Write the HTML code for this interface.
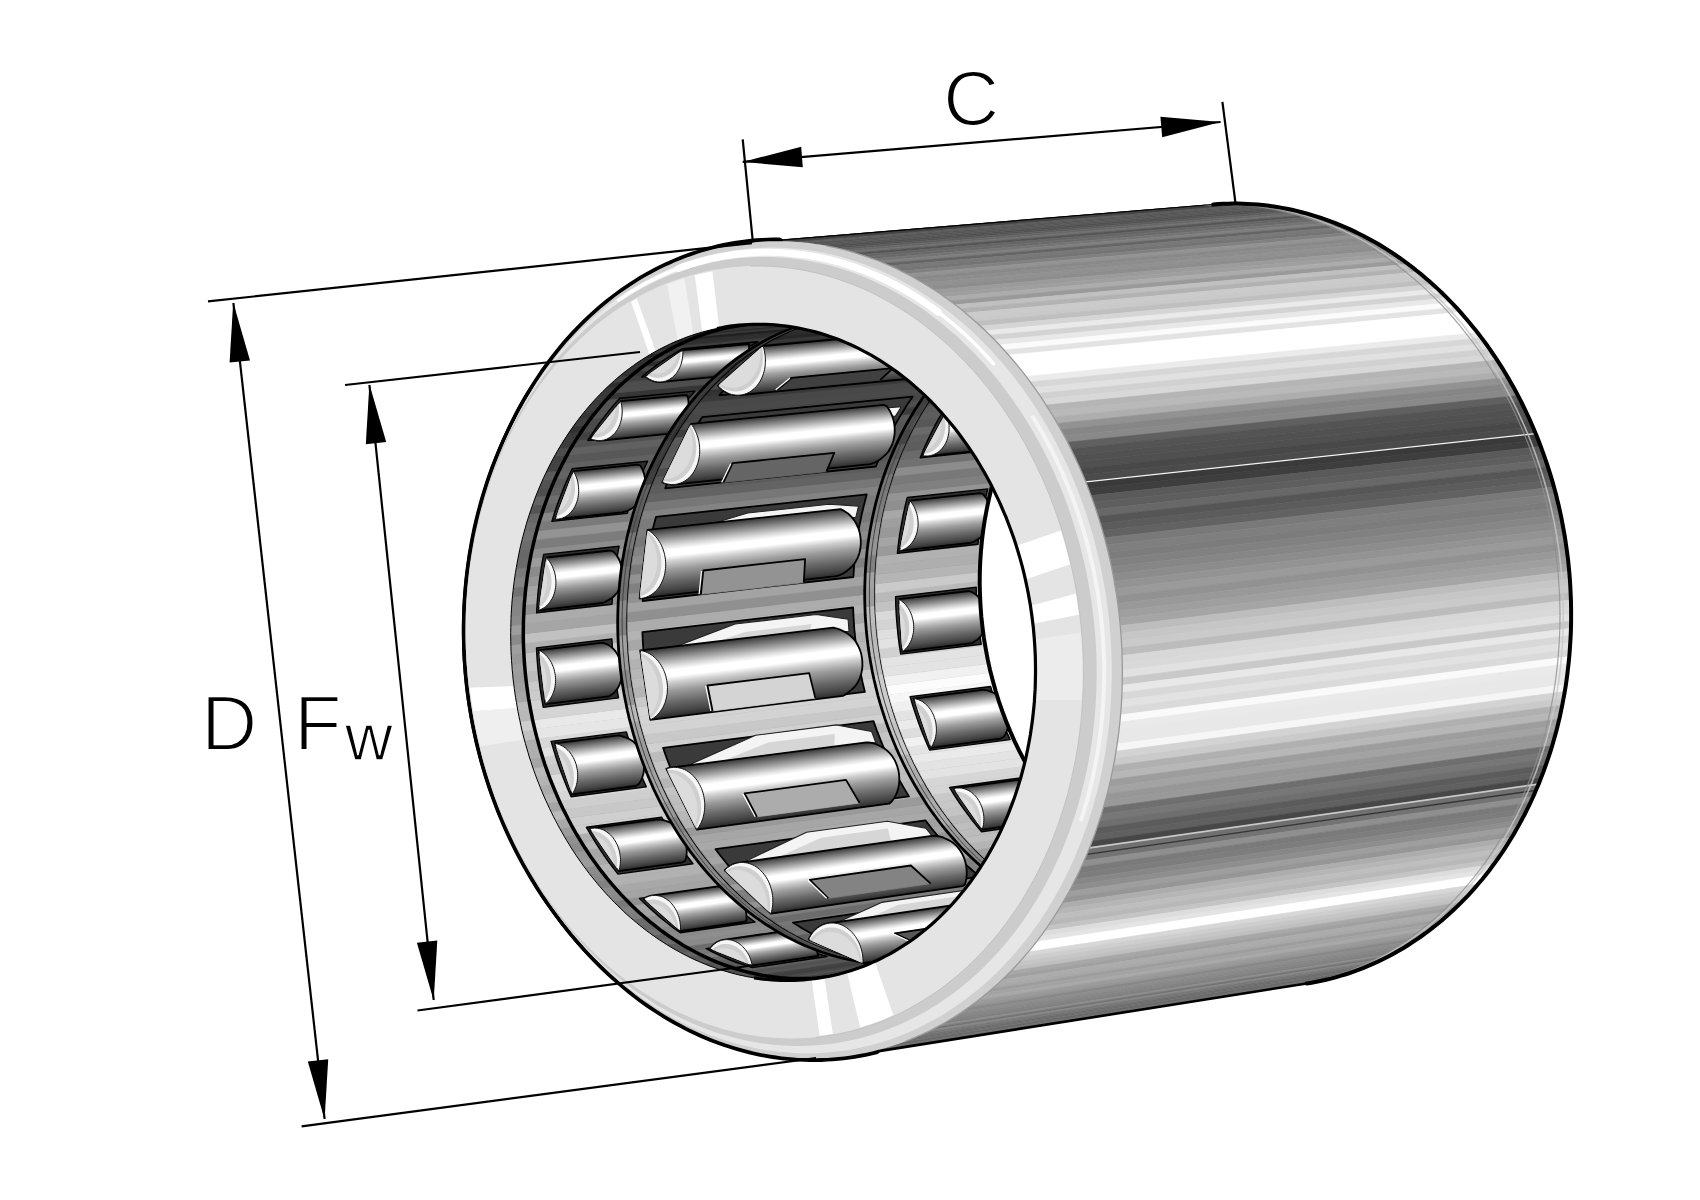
<!DOCTYPE html>
<html><head><meta charset="utf-8"><title>Drawn cup roller clutch</title>
<style>html,body{margin:0;padding:0;background:#fff}svg{display:block}
.t{font-family:"Liberation Sans",sans-serif;font-size:78px;fill:#000;stroke:#fff;stroke-width:2.2px}</style></head>
<body><svg width="1700" height="1200" viewBox="0 0 1700 1200">
<rect width="1700" height="1200" fill="#fff"/>
<g id="body"><path d="M756.1 242.1 L1213.2 204.5 L1218.9 204.1 L762.0 241.6Z" fill="#4f4f4f" stroke="#4f4f4f" stroke-width="0.7"/><path d="M762.0 241.6 L1218.9 204.1 L1224.7 203.8 L767.8 241.4Z" fill="#404040" stroke="#404040" stroke-width="0.7"/><path d="M767.8 241.4 L1224.7 203.8 L1230.4 203.6 L773.7 241.2Z" fill="#474747" stroke="#474747" stroke-width="0.7"/><path d="M773.7 241.2 L1230.4 203.6 L1236.2 203.6 L779.5 241.2Z" fill="#505050" stroke="#505050" stroke-width="0.7"/><path d="M779.5 241.2 L1236.2 203.6 L1241.9 203.7 L785.4 241.3Z" fill="#414141" stroke="#414141" stroke-width="0.7"/><path d="M785.4 241.3 L1241.9 203.7 L1247.7 203.9 L791.3 241.6Z" fill="#414141" stroke="#414141" stroke-width="0.7"/><path d="M791.3 241.6 L1247.7 203.9 L1253.5 204.3 L797.1 241.9Z" fill="#424242" stroke="#424242" stroke-width="0.7"/><path d="M797.1 241.9 L1253.5 204.3 L1259.2 204.7 L803.0 242.4Z" fill="#5b5b5b" stroke="#5b5b5b" stroke-width="0.7"/><path d="M803.0 242.4 L1259.2 204.7 L1265.0 205.3 L808.9 243.1Z" fill="#5c5c5c" stroke="#5c5c5c" stroke-width="0.7"/><path d="M808.9 243.1 L1265.0 205.3 L1270.8 206.1 L814.8 243.9Z" fill="#555555" stroke="#555555" stroke-width="0.7"/><path d="M814.8 243.9 L1270.8 206.1 L1276.5 206.9 L820.7 244.8Z" fill="#575757" stroke="#575757" stroke-width="0.7"/><path d="M820.7 244.8 L1276.5 206.9 L1282.3 207.9 L826.5 245.8Z" fill="#585858" stroke="#585858" stroke-width="0.7"/><path d="M826.5 245.8 L1282.3 207.9 L1288.0 209.0 L832.4 247.0Z" fill="#515151" stroke="#515151" stroke-width="0.7"/><path d="M832.4 247.0 L1288.0 209.0 L1293.7 210.2 L838.2 248.3Z" fill="#535353" stroke="#535353" stroke-width="0.7"/><path d="M838.2 248.3 L1293.7 210.2 L1299.5 211.6 L844.1 249.7Z" fill="#5d5d5d" stroke="#5d5d5d" stroke-width="0.7"/><path d="M844.1 249.7 L1299.5 211.6 L1305.2 213.1 L849.9 251.2Z" fill="#676767" stroke="#676767" stroke-width="0.7"/><path d="M849.9 251.2 L1305.2 213.1 L1310.9 214.7 L855.7 252.9Z" fill="#707070" stroke="#707070" stroke-width="0.7"/><path d="M855.7 252.9 L1310.9 214.7 L1316.5 216.4 L861.5 254.8Z" fill="#545454" stroke="#545454" stroke-width="0.7"/><path d="M861.5 254.8 L1316.5 216.4 L1322.2 218.3 L867.2 256.7Z" fill="#666666" stroke="#666666" stroke-width="0.7"/><path d="M867.2 256.7 L1322.2 218.3 L1327.8 220.3 L873.0 258.8Z" fill="#6a6a6a" stroke="#6a6a6a" stroke-width="0.7"/><path d="M873.0 258.8 L1327.8 220.3 L1333.4 222.4 L878.7 261.0Z" fill="#757575" stroke="#757575" stroke-width="0.7"/><path d="M878.7 261.0 L1333.4 222.4 L1339.0 224.6 L884.4 263.3Z" fill="#7f7f7f" stroke="#7f7f7f" stroke-width="0.7"/><path d="M884.4 263.3 L1339.0 224.6 L1344.5 226.9 L890.1 265.8Z" fill="#656565" stroke="#656565" stroke-width="0.7"/><path d="M890.1 265.8 L1344.5 226.9 L1350.1 229.4 L895.7 268.4Z" fill="#797979" stroke="#797979" stroke-width="0.7"/><path d="M895.7 268.4 L1350.1 229.4 L1355.5 232.0 L901.3 271.1Z" fill="#747474" stroke="#747474" stroke-width="0.7"/><path d="M901.3 271.1 L1355.5 232.0 L1361.0 234.7 L906.9 273.9Z" fill="#818181" stroke="#818181" stroke-width="0.7"/><path d="M906.9 273.9 L1361.0 234.7 L1366.4 237.5 L912.4 276.9Z" fill="#939393" stroke="#939393" stroke-width="0.7"/><path d="M912.4 276.9 L1366.4 237.5 L1371.8 240.4 L917.9 279.9Z" fill="#898989" stroke="#898989" stroke-width="0.7"/><path d="M917.9 279.9 L1371.8 240.4 L1377.2 243.5 L923.4 283.1Z" fill="#8d8d8d" stroke="#8d8d8d" stroke-width="0.7"/><path d="M923.4 283.1 L1377.2 243.5 L1382.5 246.7 L928.8 286.5Z" fill="#919191" stroke="#919191" stroke-width="0.7"/><path d="M928.8 286.5 L1382.5 246.7 L1387.7 250.0 L934.2 289.9Z" fill="#8d8d8d" stroke="#8d8d8d" stroke-width="0.7"/><path d="M934.2 289.9 L1387.7 250.0 L1393.0 253.4 L939.6 293.5Z" fill="#9b9b9b" stroke="#9b9b9b" stroke-width="0.7"/><path d="M939.6 293.5 L1393.0 253.4 L1398.1 256.9 L944.8 297.1Z" fill="#9f9f9f" stroke="#9f9f9f" stroke-width="0.7"/><path d="M944.8 297.1 L1398.1 256.9 L1403.3 260.5 L950.1 300.9Z" fill="#acacac" stroke="#acacac" stroke-width="0.7"/><path d="M950.1 300.9 L1403.3 260.5 L1408.4 264.2 L955.3 304.8Z" fill="#9a9a9a" stroke="#9a9a9a" stroke-width="0.7"/><path d="M955.3 304.8 L1408.4 264.2 L1413.4 268.1 L960.4 308.9Z" fill="#c0c0c0" stroke="#c0c0c0" stroke-width="0.7"/><path d="M960.4 308.9 L1413.4 268.1 L1418.4 272.0 L965.5 313.0Z" fill="#b2b2b2" stroke="#b2b2b2" stroke-width="0.7"/><path d="M965.5 313.0 L1418.4 272.0 L1423.3 276.1 L970.6 317.3Z" fill="#cbcbcb" stroke="#cbcbcb" stroke-width="0.7"/><path d="M970.6 317.3 L1423.3 276.1 L1428.2 280.3 L975.5 321.6Z" fill="#c9c9c9" stroke="#c9c9c9" stroke-width="0.7"/><path d="M975.5 321.6 L1428.2 280.3 L1433.0 284.5 L980.5 326.1Z" fill="#bfbfbf" stroke="#bfbfbf" stroke-width="0.7"/><path d="M980.5 326.1 L1433.0 284.5 L1437.7 288.9 L985.3 330.7Z" fill="#d5d5d5" stroke="#d5d5d5" stroke-width="0.7"/><path d="M985.3 330.7 L1437.7 288.9 L1442.4 293.4 L990.1 335.3Z" fill="#eaeaea" stroke="#eaeaea" stroke-width="0.7"/><path d="M990.1 335.3 L1442.4 293.4 L1447.0 298.0 L994.9 340.1Z" fill="#d3d3d3" stroke="#d3d3d3" stroke-width="0.7"/><path d="M994.9 340.1 L1447.0 298.0 L1451.6 302.6 L999.5 345.0Z" fill="#e8e8e8" stroke="#e8e8e8" stroke-width="0.7"/><path d="M999.5 345.0 L1451.6 302.6 L1456.1 307.4 L1004.1 350.0Z" fill="#fbfbfb" stroke="#fbfbfb" stroke-width="0.7"/><path d="M1004.1 350.0 L1456.1 307.4 L1460.5 312.3 L1008.7 355.1Z" fill="#e3e3e3" stroke="#e3e3e3" stroke-width="0.7"/><path d="M1008.7 355.1 L1460.5 312.3 L1464.9 317.2 L1013.1 360.3Z" fill="#ffffff" stroke="#ffffff" stroke-width="0.7"/><path d="M1013.1 360.3 L1464.9 317.2 L1469.2 322.3 L1017.5 365.6Z" fill="#ffffff" stroke="#ffffff" stroke-width="0.7"/><path d="M1017.5 365.6 L1469.2 322.3 L1473.4 327.4 L1021.9 371.0Z" fill="#ffffff" stroke="#ffffff" stroke-width="0.7"/><path d="M1021.9 371.0 L1473.4 327.4 L1477.6 332.7 L1026.1 376.4Z" fill="#ffffff" stroke="#ffffff" stroke-width="0.7"/><path d="M1026.1 376.4 L1477.6 332.7 L1481.7 338.0 L1030.3 382.0Z" fill="#ebebeb" stroke="#ebebeb" stroke-width="0.7"/><path d="M1030.3 382.0 L1481.7 338.0 L1485.7 343.4 L1034.4 387.7Z" fill="#d7d7d7" stroke="#d7d7d7" stroke-width="0.7"/><path d="M1034.4 387.7 L1485.7 343.4 L1489.6 348.9 L1038.4 393.4Z" fill="#e1e1e1" stroke="#e1e1e1" stroke-width="0.7"/><path d="M1038.4 393.4 L1489.6 348.9 L1493.4 354.5 L1042.3 399.2Z" fill="#d1d1d1" stroke="#d1d1d1" stroke-width="0.7"/><path d="M1042.3 399.2 L1493.4 354.5 L1497.2 360.1 L1046.2 405.1Z" fill="#d8d8d8" stroke="#d8d8d8" stroke-width="0.7"/><path d="M1046.2 405.1 L1497.2 360.1 L1500.9 365.9 L1050.0 411.1Z" fill="#b5b5b5" stroke="#b5b5b5" stroke-width="0.7"/><path d="M1050.0 411.1 L1500.9 365.9 L1504.5 371.7 L1053.7 417.2Z" fill="#b9b9b9" stroke="#b9b9b9" stroke-width="0.7"/><path d="M1053.7 417.2 L1504.5 371.7 L1508.0 377.6 L1057.3 423.4Z" fill="#aeaeae" stroke="#aeaeae" stroke-width="0.7"/><path d="M1057.3 423.4 L1508.0 377.6 L1511.4 383.5 L1060.8 429.6Z" fill="#929292" stroke="#929292" stroke-width="0.7"/><path d="M1060.8 429.6 L1511.4 383.5 L1514.8 389.5 L1064.2 435.9Z" fill="#868686" stroke="#868686" stroke-width="0.7"/><path d="M1064.2 435.9 L1514.8 389.5 L1518.0 395.6 L1067.6 442.3Z" fill="#898989" stroke="#898989" stroke-width="0.7"/><path d="M1067.6 442.3 L1518.0 395.6 L1521.2 401.8 L1070.8 448.7Z" fill="#606060" stroke="#606060" stroke-width="0.7"/><path d="M1070.8 448.7 L1521.2 401.8 L1524.3 408.0 L1074.0 455.2Z" fill="#545454" stroke="#545454" stroke-width="0.7"/><path d="M1074.0 455.2 L1524.3 408.0 L1527.3 414.3 L1077.1 461.8Z" fill="#515151" stroke="#515151" stroke-width="0.7"/><path d="M1077.1 461.8 L1527.3 414.3 L1530.2 420.7 L1080.0 468.4Z" fill="#505050" stroke="#505050" stroke-width="0.7"/><path d="M1080.0 468.4 L1530.2 420.7 L1533.0 427.1 L1082.9 475.1Z" fill="#484848" stroke="#484848" stroke-width="0.7"/><path d="M1082.9 475.1 L1533.0 427.1 L1535.7 433.6 L1085.7 481.9Z" fill="#4b4b4b" stroke="#4b4b4b" stroke-width="0.7"/><path d="M1085.7 481.9 L1535.7 433.6 L1538.3 440.1 L1088.4 488.7Z" fill="#3a3a3a" stroke="#3a3a3a" stroke-width="0.7"/><path d="M1088.4 488.7 L1538.3 440.1 L1540.9 446.6 L1091.0 495.6Z" fill="#3e3e3e" stroke="#3e3e3e" stroke-width="0.7"/><path d="M1091.0 495.6 L1540.9 446.6 L1543.3 453.3 L1093.5 502.5Z" fill="#5a5a5a" stroke="#5a5a5a" stroke-width="0.7"/><path d="M1093.5 502.5 L1543.3 453.3 L1545.6 459.9 L1095.9 509.5Z" fill="#5e5e5e" stroke="#5e5e5e" stroke-width="0.7"/><path d="M1095.9 509.5 L1545.6 459.9 L1547.9 466.7 L1098.2 516.5Z" fill="#686868" stroke="#686868" stroke-width="0.7"/><path d="M1098.2 516.5 L1547.9 466.7 L1550.0 473.4 L1100.4 523.5Z" fill="#565656" stroke="#565656" stroke-width="0.7"/><path d="M1100.4 523.5 L1550.0 473.4 L1552.0 480.2 L1102.5 530.6Z" fill="#5c5c5c" stroke="#5c5c5c" stroke-width="0.7"/><path d="M1102.5 530.6 L1552.0 480.2 L1554.0 487.1 L1104.5 537.8Z" fill="#626262" stroke="#626262" stroke-width="0.7"/><path d="M1104.5 537.8 L1554.0 487.1 L1555.8 493.9 L1106.4 545.0Z" fill="#797979" stroke="#797979" stroke-width="0.7"/><path d="M1106.4 545.0 L1555.8 493.9 L1557.5 500.8 L1108.2 552.2Z" fill="#7f7f7f" stroke="#7f7f7f" stroke-width="0.7"/><path d="M1108.2 552.2 L1557.5 500.8 L1559.2 507.8 L1109.9 559.4Z" fill="#7c7c7c" stroke="#7c7c7c" stroke-width="0.7"/><path d="M1109.9 559.4 L1559.2 507.8 L1560.7 514.8 L1111.4 566.7Z" fill="#818181" stroke="#818181" stroke-width="0.7"/><path d="M1111.4 566.7 L1560.7 514.8 L1562.1 521.7 L1112.9 574.0Z" fill="#868686" stroke="#868686" stroke-width="0.7"/><path d="M1112.9 574.0 L1562.1 521.7 L1563.5 528.8 L1114.3 581.4Z" fill="#8c8c8c" stroke="#8c8c8c" stroke-width="0.7"/><path d="M1114.3 581.4 L1563.5 528.8 L1564.7 535.8 L1115.6 588.7Z" fill="#939393" stroke="#939393" stroke-width="0.7"/><path d="M1115.6 588.7 L1564.7 535.8 L1565.8 542.9 L1116.7 596.1Z" fill="#9a9a9a" stroke="#9a9a9a" stroke-width="0.7"/><path d="M1116.7 596.1 L1565.8 542.9 L1566.8 550.0 L1117.8 603.5Z" fill="#929292" stroke="#929292" stroke-width="0.7"/><path d="M1117.8 603.5 L1566.8 550.0 L1567.7 557.1 L1118.7 610.9Z" fill="#999999" stroke="#999999" stroke-width="0.7"/><path d="M1118.7 610.9 L1567.7 557.1 L1568.5 564.2 L1119.5 618.3Z" fill="#9f9f9f" stroke="#9f9f9f" stroke-width="0.7"/><path d="M1119.5 618.3 L1568.5 564.2 L1569.2 571.3 L1120.3 625.8Z" fill="#a5a5a5" stroke="#a5a5a5" stroke-width="0.7"/><path d="M1120.3 625.8 L1569.2 571.3 L1569.8 578.4 L1120.9 633.2Z" fill="#bdbdbd" stroke="#bdbdbd" stroke-width="0.7"/><path d="M1120.9 633.2 L1569.8 578.4 L1570.3 585.5 L1121.4 640.7Z" fill="#c6c6c6" stroke="#c6c6c6" stroke-width="0.7"/><path d="M1121.4 640.7 L1570.3 585.5 L1570.6 592.7 L1121.8 648.1Z" fill="#cacaca" stroke="#cacaca" stroke-width="0.7"/><path d="M1121.8 648.1 L1570.6 592.7 L1570.9 599.8 L1122.1 655.6Z" fill="#bcbcbc" stroke="#bcbcbc" stroke-width="0.7"/><path d="M1122.1 655.6 L1570.9 599.8 L1571.1 606.9 L1122.3 663.0Z" fill="#d7d7d7" stroke="#d7d7d7" stroke-width="0.7"/><path d="M1122.3 663.0 L1571.1 606.9 L1571.1 614.1 L1122.4 670.4Z" fill="#d9d9d9" stroke="#d9d9d9" stroke-width="0.7"/><path d="M1122.4 670.4 L1571.1 614.1 L1571.1 621.2 L1122.3 677.9Z" fill="#e1e1e1" stroke="#e1e1e1" stroke-width="0.7"/><path d="M1122.3 677.9 L1571.1 621.2 L1570.9 628.3 L1122.2 685.3Z" fill="#c9c9c9" stroke="#c9c9c9" stroke-width="0.7"/><path d="M1122.2 685.3 L1570.9 628.3 L1570.7 635.4 L1121.9 692.7Z" fill="#e8e8e8" stroke="#e8e8e8" stroke-width="0.7"/><path d="M1121.9 692.7 L1570.7 635.4 L1570.3 642.5 L1121.6 700.1Z" fill="#d8d8d8" stroke="#d8d8d8" stroke-width="0.7"/><path d="M1121.6 700.1 L1570.3 642.5 L1569.8 649.6 L1121.1 707.5Z" fill="#e2e2e2" stroke="#e2e2e2" stroke-width="0.7"/><path d="M1121.1 707.5 L1569.8 649.6 L1569.2 656.6 L1120.5 714.9Z" fill="#dadada" stroke="#dadada" stroke-width="0.7"/><path d="M1120.5 714.9 L1569.2 656.6 L1568.6 663.7 L1119.9 722.2Z" fill="#fafafa" stroke="#fafafa" stroke-width="0.7"/><path d="M1119.9 722.2 L1568.6 663.7 L1567.8 670.7 L1119.1 729.5Z" fill="#eaeaea" stroke="#eaeaea" stroke-width="0.7"/><path d="M1119.1 729.5 L1567.8 670.7 L1566.9 677.7 L1118.2 736.8Z" fill="#e8e8e8" stroke="#e8e8e8" stroke-width="0.7"/><path d="M1118.2 736.8 L1566.9 677.7 L1565.9 684.6 L1117.2 744.1Z" fill="#e8e8e8" stroke="#e8e8e8" stroke-width="0.7"/><path d="M1117.2 744.1 L1565.9 684.6 L1564.8 691.5 L1116.1 751.3Z" fill="#f6f6f6" stroke="#f6f6f6" stroke-width="0.7"/><path d="M1116.1 751.3 L1564.8 691.5 L1563.5 698.4 L1114.8 758.5Z" fill="#d3d3d3" stroke="#d3d3d3" stroke-width="0.7"/><path d="M1114.8 758.5 L1563.5 698.4 L1562.2 705.3 L1113.5 765.7Z" fill="#cacaca" stroke="#cacaca" stroke-width="0.7"/><path d="M1113.5 765.7 L1562.2 705.3 L1560.8 712.1 L1112.1 772.8Z" fill="#b0b0b0" stroke="#b0b0b0" stroke-width="0.7"/><path d="M1112.1 772.8 L1560.8 712.1 L1559.3 718.9 L1110.6 779.8Z" fill="#b7b7b7" stroke="#b7b7b7" stroke-width="0.7"/><path d="M1110.6 779.8 L1559.3 718.9 L1557.7 725.6 L1108.9 786.9Z" fill="#9d9d9d" stroke="#9d9d9d" stroke-width="0.7"/><path d="M1108.9 786.9 L1557.7 725.6 L1555.9 732.3 L1107.2 793.9Z" fill="#a3a3a3" stroke="#a3a3a3" stroke-width="0.7"/><path d="M1107.2 793.9 L1555.9 732.3 L1554.1 739.0 L1105.3 800.8Z" fill="#979797" stroke="#979797" stroke-width="0.7"/><path d="M1105.3 800.8 L1554.1 739.0 L1552.2 745.6 L1103.4 807.7Z" fill="#999999" stroke="#999999" stroke-width="0.7"/><path d="M1103.4 807.7 L1552.2 745.6 L1550.2 752.1 L1101.3 814.5Z" fill="#6f6f6f" stroke="#6f6f6f" stroke-width="0.7"/><path d="M1101.3 814.5 L1550.2 752.1 L1548.0 758.6 L1099.2 821.3Z" fill="#777777" stroke="#777777" stroke-width="0.7"/><path d="M1099.2 821.3 L1548.0 758.6 L1545.8 765.1 L1096.9 828.0Z" fill="#6f6f6f" stroke="#6f6f6f" stroke-width="0.7"/><path d="M1096.9 828.0 L1545.8 765.1 L1543.5 771.5 L1094.6 834.7Z" fill="#5c5c5c" stroke="#5c5c5c" stroke-width="0.7"/><path d="M1094.6 834.7 L1543.5 771.5 L1541.1 777.8 L1092.1 841.3Z" fill="#606060" stroke="#606060" stroke-width="0.7"/><path d="M1092.1 841.3 L1541.1 777.8 L1538.6 784.1 L1089.6 847.8Z" fill="#474747" stroke="#474747" stroke-width="0.7"/><path d="M1089.6 847.8 L1538.6 784.1 L1536.0 790.3 L1086.9 854.3Z" fill="#707070" stroke="#707070" stroke-width="0.7"/><path d="M1086.9 854.3 L1536.0 790.3 L1533.3 796.4 L1084.2 860.7Z" fill="#737373" stroke="#737373" stroke-width="0.7"/><path d="M1084.2 860.7 L1533.3 796.4 L1530.5 802.5 L1081.4 867.0Z" fill="#8f8f8f" stroke="#8f8f8f" stroke-width="0.7"/><path d="M1081.4 867.0 L1530.5 802.5 L1527.6 808.5 L1078.4 873.2Z" fill="#7a7a7a" stroke="#7a7a7a" stroke-width="0.7"/><path d="M1078.4 873.2 L1527.6 808.5 L1524.6 814.4 L1075.4 879.4Z" fill="#7d7d7d" stroke="#7d7d7d" stroke-width="0.7"/><path d="M1075.4 879.4 L1524.6 814.4 L1521.5 820.3 L1072.3 885.5Z" fill="#878787" stroke="#878787" stroke-width="0.7"/><path d="M1072.3 885.5 L1521.5 820.3 L1518.4 826.0 L1069.1 891.5Z" fill="#8e8e8e" stroke="#8e8e8e" stroke-width="0.7"/><path d="M1069.1 891.5 L1518.4 826.0 L1515.1 831.7 L1065.8 897.5Z" fill="#9e9e9e" stroke="#9e9e9e" stroke-width="0.7"/><path d="M1065.8 897.5 L1515.1 831.7 L1511.8 837.4 L1062.4 903.3Z" fill="#969696" stroke="#969696" stroke-width="0.7"/><path d="M1062.4 903.3 L1511.8 837.4 L1508.4 842.9 L1059.0 909.1Z" fill="#adadad" stroke="#adadad" stroke-width="0.7"/><path d="M1059.0 909.1 L1508.4 842.9 L1504.9 848.4 L1055.4 914.8Z" fill="#b6b6b6" stroke="#b6b6b6" stroke-width="0.7"/><path d="M1055.4 914.8 L1504.9 848.4 L1501.3 853.7 L1051.8 920.4Z" fill="#bebebe" stroke="#bebebe" stroke-width="0.7"/><path d="M1051.8 920.4 L1501.3 853.7 L1497.6 859.0 L1048.0 925.9Z" fill="#b8b8b8" stroke="#b8b8b8" stroke-width="0.7"/><path d="M1048.0 925.9 L1497.6 859.0 L1493.9 864.2 L1044.2 931.3Z" fill="#c4c4c4" stroke="#c4c4c4" stroke-width="0.7"/><path d="M1044.2 931.3 L1493.9 864.2 L1490.1 869.3 L1040.3 936.6Z" fill="#dddddd" stroke="#dddddd" stroke-width="0.7"/><path d="M1040.3 936.6 L1490.1 869.3 L1486.2 874.4 L1036.4 941.9Z" fill="#e4e4e4" stroke="#e4e4e4" stroke-width="0.7"/><path d="M1036.4 941.9 L1486.2 874.4 L1482.2 879.3 L1032.3 947.0Z" fill="#ffffff" stroke="#ffffff" stroke-width="0.7"/><path d="M1032.3 947.0 L1482.2 879.3 L1478.1 884.1 L1028.2 952.0Z" fill="#ffffff" stroke="#ffffff" stroke-width="0.7"/><path d="M1028.2 952.0 L1478.1 884.1 L1474.0 888.8 L1024.0 956.9Z" fill="#d7d7d7" stroke="#d7d7d7" stroke-width="0.7"/><path d="M1024.0 956.9 L1474.0 888.8 L1469.8 893.5 L1019.7 961.8Z" fill="#cecece" stroke="#cecece" stroke-width="0.7"/><path d="M1019.7 961.8 L1469.8 893.5 L1465.6 898.0 L1015.4 966.5Z" fill="#c6c6c6" stroke="#c6c6c6" stroke-width="0.7"/><path d="M1015.4 966.5 L1465.6 898.0 L1461.2 902.5 L1011.0 971.1Z" fill="#bfbfbf" stroke="#bfbfbf" stroke-width="0.7"/><path d="M1011.0 971.1 L1461.2 902.5 L1456.8 906.8 L1006.5 975.6Z" fill="#a7a7a7" stroke="#a7a7a7" stroke-width="0.7"/><path d="M1006.5 975.6 L1456.8 906.8 L1452.3 911.0 L1001.9 980.0Z" fill="#a0a0a0" stroke="#a0a0a0" stroke-width="0.7"/><path d="M1001.9 980.0 L1452.3 911.0 L1447.8 915.2 L997.3 984.3Z" fill="#acacac" stroke="#acacac" stroke-width="0.7"/><path d="M997.3 984.3 L1447.8 915.2 L1443.2 919.2 L992.6 988.5Z" fill="#a9a9a9" stroke="#a9a9a9" stroke-width="0.7"/><path d="M992.6 988.5 L1443.2 919.2 L1438.5 923.1 L987.9 992.6Z" fill="#9d9d9d" stroke="#9d9d9d" stroke-width="0.7"/><path d="M987.9 992.6 L1438.5 923.1 L1433.8 926.9 L983.1 996.5Z" fill="#a3a3a3" stroke="#a3a3a3" stroke-width="0.7"/><path d="M983.1 996.5 L1433.8 926.9 L1429.0 930.6 L978.2 1000.4Z" fill="#a8a8a8" stroke="#a8a8a8" stroke-width="0.7"/><path d="M978.2 1000.4 L1429.0 930.6 L1424.2 934.2 L973.3 1004.1Z" fill="#9b9b9b" stroke="#9b9b9b" stroke-width="0.7"/><path d="M973.3 1004.1 L1424.2 934.2 L1419.3 937.7 L968.3 1007.7Z" fill="#969696" stroke="#969696" stroke-width="0.7"/><path d="M968.3 1007.7 L1419.3 937.7 L1414.3 941.1 L963.3 1011.2Z" fill="#888888" stroke="#888888" stroke-width="0.7"/><path d="M963.3 1011.2 L1414.3 941.1 L1409.3 944.3 L958.2 1014.6Z" fill="#8d8d8d" stroke="#8d8d8d" stroke-width="0.7"/><path d="M958.2 1014.6 L1409.3 944.3 L1404.3 947.5 L953.0 1017.9Z" fill="#888888" stroke="#888888" stroke-width="0.7"/><path d="M953.0 1017.9 L1404.3 947.5 L1399.2 950.5 L947.8 1021.0Z" fill="#848484" stroke="#848484" stroke-width="0.7"/><path d="M947.8 1021.0 L1399.2 950.5 L1394.0 953.4 L942.6 1024.0Z" fill="#808080" stroke="#808080" stroke-width="0.7"/><path d="M942.6 1024.0 L1394.0 953.4 L1388.8 956.2 L937.3 1026.9Z" fill="#8c8c8c" stroke="#8c8c8c" stroke-width="0.7"/><path d="M937.3 1026.9 L1388.8 956.2 L1383.6 958.9 L932.0 1029.7Z" fill="#737373" stroke="#737373" stroke-width="0.7"/><path d="M932.0 1029.7 L1383.6 958.9 L1378.3 961.4 L926.6 1032.3Z" fill="#888888" stroke="#888888" stroke-width="0.7"/><path d="M926.6 1032.3 L1378.3 961.4 L1373.0 963.8 L921.2 1034.8Z" fill="#787878" stroke="#787878" stroke-width="0.7"/><path d="M921.2 1034.8 L1373.0 963.8 L1367.7 966.2 L915.7 1037.2Z" fill="#767676" stroke="#767676" stroke-width="0.7"/><path d="M915.7 1037.2 L1367.7 966.2 L1362.3 968.4 L910.2 1039.5Z" fill="#6c6c6c" stroke="#6c6c6c" stroke-width="0.7"/><path d="M910.2 1039.5 L1362.3 968.4 L1356.8 970.4 L904.7 1041.6Z" fill="#6b6b6b" stroke="#6b6b6b" stroke-width="0.7"/><path d="M904.7 1041.6 L1356.8 970.4 L1351.4 972.4 L899.1 1043.6Z" fill="#727272" stroke="#727272" stroke-width="0.7"/><path d="M899.1 1043.6 L1351.4 972.4 L1345.9 974.2 L893.5 1045.5Z" fill="#616161" stroke="#616161" stroke-width="0.7"/><path d="M893.5 1045.5 L1345.9 974.2 L1340.4 975.9 L887.9 1047.3Z" fill="#707070" stroke="#707070" stroke-width="0.7"/><path d="M887.9 1047.3 L1340.4 975.9 L1334.8 977.5 L882.3 1048.9Z" fill="#707070" stroke="#707070" stroke-width="0.7"/><path d="M882.3 1048.9 L1334.8 977.5 L1329.2 978.9 L876.6 1050.4Z" fill="#707070" stroke="#707070" stroke-width="0.7"/><path d="M876.6 1050.4 L1329.2 978.9 L1323.6 980.3 L870.9 1051.8Z" fill="#606060" stroke="#606060" stroke-width="0.7"/><path d="M870.9 1051.8 L1323.6 980.3 L1318.0 981.5 L865.1 1053.0Z" fill="#707070" stroke="#707070" stroke-width="0.7"/><path d="M865.1 1053.0 L1318.0 981.5 L1312.4 982.6 L859.4 1054.1Z" fill="#787878" stroke="#787878" stroke-width="0.7"/><path d="M859.4 1054.1 L1312.4 982.6 L1306.7 983.5 L853.6 1055.1Z" fill="#707070" stroke="#707070" stroke-width="0.7"/></g>
<path d="M1085.7 481.9 L1535.7 433.6" fill="none" stroke="#f4f4f4" stroke-width="1.2"/>
<path d="M1089.6 847.8 L1538.6 784.1" fill="none" stroke="#c8c8c8" stroke-width="1.8"/>
<path d="M1086.9 854.3 L1536.0 790.3" fill="none" stroke="#333" stroke-width="1.3"/>
<path d="M1205.3 205.1 L1213.4 204.6 L1221.6 204.3 L1229.9 204.3 L1238.1 204.5 L1246.3 205.0 L1254.6 205.7 L1262.8 206.7 L1271.0 208.0 L1279.3 209.5 L1287.4 211.3 L1295.6 213.3 L1303.7 215.6 L1311.8 218.1 L1319.9 220.9 L1327.9 224.0 L1335.8 227.3 L1343.7 230.8 L1351.5 234.6 L1359.3 238.6 L1367.0 242.9 L1374.6 247.4 L1382.1 252.1 L1389.5 257.1 L1396.8 262.3 L1404.1 267.7 L1411.2 273.3 L1418.2 279.2 L1425.1 285.3 L1431.9 291.5 L1438.5 298.0 L1445.0 304.7 L1451.4 311.6 L1457.7 318.7 L1463.8 326.0 L1469.7 333.4 L1475.5 341.1 L1481.2 348.9 L1486.7 356.9 L1492.0 365.0 L1497.1 373.3 L1502.1 381.7 L1506.9 390.3 L1511.6 399.1 L1516.0 408.0 L1520.3 417.0 L1524.4 426.1 L1528.3 435.3 L1532.0 444.7 L1535.5 454.1 L1538.8 463.7 L1541.9 473.3 L1544.8 483.0 L1547.5 492.9 L1550.0 502.7 L1552.2 512.7 L1554.3 522.7 L1556.2 532.7 L1557.8 542.8 L1559.3 552.9 L1560.5 563.1 L1561.5 573.2 L1562.3 583.4 L1562.8 593.6 L1563.2 603.8 L1563.3 614.0 L1563.2 624.2 L1562.9 634.4 L1562.4 644.5 L1561.7 654.6 L1560.7 664.7 L1559.6 674.7 L1558.2 684.7 L1556.6 694.6 L1554.8 704.4 L1552.8 714.1 L1550.6 723.8 L1548.1 733.4 L1545.5 742.9 L1542.6 752.3 L1539.6 761.6 L1536.4 770.8 L1532.9 779.8 L1529.3 788.7 L1525.4 797.5 L1521.4 806.2 L1517.2 814.7 L1512.8 823.0 L1508.3 831.3 L1503.5 839.3 L1498.6 847.2 L1493.5 854.9 L1488.2 862.4 L1482.8 869.8 L1477.2 876.9 L1471.5 883.9 L1465.6 890.7 L1459.6 897.3 L1453.4 903.7 L1447.1 909.8 L1440.6 915.8 L1434.0 921.5 L1427.3 927.1 L1420.5 932.4 L1413.5 937.4 L1406.5 942.3 L1399.3 946.9 L1392.1 951.3 L1384.7 955.4 L1377.2 959.3 L1369.7 963.0 L1362.1 966.4 L1354.4 969.6 L1346.6 972.5 L1338.8 975.2 L1330.9 977.6 L1323.0 979.8 L1315.0 981.7 L1306.9 983.4 L1298.8 984.8" fill="none" stroke="#c8c8c8" stroke-width="1.6" opacity="0.8"/>
<path d="M1201.8 205.4 L1210.0 204.9 L1218.2 204.6 L1226.5 204.5 L1234.7 204.8 L1242.9 205.3 L1251.2 206.0 L1259.4 207.0 L1267.6 208.3 L1275.8 209.8 L1284.0 211.6 L1292.2 213.6 L1300.3 215.9 L1308.4 218.4 L1316.5 221.2 L1324.5 224.3 L1332.4 227.6 L1340.3 231.1 L1348.2 234.9 L1355.9 238.9 L1363.6 243.2 L1371.2 247.7 L1378.7 252.4 L1386.1 257.4 L1393.5 262.6 L1400.7 268.0 L1407.8 273.6 L1414.8 279.5 L1421.7 285.6 L1428.5 291.9 L1435.1 298.4 L1441.7 305.0 L1448.0 311.9 L1454.3 319.0 L1460.4 326.3 L1466.3 333.8 L1472.2 341.4 L1477.8 349.2 L1483.3 357.2 L1488.6 365.3 L1493.8 373.6 L1498.8 382.1 L1503.6 390.7 L1508.2 399.4 L1512.7 408.3 L1516.9 417.3 L1521.0 426.4 L1524.9 435.7 L1528.6 445.0 L1532.1 454.5 L1535.4 464.1 L1538.5 473.7 L1541.4 483.4 L1544.1 493.2 L1546.6 503.1 L1548.9 513.1 L1551.0 523.0 L1552.8 533.1 L1554.5 543.2 L1555.9 553.3 L1557.1 563.5 L1558.1 573.7 L1558.9 583.9 L1559.5 594.1 L1559.8 604.3 L1560.0 614.5 L1559.9 624.6 L1559.6 634.8 L1559.1 645.0 L1558.3 655.1 L1557.4 665.1 L1556.2 675.1 L1554.9 685.1 L1553.3 695.0 L1551.5 704.8 L1549.4 714.6 L1547.2 724.3 L1544.8 733.9 L1542.1 743.4 L1539.3 752.8 L1536.2 762.0 L1533.0 771.2 L1529.6 780.3 L1525.9 789.2 L1522.1 798.0 L1518.1 806.7 L1513.9 815.2 L1509.5 823.5 L1504.9 831.7 L1500.1 839.8 L1495.2 847.7 L1490.1 855.4 L1484.9 862.9 L1479.4 870.3 L1473.9 877.4 L1468.1 884.4 L1462.2 891.2 L1456.2 897.8 L1450.0 904.2 L1443.7 910.4 L1437.2 916.3 L1430.7 922.1 L1423.9 927.6 L1417.1 932.9 L1410.2 938.0 L1403.1 942.8 L1395.9 947.4 L1388.7 951.8 L1381.3 956.0 L1373.9 959.9 L1366.3 963.5 L1358.7 967.0 L1351.0 970.1 L1343.2 973.1 L1335.4 975.7 L1327.5 978.1 L1319.6 980.3 L1311.6 982.2 L1303.5 983.9 L1295.5 985.3" fill="none" stroke="#909090" stroke-width="1.2" opacity="0.8"/>
<path d="M1213.2 204.5 L1218.1 204.1 L1223.0 203.8 L1227.9 203.7 L1232.8 203.6 L1237.7 203.6 L1242.7 203.7 L1247.6 203.9 L1252.5 204.2 L1257.4 204.6 L1262.4 205.1 L1267.3 205.6 L1272.2 206.3 L1277.1 207.0 L1282.0 207.9 L1286.9 208.8 L1291.8 209.8 L1296.7 210.9 L1301.6 212.2 L1306.5 213.4 L1311.3 214.8 L1316.2 216.3 L1321.0 217.9 L1325.8 219.6 L1330.6 221.3 L1335.4 223.1 L1340.2 225.1 L1344.9 227.1 L1349.6 229.2 L1354.3 231.4 L1359.0 233.7 L1363.6 236.0 L1368.2 238.5 L1372.8 241.0 L1377.4 243.6 L1381.9 246.3 L1386.5 249.1 L1390.9 252.0 L1395.4 255.0 L1399.8 258.0 L1404.1 261.1 L1408.5 264.3 L1412.8 267.6 L1417.0 271.0 L1421.3 274.4 L1425.4 277.9 L1429.6 281.5 L1433.7 285.2 L1437.7 288.9 L1441.8 292.8 L1445.7 296.6 L1449.6 300.6 L1453.5 304.6 L1457.3 308.7 L1461.1 312.9 L1464.8 317.2 L1468.5 321.5 L1472.1 325.9 L1475.7 330.3 L1479.2 334.8 L1482.7 339.4 L1486.1 344.0 L1489.4 348.7 L1492.7 353.5 L1496.0 358.3 L1499.1 363.1 L1502.3 368.1 L1505.3 373.1 L1508.3 378.1 L1511.2 383.2 L1514.1 388.3 L1516.9 393.5 L1519.7 398.8 L1522.3 404.0 L1524.9 409.4 L1527.5 414.8 L1530.0 420.2 L1532.4 425.7 L1534.7 431.2 L1537.0 436.7 L1539.2 442.3 L1541.3 447.9 L1543.4 453.6 L1545.4 459.3 L1547.3 465.0 L1549.2 470.8 L1551.0 476.6 L1552.7 482.4 L1554.3 488.3 L1555.9 494.1 L1557.3 500.0 L1558.8 506.0 L1560.1 511.9 L1561.4 517.9 L1562.5 523.9 L1563.6 529.9 L1564.7 535.9 L1565.6 541.9 L1566.5 548.0 L1567.3 554.0 L1568.1 560.1 L1568.7 566.2 L1569.3 572.2 L1569.8 578.3 L1570.2 584.4 L1570.5 590.5 L1570.8 596.6 L1571.0 602.7 L1571.1 608.8 L1571.1 614.9 L1571.1 621.0 L1571.0 627.1 L1570.8 633.1 L1570.5 639.2 L1570.1 645.2 L1569.7 651.3 L1569.2 657.3 L1568.6 663.3 L1567.9 669.3 L1567.2 675.3 L1566.4 681.2 L1565.5 687.2 L1564.5 693.1 L1563.4 699.0 L1562.3 704.8 L1561.1 710.7 L1559.9 716.5 L1558.5 722.2 L1557.1 728.0 L1555.6 733.7 L1554.0 739.4 L1552.4 745.0 L1550.7 750.6 L1548.9 756.2 L1547.0 761.7 L1545.1 767.2 L1543.1 772.6 L1541.0 778.0 L1538.9 783.4 L1536.6 788.7 L1534.4 793.9 L1532.0 799.2 L1529.6 804.3 L1527.1 809.4 L1524.6 814.5 L1521.9 819.5 L1519.3 824.4 L1516.5 829.3 L1513.7 834.2 L1510.8 838.9 L1507.9 843.7 L1504.9 848.3 L1501.9 852.9 L1498.7 857.5 L1495.6 861.9 L1492.3 866.3 L1489.1 870.7 L1485.7 875.0 L1482.3 879.2 L1478.8 883.3 L1475.3 887.4 L1471.8 891.4 L1468.2 895.3 L1464.5 899.1 L1460.8 902.9 L1457.0 906.6 L1453.2 910.2 L1449.3 913.8 L1445.4 917.3 L1441.5 920.7 L1437.5 924.0 L1433.4 927.2 L1429.3 930.4 L1425.2 933.5 L1421.0 936.5 L1416.8 939.4 L1412.6 942.2 L1408.3 945.0 L1404.0 947.7 L1399.6 950.2 L1395.2 952.7 L1390.8 955.2 L1386.3 957.5 L1381.9 959.7 L1377.3 961.9 L1372.8 963.9 L1368.2 965.9 L1363.6 967.8 L1359.0 969.6 L1354.3 971.3 L1349.7 973.0 L1345.0 974.5 L1340.3 975.9 L1335.5 977.3 L1330.8 978.6 L1326.0 979.7 L1321.2 980.8 L1316.4 981.8 L1311.6 982.7 L1306.7 983.5" fill="none" stroke="#000" stroke-width="4" stroke-linecap="round"/>
<path d="M756.1 242.1 L1213.2 204.5" fill="none" stroke="#000" stroke-width="1.2"/>
<path d="M853.6 1055.1 L1306.7 983.5" fill="none" stroke="#000" stroke-width="2.6"/>
<path d="M876.0 1050.6 L870.6 1051.9 L865.2 1053.0 L859.7 1054.1 L854.3 1055.0 L848.8 1055.8 L843.3 1056.5 L837.8 1057.1 L832.3 1057.6 L826.8 1057.9 L821.3 1058.2 L815.8 1058.3 L810.2 1058.3 L804.7 1058.1 L799.2 1057.9 L793.6 1057.6 L788.1 1057.1 L782.6 1056.5 L777.0 1055.8 L771.5 1055.0 L766.0 1054.0 L760.5 1053.0 L755.0 1051.8 L749.6 1050.6 L744.1 1049.2 L738.7 1047.7 L733.2 1046.0 L727.8 1044.3 L722.4 1042.5 L717.1 1040.5 L711.7 1038.5 L706.4 1036.3 L701.1 1034.0 L695.9 1031.6 L690.6 1029.1 L685.4 1026.5 L680.3 1023.8 L675.1 1021.0 L670.0 1018.1 L665.0 1015.0 L660.0 1011.9 L655.0 1008.7 L650.0 1005.4 L645.1 1001.9 L640.3 998.4 L635.5 994.8 L630.7 991.1 L626.0 987.2 L621.3 983.3 L616.7 979.3 L612.1 975.2 L607.6 971.0 L603.1 966.8 L598.7 962.4 L594.4 958.0 L590.1 953.4 L585.8 948.8 L581.7 944.1 L577.5 939.3 L573.5 934.5 L569.5 929.5 L565.6 924.5 L561.7 919.4 L557.9 914.2 L554.2 909.0 L550.5 903.7 L546.9 898.3 L543.4 892.8 L539.9 887.3 L536.6 881.7 L533.3 876.1 L530.0 870.4 L526.9 864.6 L523.8 858.8 L520.8 852.9 L517.8 846.9 L515.0 840.9 L512.2 834.9 L509.5 828.8 L506.9 822.6 L504.4 816.4 L501.9 810.2 L499.5 803.9 L497.2 797.5 L495.0 791.2 L492.9 784.7 L490.9 778.3 L488.9 771.8 L487.1 765.3 L485.3 758.7 L483.6 752.2 L482.0 745.6 L480.4 738.9 L479.0 732.3 L477.7 725.6 L476.4 718.9 L475.2 712.1 L474.2 705.4 L473.2 698.7 L472.3 691.9 L471.4 685.1 L470.7 678.3 L470.1 671.5 L469.5 664.7 L469.1 657.9 L468.7 651.1 L468.5 644.3 L468.3 637.5 L468.2 630.7 L468.2 623.9 L468.3 617.1 L468.5 610.3 L468.8 603.5 L469.1 596.7 L469.6 590.0 L470.1 583.3 L470.8 576.5 L471.5 569.9 L472.3 563.2 L473.2 556.5 L474.2 549.9 L475.3 543.3 L476.5 536.7 L477.7 530.2 L479.1 523.7 L480.5 517.2 L482.1 510.8 L483.7 504.4 L485.4 498.0 L487.2 491.7 L489.1 485.5 L491.0 479.2 L493.1 473.0 L495.2 466.9 L497.4 460.8 L499.7 454.8 L502.1 448.8 L504.6 442.9 L507.1 437.0 L509.8 431.2 L512.5 425.5 L515.3 419.8 L518.1 414.2 L521.1 408.6 L524.1 403.1 L527.2 397.7 L530.4 392.4 L533.6 387.1 L537.0 381.9 L540.4 376.8 L543.8 371.7 L547.4 366.7 L551.0 361.8 L554.7 357.0 L558.4 352.3 L562.2 347.6 L566.1 343.0 L570.1 338.5 L574.1 334.1 L578.2 329.8 L582.3 325.6 L586.5 321.5 L590.8 317.4 L595.1 313.5 L599.5 309.6 L603.9 305.9 L608.4 302.2 L613.0 298.6 L617.6 295.2 L622.2 291.8 L626.9 288.5 L631.7 285.4 L636.5 282.3 L641.3 279.3 L646.2 276.5 L651.1 273.7 L656.1 271.1 L661.1 268.6 L666.2 266.1 L671.3 263.8 L676.4 261.6 L681.6 259.5 L686.8 257.5 L692.0 255.6 L697.2 253.9 L702.5 252.2 L707.9 250.7 L713.2 249.3 L718.6 247.9 L724.0 246.7 L729.4 245.7 L734.8 244.7 L740.3 243.9 L745.8 243.1 L751.3 242.5 L756.8 242.0 L762.3 241.6 L767.8 241.4 L773.3 241.2 L778.9 241.2" fill="none" stroke="#000" stroke-width="7.4" stroke-linecap="round"/>
<path d="M869.0 1045.7 L863.6 1047.0 L858.3 1048.1 L852.9 1049.2 L847.6 1050.1 L842.2 1050.9 L836.8 1051.6 L831.4 1052.2 L825.9 1052.6 L820.5 1053.0 L815.0 1053.2 L809.6 1053.3 L804.1 1053.3 L798.7 1053.2 L793.2 1053.0 L787.8 1052.6 L782.3 1052.2 L776.9 1051.6 L771.4 1050.9 L766.0 1050.1 L760.6 1049.2 L755.1 1048.1 L749.7 1047.0 L744.3 1045.7 L739.0 1044.3 L733.6 1042.9 L728.2 1041.3 L722.9 1039.6 L717.6 1037.8 L712.3 1035.8 L707.0 1033.8 L701.8 1031.7 L696.6 1029.4 L691.4 1027.0 L686.2 1024.6 L681.1 1022.0 L676.0 1019.3 L671.0 1016.6 L665.9 1013.7 L660.9 1010.7 L656.0 1007.6 L651.1 1004.4 L646.2 1001.2 L641.4 997.8 L636.6 994.3 L631.8 990.7 L627.1 987.1 L622.5 983.3 L617.9 979.4 L613.3 975.5 L608.8 971.5 L604.4 967.3 L599.9 963.1 L595.6 958.8 L591.3 954.4 L587.1 950.0 L582.9 945.4 L578.8 940.8 L574.7 936.1 L570.7 931.3 L566.8 926.4 L562.9 921.4 L559.1 916.4 L555.4 911.3 L551.7 906.1 L548.1 900.9 L544.5 895.6 L541.0 890.2 L537.6 884.8 L534.3 879.2 L531.0 873.7 L527.9 868.0 L524.7 862.3 L521.7 856.6 L518.7 850.8 L515.8 844.9 L513.0 839.0 L510.3 833.0 L507.6 827.0 L505.0 820.9 L502.5 814.8 L500.1 808.7 L497.8 802.5 L495.5 796.2 L493.4 789.9 L491.3 783.6 L489.2 777.2 L487.3 770.8 L485.5 764.4 L483.7 757.9 L482.0 751.5 L480.5 744.9 L479.0 738.4 L477.5 731.8 L476.2 725.2 L475.0 718.6 L473.8 712.0 L472.7 705.3 L471.8 698.7 L470.9 692.0 L470.1 685.3 L469.4 678.6 L468.7 671.9 L468.2 665.2 L467.8 658.5 L467.4 651.8 L467.1 645.1 L467.0 638.3 L466.9 631.6 L466.9 624.9 L467.0 618.2 L467.2 611.5 L467.4 604.8 L467.8 598.2 L468.2 591.5 L468.8 584.9 L469.4 578.2 L470.1 571.6 L470.9 565.1 L471.8 558.5 L472.8 552.0 L473.9 545.5 L475.0 539.0 L476.3 532.5 L477.6 526.1 L479.0 519.7 L480.6 513.4 L482.2 507.1 L483.8 500.8 L485.6 494.6 L487.5 488.4 L489.4 482.3 L491.4 476.2 L493.5 470.1 L495.7 464.1 L498.0 458.2 L500.3 452.3 L502.8 446.4 L505.3 440.7 L507.9 434.9 L510.5 429.3 L513.3 423.7 L516.1 418.1 L519.0 412.6 L522.0 407.2 L525.1 401.9 L528.2 396.6 L531.4 391.4 L534.7 386.3 L538.0 381.2 L541.5 376.2 L545.0 371.3 L548.5 366.5 L552.2 361.7 L555.9 357.0 L559.6 352.4 L563.5 347.9 L567.4 343.5 L571.3 339.2 L575.3 334.9 L579.4 330.8 L583.6 326.7 L587.8 322.7 L592.0 318.8 L596.3 315.0 L600.7 311.3 L605.1 307.7 L609.6 304.2 L614.2 300.7 L618.7 297.4 L623.4 294.2 L628.1 291.1 L632.8 288.1 L637.6 285.1 L642.4 282.3 L647.3 279.6 L652.2 277.0 L657.1 274.5 L662.1 272.1 L667.1 269.8 L672.2 267.7 L677.3 265.6 L682.4 263.6 L687.5 261.8 L692.7 260.1 L698.0 258.4 L703.2 256.9 L708.5 255.5 L713.8 254.2 L719.1 253.0 L724.4 252.0 L729.8 251.0 L735.2 250.2 L740.6 249.5 L746.0 248.9 L751.4 248.4 L756.9 248.0 L762.3 247.7 L767.8 247.6 L773.2 247.6" fill="none" stroke="#000" stroke-width="7.4" stroke-linecap="round"/>
<path d="M859.1 1038.4 L853.9 1039.7 L848.7 1040.8 L843.5 1041.8 L838.2 1042.7 L832.9 1043.5 L827.7 1044.2 L822.4 1044.7 L817.0 1045.2 L811.7 1045.5 L806.4 1045.8 L801.1 1045.9 L795.7 1045.9 L790.4 1045.8 L785.0 1045.5 L779.7 1045.2 L774.4 1044.8 L769.0 1044.2 L763.7 1043.5 L758.4 1042.7 L753.1 1041.8 L747.8 1040.8 L742.5 1039.7 L737.2 1038.5 L731.9 1037.1 L726.7 1035.7 L721.4 1034.1 L716.2 1032.5 L711.0 1030.7 L705.8 1028.8 L700.7 1026.8 L695.5 1024.7 L690.4 1022.5 L685.4 1020.2 L680.3 1017.8 L675.3 1015.3 L670.3 1012.7 L665.3 1009.9 L660.4 1007.1 L655.5 1004.2 L650.7 1001.2 L645.9 998.1 L641.1 994.9 L636.4 991.6 L631.7 988.2 L627.0 984.7 L622.4 981.1 L617.9 977.4 L613.4 973.6 L608.9 969.7 L604.5 965.8 L600.1 961.8 L595.8 957.6 L591.6 953.4 L587.4 949.1 L583.2 944.7 L579.1 940.3 L575.1 935.7 L571.1 931.1 L567.2 926.4 L563.3 921.7 L559.6 916.8 L555.8 911.9 L552.2 906.9 L548.6 901.8 L545.0 896.7 L541.5 891.5 L538.1 886.2 L534.8 880.9 L531.5 875.5 L528.4 870.0 L525.2 864.5 L522.2 858.9 L519.2 853.3 L516.3 847.6 L513.5 841.9 L510.7 836.1 L508.0 830.2 L505.4 824.3 L502.9 818.4 L500.4 812.4 L498.1 806.4 L495.8 800.3 L493.6 794.2 L491.4 788.0 L489.4 781.8 L487.4 775.6 L485.5 769.3 L483.7 763.0 L482.0 756.7 L480.4 750.3 L478.8 744.0 L477.3 737.5 L476.0 731.1 L474.6 724.7 L473.4 718.2 L472.3 711.7 L471.3 705.2 L470.3 698.6 L469.4 692.1 L468.6 685.6 L467.9 679.0 L467.3 672.4 L466.8 665.9 L466.4 659.3 L466.0 652.7 L465.8 646.1 L465.6 639.5 L465.5 633.0 L465.5 626.4 L465.6 619.8 L465.8 613.3 L466.0 606.7 L466.4 600.2 L466.8 593.7 L467.4 587.2 L468.0 580.7 L468.7 574.2 L469.5 567.8 L470.4 561.3 L471.3 554.9 L472.4 548.6 L473.5 542.2 L474.7 535.9 L476.0 529.6 L477.4 523.4 L478.9 517.2 L480.5 511.0 L482.1 504.8 L483.8 498.7 L485.7 492.7 L487.6 486.7 L489.5 480.7 L491.6 474.8 L493.7 468.9 L496.0 463.1 L498.3 457.3 L500.6 451.6 L503.1 445.9 L505.6 440.3 L508.3 434.8 L511.0 429.3 L513.7 423.9 L516.6 418.5 L519.5 413.2 L522.5 408.0 L525.6 402.8 L528.7 397.7 L531.9 392.7 L535.2 387.7 L538.5 382.8 L542.0 378.0 L545.5 373.3 L549.0 368.6 L552.6 364.1 L556.3 359.6 L560.1 355.2 L563.9 350.8 L567.8 346.6 L571.7 342.4 L575.7 338.3 L579.8 334.3 L583.9 330.4 L588.1 326.6 L592.3 322.9 L596.6 319.3 L600.9 315.7 L605.3 312.3 L609.7 309.0 L614.2 305.7 L618.8 302.6 L623.3 299.5 L628.0 296.6 L632.6 293.7 L637.4 291.0 L642.1 288.3 L646.9 285.8 L651.8 283.3 L656.6 281.0 L661.6 278.7 L666.5 276.6 L671.5 274.6 L676.5 272.7 L681.6 270.9 L686.6 269.2 L691.8 267.6 L696.9 266.1 L702.0 264.7 L707.2 263.5 L712.4 262.3 L717.7 261.3 L722.9 260.3 L728.2 259.5 L733.5 258.8 L738.8 258.2 L744.1 257.8 L749.4 257.4 L754.7 257.1 L760.1 257.0 L765.4 257.0" fill="none" stroke="#000" stroke-width="7.4" stroke-linecap="round"/>
<path d="M851.0 1031.1 L845.9 1032.3 L840.8 1033.4 L835.7 1034.4 L830.5 1035.3 L825.4 1036.1 L820.2 1036.8 L815.0 1037.3 L809.8 1037.8 L804.6 1038.1 L799.4 1038.3 L794.2 1038.4 L788.9 1038.4 L783.7 1038.3 L778.5 1038.1 L773.3 1037.8 L768.0 1037.4 L762.8 1036.8 L757.6 1036.1 L752.4 1035.4 L747.2 1034.5 L742.0 1033.5 L736.8 1032.4 L731.6 1031.2 L726.5 1029.9 L721.3 1028.5 L716.2 1027.0 L711.1 1025.3 L706.0 1023.6 L700.9 1021.7 L695.9 1019.8 L690.9 1017.7 L685.9 1015.6 L680.9 1013.3 L676.0 1011.0 L671.0 1008.5 L666.2 1006.0 L661.3 1003.3 L656.5 1000.5 L651.7 997.7 L647.0 994.7 L642.2 991.7 L637.6 988.5 L632.9 985.3 L628.3 982.0 L623.8 978.5 L619.3 975.0 L614.8 971.4 L610.4 967.7 L606.0 964.0 L601.7 960.1 L597.5 956.1 L593.2 952.1 L589.1 948.0 L584.9 943.8 L580.9 939.5 L576.9 935.1 L572.9 930.7 L569.0 926.1 L565.2 921.5 L561.4 916.9 L557.7 912.1 L554.1 907.3 L550.5 902.4 L546.9 897.4 L543.5 892.4 L540.1 887.3 L536.7 882.2 L533.5 876.9 L530.3 871.7 L527.2 866.3 L524.1 860.9 L521.1 855.4 L518.2 849.9 L515.3 844.4 L512.6 838.7 L509.9 833.1 L507.2 827.3 L504.7 821.5 L502.2 815.7 L499.8 809.9 L497.5 803.9 L495.3 798.0 L493.1 792.0 L491.0 786.0 L489.0 779.9 L487.1 773.8 L485.2 767.7 L483.4 761.5 L481.8 755.3 L480.2 749.1 L478.6 742.8 L477.2 736.5 L475.8 730.2 L474.6 723.9 L473.4 717.6 L472.3 711.2 L471.2 704.8 L470.3 698.4 L469.4 692.0 L468.7 685.6 L468.0 679.2 L467.4 672.8 L466.9 666.3 L466.4 659.9 L466.1 653.4 L465.9 647.0 L465.7 640.5 L465.6 634.1 L465.6 627.7 L465.7 621.2 L465.9 614.8 L466.1 608.4 L466.5 602.0 L466.9 595.6 L467.4 589.3 L468.0 582.9 L468.7 576.6 L469.5 570.3 L470.3 564.0 L471.3 557.7 L472.3 551.5 L473.4 545.2 L474.6 539.1 L475.9 532.9 L477.3 526.8 L478.7 520.7 L480.3 514.6 L481.9 508.6 L483.6 502.7 L485.3 496.7 L487.2 490.8 L489.1 485.0 L491.2 479.2 L493.3 473.4 L495.4 467.7 L497.7 462.1 L500.0 456.5 L502.4 450.9 L504.9 445.4 L507.5 440.0 L510.1 434.6 L512.8 429.3 L515.6 424.1 L518.5 418.9 L521.4 413.8 L524.4 408.7 L527.5 403.7 L530.6 398.8 L533.9 393.9 L537.1 389.1 L540.5 384.4 L543.9 379.8 L547.4 375.3 L550.9 370.8 L554.5 366.4 L558.2 362.0 L562.0 357.8 L565.7 353.6 L569.6 349.6 L573.5 345.6 L577.5 341.7 L581.5 337.9 L585.6 334.1 L589.7 330.5 L593.9 326.9 L598.2 323.5 L602.5 320.1 L606.8 316.8 L611.2 313.7 L615.7 310.6 L620.2 307.6 L624.7 304.7 L629.3 301.9 L633.9 299.2 L638.5 296.6 L643.2 294.1 L648.0 291.7 L652.8 289.4 L657.6 287.3 L662.4 285.2 L667.3 283.2 L672.2 281.3 L677.2 279.5 L682.1 277.9 L687.1 276.3 L692.2 274.9 L697.2 273.5 L702.3 272.3 L707.4 271.2 L712.5 270.2 L717.6 269.3 L722.8 268.5 L728.0 267.8 L733.2 267.2 L738.4 266.7 L743.6 266.4 L748.8 266.2 L754.0 266.0 L759.3 266.0" fill="none" stroke="#000" stroke-width="7.4" stroke-linecap="round"/>
<path d="M1118.7 610.9 L1119.5 618.1 L1120.2 625.4 L1120.8 632.6 L1121.4 639.9 L1121.8 647.1 L1122.1 654.4 L1122.3 661.6 L1122.4 668.9 L1122.4 676.1 L1122.2 683.3 L1122.0 690.6 L1121.7 697.8 L1121.3 705.0 L1120.8 712.1 L1120.2 719.3 L1119.4 726.4 L1118.6 733.5 L1117.7 740.6 L1116.6 747.7 L1115.5 754.7 L1114.3 761.7 L1112.9 768.6 L1111.5 775.5 L1110.0 782.4 L1108.3 789.2 L1106.6 796.0 L1104.8 802.7 L1102.9 809.4 L1100.9 816.1 L1098.7 822.7 L1096.5 829.2 L1094.2 835.7 L1091.8 842.1 L1089.3 848.4 L1086.8 854.7 L1084.1 860.9 L1081.3 867.1 L1078.5 873.2 L1075.5 879.2 L1072.5 885.1 L1069.4 891.0 L1066.2 896.8 L1062.9 902.5 L1059.5 908.1 L1056.1 913.7 L1052.6 919.1 L1049.0 924.5 L1045.3 929.8 L1041.5 935.0 L1037.7 940.1 L1033.8 945.2 L1029.8 950.1 L1025.7 954.9 L1021.6 959.7 L1017.4 964.3 L1013.1 968.9 L1008.8 973.3 L1004.4 977.7 L999.9 981.9 L995.4 986.0 L990.8 990.1 L986.2 994.0 L981.5 997.8 L976.7 1001.5 L971.9 1005.1 L967.1 1008.6 L962.1 1012.0 L957.2 1015.2 L952.2 1018.4 L947.1 1021.4 L942.0 1024.3 L936.8 1027.1 L931.6 1029.8 L926.4 1032.4 L921.1 1034.8 L915.8 1037.2 L910.5 1039.4 L905.1 1041.5 L899.7 1043.4 L894.2 1045.3 L888.8 1047.0 L883.3 1048.6 L877.7 1050.1 L872.2 1051.5 L866.6 1052.7 L861.0 1053.8 L855.4 1054.8 L849.8 1055.7 L844.2 1056.4 L838.5 1057.0 L832.9 1057.5 L827.2 1057.9 L821.5 1058.1 L815.8 1058.3 L810.1 1058.3 L804.4 1058.1 L798.7 1057.9 L793.0 1057.5 L787.3 1057.0 L781.7 1056.4 L776.0 1055.6 L770.3 1054.8 L764.6 1053.8 L759.0 1052.7 L753.3 1051.4 L747.7 1050.1 L742.1 1048.6 L736.5 1047.0 L730.9 1045.3 L725.4 1043.5 L719.8 1041.5 L714.3 1039.5 L708.8 1037.3 L703.4 1035.0 L698.0 1032.6 L692.6 1030.0 L687.2 1027.4 L681.9 1024.6 L676.6 1021.8 L671.3 1018.8 L666.1 1015.7 L660.9 1012.5 L655.8 1009.2 L650.7 1005.8 L645.6 1002.3 L640.6 998.7 L635.7 994.9 L630.8 991.1 L625.9 987.2 L621.1 983.2 L616.4 979.0 L611.7 974.8 L607.0 970.5 L602.4 966.1 L597.9 961.6 L593.4 957.0 L589.0 952.3 L584.7 947.5 L580.4 942.7 L576.2 937.7 L572.0 932.7 L568.0 927.6 L563.9 922.4 L560.0 917.1 L556.1 911.7 L552.3 906.3 L548.6 900.8 L544.9 895.2 L541.3 889.6 L537.8 883.8 L534.4 878.0 L531.0 872.2 L527.8 866.3 L524.6 860.3 L521.5 854.2 L518.4 848.1 L515.5 841.9 L512.6 835.7 L509.8 829.4 L507.1 823.1 L504.5 816.7 L502.0 810.3 L499.5 803.8 L497.2 797.3 L494.9 790.8 L492.7 784.2 L490.6 777.5 L488.6 770.8 L486.7 764.1 L484.9 757.4 L483.2 750.6 L481.6 743.8 L480.0 736.9 L478.6 730.1 L477.2 723.2 L475.9 716.3 L474.8 709.4 L473.7 702.4 L472.7 695.5 L471.8 688.5 L471.0 681.5 L470.4 674.5 L469.8 667.5 L469.3 660.5 L468.9 653.5 L468.5 646.5 L468.3 639.5 L468.2 632.5 L468.2 625.5 L468.3 618.5 L468.4 611.5 L468.7 604.5 L469.1 597.6 L469.5 590.6 L470.1 583.7 L470.7 576.8 L471.5 569.9 L472.3 563.0 L473.3 556.2 L474.3 549.4 L475.4 542.6 L476.7 535.8 L478.0 529.1 L479.4 522.4 L480.9 515.7 L482.5 509.1 L484.2 502.6 L486.0 496.0 L487.8 489.6 L489.8 483.1 L491.8 476.7 L494.0 470.4 L496.2 464.1 L498.6 457.9 L501.0 451.7 L503.5 445.6 L506.1 439.5 L508.7 433.5 L511.5 427.6 L514.3 421.7 L517.3 415.9 L520.3 410.2 L523.4 404.5 L526.5 398.9 L529.8 393.4 L533.1 387.9 L536.5 382.6 L540.0 377.3 L543.6 372.0 L547.2 366.9 L550.9 361.9 L554.7 356.9 L558.6 352.0 L562.5 347.2 L566.5 342.5 L570.6 337.9 L574.8 333.4 L579.0 329.0 L583.2 324.7 L587.6 320.4 L592.0 316.3 L596.5 312.3 L601.0 308.3 L605.6 304.5 L610.2 300.8 L614.9 297.1 L619.7 293.6 L624.5 290.2 L629.3 286.9 L634.3 283.7 L639.2 280.6 L644.2 277.6 L649.3 274.7 L654.4 272.0 L659.5 269.3 L664.7 266.8 L670.0 264.4 L675.2 262.1 L680.5 259.9 L685.9 257.8 L691.3 255.9 L696.7 254.1 L702.1 252.3 L707.6 250.8 L713.1 249.3 L718.6 247.9 L724.2 246.7 L729.8 245.6 L735.4 244.6 L741.0 243.8 L746.6 243.0 L752.3 242.4 L757.9 241.9 L763.6 241.6 L769.3 241.3 L775.0 241.2 L780.7 241.2 L786.4 241.3 L792.2 241.6 L797.9 242.0 L803.6 242.5 L809.3 243.1 L815.1 243.9 L820.8 244.8 L826.5 245.8 L832.2 246.9 L837.9 248.2 L843.6 249.6 L849.2 251.1 L854.9 252.7 L860.5 254.4 L866.1 256.3 L871.7 258.3 L877.3 260.4 L882.9 262.7 L888.4 265.0 L893.9 267.5 L899.4 270.1 L904.8 272.8 L910.2 275.6 L915.6 278.6 L920.9 281.7 L926.2 284.8 L931.5 288.1 L936.7 291.5 L941.9 295.0 L947.0 298.7 L952.1 302.4 L957.1 306.3 L962.1 310.2 L967.0 314.3 L971.9 318.4 L976.8 322.7 L981.5 327.1 L986.3 331.6 L990.9 336.1 L995.5 340.8 L1000.1 345.6 L1004.5 350.5 L1009.0 355.4 L1013.3 360.5 L1017.6 365.6 L1021.8 370.9 L1025.9 376.2 L1030.0 381.6 L1034.0 387.1 L1037.9 392.7 L1041.8 398.3 L1045.5 404.1 L1049.2 409.9 L1052.8 415.8 L1056.4 421.8 L1059.8 427.8 L1063.2 433.9 L1066.5 440.1 L1069.7 446.4 L1072.8 452.7 L1075.8 459.1 L1078.7 465.5 L1081.6 472.0 L1084.3 478.5 L1087.0 485.1 L1089.6 491.8 L1092.1 498.5 L1094.5 505.3 L1096.8 512.1 L1099.0 518.9 L1101.1 525.8 L1103.1 532.7 L1105.0 539.7 L1106.8 546.7 L1108.5 553.7 L1110.2 560.8 L1111.7 567.9 L1113.1 575.0 L1114.4 582.1 L1115.7 589.3 L1116.8 596.5 L1117.8 603.7 L1118.7 610.9Z" fill="#d0d0d0"/>
<path d="M1108.2 612.2 L1109.0 619.3 L1109.7 626.4 L1110.3 633.6 L1110.8 640.7 L1111.2 647.9 L1111.5 655.0 L1111.7 662.2 L1111.8 669.3 L1111.8 676.5 L1111.6 683.6 L1111.4 690.7 L1111.1 697.8 L1110.7 704.9 L1110.2 712.0 L1109.6 719.0 L1108.9 726.1 L1108.1 733.1 L1107.1 740.0 L1106.1 747.0 L1105.0 753.9 L1103.8 760.8 L1102.5 767.7 L1101.1 774.5 L1099.6 781.2 L1098.0 788.0 L1096.3 794.7 L1094.5 801.3 L1092.6 807.9 L1090.6 814.4 L1088.5 820.9 L1086.3 827.4 L1084.0 833.8 L1081.7 840.1 L1079.2 846.3 L1076.7 852.5 L1074.1 858.7 L1071.3 864.7 L1068.5 870.7 L1065.6 876.7 L1062.6 882.5 L1059.6 888.3 L1056.4 894.0 L1053.2 899.7 L1049.9 905.2 L1046.5 910.7 L1043.0 916.1 L1039.5 921.4 L1035.8 926.6 L1032.1 931.7 L1028.3 936.8 L1024.5 941.7 L1020.6 946.6 L1016.6 951.4 L1012.5 956.0 L1008.4 960.6 L1004.1 965.1 L999.9 969.5 L995.5 973.8 L991.1 978.0 L986.7 982.0 L982.2 986.0 L977.6 989.9 L973.0 993.6 L968.3 997.3 L963.5 1000.8 L958.7 1004.3 L953.9 1007.6 L949.0 1010.8 L944.1 1013.9 L939.1 1016.9 L934.0 1019.8 L928.9 1022.6 L923.8 1025.2 L918.7 1027.8 L913.5 1030.2 L908.2 1032.5 L903.0 1034.7 L897.7 1036.7 L892.3 1038.7 L887.0 1040.5 L881.6 1042.2 L876.2 1043.8 L870.7 1045.3 L865.2 1046.6 L859.8 1047.8 L854.2 1048.9 L848.7 1049.9 L843.2 1050.8 L837.6 1051.5 L832.0 1052.1 L826.5 1052.6 L820.9 1052.9 L815.3 1053.2 L809.7 1053.3 L804.0 1053.3 L798.4 1053.2 L792.8 1052.9 L787.2 1052.6 L781.6 1052.1 L776.0 1051.5 L770.4 1050.7 L764.8 1049.9 L759.2 1048.9 L753.6 1047.8 L748.0 1046.6 L742.5 1045.3 L737.0 1043.8 L731.4 1042.2 L726.0 1040.6 L720.5 1038.8 L715.0 1036.8 L709.6 1034.8 L704.2 1032.6 L698.8 1030.4 L693.5 1028.0 L688.1 1025.5 L682.8 1022.9 L677.6 1020.2 L672.4 1017.4 L667.2 1014.4 L662.0 1011.4 L656.9 1008.2 L651.9 1005.0 L646.8 1001.6 L641.9 998.1 L636.9 994.6 L632.0 990.9 L627.2 987.1 L622.4 983.3 L617.7 979.3 L613.0 975.2 L608.4 971.1 L603.8 966.8 L599.3 962.4 L594.8 958.0 L590.4 953.5 L586.0 948.9 L581.8 944.1 L577.5 939.3 L573.4 934.5 L569.3 929.5 L565.3 924.5 L561.3 919.3 L557.4 914.1 L553.6 908.8 L549.8 903.5 L546.2 898.0 L542.5 892.5 L539.0 887.0 L535.6 881.3 L532.2 875.6 L528.9 869.8 L525.6 864.0 L522.5 858.1 L519.4 852.1 L516.4 846.1 L513.5 840.0 L510.7 833.9 L507.9 827.7 L505.3 821.4 L502.7 815.2 L500.2 808.8 L497.8 802.4 L495.5 796.0 L493.2 789.5 L491.1 783.0 L489.0 776.5 L487.0 769.9 L485.2 763.3 L483.4 756.6 L481.7 749.9 L480.0 743.2 L478.5 736.5 L477.1 729.7 L475.8 722.9 L474.5 716.1 L473.4 709.2 L472.3 702.4 L471.3 695.5 L470.5 688.7 L469.7 681.8 L469.0 674.9 L468.4 668.0 L467.9 661.1 L467.5 654.1 L467.2 647.2 L467.0 640.3 L466.9 633.4 L466.9 626.5 L466.9 619.6 L467.1 612.7 L467.4 605.8 L467.7 599.0 L468.2 592.1 L468.7 585.3 L469.4 578.5 L470.1 571.7 L471.0 564.9 L471.9 558.1 L472.9 551.4 L474.0 544.7 L475.2 538.1 L476.5 531.4 L477.9 524.8 L479.4 518.3 L481.0 511.8 L482.6 505.3 L484.4 498.8 L486.2 492.4 L488.2 486.1 L490.2 479.8 L492.3 473.5 L494.5 467.3 L496.8 461.2 L499.2 455.1 L501.7 449.1 L504.2 443.1 L506.8 437.2 L509.6 431.3 L512.4 425.5 L515.3 419.8 L518.2 414.1 L521.3 408.5 L524.4 403.0 L527.6 397.6 L530.9 392.2 L534.3 386.9 L537.7 381.7 L541.2 376.6 L544.8 371.5 L548.5 366.5 L552.2 361.6 L556.0 356.8 L559.9 352.1 L563.9 347.5 L567.9 342.9 L572.0 338.5 L576.1 334.1 L580.3 329.8 L584.6 325.7 L589.0 321.6 L593.4 317.6 L597.8 313.7 L602.3 309.9 L606.9 306.3 L611.6 302.7 L616.2 299.2 L621.0 295.9 L625.8 292.6 L630.6 289.4 L635.5 286.4 L640.5 283.4 L645.5 280.6 L650.5 277.9 L655.6 275.3 L660.7 272.8 L665.8 270.4 L671.0 268.1 L676.3 266.0 L681.5 264.0 L686.8 262.0 L692.2 260.2 L697.5 258.5 L702.9 257.0 L708.4 255.5 L713.8 254.2 L719.3 253.0 L724.8 251.9 L730.3 250.9 L735.9 250.1 L741.4 249.4 L747.0 248.8 L752.6 248.3 L758.2 247.9 L763.8 247.7 L769.4 247.6 L775.0 247.6 L780.7 247.7 L786.3 248.0 L792.0 248.4 L797.6 248.9 L803.2 249.5 L808.9 250.3 L814.5 251.1 L820.1 252.1 L825.8 253.2 L831.4 254.5 L837.0 255.8 L842.6 257.3 L848.1 258.9 L853.7 260.7 L859.2 262.5 L864.7 264.5 L870.2 266.6 L875.7 268.8 L881.2 271.1 L886.6 273.6 L892.0 276.1 L897.3 278.8 L902.7 281.6 L908.0 284.5 L913.2 287.5 L918.4 290.6 L923.6 293.9 L928.8 297.3 L933.9 300.7 L938.9 304.3 L943.9 308.0 L948.9 311.8 L953.8 315.7 L958.7 319.7 L963.5 323.8 L968.3 328.0 L973.0 332.3 L977.6 336.8 L982.2 341.3 L986.8 345.9 L991.2 350.6 L995.6 355.4 L1000.0 360.3 L1004.3 365.3 L1008.5 370.3 L1012.6 375.5 L1016.7 380.8 L1020.7 386.1 L1024.7 391.5 L1028.5 397.0 L1032.3 402.6 L1036.0 408.3 L1039.7 414.0 L1043.2 419.8 L1046.7 425.7 L1050.1 431.7 L1053.4 437.7 L1056.7 443.8 L1059.8 449.9 L1062.9 456.2 L1065.9 462.5 L1068.8 468.8 L1071.6 475.2 L1074.3 481.7 L1076.9 488.2 L1079.5 494.7 L1081.9 501.4 L1084.3 508.0 L1086.5 514.7 L1088.7 521.5 L1090.8 528.3 L1092.8 535.1 L1094.7 542.0 L1096.4 548.9 L1098.1 555.8 L1099.7 562.8 L1101.2 569.8 L1102.6 576.8 L1103.9 583.8 L1105.1 590.9 L1106.3 598.0 L1107.3 605.1 L1108.2 612.2Z" fill="#e6e6e6"/>
<path d="M1093.1 614.0 L1093.9 620.9 L1094.6 627.9 L1095.2 634.9 L1095.7 641.9 L1096.1 648.9 L1096.4 655.9 L1096.6 662.9 L1096.7 669.9 L1096.7 676.9 L1096.5 683.9 L1096.3 690.8 L1096.0 697.8 L1095.6 704.7 L1095.1 711.7 L1094.5 718.6 L1093.8 725.4 L1093.0 732.3 L1092.2 739.1 L1091.2 745.9 L1090.1 752.7 L1088.9 759.5 L1087.6 766.2 L1086.2 772.8 L1084.7 779.5 L1083.2 786.0 L1081.5 792.6 L1079.8 799.1 L1077.9 805.6 L1076.0 812.0 L1073.9 818.3 L1071.8 824.6 L1069.6 830.9 L1067.3 837.0 L1064.9 843.2 L1062.4 849.2 L1059.8 855.3 L1057.1 861.2 L1054.4 867.1 L1051.6 872.9 L1048.6 878.6 L1045.6 884.3 L1042.6 889.9 L1039.4 895.4 L1036.2 900.8 L1032.8 906.2 L1029.4 911.5 L1026.0 916.6 L1022.4 921.8 L1018.8 926.8 L1015.1 931.7 L1011.3 936.6 L1007.5 941.3 L1003.6 946.0 L999.6 950.6 L995.5 955.1 L991.4 959.5 L987.2 963.8 L983.0 967.9 L978.7 972.0 L974.3 976.0 L969.9 979.9 L965.4 983.7 L960.9 987.4 L956.3 991.0 L951.7 994.5 L947.0 997.8 L942.3 1001.1 L937.5 1004.2 L932.6 1007.3 L927.7 1010.2 L922.8 1013.0 L917.9 1015.8 L912.8 1018.3 L907.8 1020.8 L902.7 1023.2 L897.6 1025.5 L892.4 1027.6 L887.2 1029.6 L882.0 1031.5 L876.8 1033.3 L871.5 1035.0 L866.2 1036.5 L860.9 1038.0 L855.5 1039.3 L850.1 1040.5 L844.7 1041.6 L839.3 1042.5 L833.9 1043.4 L828.5 1044.1 L823.0 1044.7 L817.6 1045.2 L812.1 1045.5 L806.6 1045.8 L801.1 1045.9 L795.6 1045.9 L790.1 1045.8 L784.6 1045.5 L779.1 1045.2 L773.6 1044.7 L768.2 1044.1 L762.7 1043.4 L757.2 1042.5 L751.7 1041.6 L746.3 1040.5 L740.8 1039.3 L735.4 1038.0 L730.0 1036.6 L724.6 1035.1 L719.2 1033.4 L713.8 1031.7 L708.5 1029.8 L703.2 1027.8 L697.9 1025.7 L692.6 1023.5 L687.4 1021.1 L682.2 1018.7 L677.0 1016.1 L671.8 1013.5 L666.7 1010.7 L661.7 1007.8 L656.6 1004.9 L651.6 1001.8 L646.7 998.6 L641.7 995.3 L636.9 991.9 L632.0 988.4 L627.3 984.8 L622.5 981.1 L617.8 977.3 L613.2 973.5 L608.6 969.5 L604.1 965.4 L599.6 961.2 L595.2 957.0 L590.8 952.6 L586.5 948.2 L582.2 943.7 L578.0 939.0 L573.9 934.4 L569.8 929.6 L565.8 924.7 L561.9 919.8 L558.0 914.7 L554.2 909.7 L550.4 904.5 L546.8 899.2 L543.1 893.9 L539.6 888.5 L536.2 883.1 L532.8 877.5 L529.5 871.9 L526.2 866.3 L523.0 860.6 L520.0 854.8 L517.0 848.9 L514.0 843.0 L511.2 837.1 L508.4 831.1 L505.7 825.0 L503.1 818.9 L500.6 812.7 L498.1 806.5 L495.8 800.3 L493.5 794.0 L491.3 787.6 L489.2 781.2 L487.2 774.8 L485.3 768.4 L483.4 761.9 L481.7 755.4 L480.0 748.8 L478.4 742.2 L476.9 735.6 L475.5 729.0 L474.2 722.4 L473.0 715.7 L471.9 709.0 L470.8 702.3 L469.9 695.6 L469.0 688.8 L468.3 682.1 L467.6 675.3 L467.0 668.6 L466.5 661.8 L466.1 655.0 L465.8 648.3 L465.6 641.5 L465.5 634.7 L465.5 628.0 L465.6 621.2 L465.7 614.4 L466.0 607.7 L466.3 601.0 L466.8 594.3 L467.3 587.6 L468.0 580.9 L468.7 574.2 L469.5 567.6 L470.4 561.0 L471.4 554.4 L472.5 547.9 L473.7 541.3 L474.9 534.8 L476.3 528.4 L477.8 522.0 L479.3 515.6 L480.9 509.2 L482.7 502.9 L484.5 496.6 L486.4 490.4 L488.3 484.3 L490.4 478.1 L492.6 472.1 L494.8 466.0 L497.2 460.1 L499.6 454.2 L502.1 448.3 L504.6 442.5 L507.3 436.8 L510.1 431.1 L512.9 425.5 L515.8 420.0 L518.8 414.5 L521.8 409.1 L525.0 403.8 L528.2 398.5 L531.5 393.3 L534.9 388.2 L538.3 383.2 L541.8 378.2 L545.4 373.4 L549.1 368.6 L552.8 363.9 L556.6 359.2 L560.5 354.7 L564.4 350.2 L568.4 345.9 L572.5 341.6 L576.6 337.4 L580.8 333.4 L585.0 329.4 L589.4 325.5 L593.7 321.7 L598.2 318.0 L602.6 314.4 L607.2 310.9 L611.8 307.5 L616.4 304.2 L621.1 301.0 L625.8 297.9 L630.6 294.9 L635.5 292.0 L640.4 289.3 L645.3 286.6 L650.3 284.1 L655.3 281.6 L660.3 279.3 L665.4 277.1 L670.5 275.0 L675.7 273.0 L680.9 271.1 L686.1 269.3 L691.4 267.7 L696.6 266.2 L701.9 264.7 L707.3 263.4 L712.6 262.3 L718.0 261.2 L723.4 260.3 L728.8 259.4 L734.3 258.7 L739.7 258.1 L745.2 257.7 L750.7 257.3 L756.2 257.1 L761.7 257.0 L767.2 257.0 L772.7 257.1 L778.2 257.4 L783.8 257.8 L789.3 258.3 L794.8 258.9 L800.3 259.6 L805.8 260.5 L811.3 261.5 L816.8 262.5 L822.3 263.8 L827.8 265.1 L833.3 266.6 L838.7 268.1 L844.2 269.8 L849.6 271.6 L855.0 273.6 L860.4 275.6 L865.7 277.8 L871.0 280.1 L876.4 282.5 L881.6 285.0 L886.9 287.6 L892.1 290.3 L897.3 293.2 L902.4 296.1 L907.5 299.2 L912.6 302.4 L917.6 305.7 L922.6 309.1 L927.6 312.6 L932.5 316.2 L937.3 319.9 L942.1 323.7 L946.9 327.7 L951.6 331.7 L956.3 335.8 L960.9 340.0 L965.4 344.4 L969.9 348.8 L974.4 353.3 L978.7 357.9 L983.1 362.6 L987.3 367.4 L991.5 372.3 L995.6 377.3 L999.7 382.3 L1003.7 387.5 L1007.6 392.7 L1011.4 398.0 L1015.2 403.4 L1018.9 408.8 L1022.6 414.4 L1026.1 420.0 L1029.6 425.7 L1033.0 431.5 L1036.3 437.3 L1039.6 443.2 L1042.8 449.2 L1045.8 455.2 L1048.8 461.3 L1051.8 467.4 L1054.6 473.6 L1057.3 479.9 L1060.0 486.2 L1062.6 492.6 L1065.1 499.0 L1067.5 505.5 L1069.8 512.0 L1072.0 518.6 L1074.1 525.2 L1076.1 531.9 L1078.1 538.5 L1079.9 545.3 L1081.7 552.0 L1083.3 558.8 L1084.9 565.6 L1086.4 572.5 L1087.7 579.3 L1089.0 586.2 L1090.2 593.1 L1091.3 600.1 L1092.2 607.0 L1093.1 614.0Z" fill="#cccccc"/>
<path d="M826.5 245.8 L835.3 247.6 L844.1 249.7 L852.8 252.1 L861.5 254.8 L870.2 257.8 L878.8 261.0 L887.4 264.6 L895.9 268.4 L904.3 272.6 L912.6 277.0 L920.9 281.7 L929.1 286.6 L937.2 291.8 L945.1 297.3 L953.0 303.1 L960.8 309.1 L968.4 315.4 L975.9 321.9 L983.3 328.7 L990.5 335.7 L997.6 343.0 L1004.5 350.5 L1011.3 358.2 L1018.0 366.1 L1024.4 374.2 L1030.7 382.6 L1036.8 391.2 L1042.8 399.9 L1048.5 408.8 L1054.1 418.0 L1059.5 427.3 L1064.7 436.7 L1069.7 446.4 L1074.4 456.1 L1079.0 466.1 L1083.4 476.1 L1087.5 486.3 L1091.4 496.7 L1095.1 507.1 L1098.6 517.7 L1101.8 528.3 L1104.8 539.1 L1107.6 549.9 L1110.2 560.8 L1112.5 571.8 L1114.5 582.8 L1116.4 593.9 L1118.0 605.0 L1119.3 616.2 L1120.4 627.3 L1121.3 638.5 L1121.9 649.8 L1122.2 661.0 L1122.4 672.2 L1122.2 683.3 L1121.9 694.5 L1121.3 705.6 L1120.4 716.7 L1119.3 727.7 L1117.9 738.7 L1116.3 749.6 L1114.5 760.4 L1112.4 771.1 L1110.1 781.8 L1107.6 792.3 L1104.8 802.7 L1101.8 813.1 L1098.5 823.3 L1095.1 833.3 L1091.4 843.2 L1087.5 853.0 L1083.3 862.6 L1079.0 872.1 L1074.4 881.4 L1069.7 890.5 L1064.7 899.4 L1059.5 908.1 L1054.2 916.7 L1048.6 925.0 L1042.9 933.1 L1037.0 941.1 L1030.9 948.8 L1024.6 956.2 L1018.2 963.5 L1011.6 970.5 L1004.8 977.3 L997.9 983.8 L990.8 990.1 L983.6 996.1 L976.3 1001.8 L968.8 1007.3 L961.2 1012.6 L953.5 1017.5 L945.7 1022.2 L937.8 1026.6 L929.7 1030.8 L921.6 1034.6 L913.4 1038.2 L905.1 1041.5" fill="none" stroke="#9a9a9a" stroke-width="1.3"/>
<path d="M1079.9 615.6 L1080.7 622.4 L1081.4 629.2 L1081.9 636.1 L1082.4 642.9 L1082.8 649.8 L1083.1 656.6 L1083.3 663.5 L1083.4 670.3 L1083.4 677.1 L1083.3 684.0 L1083.1 690.8 L1082.8 697.6 L1082.4 704.4 L1081.9 711.2 L1081.3 717.9 L1080.6 724.7 L1079.8 731.4 L1079.0 738.1 L1078.0 744.7 L1076.9 751.4 L1075.8 758.0 L1074.5 764.5 L1073.2 771.0 L1071.7 777.5 L1070.2 784.0 L1068.6 790.4 L1066.9 796.8 L1065.0 803.1 L1063.1 809.4 L1061.1 815.6 L1059.1 821.7 L1056.9 827.9 L1054.6 833.9 L1052.3 839.9 L1049.9 845.9 L1047.3 851.7 L1044.7 857.6 L1042.0 863.3 L1039.3 869.0 L1036.4 874.6 L1033.5 880.1 L1030.5 885.6 L1027.4 891.0 L1024.2 896.3 L1021.0 901.6 L1017.6 906.8 L1014.2 911.8 L1010.8 916.8 L1007.2 921.8 L1003.6 926.6 L999.9 931.4 L996.1 936.0 L992.3 940.6 L988.4 945.1 L984.5 949.5 L980.4 953.8 L976.4 958.0 L972.2 962.1 L968.0 966.1 L963.7 970.0 L959.4 973.8 L955.0 977.5 L950.6 981.1 L946.1 984.6 L941.6 988.0 L937.0 991.3 L932.3 994.5 L927.7 997.6 L922.9 1000.6 L918.1 1003.5 L913.3 1006.2 L908.5 1008.9 L903.6 1011.4 L898.6 1013.9 L893.6 1016.2 L888.6 1018.4 L883.6 1020.5 L878.5 1022.5 L873.4 1024.4 L868.3 1026.1 L863.1 1027.7 L857.9 1029.3 L852.7 1030.7 L847.5 1032.0 L842.2 1033.1 L836.9 1034.2 L831.6 1035.1 L826.3 1036.0 L821.0 1036.7 L815.7 1037.3 L810.3 1037.7 L805.0 1038.1 L799.6 1038.3 L794.2 1038.4 L788.8 1038.4 L783.5 1038.3 L778.1 1038.1 L772.7 1037.7 L767.3 1037.3 L762.0 1036.7 L756.6 1036.0 L751.2 1035.2 L745.9 1034.3 L740.5 1033.2 L735.2 1032.1 L729.9 1030.8 L724.6 1029.4 L719.3 1027.9 L714.0 1026.3 L708.8 1024.5 L703.5 1022.7 L698.3 1020.8 L693.2 1018.7 L688.0 1016.5 L682.9 1014.2 L677.8 1011.9 L672.7 1009.4 L667.7 1006.8 L662.7 1004.1 L657.7 1001.2 L652.8 998.3 L647.9 995.3 L643.0 992.2 L638.2 989.0 L633.4 985.6 L628.7 982.2 L624.0 978.7 L619.4 975.1 L614.8 971.4 L610.2 967.6 L605.7 963.7 L601.3 959.7 L596.9 955.6 L592.6 951.4 L588.3 947.2 L584.1 942.8 L579.9 938.4 L575.8 933.9 L571.7 929.3 L567.8 924.6 L563.8 919.8 L560.0 915.0 L556.2 910.1 L552.4 905.1 L548.8 900.0 L545.2 894.9 L541.6 889.7 L538.2 884.4 L534.8 879.1 L531.5 873.6 L528.2 868.2 L525.1 862.6 L522.0 857.0 L518.9 851.4 L516.0 845.6 L513.1 839.9 L510.3 834.0 L507.6 828.1 L505.0 822.2 L502.4 816.2 L499.9 810.2 L497.6 804.1 L495.2 798.0 L493.0 791.8 L490.9 785.6 L488.8 779.3 L486.8 773.1 L484.9 766.7 L483.1 760.4 L481.4 754.0 L479.8 747.6 L478.2 741.1 L476.8 734.7 L475.4 728.2 L474.1 721.7 L472.9 715.1 L471.8 708.6 L470.8 702.0 L469.9 695.4 L469.0 688.8 L468.3 682.2 L467.6 675.6 L467.1 669.0 L466.6 662.4 L466.2 655.7 L465.9 649.1 L465.7 642.5 L465.6 635.8 L465.6 629.2 L465.7 622.6 L465.8 616.0 L466.1 609.4 L466.4 602.8 L466.9 596.2 L467.4 589.7 L468.0 583.1 L468.7 576.6 L469.5 570.1 L470.4 563.6 L471.4 557.2 L472.4 550.8 L473.6 544.4 L474.8 538.0 L476.2 531.7 L477.6 525.4 L479.1 519.1 L480.7 512.9 L482.4 506.7 L484.2 500.6 L486.0 494.5 L488.0 488.5 L490.0 482.5 L492.1 476.5 L494.3 470.6 L496.6 464.8 L499.0 459.0 L501.4 453.3 L503.9 447.6 L506.5 442.0 L509.2 436.4 L512.0 430.9 L514.8 425.5 L517.8 420.1 L520.8 414.9 L523.8 409.6 L527.0 404.5 L530.2 399.4 L533.5 394.4 L536.9 389.5 L540.3 384.6 L543.9 379.9 L547.4 375.2 L551.1 370.6 L554.8 366.0 L558.6 361.6 L562.5 357.2 L566.4 353.0 L570.4 348.8 L574.4 344.7 L578.5 340.7 L582.7 336.8 L586.9 333.0 L591.2 329.3 L595.5 325.6 L599.9 322.1 L604.3 318.7 L608.8 315.4 L613.4 312.1 L618.0 309.0 L622.6 306.0 L627.3 303.1 L632.0 300.3 L636.8 297.6 L641.6 295.0 L646.5 292.5 L651.4 290.1 L656.4 287.8 L661.3 285.6 L666.4 283.6 L671.4 281.6 L676.5 279.8 L681.6 278.1 L686.7 276.4 L691.9 274.9 L697.1 273.6 L702.3 272.3 L707.6 271.1 L712.9 270.1 L718.1 269.2 L723.5 268.4 L728.8 267.7 L734.1 267.1 L739.5 266.7 L744.8 266.3 L750.2 266.1 L755.6 266.0 L761.0 266.0 L766.4 266.2 L771.8 266.4 L777.2 266.8 L782.6 267.3 L788.0 267.9 L793.4 268.6 L798.8 269.4 L804.2 270.4 L809.6 271.5 L815.0 272.7 L820.3 274.0 L825.7 275.4 L831.0 277.0 L836.3 278.6 L841.6 280.4 L846.9 282.3 L852.2 284.3 L857.4 286.4 L862.6 288.6 L867.8 291.0 L873.0 293.5 L878.1 296.0 L883.2 298.7 L888.3 301.5 L893.3 304.4 L898.3 307.4 L903.3 310.5 L908.2 313.7 L913.1 317.1 L917.9 320.5 L922.7 324.0 L927.5 327.7 L932.2 331.4 L936.9 335.3 L941.5 339.2 L946.0 343.3 L950.5 347.4 L955.0 351.6 L959.4 356.0 L963.7 360.4 L968.0 364.9 L972.2 369.5 L976.4 374.2 L980.5 379.0 L984.5 383.8 L988.5 388.8 L992.4 393.8 L996.2 398.9 L1000.0 404.1 L1003.7 409.4 L1007.3 414.8 L1010.9 420.2 L1014.4 425.7 L1017.8 431.3 L1021.1 436.9 L1024.4 442.6 L1027.5 448.4 L1030.6 454.2 L1033.6 460.1 L1036.6 466.1 L1039.4 472.1 L1042.2 478.2 L1044.9 484.3 L1047.5 490.5 L1050.0 496.8 L1052.5 503.1 L1054.8 509.4 L1057.1 515.8 L1059.2 522.2 L1061.3 528.7 L1063.3 535.2 L1065.2 541.7 L1067.0 548.3 L1068.7 554.9 L1070.3 561.6 L1071.9 568.2 L1073.3 574.9 L1074.6 581.7 L1075.9 588.4 L1077.0 595.2 L1078.1 601.9 L1079.1 608.7 L1079.9 615.6Z" fill="#e4e4e4"/>
<path d="M750.2 266.1 L759.7 266.0 L769.3 266.3 L778.8 266.9 L788.4 267.9 L797.9 269.3 L807.5 271.0 L817.0 273.1 L826.4 275.6 L835.8 278.5 L845.2 281.7 L854.5 285.2 L863.7 289.1 L872.9 293.4 L881.9 298.0 L890.9 303.0 L899.7 308.3 L908.5 313.9 L917.1 319.9 L925.5 326.2 L933.8 332.8 L942.0 339.7 L950.0 346.9 L957.9 354.5 L965.5 362.3 L973.0 370.4 L980.3 378.8 L987.4 387.4 L994.3 396.3 L1001.0 405.5 L1007.4 414.9 L1013.7 424.6 L1019.7 434.4 L1025.4 444.5 L1030.9 454.8 L1036.2 465.3 L1041.2 476.0 L1046.0 486.8 L1050.4 497.8 L1054.7 509.0 L1058.6 520.3 L1062.3 531.8 L1065.6 543.3 L1068.7 555.0 L1071.5 566.7 L1074.0 578.6 L1076.3 590.5 L1078.2 602.5 L1079.8 614.5 L1081.1 626.6 L1082.1 638.7 L1082.9 650.8 L1083.3 662.9 L1083.4 675.0 L1083.2 687.1 L1082.7 699.1 L1081.9 711.1 L1080.8 723.0 L1079.4 734.9 L1077.7 746.7 L1075.7 758.4 L1073.4 769.9 L1070.8 781.4 L1068.0 792.7 L1064.8 803.9 L1061.3 814.9 L1057.6 825.8 L1053.6 836.5 L1049.4 847.0 L1044.8 857.4 L1040.0 867.5 L1035.0 877.4 L1029.6 887.1 L1024.1 896.6 L1018.3 905.8 L1012.2 914.7 L1006.0 923.4 L999.5 931.9 L992.8 940.0 L985.9 947.9 L978.8 955.5 L971.5 962.8 L964.0 969.8 L956.3 976.5 L948.4 982.8 L940.4 988.9 L932.3 994.6 L923.9 1000.0 L915.5 1005.0 L906.9 1009.7 L898.2 1014.1 L889.3 1018.1 L880.4 1021.8 L871.4 1025.1 L862.3 1028.0 L853.1 1030.6 L843.8 1032.8 L834.5 1034.6 L825.1 1036.1 L815.7 1037.3" fill="none" stroke="#bdbdbd" stroke-width="0.8"/>
<path d="M678.5 268.5 L682.8 266.9 L687.1 265.4 L691.4 264.0 L695.7 262.7 L700.1 261.5 L704.4 260.3 L708.8 259.2 L713.2 258.2 L717.6 257.3 L722.0 256.4 L726.5 255.6 L730.9 255.0 L735.4 254.3 L739.9 253.8 L744.4 253.4 L748.9 253.0 L753.4 252.7 L757.9 252.5 L762.4 252.3 L767.0 252.3 L771.5 252.3 L776.0 252.4 L780.6 252.6 L785.1 252.9 L789.6 253.2 L794.2 253.7 L798.7 254.2 L803.3 254.8 L807.8 255.4 L812.3 256.2 L816.9 257.0 L821.4 257.9 L825.9 258.9 L830.4 260.0 L834.9 261.2 L839.4 262.4 L843.9 263.7 L848.4 265.1 L852.8 266.6 L857.3 268.1 L861.7 269.8 L866.1 271.5 L870.5 273.3 L874.9 275.1 L879.3 277.1 L883.6 279.1 L888.0 281.2 L892.3 283.3 L896.6 285.6 L900.8 287.9 L905.1 290.3 L909.3 292.8 L913.5 295.3 L917.7 297.9 L921.8 300.6 L925.9 303.4 L930.0 306.2 L934.1 309.1 L938.1 312.1" fill="none" stroke="#fff" stroke-width="7" stroke-linecap="round"/>
<path d="M618.6 300.0 L624.4 296.1 L630.3 292.3 L636.2 288.7 L642.2 285.3 L648.3 282.0 L654.4 278.9 L660.6 275.9 L666.9 273.1 L673.2 270.5 L679.6 268.1 L686.0 265.8 L692.5 263.7 L699.0 261.8 L705.5 260.0 L712.1 258.5 L718.7 257.1 L725.4 255.8 L732.1 254.8 L738.8 253.9 L745.5 253.3 L752.3 252.7 L759.0 252.4 L765.8 252.3 L772.6 252.3 L779.4 252.6 L786.2 253.0 L793.1 253.5 L799.9 254.3 L806.7 255.3 L813.5 256.4 L820.3 257.7 L827.0 259.2 L833.8 260.9 L840.5 262.7 L847.2 264.8 L853.9 267.0 L860.6 269.3 L867.2 271.9 L873.8 274.6 L880.4 277.6 L886.9 280.6 L893.3 283.9 L899.8 287.3 L906.1 290.9 L912.4 294.7 L918.7 298.6 L924.9 302.7 L931.0 306.9 L937.1 311.4 L943.1 315.9 L949.0 320.7 L954.9 325.5 L960.7 330.6 L966.4 335.8 L972.0 341.1 L977.5 346.6 L982.9 352.2 L988.3 358.0 L993.5 363.8" fill="none" stroke="#fff" stroke-width="3.5" stroke-linecap="round"/>
<path d="M1032.8 417.0 L1036.4 422.9 L1039.9 428.8 L1043.3 434.8 L1046.6 440.9 L1049.9 447.0 L1053.0 453.2 L1056.1 459.5 L1059.1 465.8 L1062.0 472.2 L1064.8 478.6 L1067.5 485.2 L1070.2 491.7 L1072.7 498.3 L1075.1 505.0 L1077.5 511.7 L1079.7 518.5 L1081.9 525.3 L1084.0 532.1 L1085.9 539.0 L1087.8 545.9 L1089.6 552.9 L1091.2 559.9 L1092.8 566.9 L1094.3 573.9 L1095.6 581.0 L1096.9 588.1 L1098.1 595.2 L1099.1 602.4 L1100.1 609.5 L1101.0 616.7 L1101.7 623.8 L1102.4 631.0 L1102.9 638.2 L1103.4 645.4 L1103.7 652.6 L1104.0 659.8 L1104.1 667.0 L1104.1 674.2 L1104.0 681.3 L1103.9 688.5 L1103.6 695.7 L1103.2 702.8 L1102.7 709.9 L1102.1 717.0 L1101.4 724.1 L1100.6 731.2 L1099.7 738.2 L1098.7 745.2 L1097.6 752.2 L1096.4 759.1 L1095.1 766.0 L1093.7 772.9 L1092.2 779.7 L1090.6 786.5 L1088.9 793.2 L1087.1 799.9 L1085.2 806.5 L1083.2 813.1 L1081.1 819.6" fill="none" stroke="#f4f4f4" stroke-width="4" stroke-linecap="round"/>
<clipPath id="facec"><path d="M1079.0 615.7 L1079.7 622.5 L1080.4 629.3 L1081.0 636.1 L1081.5 642.9 L1081.9 649.8 L1082.1 656.6 L1082.3 663.4 L1082.4 670.2 L1082.4 677.1 L1082.3 683.9 L1082.1 690.7 L1081.8 697.5 L1081.4 704.2 L1080.9 711.0 L1080.4 717.7 L1079.7 724.4 L1078.9 731.1 L1078.0 737.8 L1077.1 744.4 L1076.0 751.1 L1074.8 757.6 L1073.6 764.2 L1072.3 770.7 L1070.8 777.2 L1069.3 783.6 L1067.7 790.0 L1065.9 796.3 L1064.1 802.6 L1062.2 808.9 L1060.3 815.1 L1058.2 821.2 L1056.0 827.3 L1053.8 833.4 L1051.4 839.3 L1049.0 845.3 L1046.5 851.1 L1043.9 856.9 L1041.2 862.7 L1038.5 868.3 L1035.6 873.9 L1032.7 879.5 L1029.7 884.9 L1026.6 890.3 L1023.4 895.6 L1020.2 900.8 L1016.9 906.0 L1013.5 911.1 L1010.0 916.0 L1006.5 921.0 L1002.9 925.8 L999.2 930.5 L995.5 935.2 L991.6 939.7 L987.8 944.2 L983.8 948.6 L979.8 952.8 L975.7 957.0 L971.6 961.1 L967.4 965.1 L963.2 969.0 L958.8 972.8 L954.5 976.5 L950.1 980.1 L945.6 983.6 L941.1 987.0 L936.5 990.3 L931.9 993.5 L927.2 996.6 L922.5 999.6 L917.7 1002.4 L912.9 1005.2 L908.0 1007.8 L903.2 1010.4 L898.2 1012.8 L893.3 1015.1 L888.3 1017.3 L883.2 1019.4 L878.2 1021.4 L873.1 1023.2 L868.0 1025.0 L862.8 1026.6 L857.6 1028.1 L852.4 1029.5 L847.2 1030.8 L842.0 1032.0 L836.7 1033.1 L831.4 1034.0 L826.2 1034.8 L820.8 1035.5 L815.5 1036.1 L810.2 1036.6 L804.8 1036.9 L799.5 1037.2 L794.1 1037.3 L788.8 1037.3 L783.4 1037.2 L778.1 1036.9 L772.7 1036.6 L767.3 1036.1 L762.0 1035.6 L756.6 1034.9 L751.3 1034.0 L745.9 1033.1 L740.6 1032.1 L735.3 1030.9 L730.0 1029.6 L724.7 1028.3 L719.4 1026.8 L714.2 1025.2 L708.9 1023.4 L703.7 1021.6 L698.5 1019.7 L693.4 1017.6 L688.2 1015.4 L683.1 1013.2 L678.0 1010.8 L673.0 1008.3 L668.0 1005.7 L663.0 1003.0 L658.0 1000.2 L653.1 997.3 L648.2 994.3 L643.4 991.2 L638.6 988.0 L633.8 984.7 L629.1 981.2 L624.4 977.7 L619.8 974.1 L615.2 970.4 L610.7 966.6 L606.2 962.8 L601.8 958.8 L597.4 954.7 L593.1 950.6 L588.8 946.3 L584.6 942.0 L580.5 937.6 L576.4 933.1 L572.3 928.5 L568.4 923.8 L564.4 919.1 L560.6 914.2 L556.8 909.3 L553.1 904.4 L549.4 899.3 L545.8 894.2 L542.3 889.0 L538.9 883.7 L535.5 878.4 L532.2 873.0 L528.9 867.5 L525.8 862.0 L522.7 856.4 L519.7 850.8 L516.7 845.1 L513.9 839.3 L511.1 833.5 L508.4 827.6 L505.8 821.7 L503.2 815.7 L500.7 809.7 L498.4 803.7 L496.1 797.5 L493.8 791.4 L491.7 785.2 L489.6 779.0 L487.7 772.7 L485.8 766.4 L484.0 760.1 L482.3 753.7 L480.6 747.3 L479.1 740.9 L477.6 734.4 L476.3 728.0 L475.0 721.5 L473.8 715.0 L472.7 708.4 L471.7 701.9 L470.8 695.3 L469.9 688.7 L469.2 682.1 L468.5 675.5 L468.0 668.9 L467.5 662.3 L467.1 655.7 L466.8 649.1 L466.6 642.5 L466.5 635.9 L466.5 629.3 L466.6 622.7 L466.7 616.1 L467.0 609.5 L467.3 602.9 L467.8 596.4 L468.3 589.8 L468.9 583.3 L469.6 576.8 L470.4 570.3 L471.3 563.9 L472.3 557.5 L473.3 551.1 L474.5 544.7 L475.7 538.3 L477.0 532.0 L478.5 525.8 L480.0 519.5 L481.6 513.3 L483.2 507.2 L485.0 501.0 L486.9 495.0 L488.8 488.9 L490.8 483.0 L492.9 477.0 L495.1 471.2 L497.4 465.3 L499.8 459.6 L502.2 453.9 L504.7 448.2 L507.3 442.6 L510.0 437.1 L512.8 431.6 L515.6 426.2 L518.5 420.8 L521.5 415.6 L524.6 410.4 L527.7 405.2 L530.9 400.2 L534.2 395.2 L537.6 390.3 L541.0 385.4 L544.5 380.7 L548.1 376.0 L551.7 371.4 L555.5 366.9 L559.2 362.5 L563.1 358.1 L567.0 353.9 L570.9 349.7 L575.0 345.6 L579.1 341.6 L583.2 337.7 L587.4 333.9 L591.7 330.2 L596.0 326.6 L600.4 323.1 L604.8 319.7 L609.3 316.4 L613.8 313.2 L618.4 310.0 L623.1 307.0 L627.7 304.1 L632.5 301.3 L637.2 298.6 L642.0 296.0 L646.9 293.5 L651.8 291.2 L656.7 288.9 L661.7 286.7 L666.7 284.7 L671.7 282.7 L676.8 280.9 L681.9 279.2 L687.0 277.6 L692.2 276.1 L697.3 274.7 L702.5 273.4 L707.8 272.3 L713.0 271.3 L718.3 270.3 L723.6 269.5 L728.9 268.8 L734.2 268.3 L739.6 267.8 L744.9 267.5 L750.3 267.3 L755.6 267.2 L761.0 267.2 L766.4 267.3 L771.8 267.6 L777.2 267.9 L782.6 268.4 L787.9 269.0 L793.3 269.8 L798.7 270.6 L804.1 271.5 L809.5 272.6 L814.8 273.8 L820.2 275.1 L825.5 276.5 L830.8 278.1 L836.1 279.7 L841.4 281.5 L846.7 283.4 L851.9 285.4 L857.1 287.5 L862.3 289.7 L867.5 292.1 L872.7 294.5 L877.8 297.1 L882.9 299.8 L887.9 302.6 L892.9 305.5 L897.9 308.5 L902.9 311.6 L907.8 314.8 L912.7 318.1 L917.5 321.5 L922.3 325.0 L927.0 328.7 L931.7 332.4 L936.3 336.2 L940.9 340.2 L945.5 344.2 L950.0 348.3 L954.4 352.5 L958.8 356.9 L963.1 361.3 L967.4 365.8 L971.6 370.4 L975.8 375.0 L979.8 379.8 L983.9 384.6 L987.8 389.6 L991.7 394.6 L995.5 399.7 L999.3 404.9 L1003.0 410.1 L1006.6 415.5 L1010.1 420.9 L1013.6 426.4 L1017.0 431.9 L1020.3 437.6 L1023.6 443.2 L1026.7 449.0 L1029.8 454.8 L1032.8 460.7 L1035.8 466.7 L1038.6 472.7 L1041.4 478.7 L1044.1 484.8 L1046.7 491.0 L1049.2 497.2 L1051.6 503.5 L1053.9 509.8 L1056.2 516.2 L1058.3 522.6 L1060.4 529.0 L1062.4 535.5 L1064.3 542.1 L1066.1 548.6 L1067.8 555.2 L1069.4 561.8 L1070.9 568.5 L1072.4 575.2 L1073.7 581.9 L1075.0 588.6 L1076.1 595.3 L1077.2 602.1 L1078.1 608.9 L1079.0 615.7Z"/></clipPath>
<polygon points="693.0,262.0 711.0,260.0 720.0,335.0 703.0,338.0" fill="#fff" clip-path="url(#facec)"/>
<polygon points="664.0,268.0 682.0,264.0 694.0,338.0 678.0,342.0" fill="#f1f1f1" clip-path="url(#facec)"/>
<polygon points="627.0,290.0 633.0,288.0 656.0,352.0 650.0,356.0" fill="#fff" clip-path="url(#facec)"/>
<polygon points="1010.0,548.0 1068.0,528.0 1074.0,563.0 1024.0,580.0" fill="#fff" clip-path="url(#facec)"/>
<polygon points="1030.0,606.0 1078.0,593.0 1082.0,614.0 1032.0,624.0" fill="#fff" clip-path="url(#facec)"/>
<polygon points="1032.0,640.0 1084.0,632.0 1086.0,700.0 1034.0,700.0" fill="#ececec" clip-path="url(#facec)"/>
<polygon points="811.0,975.0 824.0,975.0 834.0,1042.0 821.0,1045.0" fill="#fff" clip-path="url(#facec)"/>
<polygon points="847.0,972.0 875.0,962.0 895.0,1020.0 862.0,1035.0" fill="#fff" clip-path="url(#facec)"/>
<polygon points="462.0,688.0 515.0,686.0 517.0,708.0 465.0,712.0" fill="#fff" clip-path="url(#facec)"/>
<polygon points="462.0,712.0 517.0,708.0 522.0,740.0 470.0,748.0" fill="#efefef" clip-path="url(#facec)"/>
<clipPath id="hole1"><path d="M1032.6 621.2 L1033.2 627.0 L1033.8 632.8 L1034.3 638.6 L1034.7 644.4 L1035.0 650.2 L1035.3 656.0 L1035.4 661.8 L1035.5 667.6 L1035.5 673.4 L1035.4 679.2 L1035.3 685.0 L1035.0 690.8 L1034.7 696.5 L1034.3 702.3 L1033.8 708.0 L1033.2 713.7 L1032.5 719.4 L1031.8 725.1 L1031.0 730.7 L1030.1 736.3 L1029.1 741.9 L1028.1 747.5 L1026.9 753.0 L1025.7 758.5 L1024.4 764.0 L1023.0 769.4 L1021.6 774.8 L1020.0 780.2 L1018.4 785.5 L1016.7 790.8 L1015.0 796.0 L1013.2 801.2 L1011.2 806.3 L1009.3 811.4 L1007.2 816.5 L1005.1 821.5 L1002.9 826.4 L1000.6 831.3 L998.3 836.1 L995.8 840.9 L993.4 845.6 L990.8 850.2 L988.2 854.8 L985.5 859.3 L982.8 863.8 L980.0 868.2 L977.1 872.5 L974.1 876.7 L971.1 880.9 L968.1 885.0 L964.9 889.1 L961.8 893.0 L958.5 896.9 L955.2 900.7 L951.9 904.5 L948.5 908.1 L945.0 911.7 L941.5 915.2 L937.9 918.6 L934.3 921.9 L930.7 925.2 L927.0 928.3 L923.2 931.4 L919.4 934.4 L915.5 937.3 L911.7 940.1 L907.7 942.8 L903.7 945.5 L899.7 948.0 L895.7 950.5 L891.6 952.8 L887.5 955.1 L883.3 957.3 L879.1 959.3 L874.9 961.3 L870.7 963.2 L866.4 965.0 L862.1 966.7 L857.7 968.3 L853.4 969.8 L849.0 971.2 L844.6 972.5 L840.2 973.7 L835.7 974.8 L831.3 975.8 L826.8 976.8 L822.3 977.6 L817.8 978.3 L813.3 978.9 L808.7 979.4 L804.2 979.8 L799.6 980.1 L795.1 980.4 L790.5 980.5 L785.9 980.5 L781.4 980.4 L776.8 980.2 L772.2 979.9 L767.7 979.6 L763.1 979.1 L758.5 978.5 L754.0 977.8 L749.4 977.0 L744.9 976.2 L740.3 975.2 L735.8 974.1 L731.3 973.0 L726.8 971.7 L722.3 970.3 L717.9 968.9 L713.4 967.3 L709.0 965.7 L704.6 963.9 L700.2 962.1 L695.8 960.2 L691.5 958.2 L687.2 956.1 L682.9 953.8 L678.6 951.6 L674.4 949.2 L670.2 946.7 L666.0 944.2 L661.9 941.5 L657.8 938.8 L653.7 936.0 L649.7 933.1 L645.7 930.1 L641.8 927.0 L637.9 923.9 L634.0 920.6 L630.2 917.3 L626.4 913.9 L622.6 910.5 L618.9 906.9 L615.3 903.3 L611.7 899.6 L608.1 895.9 L604.6 892.0 L601.2 888.1 L597.8 884.1 L594.5 880.1 L591.2 876.0 L587.9 871.8 L584.7 867.6 L581.6 863.3 L578.5 858.9 L575.5 854.5 L572.6 850.0 L569.7 845.4 L566.9 840.8 L564.1 836.1 L561.4 831.4 L558.8 826.7 L556.2 821.8 L553.7 817.0 L551.2 812.1 L548.8 807.1 L546.5 802.1 L544.3 797.0 L542.1 791.9 L540.0 786.8 L537.9 781.6 L536.0 776.4 L534.1 771.2 L532.2 765.9 L530.5 760.6 L528.8 755.2 L527.2 749.8 L525.7 744.4 L524.2 739.0 L522.8 733.5 L521.5 728.0 L520.2 722.5 L519.1 717.0 L518.0 711.4 L517.0 705.9 L516.0 700.3 L515.1 694.7 L514.4 689.1 L513.6 683.5 L513.0 677.9 L512.4 672.2 L512.0 666.6 L511.6 660.9 L511.2 655.3 L511.0 649.6 L510.8 644.0 L510.7 638.3 L510.7 632.7 L510.8 627.1 L510.9 621.4 L511.1 615.8 L511.4 610.2 L511.8 604.6 L512.2 599.0 L512.8 593.5 L513.4 587.9 L514.1 582.4 L514.8 576.9 L515.7 571.4 L516.6 565.9 L517.6 560.5 L518.6 555.1 L519.8 549.7 L521.0 544.3 L522.3 539.0 L523.6 533.7 L525.1 528.4 L526.6 523.2 L528.2 518.0 L529.8 512.9 L531.6 507.8 L533.4 502.7 L535.3 497.7 L537.2 492.7 L539.2 487.8 L541.3 482.9 L543.5 478.1 L545.7 473.4 L548.0 468.6 L550.3 464.0 L552.8 459.4 L555.3 454.8 L557.8 450.3 L560.5 445.9 L563.1 441.5 L565.9 437.2 L568.7 432.9 L571.6 428.7 L574.5 424.6 L577.5 420.6 L580.6 416.6 L583.7 412.7 L586.9 408.8 L590.1 405.1 L593.4 401.4 L596.7 397.7 L600.1 394.2 L603.5 390.7 L607.0 387.3 L610.6 384.0 L614.2 380.8 L617.8 377.6 L621.5 374.6 L625.3 371.6 L629.0 368.7 L632.9 365.9 L636.7 363.1 L640.7 360.5 L644.6 357.9 L648.6 355.5 L652.6 353.1 L656.7 350.8 L660.8 348.6 L665.0 346.5 L669.1 344.5 L673.3 342.5 L677.6 340.7 L681.8 339.0 L686.1 337.3 L690.5 335.8 L694.8 334.3 L699.2 333.0 L703.6 331.7 L708.0 330.5 L712.4 329.5 L716.9 328.5 L721.4 327.6 L725.9 326.9 L730.4 326.2 L734.9 325.6 L739.4 325.2 L744.0 324.8 L748.6 324.5 L753.1 324.3 L757.7 324.3 L762.3 324.3 L766.9 324.4 L771.5 324.7 L776.0 325.0 L780.6 325.4 L785.2 325.9 L789.8 326.6 L794.4 327.3 L799.0 328.1 L803.5 329.1 L808.1 330.1 L812.6 331.2 L817.2 332.4 L821.7 333.8 L826.2 335.2 L830.7 336.7 L835.2 338.3 L839.7 340.0 L844.1 341.8 L848.5 343.8 L852.9 345.8 L857.3 347.9 L861.7 350.1 L866.0 352.3 L870.3 354.7 L874.6 357.2 L878.8 359.8 L883.0 362.4 L887.2 365.2 L891.3 368.0 L895.4 370.9 L899.5 373.9 L903.5 377.0 L907.5 380.2 L911.5 383.5 L915.4 386.8 L919.2 390.3 L923.0 393.8 L926.8 397.4 L930.5 401.1 L934.2 404.8 L937.8 408.6 L941.4 412.6 L944.9 416.5 L948.4 420.6 L951.8 424.7 L955.2 428.9 L958.5 433.2 L961.7 437.6 L964.9 442.0 L968.1 446.4 L971.1 451.0 L974.1 455.6 L977.1 460.3 L980.0 465.0 L982.8 469.8 L985.6 474.6 L988.2 479.5 L990.9 484.5 L993.4 489.5 L995.9 494.5 L998.3 499.6 L1000.7 504.8 L1002.9 510.0 L1005.1 515.3 L1007.3 520.5 L1009.3 525.9 L1011.3 531.3 L1013.2 536.7 L1015.1 542.1 L1016.8 547.6 L1018.5 553.1 L1020.1 558.7 L1021.6 564.2 L1023.1 569.8 L1024.5 575.5 L1025.8 581.1 L1027.0 586.8 L1028.1 592.5 L1029.2 598.2 L1030.1 604.0 L1031.0 609.7 L1031.8 615.5 L1032.6 621.2Z"/></clipPath>
<clipPath id="hole2"><path d="M1044.9 619.8 L1045.6 625.5 L1046.2 631.3 L1046.7 637.1 L1047.1 642.9 L1047.4 648.7 L1047.6 654.5 L1047.8 660.3 L1047.9 666.1 L1047.9 671.9 L1047.8 677.7 L1047.6 683.4 L1047.4 689.2 L1047.0 695.0 L1046.6 700.7 L1046.1 706.4 L1045.6 712.1 L1044.9 717.8 L1044.2 723.5 L1043.3 729.1 L1042.4 734.7 L1041.5 740.3 L1040.4 745.9 L1039.3 751.4 L1038.1 756.9 L1036.8 762.4 L1035.4 767.8 L1033.9 773.2 L1032.4 778.5 L1030.8 783.8 L1029.1 789.1 L1027.3 794.3 L1025.5 799.5 L1023.6 804.7 L1021.6 809.7 L1019.6 814.8 L1017.4 819.8 L1015.2 824.7 L1013.0 829.6 L1010.6 834.4 L1008.2 839.1 L1005.7 843.8 L1003.2 848.5 L1000.6 853.1 L997.9 857.6 L995.1 862.0 L992.3 866.4 L989.5 870.7 L986.5 875.0 L983.5 879.2 L980.4 883.3 L977.3 887.3 L974.1 891.3 L970.9 895.1 L967.6 898.9 L964.3 902.7 L960.9 906.3 L957.4 909.9 L953.9 913.4 L950.3 916.8 L946.7 920.1 L943.1 923.4 L939.3 926.5 L935.6 929.6 L931.8 932.6 L927.9 935.5 L924.1 938.3 L920.1 941.0 L916.2 943.6 L912.1 946.2 L908.1 948.6 L904.0 951.0 L899.9 953.2 L895.7 955.4 L891.5 957.5 L887.3 959.5 L883.1 961.4 L878.8 963.1 L874.5 964.8 L870.2 966.4 L865.8 967.9 L861.4 969.3 L857.0 970.6 L852.6 971.9 L848.2 973.0 L843.7 974.0 L839.2 974.9 L834.7 975.7 L830.2 976.4 L825.7 977.0 L821.2 977.5 L816.6 978.0 L812.1 978.3 L807.5 978.5 L803.0 978.6 L798.4 978.6 L793.8 978.5 L789.3 978.4 L784.7 978.1 L780.1 977.7 L775.6 977.2 L771.0 976.6 L766.5 976.0 L761.9 975.2 L757.4 974.3 L752.8 973.3 L748.3 972.3 L743.8 971.1 L739.3 969.8 L734.8 968.5 L730.4 967.0 L725.9 965.5 L721.5 963.8 L717.1 962.1 L712.7 960.3 L708.3 958.3 L704.0 956.3 L699.7 954.2 L695.4 952.0 L691.2 949.7 L686.9 947.4 L682.7 944.9 L678.6 942.3 L674.4 939.7 L670.3 937.0 L666.3 934.2 L662.2 931.3 L658.3 928.3 L654.3 925.2 L650.4 922.1 L646.5 918.8 L642.7 915.5 L638.9 912.2 L635.2 908.7 L631.5 905.2 L627.9 901.5 L624.3 897.9 L620.7 894.1 L617.2 890.3 L613.8 886.4 L610.4 882.4 L607.0 878.4 L603.7 874.2 L600.5 870.1 L597.3 865.8 L594.2 861.5 L591.1 857.2 L588.1 852.7 L585.2 848.3 L582.3 843.7 L579.5 839.1 L576.7 834.5 L574.0 829.8 L571.3 825.0 L568.8 820.2 L566.3 815.3 L563.8 810.4 L561.4 805.4 L559.1 800.4 L556.9 795.4 L554.7 790.3 L552.6 785.2 L550.5 780.0 L548.6 774.8 L546.7 769.6 L544.8 764.3 L543.1 759.0 L541.4 753.6 L539.8 748.2 L538.3 742.8 L536.8 737.4 L535.4 731.9 L534.1 726.5 L532.8 721.0 L531.7 715.4 L530.6 709.9 L529.6 704.3 L528.6 698.8 L527.8 693.2 L527.0 687.6 L526.3 682.0 L525.6 676.3 L525.1 670.7 L524.6 665.1 L524.2 659.4 L523.9 653.8 L523.6 648.2 L523.4 642.5 L523.3 636.9 L523.3 631.2 L523.4 625.6 L523.5 620.0 L523.8 614.4 L524.0 608.8 L524.4 603.2 L524.9 597.6 L525.4 592.0 L526.0 586.5 L526.7 581.0 L527.4 575.5 L528.3 570.0 L529.2 564.5 L530.2 559.1 L531.2 553.7 L532.4 548.3 L533.6 543.0 L534.9 537.6 L536.3 532.3 L537.7 527.1 L539.2 521.9 L540.8 516.7 L542.5 511.6 L544.2 506.5 L546.0 501.4 L547.9 496.4 L549.8 491.4 L551.8 486.5 L553.9 481.7 L556.1 476.8 L558.3 472.1 L560.6 467.4 L563.0 462.7 L565.4 458.1 L567.9 453.5 L570.4 449.0 L573.1 444.6 L575.8 440.2 L578.5 435.9 L581.3 431.7 L584.2 427.5 L587.1 423.4 L590.1 419.3 L593.2 415.4 L596.3 411.5 L599.5 407.6 L602.7 403.9 L606.0 400.2 L609.3 396.5 L612.7 393.0 L616.1 389.5 L619.6 386.1 L623.2 382.8 L626.8 379.6 L630.4 376.5 L634.1 373.4 L637.9 370.4 L641.6 367.5 L645.5 364.7 L649.3 362.0 L653.2 359.3 L657.2 356.8 L661.2 354.3 L665.2 351.9 L669.3 349.6 L673.4 347.4 L677.5 345.3 L681.7 343.3 L685.9 341.4 L690.1 339.6 L694.4 337.8 L698.7 336.2 L703.0 334.6 L707.4 333.2 L711.7 331.8 L716.1 330.6 L720.6 329.4 L725.0 328.4 L729.4 327.4 L733.9 326.5 L738.4 325.7 L742.9 325.1 L747.4 324.5 L752.0 324.0 L756.5 323.7 L761.1 323.4 L765.7 323.2 L770.2 323.1 L774.8 323.2 L779.4 323.3 L784.0 323.5 L788.6 323.9 L793.1 324.3 L797.7 324.8 L802.3 325.4 L806.9 326.2 L811.5 327.0 L816.0 327.9 L820.6 328.9 L825.1 330.1 L829.7 331.3 L834.2 332.6 L838.7 334.0 L843.2 335.6 L847.7 337.2 L852.2 338.9 L856.6 340.7 L861.0 342.6 L865.4 344.6 L869.8 346.7 L874.1 348.9 L878.5 351.2 L882.8 353.6 L887.0 356.0 L891.3 358.6 L895.5 361.2 L899.6 364.0 L903.8 366.8 L907.9 369.7 L911.9 372.7 L916.0 375.8 L920.0 379.0 L923.9 382.3 L927.8 385.6 L931.7 389.0 L935.5 392.6 L939.2 396.2 L943.0 399.8 L946.6 403.6 L950.3 407.4 L953.8 411.3 L957.4 415.3 L960.8 419.4 L964.2 423.5 L967.6 427.7 L970.9 432.0 L974.2 436.3 L977.3 440.7 L980.5 445.2 L983.5 449.7 L986.6 454.3 L989.5 459.0 L992.4 463.7 L995.2 468.5 L998.0 473.3 L1000.6 478.2 L1003.3 483.1 L1005.8 488.1 L1008.3 493.2 L1010.7 498.3 L1013.1 503.5 L1015.3 508.7 L1017.5 513.9 L1019.7 519.2 L1021.7 524.5 L1023.7 529.9 L1025.6 535.3 L1027.4 540.7 L1029.2 546.2 L1030.9 551.7 L1032.5 557.2 L1034.0 562.8 L1035.5 568.4 L1036.8 574.0 L1038.1 579.7 L1039.3 585.4 L1040.5 591.1 L1041.5 596.8 L1042.5 602.5 L1043.4 608.2 L1044.2 614.0 L1044.9 619.8Z"/></clipPath>
<g clip-path="url(#hole1)"><path d="M1032.6 621.2 L1033.2 627.0 L1033.8 632.8 L1034.3 638.6 L1034.7 644.4 L1035.0 650.2 L1035.3 656.0 L1035.4 661.8 L1035.5 667.6 L1035.5 673.4 L1035.4 679.2 L1035.3 685.0 L1035.0 690.8 L1034.7 696.5 L1034.3 702.3 L1033.8 708.0 L1033.2 713.7 L1032.5 719.4 L1031.8 725.1 L1031.0 730.7 L1030.1 736.3 L1029.1 741.9 L1028.1 747.5 L1026.9 753.0 L1025.7 758.5 L1024.4 764.0 L1023.0 769.4 L1021.6 774.8 L1020.0 780.2 L1018.4 785.5 L1016.7 790.8 L1015.0 796.0 L1013.2 801.2 L1011.2 806.3 L1009.3 811.4 L1007.2 816.5 L1005.1 821.5 L1002.9 826.4 L1000.6 831.3 L998.3 836.1 L995.8 840.9 L993.4 845.6 L990.8 850.2 L988.2 854.8 L985.5 859.3 L982.8 863.8 L980.0 868.2 L977.1 872.5 L974.1 876.7 L971.1 880.9 L968.1 885.0 L964.9 889.1 L961.8 893.0 L958.5 896.9 L955.2 900.7 L951.9 904.5 L948.5 908.1 L945.0 911.7 L941.5 915.2 L937.9 918.6 L934.3 921.9 L930.7 925.2 L927.0 928.3 L923.2 931.4 L919.4 934.4 L915.5 937.3 L911.7 940.1 L907.7 942.8 L903.7 945.5 L899.7 948.0 L895.7 950.5 L891.6 952.8 L887.5 955.1 L883.3 957.3 L879.1 959.3 L874.9 961.3 L870.7 963.2 L866.4 965.0 L862.1 966.7 L857.7 968.3 L853.4 969.8 L849.0 971.2 L844.6 972.5 L840.2 973.7 L835.7 974.8 L831.3 975.8 L826.8 976.8 L822.3 977.6 L817.8 978.3 L813.3 978.9 L808.7 979.4 L804.2 979.8 L799.6 980.1 L795.1 980.4 L790.5 980.5 L785.9 980.5 L781.4 980.4 L776.8 980.2 L772.2 979.9 L767.7 979.6 L763.1 979.1 L758.5 978.5 L754.0 977.8 L749.4 977.0 L744.9 976.2 L740.3 975.2 L735.8 974.1 L731.3 973.0 L726.8 971.7 L722.3 970.3 L717.9 968.9 L713.4 967.3 L709.0 965.7 L704.6 963.9 L700.2 962.1 L695.8 960.2 L691.5 958.2 L687.2 956.1 L682.9 953.8 L678.6 951.6 L674.4 949.2 L670.2 946.7 L666.0 944.2 L661.9 941.5 L657.8 938.8 L653.7 936.0 L649.7 933.1 L645.7 930.1 L641.8 927.0 L637.9 923.9 L634.0 920.6 L630.2 917.3 L626.4 913.9 L622.6 910.5 L618.9 906.9 L615.3 903.3 L611.7 899.6 L608.1 895.9 L604.6 892.0 L601.2 888.1 L597.8 884.1 L594.5 880.1 L591.2 876.0 L587.9 871.8 L584.7 867.6 L581.6 863.3 L578.5 858.9 L575.5 854.5 L572.6 850.0 L569.7 845.4 L566.9 840.8 L564.1 836.1 L561.4 831.4 L558.8 826.7 L556.2 821.8 L553.7 817.0 L551.2 812.1 L548.8 807.1 L546.5 802.1 L544.3 797.0 L542.1 791.9 L540.0 786.8 L537.9 781.6 L536.0 776.4 L534.1 771.2 L532.2 765.9 L530.5 760.6 L528.8 755.2 L527.2 749.8 L525.7 744.4 L524.2 739.0 L522.8 733.5 L521.5 728.0 L520.2 722.5 L519.1 717.0 L518.0 711.4 L517.0 705.9 L516.0 700.3 L515.1 694.7 L514.4 689.1 L513.6 683.5 L513.0 677.9 L512.4 672.2 L512.0 666.6 L511.6 660.9 L511.2 655.3 L511.0 649.6 L510.8 644.0 L510.7 638.3 L510.7 632.7 L510.8 627.1 L510.9 621.4 L511.1 615.8 L511.4 610.2 L511.8 604.6 L512.2 599.0 L512.8 593.5 L513.4 587.9 L514.1 582.4 L514.8 576.9 L515.7 571.4 L516.6 565.9 L517.6 560.5 L518.6 555.1 L519.8 549.7 L521.0 544.3 L522.3 539.0 L523.6 533.7 L525.1 528.4 L526.6 523.2 L528.2 518.0 L529.8 512.9 L531.6 507.8 L533.4 502.7 L535.3 497.7 L537.2 492.7 L539.2 487.8 L541.3 482.9 L543.5 478.1 L545.7 473.4 L548.0 468.6 L550.3 464.0 L552.8 459.4 L555.3 454.8 L557.8 450.3 L560.5 445.9 L563.1 441.5 L565.9 437.2 L568.7 432.9 L571.6 428.7 L574.5 424.6 L577.5 420.6 L580.6 416.6 L583.7 412.7 L586.9 408.8 L590.1 405.1 L593.4 401.4 L596.7 397.7 L600.1 394.2 L603.5 390.7 L607.0 387.3 L610.6 384.0 L614.2 380.8 L617.8 377.6 L621.5 374.6 L625.3 371.6 L629.0 368.7 L632.9 365.9 L636.7 363.1 L640.7 360.5 L644.6 357.9 L648.6 355.5 L652.6 353.1 L656.7 350.8 L660.8 348.6 L665.0 346.5 L669.1 344.5 L673.3 342.5 L677.6 340.7 L681.8 339.0 L686.1 337.3 L690.5 335.8 L694.8 334.3 L699.2 333.0 L703.6 331.7 L708.0 330.5 L712.4 329.5 L716.9 328.5 L721.4 327.6 L725.9 326.9 L730.4 326.2 L734.9 325.6 L739.4 325.2 L744.0 324.8 L748.6 324.5 L753.1 324.3 L757.7 324.3 L762.3 324.3 L766.9 324.4 L771.5 324.7 L776.0 325.0 L780.6 325.4 L785.2 325.9 L789.8 326.6 L794.4 327.3 L799.0 328.1 L803.5 329.1 L808.1 330.1 L812.6 331.2 L817.2 332.4 L821.7 333.8 L826.2 335.2 L830.7 336.7 L835.2 338.3 L839.7 340.0 L844.1 341.8 L848.5 343.8 L852.9 345.8 L857.3 347.9 L861.7 350.1 L866.0 352.3 L870.3 354.7 L874.6 357.2 L878.8 359.8 L883.0 362.4 L887.2 365.2 L891.3 368.0 L895.4 370.9 L899.5 373.9 L903.5 377.0 L907.5 380.2 L911.5 383.5 L915.4 386.8 L919.2 390.3 L923.0 393.8 L926.8 397.4 L930.5 401.1 L934.2 404.8 L937.8 408.6 L941.4 412.6 L944.9 416.5 L948.4 420.6 L951.8 424.7 L955.2 428.9 L958.5 433.2 L961.7 437.6 L964.9 442.0 L968.1 446.4 L971.1 451.0 L974.1 455.6 L977.1 460.3 L980.0 465.0 L982.8 469.8 L985.6 474.6 L988.2 479.5 L990.9 484.5 L993.4 489.5 L995.9 494.5 L998.3 499.6 L1000.7 504.8 L1002.9 510.0 L1005.1 515.3 L1007.3 520.5 L1009.3 525.9 L1011.3 531.3 L1013.2 536.7 L1015.1 542.1 L1016.8 547.6 L1018.5 553.1 L1020.1 558.7 L1021.6 564.2 L1023.1 569.8 L1024.5 575.5 L1025.8 581.1 L1027.0 586.8 L1028.1 592.5 L1029.2 598.2 L1030.1 604.0 L1031.0 609.7 L1031.8 615.5 L1032.6 621.2Z" fill="#a8a8a8"/><path d="M825.5 976.9 L841.7 974.5 L834.0 975.8 L817.9 978.3Z" fill="#333333" stroke="#333333" stroke-width="0.6"/><path d="M817.9 978.3 L834.0 975.8 L826.3 976.9 L810.1 979.3Z" fill="#212121" stroke="#212121" stroke-width="0.6"/><path d="M810.1 979.3 L826.3 976.9 L818.5 977.6 L802.4 980.1Z" fill="#242424" stroke="#242424" stroke-width="0.6"/><path d="M802.4 980.1 L818.5 977.6 L810.7 978.1 L794.6 980.5Z" fill="#2c2c2c" stroke="#2c2c2c" stroke-width="0.6"/><path d="M794.6 980.5 L810.7 978.1 L802.9 978.3 L786.8 980.7Z" fill="#424242" stroke="#424242" stroke-width="0.6"/><path d="M786.8 980.7 L802.9 978.3 L795.1 978.1 L779.0 980.6Z" fill="#393939" stroke="#393939" stroke-width="0.6"/><path d="M779.0 980.6 L795.1 978.1 L787.3 977.7 L771.2 980.1Z" fill="#414141" stroke="#414141" stroke-width="0.6"/><path d="M771.2 980.1 L787.3 977.7 L779.5 977.0 L763.4 979.4Z" fill="#4a4a4a" stroke="#4a4a4a" stroke-width="0.6"/><path d="M763.4 979.4 L779.5 977.0 L771.7 976.0 L755.6 978.4Z" fill="#414141" stroke="#414141" stroke-width="0.6"/><path d="M755.6 978.4 L771.7 976.0 L764.0 974.7 L747.8 977.2Z" fill="#363636" stroke="#363636" stroke-width="0.6"/><path d="M747.8 977.2 L764.0 974.7 L756.2 973.2 L740.0 975.6Z" fill="#4e4e4e" stroke="#4e4e4e" stroke-width="0.6"/><path d="M740.0 975.6 L756.2 973.2 L748.5 971.3 L732.3 973.7Z" fill="#585858" stroke="#585858" stroke-width="0.6"/><path d="M732.3 973.7 L748.5 971.3 L740.8 969.2 L724.6 971.6Z" fill="#4f4f4f" stroke="#4f4f4f" stroke-width="0.6"/><path d="M724.6 971.6 L740.8 969.2 L733.2 966.8 L717.0 969.2Z" fill="#535353" stroke="#535353" stroke-width="0.6"/><path d="M717.0 969.2 L733.2 966.8 L725.6 964.1 L709.4 966.5Z" fill="#575757" stroke="#575757" stroke-width="0.6"/><path d="M709.4 966.5 L725.6 964.1 L718.0 961.1 L701.8 963.5Z" fill="#525252" stroke="#525252" stroke-width="0.6"/><path d="M701.8 963.5 L718.0 961.1 L710.6 957.9 L694.4 960.3Z" fill="#5e5e5e" stroke="#5e5e5e" stroke-width="0.6"/><path d="M694.4 960.3 L710.6 957.9 L703.2 954.4 L687.0 956.7Z" fill="#595959" stroke="#595959" stroke-width="0.6"/><path d="M687.0 956.7 L703.2 954.4 L695.9 950.6 L679.6 953.0Z" fill="#646464" stroke="#646464" stroke-width="0.6"/><path d="M679.6 953.0 L695.9 950.6 L688.6 946.6 L672.4 948.9Z" fill="#595959" stroke="#595959" stroke-width="0.6"/><path d="M672.4 948.9 L688.6 946.6 L681.5 942.3 L665.3 944.6Z" fill="#5c5c5c" stroke="#5c5c5c" stroke-width="0.6"/><path d="M665.3 944.6 L681.5 942.3 L674.4 937.7 L658.2 940.1Z" fill="#6d6d6d" stroke="#6d6d6d" stroke-width="0.6"/><path d="M658.2 940.1 L674.4 937.7 L667.5 932.9 L651.3 935.3Z" fill="#626262" stroke="#626262" stroke-width="0.6"/><path d="M651.3 935.3 L667.5 932.9 L660.7 927.9 L644.4 930.2Z" fill="#737373" stroke="#737373" stroke-width="0.6"/><path d="M644.4 930.2 L660.7 927.9 L653.9 922.6 L637.7 924.9Z" fill="#696969" stroke="#696969" stroke-width="0.6"/><path d="M637.7 924.9 L653.9 922.6 L647.3 917.1 L631.1 919.4Z" fill="#6d6d6d" stroke="#6d6d6d" stroke-width="0.6"/><path d="M631.1 919.4 L647.3 917.1 L640.9 911.3 L624.6 913.6Z" fill="#7e7e7e" stroke="#7e7e7e" stroke-width="0.6"/><path d="M624.6 913.6 L640.9 911.3 L634.5 905.3 L618.2 907.6Z" fill="#828282" stroke="#828282" stroke-width="0.6"/><path d="M618.2 907.6 L634.5 905.3 L628.3 899.1 L612.0 901.4Z" fill="#787878" stroke="#787878" stroke-width="0.6"/><path d="M612.0 901.4 L628.3 899.1 L622.2 892.7 L605.9 895.0Z" fill="#898989" stroke="#898989" stroke-width="0.6"/><path d="M605.9 895.0 L622.2 892.7 L616.3 886.1 L600.0 888.4Z" fill="#8d8d8d" stroke="#8d8d8d" stroke-width="0.6"/><path d="M600.0 888.4 L616.3 886.1 L610.5 879.3 L594.2 881.5Z" fill="#818181" stroke="#818181" stroke-width="0.6"/><path d="M594.2 881.5 L610.5 879.3 L604.9 872.2 L588.6 874.5Z" fill="#898989" stroke="#898989" stroke-width="0.6"/><path d="M588.6 874.5 L604.9 872.2 L599.5 865.0 L583.2 867.3Z" fill="#8c8c8c" stroke="#8c8c8c" stroke-width="0.6"/><path d="M583.2 867.3 L599.5 865.0 L594.2 857.6 L577.9 859.9Z" fill="#9c9c9c" stroke="#9c9c9c" stroke-width="0.6"/><path d="M577.9 859.9 L594.2 857.6 L589.0 850.0 L572.7 852.3Z" fill="#989898" stroke="#989898" stroke-width="0.6"/><path d="M572.7 852.3 L589.0 850.0 L584.1 842.3 L567.8 844.5Z" fill="#8c8c8c" stroke="#8c8c8c" stroke-width="0.6"/><path d="M567.8 844.5 L584.1 842.3 L579.3 834.4 L563.0 836.6Z" fill="#909090" stroke="#909090" stroke-width="0.6"/><path d="M563.0 836.6 L579.3 834.4 L574.7 826.3 L558.4 828.5Z" fill="#9c9c9c" stroke="#9c9c9c" stroke-width="0.6"/><path d="M558.4 828.5 L574.7 826.3 L570.3 818.1 L554.0 820.2Z" fill="#a9a9a9" stroke="#a9a9a9" stroke-width="0.6"/><path d="M554.0 820.2 L570.3 818.1 L566.1 809.7 L549.8 811.9Z" fill="#bababa" stroke="#bababa" stroke-width="0.6"/><path d="M549.8 811.9 L566.1 809.7 L562.1 801.2 L545.8 803.4Z" fill="#a5a5a5" stroke="#a5a5a5" stroke-width="0.6"/><path d="M545.8 803.4 L562.1 801.2 L558.3 792.6 L542.0 794.7Z" fill="#b4b4b4" stroke="#b4b4b4" stroke-width="0.6"/><path d="M542.0 794.7 L558.3 792.6 L554.7 783.8 L538.3 785.9Z" fill="#acacac" stroke="#acacac" stroke-width="0.6"/><path d="M538.3 785.9 L554.7 783.8 L551.2 775.0 L534.9 777.1Z" fill="#b4b4b4" stroke="#b4b4b4" stroke-width="0.6"/><path d="M534.9 777.1 L551.2 775.0 L548.0 766.0 L531.7 768.1Z" fill="#bababa" stroke="#bababa" stroke-width="0.6"/><path d="M531.7 768.1 L548.0 766.0 L545.0 756.9 L528.7 759.0Z" fill="#a6a6a6" stroke="#a6a6a6" stroke-width="0.6"/><path d="M528.7 759.0 L545.0 756.9 L542.2 747.7 L525.9 749.8Z" fill="#afafaf" stroke="#afafaf" stroke-width="0.6"/><path d="M525.9 749.8 L542.2 747.7 L539.6 738.5 L523.3 740.5Z" fill="#aeaeae" stroke="#aeaeae" stroke-width="0.6"/><path d="M523.3 740.5 L539.6 738.5 L537.3 729.2 L520.9 731.2Z" fill="#c1c1c1" stroke="#c1c1c1" stroke-width="0.6"/><path d="M520.9 731.2 L537.3 729.2 L535.1 719.8 L518.8 721.8Z" fill="#cfcfcf" stroke="#cfcfcf" stroke-width="0.6"/><path d="M518.8 721.8 L535.1 719.8 L533.2 710.3 L516.9 712.3Z" fill="#b8b8b8" stroke="#b8b8b8" stroke-width="0.6"/><path d="M516.9 712.3 L533.2 710.3 L531.5 700.8 L515.1 702.8Z" fill="#bababa" stroke="#bababa" stroke-width="0.6"/><path d="M515.1 702.8 L531.5 700.8 L530.0 691.3 L513.7 693.2Z" fill="#a6a6a6" stroke="#a6a6a6" stroke-width="0.6"/><path d="M513.7 693.2 L530.0 691.3 L528.8 681.7 L512.4 683.6Z" fill="#a0a0a0" stroke="#a0a0a0" stroke-width="0.6"/><path d="M512.4 683.6 L528.8 681.7 L527.7 672.1 L511.4 674.0Z" fill="#9c9c9c" stroke="#9c9c9c" stroke-width="0.6"/><path d="M511.4 674.0 L527.7 672.1 L526.9 662.4 L510.5 664.4Z" fill="#9e9e9e" stroke="#9e9e9e" stroke-width="0.6"/><path d="M510.5 664.4 L526.9 662.4 L526.3 652.8 L510.0 654.7Z" fill="#989898" stroke="#989898" stroke-width="0.6"/><path d="M510.0 654.7 L526.3 652.8 L526.0 643.2 L509.6 645.1Z" fill="#9f9f9f" stroke="#9f9f9f" stroke-width="0.6"/><path d="M509.6 645.1 L526.0 643.2 L525.8 633.5 L509.5 635.4Z" fill="#8a8a8a" stroke="#8a8a8a" stroke-width="0.6"/><path d="M509.5 635.4 L525.8 633.5 L525.9 623.9 L509.5 625.8Z" fill="#9d9d9d" stroke="#9d9d9d" stroke-width="0.6"/><path d="M509.5 625.8 L525.9 623.9 L526.2 614.3 L509.9 616.2Z" fill="#8a8a8a" stroke="#8a8a8a" stroke-width="0.6"/><path d="M509.9 616.2 L526.2 614.3 L526.8 604.7 L510.4 606.6Z" fill="#858585" stroke="#858585" stroke-width="0.6"/><path d="M510.4 606.6 L526.8 604.7 L527.6 595.2 L511.2 597.0Z" fill="#838383" stroke="#838383" stroke-width="0.6"/><path d="M511.2 597.0 L527.6 595.2 L528.6 585.7 L512.2 587.5Z" fill="#727272" stroke="#727272" stroke-width="0.6"/><path d="M512.2 587.5 L528.6 585.7 L529.8 576.3 L513.4 578.1Z" fill="#848484" stroke="#848484" stroke-width="0.6"/><path d="M513.4 578.1 L529.8 576.3 L531.2 566.9 L514.9 568.7Z" fill="#7b7b7b" stroke="#7b7b7b" stroke-width="0.6"/><path d="M514.9 568.7 L531.2 566.9 L532.9 557.6 L516.5 559.4Z" fill="#6b6b6b" stroke="#6b6b6b" stroke-width="0.6"/><path d="M516.5 559.4 L532.9 557.6 L534.8 548.4 L518.4 550.2Z" fill="#686868" stroke="#686868" stroke-width="0.6"/><path d="M518.4 550.2 L534.8 548.4 L536.9 539.3 L520.5 541.1Z" fill="#6c6c6c" stroke="#6c6c6c" stroke-width="0.6"/><path d="M520.5 541.1 L536.9 539.3 L539.2 530.3 L522.9 532.0Z" fill="#717171" stroke="#717171" stroke-width="0.6"/><path d="M522.9 532.0 L539.2 530.3 L541.8 521.3 L525.4 523.1Z" fill="#6d6d6d" stroke="#6d6d6d" stroke-width="0.6"/><path d="M525.4 523.1 L541.8 521.3 L544.6 512.5 L528.2 514.2Z" fill="#676767" stroke="#676767" stroke-width="0.6"/><path d="M528.2 514.2 L544.6 512.5 L547.5 503.8 L531.2 505.5Z" fill="#545454" stroke="#545454" stroke-width="0.6"/><path d="M531.2 505.5 L547.5 503.8 L550.7 495.2 L534.4 496.9Z" fill="#636363" stroke="#636363" stroke-width="0.6"/><path d="M534.4 496.9 L550.7 495.2 L554.1 486.8 L537.7 488.5Z" fill="#4f4f4f" stroke="#4f4f4f" stroke-width="0.6"/><path d="M537.7 488.5 L554.1 486.8 L557.7 478.5 L541.3 480.2Z" fill="#525252" stroke="#525252" stroke-width="0.6"/><path d="M541.3 480.2 L557.7 478.5 L561.5 470.4 L545.1 472.0Z" fill="#5b5b5b" stroke="#5b5b5b" stroke-width="0.6"/><path d="M545.1 472.0 L561.5 470.4 L565.5 462.4 L549.1 464.0Z" fill="#444444" stroke="#444444" stroke-width="0.6"/><path d="M549.1 464.0 L565.5 462.4 L569.7 454.5 L553.3 456.2Z" fill="#424242" stroke="#424242" stroke-width="0.6"/><path d="M553.3 456.2 L569.7 454.5 L574.1 446.9 L557.7 448.5Z" fill="#4d4d4d" stroke="#4d4d4d" stroke-width="0.6"/><path d="M557.7 448.5 L574.1 446.9 L578.6 439.4 L562.3 441.0Z" fill="#3d3d3d" stroke="#3d3d3d" stroke-width="0.6"/><path d="M562.3 441.0 L578.6 439.4 L583.4 432.1 L567.0 433.7Z" fill="#3a3a3a" stroke="#3a3a3a" stroke-width="0.6"/><path d="M567.0 433.7 L583.4 432.1 L588.3 424.9 L572.0 426.5Z" fill="#323232" stroke="#323232" stroke-width="0.6"/><path d="M572.0 426.5 L588.3 424.9 L593.4 418.0 L577.1 419.6Z" fill="#3e3e3e" stroke="#3e3e3e" stroke-width="0.6"/><path d="M577.1 419.6 L593.4 418.0 L598.7 411.3 L582.4 412.9Z" fill="#353535" stroke="#353535" stroke-width="0.6"/><path d="M582.4 412.9 L598.7 411.3 L604.2 404.8 L587.8 406.3Z" fill="#3c3c3c" stroke="#3c3c3c" stroke-width="0.6"/><path d="M587.8 406.3 L604.2 404.8 L609.8 398.5 L593.5 400.0Z" fill="#3a3a3a" stroke="#3a3a3a" stroke-width="0.6"/><path d="M593.5 400.0 L609.8 398.5 L615.6 392.4 L599.2 393.9Z" fill="#393939" stroke="#393939" stroke-width="0.6"/><path d="M599.2 393.9 L615.6 392.4 L621.5 386.5 L605.2 388.1Z" fill="#383838" stroke="#383838" stroke-width="0.6"/><path d="M605.2 388.1 L621.5 386.5 L627.6 380.9 L611.2 382.4Z" fill="#2e2e2e" stroke="#2e2e2e" stroke-width="0.6"/><path d="M611.2 382.4 L627.6 380.9 L633.8 375.5 L617.5 377.0Z" fill="#414141" stroke="#414141" stroke-width="0.6"/><path d="M617.5 377.0 L633.8 375.5 L640.1 370.3 L623.8 371.9Z" fill="#343434" stroke="#343434" stroke-width="0.6"/><path d="M623.8 371.9 L640.1 370.3 L646.6 365.4 L630.3 366.9Z" fill="#323232" stroke="#323232" stroke-width="0.6"/><path d="M630.3 366.9 L646.6 365.4 L653.2 360.8 L636.9 362.3Z" fill="#313131" stroke="#313131" stroke-width="0.6"/><path d="M636.9 362.3 L653.2 360.8 L660.0 356.4 L643.7 357.9Z" fill="#2f2f2f" stroke="#2f2f2f" stroke-width="0.6"/><path d="M643.7 357.9 L660.0 356.4 L666.8 352.2 L650.5 353.7Z" fill="#252525" stroke="#252525" stroke-width="0.6"/><path d="M650.5 353.7 L666.8 352.2 L673.8 348.3 L657.5 349.8Z" fill="#383838" stroke="#383838" stroke-width="0.6"/><path d="M657.5 349.8 L673.8 348.3 L680.8 344.7 L664.5 346.2Z" fill="#2a2a2a" stroke="#2a2a2a" stroke-width="0.6"/><path d="M664.5 346.2 L680.8 344.7 L688.0 341.3 L671.7 342.8Z" fill="#2f2f2f" stroke="#2f2f2f" stroke-width="0.6"/><path d="M671.7 342.8 L688.0 341.3 L695.3 338.3 L679.0 339.7Z" fill="#1f1f1f" stroke="#1f1f1f" stroke-width="0.6"/><path d="M679.0 339.7 L695.3 338.3 L702.6 335.4 L686.3 336.9Z" fill="#323232" stroke="#323232" stroke-width="0.6"/><path d="M686.3 336.9 L702.6 335.4 L710.0 332.9 L693.7 334.4Z" fill="#262626" stroke="#262626" stroke-width="0.6"/><path d="M693.7 334.4 L710.0 332.9 L717.5 330.7 L701.2 332.1Z" fill="#313131" stroke="#313131" stroke-width="0.6"/><path d="M701.2 332.1 L717.5 330.7 L725.0 328.7 L708.8 330.2Z" fill="#252525" stroke="#252525" stroke-width="0.6"/><path d="M708.8 330.2 L725.0 328.7 L732.7 327.0 L716.4 328.5Z" fill="#2a2a2a" stroke="#2a2a2a" stroke-width="0.6"/><path d="M716.4 328.5 L732.7 327.0 L740.3 325.6 L724.1 327.1Z" fill="#303030" stroke="#303030" stroke-width="0.6"/><path d="M724.1 327.1 L740.3 325.6 L748.0 324.5 L731.8 326.0Z" fill="#1b1b1b" stroke="#1b1b1b" stroke-width="0.6"/><path d="M731.8 326.0 L748.0 324.5 L755.8 323.7 L739.5 325.2Z" fill="#232323" stroke="#232323" stroke-width="0.6"/><path d="M739.5 325.2 L755.8 323.7 L763.6 323.2 L747.3 324.6Z" fill="#2e2e2e" stroke="#2e2e2e" stroke-width="0.6"/><g clip-path="url(#hole2)" id="interior"><rect x="400" y="200" width="800" height="900" fill="#5a5a5a"/>
<defs><linearGradient id="rg"><stop offset="0" stop-color="#303030"/><stop offset="0.06" stop-color="#5a5a5a"/><stop offset="0.16" stop-color="#9a9a9a"/><stop offset="0.27" stop-color="#e0e0e0"/><stop offset="0.33" stop-color="#fff"/><stop offset="0.42" stop-color="#fff"/><stop offset="0.5" stop-color="#d0d0d0"/><stop offset="0.62" stop-color="#9c9c9c"/><stop offset="0.78" stop-color="#6a6a6a"/><stop offset="0.92" stop-color="#444"/><stop offset="1" stop-color="#262626"/></linearGradient><linearGradient id="r1" gradientUnits="userSpaceOnUse" x1="528.5" y1="651.4" x2="534.9" y2="705.3" href="#rg"/><clipPath id="cpr1"><path d="M545.4 704.1 L538.9 650.2 L540.4 650.9 L541.8 651.8 L543.2 652.8 L544.5 653.9 L545.8 655.1 L547.1 656.4 L548.2 657.8 L549.3 659.3 L550.3 660.9 L551.3 662.5 L552.1 664.2 L552.9 666.0 L553.6 667.9 L554.2 669.7 L554.6 671.6 L555.0 673.6 L555.3 675.5 L555.5 677.5 L555.6 679.5 L555.6 681.5 L555.4 683.4 L555.2 685.4 L554.9 687.3 L554.5 689.1 L553.9 691.0 L553.3 692.7 L552.6 694.4 L551.8 696.1 L550.9 697.6 L550.0 699.1 L548.9 700.5 L547.8 701.8 L546.6 703.0Z"/></clipPath><linearGradient id="r2" gradientUnits="userSpaceOnUse" x1="550.0" y1="744.1" x2="556.7" y2="796.3" href="#rg"/><clipPath id="cpr2"><path d="M572.1 794.3 L554.8 743.4 L556.4 743.7 L558.0 744.1 L559.5 744.6 L561.0 745.3 L562.5 746.1 L563.9 746.9 L565.3 747.9 L566.6 749.1 L567.9 750.3 L569.2 751.6 L570.3 753.0 L571.4 754.5 L572.4 756.1 L573.4 757.7 L574.2 759.4 L575.0 761.2 L575.7 763.1 L576.3 764.9 L576.7 766.9 L577.1 768.8 L577.4 770.8 L577.6 772.7 L577.7 774.7 L577.7 776.7 L577.5 778.6 L577.3 780.6 L577.0 782.5 L576.6 784.4 L576.1 786.2 L575.4 787.9 L574.7 789.6 L573.9 791.3 L573.0 792.8Z"/></clipPath><linearGradient id="r3" gradientUnits="userSpaceOnUse" x1="529.6" y1="559.3" x2="535.3" y2="610.6" href="#rg"/><clipPath id="cpr3"><path d="M538.7 610.3 L546.2 557.5 L547.4 558.8 L548.6 560.2 L549.6 561.7 L550.7 563.2 L551.6 564.9 L552.5 566.6 L553.2 568.4 L553.9 570.2 L554.5 572.1 L555.0 574.0 L555.4 575.9 L555.6 577.9 L555.8 579.9 L555.9 581.8 L555.9 583.8 L555.8 585.8 L555.5 587.7 L555.2 589.6 L554.8 591.5 L554.3 593.3 L553.7 595.1 L553.0 596.8 L552.2 598.5 L551.3 600.0 L550.3 601.5 L549.3 602.9 L548.1 604.2 L546.9 605.4 L545.7 606.5 L544.4 607.5 L543.0 608.4 L541.6 609.1 L540.2 609.8Z"/></clipPath><linearGradient id="r4" gradientUnits="userSpaceOnUse" x1="592.3" y1="828.2" x2="598.6" y2="873.9" href="#rg"/><clipPath id="cpr4"><path d="M618.8 871.1 L589.8 828.8 L591.3 828.4 L592.8 828.2 L594.4 828.0 L596.0 828.1 L597.5 828.2 L599.1 828.5 L600.7 828.9 L602.2 829.4 L603.7 830.1 L605.2 830.9 L606.6 831.8 L608.0 832.8 L609.4 833.9 L610.7 835.1 L611.9 836.4 L613.1 837.8 L614.2 839.4 L615.2 840.9 L616.1 842.6 L617.0 844.3 L617.8 846.1 L618.4 847.9 L619.0 849.8 L619.5 851.8 L619.9 853.7 L620.2 855.7 L620.4 857.6 L620.5 859.6 L620.4 861.6 L620.3 863.6 L620.1 865.5 L619.8 867.4 L619.3 869.3Z"/></clipPath><linearGradient id="r5" gradientUnits="userSpaceOnUse" x1="553.1" y1="473.3" x2="557.8" y2="519.1" href="#rg"/><clipPath id="cpr5"><path d="M555.2 519.2 L573.4 471.2 L574.4 472.8 L575.2 474.5 L576.0 476.3 L576.7 478.1 L577.3 480.0 L577.8 481.9 L578.1 483.9 L578.4 485.8 L578.6 487.8 L578.7 489.8 L578.7 491.8 L578.6 493.7 L578.3 495.7 L578.0 497.6 L577.6 499.5 L577.1 501.3 L576.4 503.1 L575.7 504.8 L574.9 506.5 L574.0 508.1 L573.1 509.5 L572.0 511.0 L570.9 512.3 L569.7 513.5 L568.5 514.6 L567.1 515.6 L565.8 516.5 L564.4 517.2 L562.9 517.9 L561.4 518.4 L559.9 518.8 L558.4 519.0 L556.8 519.2Z"/></clipPath><linearGradient id="r6" gradientUnits="userSpaceOnUse" x1="652.0" y1="895.6" x2="657.5" y2="934.4" href="#rg"/><clipPath id="cpr6"><path d="M680.3 931.1 L643.8 898.8 L645.2 897.9 L646.6 897.2 L648.1 896.6 L649.6 896.1 L651.1 895.7 L652.7 895.5 L654.2 895.4 L655.8 895.4 L657.4 895.6 L659.0 895.9 L660.5 896.3 L662.1 896.8 L663.6 897.5 L665.1 898.3 L666.5 899.2 L668.0 900.2 L669.3 901.3 L670.6 902.5 L671.9 903.9 L673.0 905.3 L674.1 906.8 L675.2 908.4 L676.1 910.1 L677.0 911.8 L677.7 913.6 L678.4 915.4 L679.0 917.3 L679.5 919.2 L679.9 921.2 L680.2 923.2 L680.4 925.2 L680.5 927.1 L680.4 929.1Z"/></clipPath><linearGradient id="r7" gradientUnits="userSpaceOnUse" x1="597.4" y1="403.5" x2="601.0" y2="440.5" href="#rg"/><clipPath id="cpr7"><path d="M590.8 438.7 L620.7 401.2 L621.2 403.1 L621.6 405.1 L621.9 407.1 L622.1 409.0 L622.2 411.0 L622.2 413.0 L622.0 415.0 L621.8 416.9 L621.5 418.9 L621.0 420.8 L620.5 422.6 L619.9 424.4 L619.2 426.1 L618.4 427.8 L617.5 429.4 L616.5 430.9 L615.5 432.3 L614.3 433.6 L613.1 434.8 L611.9 435.9 L610.5 436.9 L609.2 437.8 L607.7 438.6 L606.3 439.3 L604.8 439.8 L603.3 440.2 L601.7 440.5 L600.2 440.6 L598.6 440.6 L597.0 440.5 L595.4 440.2 L593.9 439.9 L592.3 439.4Z"/></clipPath><linearGradient id="r8" gradientUnits="userSpaceOnUse" x1="724.0" y1="939.8" x2="728.3" y2="969.3" href="#rg"/><clipPath id="cpr8"><path d="M752.2 965.5 L709.9 948.8 L711.0 947.5 L712.1 946.2 L713.3 945.0 L714.6 943.9 L715.9 942.9 L717.3 942.1 L718.7 941.4 L720.2 940.7 L721.7 940.3 L723.3 939.9 L724.8 939.7 L726.4 939.6 L728.0 939.6 L729.6 939.8 L731.2 940.0 L732.7 940.5 L734.3 941.0 L735.8 941.7 L737.3 942.5 L738.8 943.4 L740.2 944.4 L741.6 945.5 L742.9 946.8 L744.1 948.1 L745.3 949.5 L746.4 951.1 L747.5 952.7 L748.4 954.3 L749.3 956.1 L750.1 957.9 L750.7 959.7 L751.3 961.6 L751.8 963.6Z"/></clipPath><linearGradient id="r9" gradientUnits="userSpaceOnUse" x1="658.7" y1="352.2" x2="661.4" y2="381.9" href="#rg"/><clipPath id="cpr9"><path d="M645.6 376.4 L682.8 350.2 L682.9 352.2 L682.8 354.2 L682.7 356.2 L682.5 358.2 L682.2 360.1 L681.7 362.0 L681.2 363.9 L680.6 365.7 L679.8 367.4 L679.0 369.1 L678.1 370.7 L677.2 372.2 L676.1 373.6 L675.0 374.9 L673.7 376.2 L672.5 377.3 L671.1 378.3 L669.8 379.2 L668.3 380.0 L666.9 380.6 L665.3 381.2 L663.8 381.6 L662.3 381.8 L660.7 382.0 L659.1 382.0 L657.5 381.9 L655.9 381.6 L654.4 381.3 L652.8 380.8 L651.3 380.1 L649.8 379.4 L648.3 378.5 L646.9 377.5Z"/></clipPath><linearGradient id="r10" gradientUnits="userSpaceOnUse" x1="634.7" y1="651.2" x2="643.1" y2="720.7" href="#rg"/><clipPath id="cpr10"><path d="M650.4 719.8 L640.2 650.5 L642.1 650.8 L643.9 651.3 L645.8 651.9 L647.6 652.7 L649.3 653.6 L651.0 654.6 L652.7 655.8 L654.3 657.1 L655.8 658.6 L657.3 660.1 L658.7 661.8 L660.0 663.6 L661.2 665.4 L662.3 667.4 L663.4 669.4 L664.3 671.5 L665.1 673.7 L665.8 675.9 L666.3 678.2 L666.8 680.5 L667.1 682.9 L667.4 685.2 L667.5 687.5 L667.4 689.9 L667.3 692.2 L667.0 694.5 L666.6 696.8 L666.1 699.0 L665.5 701.2 L664.8 703.3 L663.9 705.3 L663.0 707.3 L661.9 709.1 L660.7 710.9 L659.5 712.5 L658.2 714.1 L656.7 715.5 L655.2 716.8 L653.7 717.9 L652.0 719.0Z"/></clipPath><linearGradient id="r11" gradientUnits="userSpaceOnUse" x1="633.7" y1="531.4" x2="641.1" y2="598.4" href="#rg"/><clipPath id="cpr11"><path d="M639.6 598.5 L647.5 529.9 L649.3 530.9 L650.9 532.1 L652.5 533.4 L654.1 534.8 L655.5 536.4 L656.9 538.0 L658.2 539.8 L659.4 541.7 L660.6 543.6 L661.6 545.7 L662.5 547.8 L663.3 550.0 L664.0 552.2 L664.6 554.5 L665.0 556.8 L665.4 559.1 L665.6 561.4 L665.7 563.8 L665.7 566.1 L665.5 568.5 L665.2 570.8 L664.9 573.1 L664.4 575.3 L663.7 577.5 L663.0 579.6 L662.1 581.6 L661.2 583.6 L660.1 585.4 L659.0 587.2 L657.7 588.9 L656.4 590.4 L655.0 591.8 L653.5 593.1 L651.9 594.3 L650.3 595.3 L648.6 596.2 L646.8 597.0 L645.1 597.6 L643.3 598.1 L641.4 598.4Z"/></clipPath><linearGradient id="r12" gradientUnits="userSpaceOnUse" x1="671.4" y1="767.5" x2="679.9" y2="831.9" href="#rg"/><clipPath id="cpr12"><path d="M696.8 829.7 L666.4 768.8 L668.2 768.2 L670.0 767.8 L671.9 767.5 L673.7 767.3 L675.6 767.4 L677.4 767.5 L679.3 767.9 L681.2 768.3 L683.0 769.0 L684.8 769.7 L686.6 770.7 L688.3 771.7 L690.0 772.9 L691.6 774.2 L693.1 775.7 L694.6 777.2 L696.0 778.9 L697.3 780.7 L698.5 782.6 L699.6 784.5 L700.6 786.6 L701.6 788.7 L702.4 790.9 L703.1 793.1 L703.6 795.4 L704.1 797.7 L704.4 800.1 L704.7 802.4 L704.8 804.8 L704.7 807.1 L704.6 809.4 L704.3 811.7 L703.9 814.0 L703.4 816.2 L702.8 818.4 L702.0 820.5 L701.2 822.5 L700.2 824.4 L699.2 826.3 L698.0 828.0Z"/></clipPath><linearGradient id="r13" gradientUnits="userSpaceOnUse" x1="668.8" y1="426.0" x2="674.7" y2="484.5" href="#rg"/><clipPath id="cpr13"><path d="M662.4 482.3 L690.9 423.8 L692.3 425.6 L693.5 427.4 L694.6 429.4 L695.6 431.4 L696.5 433.5 L697.3 435.7 L698.0 437.9 L698.6 440.2 L699.1 442.5 L699.4 444.9 L699.6 447.2 L699.7 449.6 L699.7 451.9 L699.6 454.3 L699.3 456.6 L698.9 458.9 L698.4 461.1 L697.8 463.3 L697.0 465.4 L696.2 467.5 L695.2 469.4 L694.2 471.3 L693.0 473.1 L691.7 474.8 L690.4 476.3 L689.0 477.8 L687.5 479.1 L685.9 480.3 L684.2 481.3 L682.6 482.2 L680.8 483.0 L679.0 483.6 L677.2 484.1 L675.4 484.4 L673.5 484.6 L671.6 484.6 L669.8 484.4 L667.9 484.1 L666.0 483.7 L664.2 483.1Z"/></clipPath><linearGradient id="r14" gradientUnits="userSpaceOnUse" x1="739.0" y1="862.7" x2="746.7" y2="917.2" href="#rg"/><clipPath id="cpr14"><path d="M770.9 913.7 L724.7 870.3 L726.1 868.9 L727.6 867.6 L729.2 866.5 L730.8 865.5 L732.5 864.6 L734.3 863.9 L736.1 863.3 L737.9 862.9 L739.7 862.6 L741.6 862.4 L743.5 862.5 L745.4 862.7 L747.3 863.0 L749.1 863.5 L751.0 864.1 L752.8 864.9 L754.6 865.8 L756.3 866.9 L758.0 868.1 L759.6 869.4 L761.1 870.9 L762.6 872.5 L764.0 874.2 L765.3 875.9 L766.6 877.8 L767.7 879.8 L768.7 881.9 L769.6 884.0 L770.4 886.2 L771.1 888.4 L771.7 890.7 L772.2 893.0 L772.5 895.4 L772.8 897.7 L772.8 900.1 L772.8 902.4 L772.7 904.8 L772.4 907.1 L772.0 909.4 L771.5 911.6Z"/></clipPath><linearGradient id="r15" gradientUnits="userSpaceOnUse" x1="735.6" y1="348.6" x2="739.9" y2="395.1" href="#rg"/><clipPath id="cpr15"><path d="M718.0 385.7 L763.0 346.0 L763.7 348.2 L764.3 350.5 L764.7 352.9 L765.1 355.2 L765.3 357.6 L765.4 359.9 L765.4 362.3 L765.2 364.7 L765.0 367.0 L764.6 369.3 L764.1 371.5 L763.4 373.7 L762.7 375.9 L761.8 377.9 L760.8 379.9 L759.8 381.8 L758.6 383.6 L757.3 385.3 L756.0 386.8 L754.5 388.3 L753.0 389.6 L751.4 390.8 L749.8 391.9 L748.1 392.8 L746.3 393.6 L744.5 394.2 L742.7 394.7 L740.8 395.0 L739.0 395.2 L737.1 395.2 L735.2 395.1 L733.3 394.8 L731.5 394.4 L729.6 393.8 L727.8 393.0 L726.0 392.1 L724.3 391.1 L722.6 389.9 L721.0 388.6 L719.4 387.2Z"/></clipPath><linearGradient id="r16" gradientUnits="userSpaceOnUse" x1="828.6" y1="923.2" x2="835.2" y2="967.4" href="#rg"/><clipPath id="cpr16"><path d="M863.0 963.2 L808.6 939.5 L809.6 937.6 L810.7 935.7 L811.8 934.0 L813.1 932.3 L814.5 930.8 L815.9 929.4 L817.4 928.1 L819.0 927.0 L820.7 926.0 L822.4 925.1 L824.1 924.4 L826.0 923.8 L827.8 923.4 L829.7 923.1 L831.5 923.0 L833.4 923.0 L835.3 923.2 L837.2 923.5 L839.1 924.0 L841.0 924.7 L842.8 925.5 L844.6 926.4 L846.3 927.5 L848.0 928.7 L849.7 930.0 L851.2 931.5 L852.7 933.1 L854.1 934.8 L855.5 936.6 L856.7 938.5 L857.8 940.5 L858.9 942.5 L859.8 944.7 L860.6 946.9 L861.3 949.1 L861.9 951.4 L862.4 953.8 L862.7 956.1 L862.9 958.5 L863.0 960.9Z"/></clipPath><linearGradient id="r17" gradientUnits="userSpaceOnUse" x1="887.2" y1="600.6" x2="893.4" y2="652.7" href="#rg"/><clipPath id="cpr17"><path d="M902.3 651.6 L898.8 599.2 L900.2 600.1 L901.6 601.0 L902.9 602.1 L904.2 603.2 L905.4 604.5 L906.5 605.9 L907.6 607.3 L908.6 608.8 L909.5 610.4 L910.4 612.1 L911.1 613.8 L911.8 615.6 L912.3 617.4 L912.8 619.2 L913.2 621.1 L913.5 623.0 L913.7 624.9 L913.7 626.8 L913.7 628.7 L913.6 630.6 L913.4 632.5 L913.0 634.4 L912.6 636.2 L912.1 637.9 L911.5 639.7 L910.8 641.3 L910.0 642.9 L909.1 644.4 L908.2 645.8 L907.1 647.2 L906.0 648.5 L904.9 649.6 L903.6 650.7Z"/></clipPath><linearGradient id="r18" gradientUnits="userSpaceOnUse" x1="909.2" y1="699.2" x2="915.7" y2="749.7" href="#rg"/><clipPath id="cpr18"><path d="M930.8 747.8 L913.9 698.6 L915.5 698.8 L917.0 699.2 L918.5 699.7 L920.0 700.3 L921.4 701.1 L922.9 701.9 L924.2 702.9 L925.6 704.0 L926.8 705.1 L928.0 706.4 L929.2 707.8 L930.3 709.2 L931.3 710.7 L932.2 712.3 L933.0 714.0 L933.8 715.7 L934.4 717.5 L935.0 719.3 L935.5 721.2 L935.9 723.0 L936.1 724.9 L936.3 726.9 L936.4 728.8 L936.4 730.7 L936.3 732.6 L936.0 734.5 L935.7 736.3 L935.3 738.1 L934.8 739.9 L934.1 741.6 L933.4 743.2 L932.7 744.8 L931.8 746.3Z"/></clipPath><linearGradient id="r19" gradientUnits="userSpaceOnUse" x1="892.4" y1="502.5" x2="897.7" y2="551.1" href="#rg"/><clipPath id="cpr19"><path d="M899.6 550.9 L909.8 500.6 L910.9 502.0 L912.0 503.4 L913.0 504.9 L913.9 506.5 L914.7 508.2 L915.5 509.9 L916.1 511.6 L916.7 513.5 L917.2 515.3 L917.6 517.2 L917.8 519.1 L918.0 521.0 L918.1 522.9 L918.1 524.8 L918.0 526.7 L917.7 528.6 L917.4 530.5 L917.0 532.3 L916.5 534.0 L915.9 535.8 L915.2 537.4 L914.4 539.0 L913.5 540.5 L912.5 542.0 L911.5 543.3 L910.4 544.6 L909.2 545.8 L908.0 546.8 L906.7 547.8 L905.3 548.7 L903.9 549.4 L902.5 550.0 L901.0 550.5Z"/></clipPath><linearGradient id="r20" gradientUnits="userSpaceOnUse" x1="956.2" y1="788.1" x2="962.3" y2="832.3" href="#rg"/><clipPath id="cpr20"><path d="M982.2 829.6 L953.7 788.7 L955.2 788.3 L956.7 788.1 L958.2 788.0 L959.8 788.0 L961.3 788.1 L962.9 788.4 L964.4 788.8 L965.9 789.3 L967.4 789.9 L968.9 790.7 L970.3 791.5 L971.7 792.5 L973.0 793.6 L974.3 794.8 L975.5 796.0 L976.6 797.4 L977.7 798.9 L978.7 800.4 L979.6 802.0 L980.5 803.7 L981.2 805.4 L981.9 807.2 L982.5 809.0 L982.9 810.9 L983.3 812.7 L983.6 814.7 L983.8 816.6 L983.9 818.5 L983.8 820.4 L983.7 822.3 L983.5 824.2 L983.2 826.0 L982.7 827.8Z"/></clipPath><linearGradient id="r21" gradientUnits="userSpaceOnUse" x1="924.3" y1="414.8" x2="928.4" y2="455.9" href="#rg"/><clipPath id="cpr21"><path d="M922.8 455.7 L945.8 412.7 L946.5 414.4 L947.2 416.2 L947.7 418.0 L948.2 419.8 L948.6 421.7 L948.9 423.6 L949.1 425.5 L949.1 427.5 L949.1 429.4 L949.0 431.3 L948.8 433.2 L948.4 435.0 L948.0 436.9 L947.5 438.6 L946.9 440.4 L946.2 442.0 L945.4 443.6 L944.5 445.2 L943.5 446.6 L942.5 448.0 L941.4 449.3 L940.2 450.4 L939.0 451.5 L937.7 452.5 L936.3 453.3 L934.9 454.1 L933.5 454.7 L932.0 455.2 L930.5 455.6 L929.0 455.9 L927.4 456.0 L925.9 456.0 L924.4 455.9Z"/></clipPath><linearGradient id="r22" gradientUnits="userSpaceOnUse" x1="1023.4" y1="856.3" x2="1028.6" y2="892.1" href="#rg"/><clipPath id="cpr22"><path d="M1051.4 888.7 L1014.1 860.4 L1015.4 859.4 L1016.7 858.6 L1018.1 857.9 L1019.6 857.3 L1021.1 856.8 L1022.6 856.5 L1024.1 856.2 L1025.7 856.1 L1027.2 856.2 L1028.8 856.3 L1030.3 856.6 L1031.9 857.0 L1033.4 857.5 L1034.9 858.1 L1036.4 858.9 L1037.8 859.8 L1039.2 860.7 L1040.5 861.8 L1041.8 863.0 L1043.0 864.3 L1044.2 865.7 L1045.3 867.1 L1046.3 868.7 L1047.2 870.3 L1048.1 872.0 L1048.8 873.7 L1049.5 875.5 L1050.1 877.3 L1050.5 879.2 L1050.9 881.1 L1051.2 883.0 L1051.4 884.9 L1051.5 886.8Z"/></clipPath><linearGradient id="r23" gradientUnits="userSpaceOnUse" x1="979.6" y1="344.8" x2="982.8" y2="378.9" href="#rg"/><clipPath id="cpr23"><path d="M971.3 376.5 L1002.9 342.6 L1003.3 344.5 L1003.6 346.4 L1003.8 348.3 L1003.9 350.2 L1003.8 352.2 L1003.7 354.1 L1003.5 356.0 L1003.1 357.8 L1002.7 359.7 L1002.2 361.4 L1001.6 363.2 L1000.9 364.9 L1000.1 366.5 L999.2 368.0 L998.2 369.5 L997.2 370.9 L996.0 372.1 L994.9 373.3 L993.6 374.4 L992.3 375.4 L990.9 376.3 L989.5 377.0 L988.1 377.6 L986.6 378.2 L985.1 378.5 L983.6 378.8 L982.0 379.0 L980.5 379.0 L978.9 378.9 L977.4 378.6 L975.8 378.3 L974.3 377.8 L972.8 377.2Z"/></clipPath><linearGradient id="r24" gradientUnits="userSpaceOnUse" x1="1104.1" y1="896.0" x2="1108.1" y2="923.1" href="#rg"/><clipPath id="cpr24"><path d="M1131.6 919.0 L1089.2 906.2 L1090.2 904.8 L1091.2 903.5 L1092.3 902.2 L1093.5 901.1 L1094.8 900.0 L1096.1 899.1 L1097.5 898.2 L1098.9 897.5 L1100.4 896.9 L1101.9 896.5 L1103.4 896.1 L1104.9 895.9 L1106.5 895.8 L1108.1 895.8 L1109.6 896.0 L1111.2 896.2 L1112.7 896.6 L1114.3 897.2 L1115.8 897.8 L1117.3 898.6 L1118.7 899.4 L1120.1 900.4 L1121.5 901.5 L1122.8 902.7 L1124.0 904.0 L1125.2 905.4 L1126.3 906.9 L1127.3 908.4 L1128.2 910.0 L1129.1 911.7 L1129.8 913.5 L1130.5 915.3 L1131.1 917.1Z"/></clipPath></defs><path d="M836.6 974.6 L931.6 960.3 L924.0 961.6 L829.0 975.9Z" fill="#363636" stroke="#363636" stroke-width="0.6"/><path d="M829.0 975.9 L924.0 961.6 L916.3 962.7 L821.3 976.9Z" fill="#2a2a2a" stroke="#2a2a2a" stroke-width="0.6"/><path d="M821.3 976.9 L916.3 962.7 L908.6 963.4 L813.5 977.7Z" fill="#333333" stroke="#333333" stroke-width="0.6"/><path d="M813.5 977.7 L908.6 963.4 L900.9 963.9 L805.8 978.1Z" fill="#3e3e3e" stroke="#3e3e3e" stroke-width="0.6"/><path d="M805.8 978.1 L900.9 963.9 L893.1 964.0 L798.0 978.3Z" fill="#474747" stroke="#474747" stroke-width="0.6"/><path d="M798.0 978.3 L893.1 964.0 L885.3 963.9 L790.2 978.2Z" fill="#444444" stroke="#444444" stroke-width="0.6"/><path d="M790.2 978.2 L885.3 963.9 L877.6 963.5 L782.4 977.8Z" fill="#535353" stroke="#535353" stroke-width="0.6"/><path d="M782.4 977.8 L877.6 963.5 L869.8 962.8 L774.6 977.1Z" fill="#4a4a4a" stroke="#4a4a4a" stroke-width="0.6"/><path d="M774.6 977.1 L869.8 962.8 L862.1 961.8 L766.8 976.1Z" fill="#3f3f3f" stroke="#3f3f3f" stroke-width="0.6"/><path d="M766.8 976.1 L862.1 961.8 L854.3 960.6 L759.1 974.8Z" fill="#434343" stroke="#434343" stroke-width="0.6"/><path d="M759.1 974.8 L854.3 960.6 L846.6 959.0 L751.3 973.2Z" fill="#565656" stroke="#565656" stroke-width="0.6"/><path d="M751.3 973.2 L846.6 959.0 L839.0 957.2 L743.6 971.4Z" fill="#525252" stroke="#525252" stroke-width="0.6"/><path d="M743.6 971.4 L839.0 957.2 L831.3 955.1 L736.0 969.2Z" fill="#5f5f5f" stroke="#5f5f5f" stroke-width="0.6"/><path d="M736.0 969.2 L831.3 955.1 L823.7 952.7 L728.3 966.8Z" fill="#696969" stroke="#696969" stroke-width="0.6"/><path d="M728.3 966.8 L823.7 952.7 L816.2 950.0 L720.8 964.1Z" fill="#595959" stroke="#595959" stroke-width="0.6"/><path d="M720.8 964.1 L816.2 950.0 L808.7 947.1 L713.2 961.2Z" fill="#5e5e5e" stroke="#5e5e5e" stroke-width="0.6"/><path d="M713.2 961.2 L808.7 947.1 L801.3 943.9 L705.8 958.0Z" fill="#686868" stroke="#686868" stroke-width="0.6"/><path d="M705.8 958.0 L801.3 943.9 L793.9 940.4 L698.4 954.4Z" fill="#7f7f7f" stroke="#7f7f7f" stroke-width="0.6"/><path d="M698.4 954.4 L793.9 940.4 L786.6 936.7 L691.1 950.7Z" fill="#777777" stroke="#777777" stroke-width="0.6"/><path d="M691.1 950.7 L786.6 936.7 L779.5 932.7 L683.9 946.7Z" fill="#6c6c6c" stroke="#6c6c6c" stroke-width="0.6"/><path d="M683.9 946.7 L779.5 932.7 L772.4 928.5 L676.8 942.4Z" fill="#8a8a8a" stroke="#8a8a8a" stroke-width="0.6"/><path d="M676.8 942.4 L772.4 928.5 L765.4 924.0 L669.7 937.8Z" fill="#8e8e8e" stroke="#8e8e8e" stroke-width="0.6"/><path d="M669.7 937.8 L765.4 924.0 L758.4 919.2 L662.8 933.0Z" fill="#8b8b8b" stroke="#8b8b8b" stroke-width="0.6"/><path d="M662.8 933.0 L758.4 919.2 L751.7 914.3 L656.0 928.0Z" fill="#898989" stroke="#898989" stroke-width="0.6"/><path d="M656.0 928.0 L751.7 914.3 L745.0 909.0 L649.3 922.7Z" fill="#949494" stroke="#949494" stroke-width="0.6"/><path d="M649.3 922.7 L745.0 909.0 L738.4 903.6 L642.7 917.2Z" fill="#929292" stroke="#929292" stroke-width="0.6"/><path d="M642.7 917.2 L738.4 903.6 L732.0 897.9 L636.2 911.5Z" fill="#a3a3a3" stroke="#a3a3a3" stroke-width="0.6"/><path d="M636.2 911.5 L732.0 897.9 L725.7 892.0 L629.9 905.5Z" fill="#a7a7a7" stroke="#a7a7a7" stroke-width="0.6"/><path d="M629.9 905.5 L725.7 892.0 L719.5 885.8 L623.7 899.3Z" fill="#919191" stroke="#919191" stroke-width="0.6"/><path d="M623.7 899.3 L719.5 885.8 L713.4 879.5 L617.6 892.9Z" fill="#a4a4a4" stroke="#a4a4a4" stroke-width="0.6"/><path d="M617.6 892.9 L713.4 879.5 L707.6 872.9 L611.7 886.3Z" fill="#a8a8a8" stroke="#a8a8a8" stroke-width="0.6"/><path d="M611.7 886.3 L707.6 872.9 L701.8 866.2 L605.9 879.5Z" fill="#b1b1b1" stroke="#b1b1b1" stroke-width="0.6"/><path d="M605.9 879.5 L701.8 866.2 L696.2 859.2 L600.3 872.5Z" fill="#b3b3b3" stroke="#b3b3b3" stroke-width="0.6"/><path d="M600.3 872.5 L696.2 859.2 L690.8 852.1 L594.9 865.3Z" fill="#b6b6b6" stroke="#b6b6b6" stroke-width="0.6"/><path d="M594.9 865.3 L690.8 852.1 L685.6 844.8 L589.6 857.9Z" fill="#ababab" stroke="#ababab" stroke-width="0.6"/><path d="M589.6 857.9 L685.6 844.8 L680.5 837.3 L584.5 850.3Z" fill="#a7a7a7" stroke="#a7a7a7" stroke-width="0.6"/><path d="M584.5 850.3 L680.5 837.3 L675.5 829.6 L579.5 842.6Z" fill="#b8b8b8" stroke="#b8b8b8" stroke-width="0.6"/><path d="M579.5 842.6 L675.5 829.6 L670.8 821.8 L574.8 834.7Z" fill="#afafaf" stroke="#afafaf" stroke-width="0.6"/><path d="M574.8 834.7 L670.8 821.8 L666.2 813.8 L570.2 826.6Z" fill="#cfcfcf" stroke="#cfcfcf" stroke-width="0.6"/><path d="M570.2 826.6 L666.2 813.8 L661.9 805.7 L565.8 818.4Z" fill="#cfcfcf" stroke="#cfcfcf" stroke-width="0.6"/><path d="M565.8 818.4 L661.9 805.7 L657.7 797.4 L561.6 810.0Z" fill="#c8c8c8" stroke="#c8c8c8" stroke-width="0.6"/><path d="M561.6 810.0 L657.7 797.4 L653.7 789.0 L557.6 801.6Z" fill="#cecece" stroke="#cecece" stroke-width="0.6"/><path d="M557.6 801.6 L653.7 789.0 L649.9 780.4 L553.8 792.9Z" fill="#d6d6d6" stroke="#d6d6d6" stroke-width="0.6"/><path d="M553.8 792.9 L649.9 780.4 L646.3 771.7 L550.2 784.2Z" fill="#dcdcdc" stroke="#dcdcdc" stroke-width="0.6"/><path d="M550.2 784.2 L646.3 771.7 L642.9 763.0 L546.7 775.3Z" fill="#dcdcdc" stroke="#dcdcdc" stroke-width="0.6"/><path d="M546.7 775.3 L642.9 763.0 L639.7 754.1 L543.5 766.4Z" fill="#c8c8c8" stroke="#c8c8c8" stroke-width="0.6"/><path d="M543.5 766.4 L639.7 754.1 L636.7 745.1 L540.5 757.3Z" fill="#cecece" stroke="#cecece" stroke-width="0.6"/><path d="M540.5 757.3 L636.7 745.1 L634.0 736.0 L537.8 748.2Z" fill="#e0e0e0" stroke="#e0e0e0" stroke-width="0.6"/><path d="M537.8 748.2 L634.0 736.0 L631.4 726.9 L535.2 738.9Z" fill="#d8d8d8" stroke="#d8d8d8" stroke-width="0.6"/><path d="M535.2 738.9 L631.4 726.9 L629.1 717.6 L532.8 729.6Z" fill="#e6e6e6" stroke="#e6e6e6" stroke-width="0.6"/><path d="M532.8 729.6 L629.1 717.6 L626.9 708.4 L530.7 720.2Z" fill="#e9e9e9" stroke="#e9e9e9" stroke-width="0.6"/><path d="M530.7 720.2 L626.9 708.4 L625.0 699.0 L528.7 710.8Z" fill="#d4d4d4" stroke="#d4d4d4" stroke-width="0.6"/><path d="M528.7 710.8 L625.0 699.0 L623.3 689.6 L527.0 701.3Z" fill="#d5d5d5" stroke="#d5d5d5" stroke-width="0.6"/><path d="M527.0 701.3 L623.3 689.6 L621.8 680.1 L525.6 691.8Z" fill="#cccccc" stroke="#cccccc" stroke-width="0.6"/><path d="M525.6 691.8 L621.8 680.1 L620.6 670.7 L524.3 682.2Z" fill="#c9c9c9" stroke="#c9c9c9" stroke-width="0.6"/><path d="M524.3 682.2 L620.6 670.7 L619.6 661.1 L523.3 672.6Z" fill="#bdbdbd" stroke="#bdbdbd" stroke-width="0.6"/><path d="M523.3 672.6 L619.6 661.1 L618.8 651.6 L522.4 663.0Z" fill="#c6c6c6" stroke="#c6c6c6" stroke-width="0.6"/><path d="M522.4 663.0 L618.8 651.6 L618.2 642.1 L521.9 653.4Z" fill="#c6c6c6" stroke="#c6c6c6" stroke-width="0.6"/><path d="M521.9 653.4 L618.2 642.1 L617.8 632.5 L521.5 643.7Z" fill="#b0b0b0" stroke="#b0b0b0" stroke-width="0.6"/><path d="M521.5 643.7 L617.8 632.5 L617.7 623.0 L521.4 634.1Z" fill="#c1c1c1" stroke="#c1c1c1" stroke-width="0.6"/><path d="M521.4 634.1 L617.7 623.0 L617.8 613.5 L521.5 624.5Z" fill="#a5a5a5" stroke="#a5a5a5" stroke-width="0.6"/><path d="M521.5 624.5 L617.8 613.5 L618.1 604.0 L521.8 614.9Z" fill="#ababab" stroke="#ababab" stroke-width="0.6"/><path d="M521.8 614.9 L618.1 604.0 L618.7 594.5 L522.3 605.4Z" fill="#919191" stroke="#919191" stroke-width="0.6"/><path d="M522.3 605.4 L618.7 594.5 L619.5 585.1 L523.1 595.9Z" fill="#a8a8a8" stroke="#a8a8a8" stroke-width="0.6"/><path d="M523.1 595.9 L619.5 585.1 L620.5 575.7 L524.1 586.4Z" fill="#a5a5a5" stroke="#a5a5a5" stroke-width="0.6"/><path d="M524.1 586.4 L620.5 575.7 L621.7 566.3 L525.3 577.0Z" fill="#969696" stroke="#969696" stroke-width="0.6"/><path d="M525.3 577.0 L621.7 566.3 L623.1 557.1 L526.8 567.7Z" fill="#8b8b8b" stroke="#8b8b8b" stroke-width="0.6"/><path d="M526.8 567.7 L623.1 557.1 L624.8 547.9 L528.4 558.4Z" fill="#9c9c9c" stroke="#9c9c9c" stroke-width="0.6"/><path d="M528.4 558.4 L624.8 547.9 L626.7 538.8 L530.3 549.2Z" fill="#8d8d8d" stroke="#8d8d8d" stroke-width="0.6"/><path d="M530.3 549.2 L626.7 538.8 L628.8 529.7 L532.4 540.1Z" fill="#7c7c7c" stroke="#7c7c7c" stroke-width="0.6"/><path d="M532.4 540.1 L628.8 529.7 L631.1 520.8 L534.8 531.0Z" fill="#939393" stroke="#939393" stroke-width="0.6"/><path d="M534.8 531.0 L631.1 520.8 L633.7 511.9 L537.3 522.1Z" fill="#7a7a7a" stroke="#7a7a7a" stroke-width="0.6"/><path d="M537.3 522.1 L633.7 511.9 L636.4 503.2 L540.1 513.3Z" fill="#878787" stroke="#878787" stroke-width="0.6"/><path d="M540.1 513.3 L636.4 503.2 L639.4 494.6 L543.0 504.6Z" fill="#676767" stroke="#676767" stroke-width="0.6"/><path d="M543.0 504.6 L639.4 494.6 L642.5 486.1 L546.2 496.1Z" fill="#6e6e6e" stroke="#6e6e6e" stroke-width="0.6"/><path d="M546.2 496.1 L642.5 486.1 L645.9 477.8 L549.6 487.7Z" fill="#606060" stroke="#606060" stroke-width="0.6"/><path d="M549.6 487.7 L645.9 477.8 L649.5 469.5 L553.2 479.4Z" fill="#5a5a5a" stroke="#5a5a5a" stroke-width="0.6"/><path d="M553.2 479.4 L649.5 469.5 L653.3 461.5 L557.0 471.2Z" fill="#646464" stroke="#646464" stroke-width="0.6"/><path d="M557.0 471.2 L653.3 461.5 L657.3 453.6 L561.0 463.3Z" fill="#616161" stroke="#616161" stroke-width="0.6"/><path d="M561.0 463.3 L657.3 453.6 L661.4 445.8 L565.2 455.4Z" fill="#585858" stroke="#585858" stroke-width="0.6"/><path d="M565.2 455.4 L661.4 445.8 L665.8 438.2 L569.5 447.8Z" fill="#616161" stroke="#616161" stroke-width="0.6"/><path d="M569.5 447.8 L665.8 438.2 L670.4 430.8 L574.1 440.3Z" fill="#525252" stroke="#525252" stroke-width="0.6"/><path d="M574.1 440.3 L670.4 430.8 L675.1 423.6 L578.8 433.0Z" fill="#414141" stroke="#414141" stroke-width="0.6"/><path d="M578.8 433.0 L675.1 423.6 L680.0 416.5 L583.8 425.9Z" fill="#4c4c4c" stroke="#4c4c4c" stroke-width="0.6"/><path d="M583.8 425.9 L680.0 416.5 L685.1 409.7 L588.9 419.0Z" fill="#4a4a4a" stroke="#4a4a4a" stroke-width="0.6"/><path d="M588.9 419.0 L685.1 409.7 L690.3 403.0 L594.1 412.3Z" fill="#555555" stroke="#555555" stroke-width="0.6"/><path d="M594.1 412.3 L690.3 403.0 L695.8 396.5 L599.6 405.8Z" fill="#535353" stroke="#535353" stroke-width="0.6"/><path d="M599.6 405.8 L695.8 396.5 L701.4 390.3 L605.2 399.5Z" fill="#525252" stroke="#525252" stroke-width="0.6"/><path d="M605.2 399.5 L701.4 390.3 L707.1 384.3 L610.9 393.4Z" fill="#363636" stroke="#363636" stroke-width="0.6"/><path d="M610.9 393.4 L707.1 384.3 L713.0 378.5 L616.9 387.5Z" fill="#4e4e4e" stroke="#4e4e4e" stroke-width="0.6"/><path d="M616.9 387.5 L713.0 378.5 L719.0 372.9 L622.9 381.9Z" fill="#4d4d4d" stroke="#4d4d4d" stroke-width="0.6"/><path d="M622.9 381.9 L719.0 372.9 L725.2 367.6 L629.1 376.5Z" fill="#3f3f3f" stroke="#3f3f3f" stroke-width="0.6"/><path d="M629.1 376.5 L725.2 367.6 L731.5 362.5 L635.5 371.4Z" fill="#363636" stroke="#363636" stroke-width="0.6"/><path d="M635.5 371.4 L731.5 362.5 L738.0 357.6 L641.9 366.5Z" fill="#484848" stroke="#484848" stroke-width="0.6"/><path d="M641.9 366.5 L738.0 357.6 L744.6 353.0 L648.5 361.8Z" fill="#2c2c2c" stroke="#2c2c2c" stroke-width="0.6"/><path d="M648.5 361.8 L744.6 353.0 L751.3 348.6 L655.3 357.4Z" fill="#444444" stroke="#444444" stroke-width="0.6"/><path d="M655.3 357.4 L751.3 348.6 L758.1 344.5 L662.1 353.3Z" fill="#3c3c3c" stroke="#3c3c3c" stroke-width="0.6"/><path d="M662.1 353.3 L758.1 344.5 L765.0 340.6 L669.0 349.4Z" fill="#343434" stroke="#343434" stroke-width="0.6"/><path d="M669.0 349.4 L765.0 340.6 L772.0 337.1 L676.1 345.8Z" fill="#3e3e3e" stroke="#3e3e3e" stroke-width="0.6"/><path d="M676.1 345.8 L772.0 337.1 L779.2 333.7 L683.2 342.4Z" fill="#303030" stroke="#303030" stroke-width="0.6"/><path d="M683.2 342.4 L779.2 333.7 L786.4 330.7 L690.5 339.4Z" fill="#2e2e2e" stroke="#2e2e2e" stroke-width="0.6"/><path d="M690.5 339.4 L786.4 330.7 L793.7 327.9 L697.8 336.6Z" fill="#202020" stroke="#202020" stroke-width="0.6"/><path d="M697.8 336.6 L793.7 327.9 L801.0 325.4 L705.2 334.0Z" fill="#393939" stroke="#393939" stroke-width="0.6"/><path d="M705.2 334.0 L801.0 325.4 L808.5 323.2 L712.7 331.8Z" fill="#2c2c2c" stroke="#2c2c2c" stroke-width="0.6"/><path d="M712.7 331.8 L808.5 323.2 L816.0 321.2 L720.2 329.8Z" fill="#383838" stroke="#383838" stroke-width="0.6"/><path d="M720.2 329.8 L816.0 321.2 L823.6 319.5 L727.8 328.1Z" fill="#373737" stroke="#373737" stroke-width="0.6"/><path d="M727.8 328.1 L823.6 319.5 L831.2 318.2 L735.5 326.8Z" fill="#2a2a2a" stroke="#2a2a2a" stroke-width="0.6"/><path d="M735.5 326.8 L831.2 318.2 L838.9 317.1 L743.2 325.6Z" fill="#303030" stroke="#303030" stroke-width="0.6"/><path d="M743.2 325.6 L838.9 317.1 L846.6 316.2 L750.9 324.8Z" fill="#292929" stroke="#292929" stroke-width="0.6"/><path d="M750.9 324.8 L846.6 316.2 L854.3 315.7 L758.7 324.3Z" fill="#1b1b1b" stroke="#1b1b1b" stroke-width="0.6"/>
<path d="M543.2 707.2 L541.5 697.4 L540.0 687.5 L538.8 677.6 L537.8 667.7 L537.0 657.8 L536.5 647.9 L611.9 639.0 L612.4 648.9 L613.2 658.8 L614.1 668.6 L615.4 678.4 L616.8 688.2 L618.5 697.9Z" fill="#2e2e2e" stroke="#000" stroke-width="1.4" stroke-linejoin="round"/>
<path d="M571.1 796.8 L567.2 787.8 L563.6 778.8 L560.1 769.6 L556.9 760.3 L553.9 750.9 L551.1 741.4 L626.4 731.9 L629.2 741.3 L632.2 750.7 L635.4 759.9 L638.8 769.0 L642.4 778.1 L646.3 786.9Z" fill="#2e2e2e" stroke="#000" stroke-width="1.4" stroke-linejoin="round"/>
<path d="M536.6 612.8 L537.2 602.9 L538.0 593.1 L539.1 583.3 L540.4 573.6 L541.9 564.0 L543.7 554.4 L619.1 546.2 L617.3 555.7 L615.8 565.3 L614.5 574.9 L613.4 584.6 L612.6 594.4 L612.0 604.2Z" fill="#2e2e2e" stroke="#000" stroke-width="1.4" stroke-linejoin="round"/>
<path d="M618.0 874.1 L612.3 866.8 L606.7 859.3 L601.4 851.5 L596.2 843.6 L591.2 835.5 L586.4 827.3 L661.6 817.2 L666.4 825.4 L671.3 833.5 L676.5 841.3 L681.8 849.0 L687.4 856.5 L693.0 863.8Z" fill="#2e2e2e" stroke="#000" stroke-width="1.4" stroke-linejoin="round"/>
<path d="M551.9 521.4 L554.7 512.3 L557.8 503.3 L561.1 494.5 L564.6 485.8 L568.3 477.2 L572.2 468.8 L647.6 461.2 L643.7 469.5 L639.9 478.0 L636.4 486.7 L633.2 495.4 L630.1 504.4 L627.3 513.4Z" fill="#2e2e2e" stroke="#000" stroke-width="1.4" stroke-linejoin="round"/>
<path d="M680.2 932.8 L673.1 927.7 L666.1 922.3 L659.3 916.7 L652.5 910.8 L646.0 904.7 L639.5 898.4 L714.5 887.8 L720.9 894.1 L727.5 900.2 L734.2 906.0 L741.0 911.6 L747.9 916.9 L755.0 922.0Z" fill="#2e2e2e" stroke="#000" stroke-width="1.4" stroke-linejoin="round"/>
<path d="M587.8 440.5 L592.7 433.0 L597.7 425.6 L603.0 418.4 L608.4 411.5 L614.0 404.7 L619.8 398.2 L695.1 391.1 L689.3 397.5 L683.7 404.2 L678.3 411.1 L673.1 418.3 L668.0 425.6 L663.2 433.1Z" fill="#2e2e2e" stroke="#000" stroke-width="1.4" stroke-linejoin="round"/>
<path d="M752.5 967.6 L744.6 965.2 L736.8 962.5 L729.0 959.5 L721.3 956.2 L713.7 952.6 L706.1 948.7 L780.9 937.8 L788.4 941.6 L796.0 945.2 L803.7 948.4 L811.4 951.4 L819.2 954.1 L827.1 956.5Z" fill="#2e2e2e" stroke="#000" stroke-width="1.4" stroke-linejoin="round"/>
<path d="M641.6 377.1 L648.1 371.7 L654.7 366.6 L661.5 361.7 L668.4 357.1 L675.5 352.8 L682.6 348.7 L757.7 341.8 L750.6 345.9 L743.6 350.2 L736.7 354.8 L729.9 359.6 L723.3 364.7 L716.8 370.1Z" fill="#2e2e2e" stroke="#000" stroke-width="1.4" stroke-linejoin="round"/>
<path d="M545.4 704.1 L538.9 650.2 L602.7 642.7 L606.6 644.1 L608.0 644.8 L609.3 645.6 L610.6 646.6 L611.9 647.6 L613.1 648.7 L614.2 649.9 L615.3 651.2 L616.3 652.6 L617.2 654.0 L618.1 655.6 L618.9 657.1 L619.6 658.8 L620.2 660.5 L620.8 662.2 L621.2 664.0 L621.6 665.8 L621.8 667.6 L622.0 669.4 L622.1 671.2 L622.1 673.1 L622.0 674.9 L621.7 676.7 L621.4 678.4 L621.1 680.2 L620.6 681.8 L620.0 683.5 L619.3 685.1 L618.6 686.6 L617.8 688.0 L616.9 689.4 L615.9 690.7 L614.9 691.9 L613.8 693.0 L612.6 694.0 L609.1 696.3Z" fill="url(#r1)" stroke="#000" stroke-width="1.8" stroke-linejoin="round"/>
<path d="M545.4 704.1 L538.9 650.2 L540.4 650.9 L541.8 651.8 L543.2 652.8 L544.5 653.9 L545.8 655.1 L547.1 656.4 L548.2 657.8 L549.3 659.3 L550.3 660.9 L551.3 662.5 L552.1 664.2 L552.9 666.0 L553.6 667.9 L554.2 669.7 L554.6 671.6 L555.0 673.6 L555.3 675.5 L555.5 677.5 L555.6 679.5 L555.6 681.5 L555.4 683.4 L555.2 685.4 L554.9 687.3 L554.5 689.1 L553.9 691.0 L553.3 692.7 L552.6 694.4 L551.8 696.1 L550.9 697.6 L550.0 699.1 L548.9 700.5 L547.8 701.8 L546.6 703.0Z" fill="#f6f6f6" stroke="#111" stroke-width="1"/>
<path d="M540.9 704.4 L534.4 650.4 L535.9 651.2 L537.3 652.1 L538.7 653.1 L540.1 654.2 L541.3 655.4 L542.6 656.7 L543.7 658.1 L544.8 659.6 L545.8 661.2 L546.8 662.8 L547.6 664.5 L548.4 666.3 L549.1 668.1 L549.7 670.0 L550.1 671.9 L550.5 673.9 L550.8 675.8 L551.0 677.8 L551.1 679.8 L551.1 681.8 L550.9 683.7 L550.7 685.7 L550.4 687.6 L550.0 689.4 L549.5 691.3 L548.8 693.0 L548.1 694.7 L547.3 696.4 L546.4 697.9 L545.5 699.4 L544.4 700.8 L543.3 702.1 L542.1 703.3Z" fill="#cfcfcf" clip-path="url(#cpr1)"/>
<path d="M536.4 704.7 L529.9 650.7 L531.4 651.5 L532.8 652.4 L534.2 653.4 L535.6 654.5 L536.9 655.7 L538.1 657.0 L539.2 658.4 L540.3 659.9 L541.4 661.5 L542.3 663.1 L543.1 664.8 L543.9 666.6 L544.6 668.4 L545.2 670.3 L545.7 672.2 L546.0 674.2 L546.3 676.1 L546.5 678.1 L546.6 680.1 L546.6 682.1 L546.5 684.0 L546.2 686.0 L545.9 687.9 L545.5 689.7 L545.0 691.6 L544.3 693.3 L543.6 695.0 L542.8 696.7 L542.0 698.2 L541.0 699.7 L539.9 701.1 L538.8 702.4 L537.6 703.6Z" fill="#dcdcdc" clip-path="url(#cpr1)"/>
<path d="M572.1 794.3 L554.8 743.4 L618.6 735.4 L620.1 735.7 L621.7 736.1 L623.2 736.6 L627.2 738.1 L628.6 738.7 L630.0 739.4 L631.3 740.2 L632.6 741.1 L633.9 742.1 L635.1 743.3 L636.2 744.5 L637.3 745.8 L638.3 747.2 L639.2 748.6 L640.1 750.2 L640.9 751.7 L641.6 753.4 L642.2 755.1 L642.8 756.8 L643.2 758.6 L643.6 760.4 L643.9 762.2 L644.0 764.0 L644.1 765.9 L644.1 767.7 L644.0 769.5 L643.8 771.3 L643.5 773.0 L643.1 774.8 L642.6 776.5 L642.0 778.1 L641.3 779.7 L640.6 781.2 L639.8 782.6 L638.9 784.0 L635.7 786.0Z" fill="url(#r2)" stroke="#000" stroke-width="1.8" stroke-linejoin="round"/>
<path d="M572.1 794.3 L554.8 743.4 L556.4 743.7 L558.0 744.1 L559.5 744.6 L561.0 745.3 L562.5 746.1 L563.9 746.9 L565.3 747.9 L566.6 749.1 L567.9 750.3 L569.2 751.6 L570.3 753.0 L571.4 754.5 L572.4 756.1 L573.4 757.7 L574.2 759.4 L575.0 761.2 L575.7 763.1 L576.3 764.9 L576.7 766.9 L577.1 768.8 L577.4 770.8 L577.6 772.7 L577.7 774.7 L577.7 776.7 L577.5 778.6 L577.3 780.6 L577.0 782.5 L576.6 784.4 L576.1 786.2 L575.4 787.9 L574.7 789.6 L573.9 791.3 L573.0 792.8Z" fill="#f6f6f6" stroke="#111" stroke-width="1"/>
<path d="M568.3 796.8 L551.1 745.9 L552.6 746.2 L554.2 746.6 L555.7 747.1 L557.2 747.8 L558.7 748.5 L560.1 749.4 L561.5 750.4 L562.9 751.5 L564.2 752.7 L565.4 754.1 L566.6 755.5 L567.7 757.0 L568.7 758.5 L569.6 760.2 L570.5 761.9 L571.2 763.7 L571.9 765.5 L572.5 767.4 L573.0 769.3 L573.4 771.3 L573.7 773.2 L573.8 775.2 L573.9 777.2 L573.9 779.2 L573.8 781.1 L573.6 783.1 L573.2 785.0 L572.8 786.8 L572.3 788.7 L571.7 790.4 L571.0 792.1 L570.2 793.8 L569.3 795.3Z" fill="#cfcfcf" clip-path="url(#cpr2)"/>
<path d="M564.6 799.3 L547.3 748.4 L548.9 748.7 L550.4 749.1 L552.0 749.6 L553.5 750.2 L555.0 751.0 L556.4 751.9 L557.8 752.9 L559.1 754.0 L560.4 755.2 L561.7 756.5 L562.8 757.9 L563.9 759.4 L564.9 761.0 L565.9 762.7 L566.7 764.4 L567.5 766.2 L568.2 768.0 L568.7 769.9 L569.2 771.8 L569.6 773.7 L569.9 775.7 L570.1 777.7 L570.2 779.7 L570.2 781.6 L570.0 783.6 L569.8 785.5 L569.5 787.4 L569.1 789.3 L568.5 791.1 L567.9 792.9 L567.2 794.6 L566.4 796.2 L565.5 797.8Z" fill="#dcdcdc" clip-path="url(#cpr2)"/>
<path d="M538.7 610.3 L546.2 557.5 L610.0 550.5 L613.4 551.7 L614.6 552.9 L615.6 554.2 L616.7 555.5 L617.6 557.0 L618.5 558.5 L619.3 560.1 L620.0 561.7 L620.6 563.4 L621.1 565.1 L621.6 566.9 L621.9 568.7 L622.2 570.5 L622.4 572.3 L622.5 574.2 L622.4 576.0 L622.3 577.8 L622.1 579.6 L621.8 581.4 L621.4 583.1 L620.9 584.8 L620.4 586.4 L619.7 588.0 L619.0 589.5 L618.1 591.0 L617.2 592.4 L616.3 593.7 L615.2 594.9 L614.1 596.0 L613.0 597.0 L611.8 597.9 L608.2 600.3 L606.8 601.1 L605.4 601.9 L604.0 602.5 L602.5 603.0Z" fill="url(#r3)" stroke="#000" stroke-width="1.8" stroke-linejoin="round"/>
<path d="M538.7 610.3 L546.2 557.5 L547.4 558.8 L548.6 560.2 L549.6 561.7 L550.7 563.2 L551.6 564.9 L552.5 566.6 L553.2 568.4 L553.9 570.2 L554.5 572.1 L555.0 574.0 L555.4 575.9 L555.6 577.9 L555.8 579.9 L555.9 581.8 L555.9 583.8 L555.8 585.8 L555.5 587.7 L555.2 589.6 L554.8 591.5 L554.3 593.3 L553.7 595.1 L553.0 596.8 L552.2 598.5 L551.3 600.0 L550.3 601.5 L549.3 602.9 L548.1 604.2 L546.9 605.4 L545.7 606.5 L544.4 607.5 L543.0 608.4 L541.6 609.1 L540.2 609.8Z" fill="#f6f6f6" stroke="#111" stroke-width="1"/>
<path d="M534.2 609.7 L541.7 556.8 L542.9 558.1 L544.1 559.5 L545.2 561.0 L546.2 562.6 L547.1 564.2 L548.0 566.0 L548.8 567.7 L549.4 569.6 L550.0 571.4 L550.5 573.4 L550.9 575.3 L551.2 577.3 L551.4 579.2 L551.5 581.2 L551.4 583.2 L551.3 585.2 L551.1 587.1 L550.8 589.0 L550.3 590.9 L549.8 592.7 L549.2 594.5 L548.5 596.2 L547.7 597.8 L546.8 599.4 L545.8 600.9 L544.8 602.3 L543.7 603.6 L542.5 604.8 L541.2 605.9 L539.9 606.9 L538.6 607.8 L537.2 608.5 L535.7 609.1Z" fill="#cfcfcf" clip-path="url(#cpr3)"/>
<path d="M529.8 609.0 L537.3 556.2 L538.5 557.5 L539.6 558.9 L540.7 560.4 L541.8 562.0 L542.7 563.6 L543.5 565.3 L544.3 567.1 L545.0 568.9 L545.6 570.8 L546.1 572.7 L546.4 574.7 L546.7 576.6 L546.9 578.6 L547.0 580.6 L547.0 582.6 L546.9 584.5 L546.6 586.5 L546.3 588.4 L545.9 590.3 L545.4 592.1 L544.7 593.9 L544.0 595.6 L543.2 597.2 L542.4 598.8 L541.4 600.3 L540.3 601.7 L539.2 603.0 L538.0 604.2 L536.8 605.3 L535.5 606.3 L534.1 607.1 L532.7 607.9 L531.2 608.5Z" fill="#dcdcdc" clip-path="url(#cpr3)"/>
<path d="M618.8 871.1 L589.8 828.8 L591.3 828.4 L592.8 828.2 L656.5 819.6 L658.0 819.5 L659.6 819.6 L661.1 819.7 L662.7 820.0 L664.3 820.4 L665.8 820.9 L669.8 822.3 L671.2 822.9 L672.6 823.7 L673.9 824.5 L675.2 825.4 L676.5 826.4 L677.7 827.6 L678.8 828.8 L679.9 830.1 L680.9 831.5 L681.9 833.0 L682.7 834.5 L683.5 836.1 L684.2 837.7 L684.9 839.4 L685.4 841.2 L685.9 842.9 L686.2 844.7 L686.5 846.6 L686.6 848.4 L686.7 850.2 L686.7 852.1 L686.6 853.9 L686.4 855.7 L686.1 857.4 L685.7 859.1 L685.2 860.8 L682.4 862.3Z" fill="url(#r4)" stroke="#000" stroke-width="1.8" stroke-linejoin="round"/>
<path d="M618.8 871.1 L589.8 828.8 L591.3 828.4 L592.8 828.2 L594.4 828.0 L596.0 828.1 L597.5 828.2 L599.1 828.5 L600.7 828.9 L602.2 829.4 L603.7 830.1 L605.2 830.9 L606.6 831.8 L608.0 832.8 L609.4 833.9 L610.7 835.1 L611.9 836.4 L613.1 837.8 L614.2 839.4 L615.2 840.9 L616.1 842.6 L617.0 844.3 L617.8 846.1 L618.4 847.9 L619.0 849.8 L619.5 851.8 L619.9 853.7 L620.2 855.7 L620.4 857.6 L620.5 859.6 L620.4 861.6 L620.3 863.6 L620.1 865.5 L619.8 867.4 L619.3 869.3Z" fill="#f6f6f6" stroke="#111" stroke-width="1"/>
<path d="M615.6 874.2 L586.5 831.9 L588.1 831.5 L589.6 831.3 L591.2 831.2 L592.7 831.2 L594.3 831.3 L595.9 831.6 L597.4 832.0 L599.0 832.6 L600.5 833.2 L602.0 834.0 L603.4 834.9 L604.8 835.9 L606.1 837.0 L607.4 838.2 L608.7 839.6 L609.8 841.0 L610.9 842.5 L612.0 844.1 L612.9 845.7 L613.8 847.5 L614.5 849.2 L615.2 851.1 L615.8 853.0 L616.3 854.9 L616.7 856.8 L617.0 858.8 L617.1 860.8 L617.2 862.8 L617.2 864.7 L617.1 866.7 L616.9 868.6 L616.5 870.5 L616.1 872.4Z" fill="#cfcfcf" clip-path="url(#cpr4)"/>
<path d="M612.3 877.4 L583.3 835.0 L584.8 834.6 L586.4 834.4 L587.9 834.3 L589.5 834.3 L591.1 834.5 L592.6 834.8 L594.2 835.2 L595.7 835.7 L597.2 836.3 L598.7 837.1 L600.2 838.0 L601.6 839.0 L602.9 840.1 L604.2 841.4 L605.4 842.7 L606.6 844.1 L607.7 845.6 L608.7 847.2 L609.7 848.9 L610.5 850.6 L611.3 852.4 L612.0 854.2 L612.6 856.1 L613.0 858.0 L613.4 860.0 L613.7 861.9 L613.9 863.9 L614.0 865.9 L614.0 867.9 L613.8 869.8 L613.6 871.8 L613.3 873.7 L612.9 875.5Z" fill="#dcdcdc" clip-path="url(#cpr4)"/>
<path d="M555.2 519.2 L573.4 471.2 L637.2 464.7 L640.4 465.5 L641.2 467.0 L642.0 468.6 L642.7 470.2 L643.4 471.9 L643.9 473.6 L644.4 475.4 L644.7 477.2 L645.0 479.0 L645.1 480.9 L645.2 482.7 L645.2 484.5 L645.1 486.3 L644.9 488.1 L644.6 489.9 L644.2 491.7 L643.7 493.3 L643.1 495.0 L642.5 496.6 L641.7 498.1 L640.9 499.6 L640.0 501.0 L639.0 502.3 L638.0 503.5 L636.9 504.6 L635.7 505.6 L634.5 506.5 L630.9 508.9 L629.6 509.7 L628.2 510.5 L626.7 511.1 L625.2 511.6 L623.7 512.0 L622.2 512.3 L558.4 519.0 L556.8 519.2Z" fill="url(#r5)" stroke="#000" stroke-width="1.8" stroke-linejoin="round"/>
<path d="M555.2 519.2 L573.4 471.2 L574.4 472.8 L575.2 474.5 L576.0 476.3 L576.7 478.1 L577.3 480.0 L577.8 481.9 L578.1 483.9 L578.4 485.8 L578.6 487.8 L578.7 489.8 L578.7 491.8 L578.6 493.7 L578.3 495.7 L578.0 497.6 L577.6 499.5 L577.1 501.3 L576.4 503.1 L575.7 504.8 L574.9 506.5 L574.0 508.1 L573.1 509.5 L572.0 511.0 L570.9 512.3 L569.7 513.5 L568.5 514.6 L567.1 515.6 L565.8 516.5 L564.4 517.2 L562.9 517.9 L561.4 518.4 L559.9 518.8 L558.4 519.0 L556.8 519.2Z" fill="#f6f6f6" stroke="#111" stroke-width="1"/>
<path d="M551.6 516.6 L569.8 468.5 L570.7 470.2 L571.6 471.9 L572.3 473.7 L573.0 475.5 L573.6 477.4 L574.1 479.3 L574.5 481.2 L574.8 483.2 L575.0 485.2 L575.0 487.2 L575.0 489.2 L574.9 491.1 L574.7 493.1 L574.3 495.0 L573.9 496.9 L573.4 498.7 L572.8 500.5 L572.1 502.2 L571.3 503.9 L570.4 505.4 L569.4 506.9 L568.4 508.3 L567.2 509.6 L566.0 510.9 L564.8 512.0 L563.5 513.0 L562.1 513.8 L560.7 514.6 L559.2 515.2 L557.8 515.8 L556.2 516.2 L554.7 516.4 L553.1 516.6Z" fill="#cfcfcf" clip-path="url(#cpr5)"/>
<path d="M547.9 513.9 L566.1 465.9 L567.1 467.6 L567.9 469.3 L568.7 471.1 L569.4 472.9 L570.0 474.8 L570.4 476.7 L570.8 478.6 L571.1 480.6 L571.3 482.6 L571.4 484.6 L571.4 486.5 L571.2 488.5 L571.0 490.4 L570.7 492.4 L570.3 494.2 L569.7 496.1 L569.1 497.9 L568.4 499.6 L567.6 501.2 L566.7 502.8 L565.8 504.3 L564.7 505.7 L563.6 507.0 L562.4 508.2 L561.1 509.3 L559.8 510.3 L558.5 511.2 L557.0 512.0 L555.6 512.6 L554.1 513.1 L552.6 513.5 L551.0 513.8 L549.5 513.9Z" fill="#dcdcdc" clip-path="url(#cpr5)"/>
<path d="M680.3 931.1 L643.8 898.8 L645.2 897.9 L646.6 897.2 L648.1 896.6 L649.6 896.1 L651.1 895.7 L652.7 895.5 L716.1 886.6 L717.7 886.5 L719.3 886.5 L720.8 886.7 L722.4 886.9 L724.0 887.3 L725.5 887.9 L729.5 889.3 L730.9 889.9 L732.3 890.6 L733.6 891.4 L734.9 892.4 L736.2 893.4 L737.4 894.6 L738.6 895.8 L739.6 897.1 L740.7 898.5 L741.6 900.0 L742.5 901.5 L743.3 903.1 L744.0 904.8 L744.6 906.5 L745.2 908.2 L745.6 910.0 L746.0 911.8 L746.3 913.6 L746.4 915.5 L746.5 917.3 L746.5 919.1 L746.4 920.9 L743.7 922.0Z" fill="url(#r6)" stroke="#000" stroke-width="1.8" stroke-linejoin="round"/>
<path d="M680.3 931.1 L643.8 898.8 L645.2 897.9 L646.6 897.2 L648.1 896.6 L649.6 896.1 L651.1 895.7 L652.7 895.5 L654.2 895.4 L655.8 895.4 L657.4 895.6 L659.0 895.9 L660.5 896.3 L662.1 896.8 L663.6 897.5 L665.1 898.3 L666.5 899.2 L668.0 900.2 L669.3 901.3 L670.6 902.5 L671.9 903.9 L673.0 905.3 L674.1 906.8 L675.2 908.4 L676.1 910.1 L677.0 911.8 L677.7 913.6 L678.4 915.4 L679.0 917.3 L679.5 919.2 L679.9 921.2 L680.2 923.2 L680.4 925.2 L680.5 927.1 L680.4 929.1Z" fill="#f6f6f6" stroke="#111" stroke-width="1"/>
<path d="M678.6 935.3 L642.1 903.0 L643.5 902.1 L644.9 901.4 L646.4 900.8 L647.9 900.3 L649.4 899.9 L651.0 899.7 L652.6 899.6 L654.1 899.6 L655.7 899.7 L657.3 900.0 L658.8 900.4 L660.4 901.0 L661.9 901.7 L663.4 902.4 L664.9 903.3 L666.3 904.4 L667.6 905.5 L668.9 906.7 L670.2 908.0 L671.3 909.5 L672.4 911.0 L673.5 912.6 L674.4 914.2 L675.3 916.0 L676.1 917.8 L676.7 919.6 L677.3 921.5 L677.8 923.4 L678.2 925.4 L678.5 927.3 L678.7 929.3 L678.8 931.3 L678.7 933.3Z" fill="#cfcfcf" clip-path="url(#cpr6)"/>
<path d="M676.9 939.4 L640.4 907.1 L641.8 906.3 L643.2 905.5 L644.7 904.9 L646.2 904.4 L647.7 904.1 L649.3 903.8 L650.9 903.7 L652.4 903.8 L654.0 903.9 L655.6 904.2 L657.2 904.6 L658.7 905.2 L660.2 905.8 L661.7 906.6 L663.2 907.5 L664.6 908.5 L665.9 909.6 L667.2 910.9 L668.5 912.2 L669.7 913.6 L670.8 915.1 L671.8 916.7 L672.7 918.4 L673.6 920.1 L674.4 921.9 L675.0 923.8 L675.6 925.7 L676.1 927.6 L676.5 929.5 L676.8 931.5 L677.0 933.5 L677.1 935.5 L677.0 937.5Z" fill="#dcdcdc" clip-path="url(#cpr6)"/>
<path d="M590.8 438.7 L620.7 401.2 L684.4 395.1 L687.3 395.3 L687.7 397.1 L688.1 398.9 L688.4 400.7 L688.5 402.6 L688.6 404.4 L688.6 406.2 L688.5 408.1 L688.3 409.9 L688.0 411.6 L687.6 413.4 L687.1 415.1 L686.5 416.8 L685.8 418.3 L685.1 419.9 L684.3 421.4 L683.3 422.7 L682.4 424.0 L681.3 425.3 L680.2 426.4 L679.0 427.4 L677.8 428.4 L674.3 430.7 L672.9 431.5 L671.5 432.3 L670.0 433.0 L668.5 433.5 L667.0 433.9 L665.5 434.1 L601.7 440.5 L600.2 440.6 L598.6 440.6 L597.0 440.5 L595.4 440.2 L593.9 439.9 L592.3 439.4Z" fill="url(#r7)" stroke="#000" stroke-width="1.8" stroke-linejoin="round"/>
<path d="M590.8 438.7 L620.7 401.2 L621.2 403.1 L621.6 405.1 L621.9 407.1 L622.1 409.0 L622.2 411.0 L622.2 413.0 L622.0 415.0 L621.8 416.9 L621.5 418.9 L621.0 420.8 L620.5 422.6 L619.9 424.4 L619.2 426.1 L618.4 427.8 L617.5 429.4 L616.5 430.9 L615.5 432.3 L614.3 433.6 L613.1 434.8 L611.9 435.9 L610.5 436.9 L609.2 437.8 L607.7 438.6 L606.3 439.3 L604.8 439.8 L603.3 440.2 L601.7 440.5 L600.2 440.6 L598.6 440.6 L597.0 440.5 L595.4 440.2 L593.9 439.9 L592.3 439.4Z" fill="#f6f6f6" stroke="#111" stroke-width="1"/>
<path d="M587.7 435.5 L617.6 398.0 L618.0 399.9 L618.4 401.9 L618.7 403.9 L618.9 405.8 L619.0 407.8 L619.0 409.8 L618.9 411.8 L618.6 413.8 L618.3 415.7 L617.9 417.6 L617.3 419.4 L616.7 421.2 L616.0 422.9 L615.2 424.6 L614.3 426.2 L613.3 427.7 L612.3 429.1 L611.2 430.4 L610.0 431.6 L608.7 432.8 L607.4 433.8 L606.0 434.6 L604.6 435.4 L603.1 436.1 L601.6 436.6 L600.1 437.0 L598.5 437.3 L597.0 437.4 L595.4 437.4 L593.8 437.3 L592.3 437.0 L590.7 436.7 L589.2 436.2Z" fill="#cfcfcf" clip-path="url(#cpr7)"/>
<path d="M584.5 432.3 L614.4 394.8 L614.9 396.8 L615.3 398.7 L615.6 400.7 L615.7 402.7 L615.8 404.6 L615.8 406.6 L615.7 408.6 L615.5 410.6 L615.1 412.5 L614.7 414.4 L614.2 416.2 L613.5 418.0 L612.8 419.7 L612.0 421.4 L611.1 423.0 L610.2 424.5 L609.1 425.9 L608.0 427.2 L606.8 428.4 L605.5 429.6 L604.2 430.6 L602.8 431.5 L601.4 432.2 L599.9 432.9 L598.4 433.4 L596.9 433.8 L595.4 434.1 L593.8 434.2 L592.2 434.2 L590.7 434.1 L589.1 433.9 L587.5 433.5 L586.0 433.0Z" fill="#dcdcdc" clip-path="url(#cpr7)"/>
<path d="M752.2 965.5 L709.9 948.8 L711.0 947.5 L712.1 946.2 L713.3 945.0 L714.6 943.9 L715.9 942.9 L717.3 942.1 L718.7 941.4 L720.2 940.7 L721.7 940.3 L723.3 939.9 L724.8 939.7 L788.1 930.5 L789.6 930.4 L791.2 930.4 L792.8 930.5 L794.4 930.8 L796.0 931.2 L800.0 932.7 L801.5 933.2 L802.9 933.8 L804.3 934.5 L805.7 935.4 L807.0 936.3 L808.2 937.3 L809.5 938.5 L810.6 939.7 L811.7 941.0 L812.7 942.4 L813.7 943.9 L814.6 945.5 L815.4 947.1 L816.1 948.7 L816.7 950.5 L817.3 952.2 L817.7 954.0 L818.1 955.8 L817.9 956.0Z" fill="url(#r8)" stroke="#000" stroke-width="1.8" stroke-linejoin="round"/>
<path d="M752.2 965.5 L709.9 948.8 L711.0 947.5 L712.1 946.2 L713.3 945.0 L714.6 943.9 L715.9 942.9 L717.3 942.1 L718.7 941.4 L720.2 940.7 L721.7 940.3 L723.3 939.9 L724.8 939.7 L726.4 939.6 L728.0 939.6 L729.6 939.8 L731.2 940.0 L732.7 940.5 L734.3 941.0 L735.8 941.7 L737.3 942.5 L738.8 943.4 L740.2 944.4 L741.6 945.5 L742.9 946.8 L744.1 948.1 L745.3 949.5 L746.4 951.1 L747.5 952.7 L748.4 954.3 L749.3 956.1 L750.1 957.9 L750.7 959.7 L751.3 961.6 L751.8 963.6Z" fill="#f6f6f6" stroke="#111" stroke-width="1"/>
<path d="M751.1 969.9 L708.8 953.2 L709.9 951.8 L711.0 950.5 L712.2 949.4 L713.5 948.3 L714.8 947.3 L716.2 946.5 L717.7 945.7 L719.1 945.1 L720.6 944.6 L722.2 944.3 L723.7 944.0 L725.3 943.9 L726.9 944.0 L728.5 944.1 L730.1 944.4 L731.7 944.8 L733.2 945.4 L734.7 946.1 L736.2 946.8 L737.7 947.7 L739.1 948.8 L740.5 949.9 L741.8 951.1 L743.1 952.5 L744.2 953.9 L745.4 955.4 L746.4 957.0 L747.3 958.7 L748.2 960.4 L749.0 962.2 L749.7 964.1 L750.3 966.0 L750.8 967.9Z" fill="#cfcfcf" clip-path="url(#cpr8)"/>
<path d="M750.1 974.3 L707.7 957.6 L708.8 956.2 L709.9 954.9 L711.2 953.7 L712.4 952.6 L713.8 951.7 L715.1 950.8 L716.6 950.1 L718.1 949.5 L719.6 949.0 L721.1 948.6 L722.7 948.4 L724.2 948.3 L725.8 948.3 L727.4 948.5 L729.0 948.8 L730.6 949.2 L732.1 949.8 L733.7 950.4 L735.2 951.2 L736.6 952.1 L738.1 953.1 L739.4 954.3 L740.7 955.5 L742.0 956.8 L743.2 958.3 L744.3 959.8 L745.3 961.4 L746.3 963.1 L747.1 964.8 L747.9 966.6 L748.6 968.5 L749.2 970.4 L749.7 972.3Z" fill="#dcdcdc" clip-path="url(#cpr8)"/>
<path d="M645.6 376.4 L682.8 350.2 L748.9 344.0 L749.1 344.1 L749.1 345.9 L749.1 347.8 L749.0 349.6 L748.8 351.4 L748.5 353.2 L748.1 355.0 L747.6 356.7 L747.0 358.4 L746.3 360.0 L745.6 361.5 L744.8 363.0 L743.8 364.4 L742.9 365.7 L741.8 366.9 L740.7 368.1 L739.5 369.1 L738.3 370.0 L737.0 370.9 L733.4 373.2 L731.9 374.0 L730.5 374.6 L729.0 375.2 L727.4 375.6 L725.9 375.8 L662.3 381.8 L660.7 382.0 L659.1 382.0 L657.5 381.9 L655.9 381.6 L654.4 381.3 L652.8 380.8 L651.3 380.1 L649.8 379.4 L648.3 378.5 L646.9 377.5Z" fill="url(#r9)" stroke="#000" stroke-width="1.8" stroke-linejoin="round"/>
<path d="M645.6 376.4 L682.8 350.2 L682.9 352.2 L682.8 354.2 L682.7 356.2 L682.5 358.2 L682.2 360.1 L681.7 362.0 L681.2 363.9 L680.6 365.7 L679.8 367.4 L679.0 369.1 L678.1 370.7 L677.2 372.2 L676.1 373.6 L675.0 374.9 L673.7 376.2 L672.5 377.3 L671.1 378.3 L669.8 379.2 L668.3 380.0 L666.9 380.6 L665.3 381.2 L663.8 381.6 L662.3 381.8 L660.7 382.0 L659.1 382.0 L657.5 381.9 L655.9 381.6 L654.4 381.3 L652.8 380.8 L651.3 380.1 L649.8 379.4 L648.3 378.5 L646.9 377.5Z" fill="#f6f6f6" stroke="#111" stroke-width="1"/>
<path d="M643.8 372.3 L681.0 346.1 L681.1 348.1 L681.1 350.1 L680.9 352.1 L680.7 354.0 L680.4 356.0 L679.9 357.9 L679.4 359.7 L678.8 361.5 L678.1 363.3 L677.3 364.9 L676.4 366.5 L675.4 368.0 L674.3 369.5 L673.2 370.8 L672.0 372.0 L670.7 373.1 L669.4 374.2 L668.0 375.1 L666.5 375.8 L665.1 376.5 L663.6 377.0 L662.0 377.4 L660.5 377.7 L658.9 377.8 L657.3 377.9 L655.7 377.8 L654.2 377.5 L652.6 377.1 L651.0 376.6 L649.5 376.0 L648.0 375.3 L646.6 374.4 L645.2 373.4Z" fill="#cfcfcf" clip-path="url(#cpr9)"/>
<path d="M642.0 368.2 L679.2 342.0 L679.3 344.0 L679.3 346.0 L679.1 347.9 L678.9 349.9 L678.6 351.8 L678.2 353.7 L677.6 355.6 L677.0 357.4 L676.3 359.1 L675.5 360.8 L674.6 362.4 L673.6 363.9 L672.5 365.3 L671.4 366.7 L670.2 367.9 L668.9 369.0 L667.6 370.0 L666.2 370.9 L664.8 371.7 L663.3 372.4 L661.8 372.9 L660.2 373.3 L658.7 373.6 L657.1 373.7 L655.5 373.7 L653.9 373.6 L652.4 373.4 L650.8 373.0 L649.3 372.5 L647.7 371.9 L646.2 371.1 L644.8 370.3 L643.4 369.3Z" fill="#dcdcdc" clip-path="url(#cpr9)"/>
<path d="M931.6 960.3 L941.3 958.8 L927.2 961.0 L917.6 962.5Z" fill="#222222" stroke="#222222" stroke-width="0.6"/><path d="M917.6 962.5 L927.2 961.0 L913.1 962.3 L903.4 963.7Z" fill="#2e2e2e" stroke="#2e2e2e" stroke-width="0.6"/><path d="M903.4 963.7 L913.1 962.3 L898.9 962.5 L889.2 964.0Z" fill="#2a2a2a" stroke="#2a2a2a" stroke-width="0.6"/><path d="M889.2 964.0 L898.9 962.5 L884.7 961.9 L875.0 963.3Z" fill="#282828" stroke="#282828" stroke-width="0.6"/><path d="M875.0 963.3 L884.7 961.9 L870.5 960.2 L860.8 961.6Z" fill="#323232" stroke="#323232" stroke-width="0.6"/><path d="M860.8 961.6 L870.5 960.2 L856.3 957.6 L846.6 959.0Z" fill="#4c4c4c" stroke="#4c4c4c" stroke-width="0.6"/><path d="M846.6 959.0 L856.3 957.6 L842.3 954.0 L832.6 955.5Z" fill="#464646" stroke="#464646" stroke-width="0.6"/><path d="M832.6 955.5 L842.3 954.0 L828.4 949.5 L818.7 951.0Z" fill="#4c4c4c" stroke="#4c4c4c" stroke-width="0.6"/><path d="M818.7 951.0 L828.4 949.5 L814.7 944.1 L805.0 945.5Z" fill="#5e5e5e" stroke="#5e5e5e" stroke-width="0.6"/><path d="M805.0 945.5 L814.7 944.1 L801.2 937.8 L791.5 939.2Z" fill="#585858" stroke="#585858" stroke-width="0.6"/><path d="M791.5 939.2 L801.2 937.8 L788.0 930.6 L778.3 932.0Z" fill="#5d5d5d" stroke="#5d5d5d" stroke-width="0.6"/><path d="M778.3 932.0 L788.0 930.6 L775.1 922.6 L765.4 924.0Z" fill="#545454" stroke="#545454" stroke-width="0.6"/><path d="M765.4 924.0 L775.1 922.6 L762.5 913.7 L752.8 915.1Z" fill="#737373" stroke="#737373" stroke-width="0.6"/><path d="M752.8 915.1 L762.5 913.7 L750.3 904.0 L740.6 905.4Z" fill="#797979" stroke="#797979" stroke-width="0.6"/><path d="M740.6 905.4 L750.3 904.0 L738.5 893.6 L728.8 894.9Z" fill="#737373" stroke="#737373" stroke-width="0.6"/><path d="M728.8 894.9 L738.5 893.6 L727.2 882.4 L717.5 883.7Z" fill="#797979" stroke="#797979" stroke-width="0.6"/><path d="M717.5 883.7 L727.2 882.4 L716.3 870.5 L706.6 871.8Z" fill="#8b8b8b" stroke="#8b8b8b" stroke-width="0.6"/><path d="M706.6 871.8 L716.3 870.5 L706.0 857.9 L696.2 859.2Z" fill="#898989" stroke="#898989" stroke-width="0.6"/><path d="M696.2 859.2 L706.0 857.9 L696.2 844.7 L686.4 846.0Z" fill="#878787" stroke="#878787" stroke-width="0.6"/><path d="M686.4 846.0 L696.2 844.7 L686.9 830.9 L677.2 832.2Z" fill="#8b8b8b" stroke="#8b8b8b" stroke-width="0.6"/><path d="M677.2 832.2 L686.9 830.9 L678.3 816.5 L668.5 817.8Z" fill="#828282" stroke="#828282" stroke-width="0.6"/><path d="M668.5 817.8 L678.3 816.5 L670.2 801.6 L660.5 802.9Z" fill="#999999" stroke="#999999" stroke-width="0.6"/><path d="M660.5 802.9 L670.2 801.6 L662.8 786.3 L653.1 787.5Z" fill="#a8a8a8" stroke="#a8a8a8" stroke-width="0.6"/><path d="M653.1 787.5 L662.8 786.3 L656.1 770.5 L646.3 771.7Z" fill="#a3a3a3" stroke="#a3a3a3" stroke-width="0.6"/><path d="M646.3 771.7 L656.1 770.5 L650.0 754.3 L640.2 755.6Z" fill="#9b9b9b" stroke="#9b9b9b" stroke-width="0.6"/><path d="M640.2 755.6 L650.0 754.3 L644.7 737.8 L634.9 739.1Z" fill="#9b9b9b" stroke="#9b9b9b" stroke-width="0.6"/><path d="M634.9 739.1 L644.7 737.8 L640.0 721.1 L630.2 722.3Z" fill="#a3a3a3" stroke="#a3a3a3" stroke-width="0.6"/><path d="M630.2 722.3 L640.0 721.1 L636.1 704.0 L626.3 705.2Z" fill="#b8b8b8" stroke="#b8b8b8" stroke-width="0.6"/><path d="M626.3 705.2 L636.1 704.0 L632.9 686.8 L623.1 688.0Z" fill="#989898" stroke="#989898" stroke-width="0.6"/><path d="M623.1 688.0 L632.9 686.8 L630.4 669.5 L620.6 670.7Z" fill="#8a8a8a" stroke="#8a8a8a" stroke-width="0.6"/><path d="M620.6 670.7 L630.4 669.5 L628.7 652.0 L618.9 653.2Z" fill="#9c9c9c" stroke="#9c9c9c" stroke-width="0.6"/><path d="M618.9 653.2 L628.7 652.0 L627.7 634.6 L617.9 635.7Z" fill="#a1a1a1" stroke="#a1a1a1" stroke-width="0.6"/><path d="M617.9 635.7 L627.7 634.6 L627.5 617.1 L617.7 618.2Z" fill="#828282" stroke="#828282" stroke-width="0.6"/><path d="M617.7 618.2 L627.5 617.1 L628.1 599.7 L618.3 600.8Z" fill="#8a8a8a" stroke="#8a8a8a" stroke-width="0.6"/><path d="M618.3 600.8 L628.1 599.7 L629.4 582.4 L619.6 583.5Z" fill="#707070" stroke="#707070" stroke-width="0.6"/><path d="M619.6 583.5 L629.4 582.4 L631.5 565.3 L621.7 566.3Z" fill="#737373" stroke="#737373" stroke-width="0.6"/><path d="M621.7 566.3 L631.5 565.3 L634.3 548.3 L624.5 549.4Z" fill="#676767" stroke="#676767" stroke-width="0.6"/><path d="M624.5 549.4 L634.3 548.3 L637.9 531.7 L628.1 532.7Z" fill="#777777" stroke="#777777" stroke-width="0.6"/><path d="M628.1 532.7 L637.9 531.7 L642.2 515.3 L632.4 516.4Z" fill="#595959" stroke="#595959" stroke-width="0.6"/><path d="M632.4 516.4 L642.2 515.3 L647.2 499.3 L637.4 500.3Z" fill="#5e5e5e" stroke="#5e5e5e" stroke-width="0.6"/><path d="M637.4 500.3 L647.2 499.3 L652.9 483.7 L643.1 484.7Z" fill="#616161" stroke="#616161" stroke-width="0.6"/><path d="M643.1 484.7 L652.9 483.7 L659.3 468.5 L649.5 469.5Z" fill="#3e3e3e" stroke="#3e3e3e" stroke-width="0.6"/><path d="M649.5 469.5 L659.3 468.5 L666.4 453.9 L656.6 454.9Z" fill="#393939" stroke="#393939" stroke-width="0.6"/><path d="M656.6 454.9 L666.4 453.9 L674.1 439.7 L664.3 440.7Z" fill="#3b3b3b" stroke="#3b3b3b" stroke-width="0.6"/><path d="M664.3 440.7 L674.1 439.7 L682.5 426.2 L672.7 427.2Z" fill="#303030" stroke="#303030" stroke-width="0.6"/><path d="M672.7 427.2 L682.5 426.2 L691.5 413.2 L681.7 414.2Z" fill="#323232" stroke="#323232" stroke-width="0.6"/><path d="M681.7 414.2 L691.5 413.2 L701.0 401.0 L691.2 401.9Z" fill="#383838" stroke="#383838" stroke-width="0.6"/><path d="M691.2 401.9 L701.0 401.0 L711.1 389.4 L701.4 390.3Z" fill="#363636" stroke="#363636" stroke-width="0.6"/><path d="M701.4 390.3 L711.1 389.4 L721.8 378.5 L712.0 379.4Z" fill="#393939" stroke="#393939" stroke-width="0.6"/><path d="M712.0 379.4 L721.8 378.5 L732.9 368.4 L723.1 369.3Z" fill="#313131" stroke="#313131" stroke-width="0.6"/><path d="M723.1 369.3 L732.9 368.4 L744.5 359.1 L734.7 360.0Z" fill="#212121" stroke="#212121" stroke-width="0.6"/><path d="M734.7 360.0 L744.5 359.1 L756.6 350.6 L746.8 351.5Z" fill="#242424" stroke="#242424" stroke-width="0.6"/><path d="M746.8 351.5 L756.6 350.6 L769.0 342.9 L759.2 343.8Z" fill="#2a2a2a" stroke="#2a2a2a" stroke-width="0.6"/><path d="M759.2 343.8 L769.0 342.9 L781.8 336.2 L772.0 337.1Z" fill="#272727" stroke="#272727" stroke-width="0.6"/><path d="M772.0 337.1 L781.8 336.2 L794.9 330.3 L785.2 331.2Z" fill="#303030" stroke="#303030" stroke-width="0.6"/><path d="M785.2 331.2 L794.9 330.3 L808.3 325.3 L798.6 326.2Z" fill="#2f2f2f" stroke="#2f2f2f" stroke-width="0.6"/><path d="M798.6 326.2 L808.3 325.3 L822.0 321.3 L812.2 322.1Z" fill="#282828" stroke="#282828" stroke-width="0.6"/><path d="M812.2 322.1 L822.0 321.3 L835.8 318.2 L826.1 319.0Z" fill="#272727" stroke="#272727" stroke-width="0.6"/><path d="M826.1 319.0 L835.8 318.2 L849.9 316.0 L840.1 316.9Z" fill="#2c2c2c" stroke="#2c2c2c" stroke-width="0.6"/><path d="M840.1 316.9 L849.9 316.0 L864.0 314.8 L854.3 315.7Z" fill="#111111" stroke="#111111" stroke-width="0.6"/>
<path d="M904.6 963.7 L897.9 964.0 L891.1 964.0 L884.3 963.9 L877.5 963.5 L870.7 962.9 L863.9 962.1 L857.1 961.1 L850.4 959.8 L843.6 958.3 L836.9 956.7 L830.3 954.8 L823.6 952.7 L817.0 950.4 L810.5 947.8 L803.9 945.1 L797.5 942.2 L791.1 939.0 L784.7 935.7 L778.5 932.2 L772.3 928.4 L766.1 924.5 L760.1 920.4 L754.1 916.1 L748.2 911.6 L742.4 906.9 L736.7 902.1 L731.1 897.1 L725.6 891.9 L720.1 886.5 L714.8 881.0 L709.6 875.3 L704.6 869.5 L699.6 863.5 L694.8 857.3 L690.0 851.1 L685.5 844.6 L681.0 838.1 L676.7 831.4 L672.5 824.6 L668.4 817.7 L664.5 810.6 L660.7 803.4 L657.1 796.2 L653.6 788.8 L650.3 781.3 L647.1 773.8 L644.1 766.1 L641.2 758.4 L638.5 750.5 L636.0 742.7 L633.6 734.7 L631.4 726.7 L629.3 718.6 L627.4 710.5 L625.7 702.3 L624.1 694.1 L622.7 685.8 L621.5 677.6 L620.4 669.3 L619.6 660.9 L618.8 652.6 L618.3 644.2 L617.9 635.9 L617.7 627.5 L617.7 619.2 L617.9 610.9 L618.2 602.6 L618.7 594.3 L619.4 586.0 L620.2 577.8 L621.2 569.6 L622.4 561.5 L623.8 553.4 L625.3 545.4 L627.0 537.4 L628.9 529.5 L630.9 521.7 L633.1 513.9 L635.4 506.2 L637.9 498.7 L640.6 491.2 L643.5 483.8 L646.5 476.5 L649.6 469.3 L652.9 462.3 L656.4 455.3 L660.0 448.5 L663.7 441.8 L667.6 435.2 L671.7 428.8 L675.8 422.5 L680.1 416.3 L684.6 410.3 L689.2 404.4 L693.9 398.7 L698.7 393.2 L703.7 387.8 L708.7 382.6 L713.9 377.6 L719.2 372.7 L724.6 368.0 L730.1 363.5 L735.8 359.2 L741.5 355.1 L747.3 351.2 L753.2 347.4 L759.2 343.9 L765.2 340.5 L771.4 337.4 L777.6 334.4 L783.9 331.7 L790.2 329.2 L796.7 326.8 L803.1 324.7 L809.7 322.8 L816.3 321.1 L822.9 319.7 L829.5 318.4 L836.2 317.4" fill="none" stroke="#000" stroke-width="2.8"/>
<path d="M909.0 963.0 L902.2 963.3 L895.4 963.4 L888.6 963.2 L881.8 962.8 L875.1 962.2 L868.3 961.4 L861.5 960.4 L854.7 959.2 L848.0 957.7 L841.3 956.0 L834.6 954.1 L828.0 952.0 L821.4 949.7 L814.8 947.2 L808.3 944.5 L801.9 941.5 L795.5 938.4 L789.1 935.0 L782.8 931.5 L776.6 927.8 L770.5 923.9 L764.4 919.7 L758.5 915.4 L752.6 911.0 L746.8 906.3 L741.1 901.5 L735.5 896.4 L729.9 891.2 L724.5 885.9 L719.2 880.4 L714.0 874.7 L709.0 868.9 L704.0 862.9 L699.2 856.7 L694.4 850.5 L689.9 844.0 L685.4 837.5 L681.1 830.8 L676.9 824.0 L672.8 817.1 L668.9 810.0 L665.1 802.9 L661.5 795.6 L658.0 788.2 L654.7 780.7 L651.5 773.2 L648.5 765.5 L645.6 757.8 L642.9 750.0 L640.4 742.1 L638.0 734.1 L635.8 726.1 L633.7 718.1 L631.8 709.9 L630.1 701.8 L628.5 693.6 L627.1 685.3 L625.9 677.0 L624.8 668.7 L624.0 660.4 L623.3 652.1 L622.7 643.7 L622.3 635.4 L622.2 627.0 L622.1 618.7 L622.3 610.4 L622.6 602.1 L623.1 593.8 L623.8 585.5 L624.6 577.3 L625.6 569.1 L626.8 561.0 L628.2 552.9 L629.7 544.9 L631.4 536.9 L633.3 529.0 L635.3 521.2 L637.5 513.4 L639.8 505.8 L642.4 498.2 L645.0 490.7 L647.9 483.3 L650.9 476.1 L654.0 468.9 L657.3 461.8 L660.8 454.9 L664.4 448.0 L668.1 441.3 L672.0 434.8 L676.1 428.3 L680.2 422.0 L684.6 415.9 L689.0 409.9 L693.6 404.0 L698.3 398.3 L703.1 392.8 L708.1 387.4 L713.1 382.2 L718.3 377.2 L723.6 372.3 L729.0 367.6 L734.5 363.1 L740.2 358.8 L745.9 354.7 L751.7 350.8 L757.6 347.0 L763.6 343.5 L769.6 340.1 L775.8 337.0 L782.0 334.0 L788.3 331.3 L794.6 328.8 L801.1 326.4 L807.5 324.3 L814.1 322.4 L820.6 320.7 L827.3 319.3 L833.9 318.0 L840.6 317.0" fill="none" stroke="#444" stroke-width="1.0"/>
<path d="M914.3 962.2 L907.5 962.5 L900.8 962.6 L894.0 962.4 L887.2 962.0 L880.4 961.5 L873.6 960.6 L866.8 959.6 L860.1 958.4 L853.3 956.9 L846.6 955.2 L840.0 953.3 L833.3 951.2 L826.7 948.9 L820.2 946.4 L813.7 943.7 L807.2 940.7 L800.8 937.6 L794.5 934.3 L788.2 930.7 L782.0 927.0 L775.8 923.1 L769.8 919.0 L763.8 914.7 L757.9 910.2 L752.1 905.5 L746.4 900.7 L740.8 895.7 L735.3 890.5 L729.9 885.1 L724.6 879.6 L719.4 873.9 L714.3 868.1 L709.4 862.1 L704.5 856.0 L699.8 849.7 L695.2 843.3 L690.8 836.8 L686.4 830.1 L682.2 823.3 L678.2 816.3 L674.3 809.3 L670.5 802.1 L666.9 794.9 L663.4 787.5 L660.1 780.0 L656.9 772.5 L653.9 764.8 L651.0 757.1 L648.3 749.3 L645.8 741.4 L643.4 733.5 L641.1 725.5 L639.1 717.4 L637.2 709.3 L635.5 701.1 L633.9 692.9 L632.5 684.7 L631.3 676.4 L630.2 668.1 L629.3 659.8 L628.6 651.4 L628.1 643.1 L627.7 634.7 L627.5 626.4 L627.5 618.1 L627.7 609.7 L628.0 601.4 L628.5 593.2 L629.2 584.9 L630.0 576.7 L631.0 568.5 L632.2 560.4 L633.6 552.3 L635.1 544.3 L636.8 536.3 L638.7 528.4 L640.7 520.6 L642.9 512.9 L645.2 505.2 L647.7 497.6 L650.4 490.2 L653.3 482.8 L656.3 475.5 L659.4 468.3 L662.7 461.3 L666.2 454.3 L669.8 447.5 L673.5 440.8 L677.4 434.2 L681.4 427.8 L685.6 421.5 L689.9 415.4 L694.4 409.4 L699.0 403.5 L703.7 397.8 L708.5 392.3 L713.4 386.9 L718.5 381.7 L723.7 376.7 L729.0 371.8 L734.4 367.1 L739.9 362.6 L745.5 358.3 L751.2 354.2 L757.0 350.3 L762.9 346.5 L768.9 343.0 L775.0 339.6 L781.1 336.5 L787.4 333.5 L793.6 330.8 L800.0 328.3 L806.4 326.0 L812.9 323.8 L819.4 321.9 L826.0 320.3 L832.6 318.8 L839.3 317.6 L846.0 316.5" fill="none" stroke="#000" stroke-width="2.4"/>
<path d="M941.3 958.8 L1175.0 923.7 L1167.4 925.0 L933.6 960.2Z" fill="#373737" stroke="#373737" stroke-width="0.6"/><path d="M933.6 960.2 L1167.4 925.0 L1159.8 926.0 L926.0 961.2Z" fill="#343434" stroke="#343434" stroke-width="0.6"/><path d="M926.0 961.2 L1159.8 926.0 L1152.2 926.8 L918.3 961.9Z" fill="#282828" stroke="#282828" stroke-width="0.6"/><path d="M918.3 961.9 L1152.2 926.8 L1144.5 927.3 L910.5 962.4Z" fill="#2b2b2b" stroke="#2b2b2b" stroke-width="0.6"/><path d="M910.5 962.4 L1144.5 927.3 L1136.8 927.4 L902.8 962.6Z" fill="#2d2d2d" stroke="#2d2d2d" stroke-width="0.6"/><path d="M902.8 962.6 L1136.8 927.4 L1129.2 927.3 L895.0 962.5Z" fill="#3e3e3e" stroke="#3e3e3e" stroke-width="0.6"/><path d="M895.0 962.5 L1129.2 927.3 L1121.5 926.9 L887.3 962.1Z" fill="#414141" stroke="#414141" stroke-width="0.6"/><path d="M887.3 962.1 L1121.5 926.9 L1113.8 926.3 L879.5 961.4Z" fill="#353535" stroke="#353535" stroke-width="0.6"/><path d="M879.5 961.4 L1113.8 926.3 L1106.1 925.3 L871.8 960.4Z" fill="#525252" stroke="#525252" stroke-width="0.6"/><path d="M871.8 960.4 L1106.1 925.3 L1098.5 924.1 L864.0 959.1Z" fill="#565656" stroke="#565656" stroke-width="0.6"/><path d="M864.0 959.1 L1098.5 924.1 L1090.8 922.6 L856.3 957.6Z" fill="#404040" stroke="#404040" stroke-width="0.6"/><path d="M856.3 957.6 L1090.8 922.6 L1083.3 920.9 L848.6 955.8Z" fill="#4a4a4a" stroke="#4a4a4a" stroke-width="0.6"/><path d="M848.6 955.8 L1083.3 920.9 L1075.7 918.8 L841.0 953.6Z" fill="#5d5d5d" stroke="#5d5d5d" stroke-width="0.6"/><path d="M841.0 953.6 L1075.7 918.8 L1068.2 916.5 L833.4 951.3Z" fill="#535353" stroke="#535353" stroke-width="0.6"/><path d="M833.4 951.3 L1068.2 916.5 L1060.7 913.9 L825.9 948.6Z" fill="#5f5f5f" stroke="#5f5f5f" stroke-width="0.6"/><path d="M825.9 948.6 L1060.7 913.9 L1053.3 911.1 L818.4 945.7Z" fill="#636363" stroke="#636363" stroke-width="0.6"/><path d="M818.4 945.7 L1053.3 911.1 L1046.0 907.9 L811.0 942.5Z" fill="#6c6c6c" stroke="#6c6c6c" stroke-width="0.6"/><path d="M811.0 942.5 L1046.0 907.9 L1038.7 904.6 L803.6 939.0Z" fill="#696969" stroke="#696969" stroke-width="0.6"/><path d="M803.6 939.0 L1038.7 904.6 L1031.5 900.9 L796.4 935.3Z" fill="#5f5f5f" stroke="#5f5f5f" stroke-width="0.6"/><path d="M796.4 935.3 L1031.5 900.9 L1024.4 897.0 L789.2 931.3Z" fill="#767676" stroke="#767676" stroke-width="0.6"/><path d="M789.2 931.3 L1024.4 897.0 L1017.4 892.9 L782.1 927.1Z" fill="#737373" stroke="#737373" stroke-width="0.6"/><path d="M782.1 927.1 L1017.4 892.9 L1010.4 888.5 L775.1 922.6Z" fill="#777777" stroke="#777777" stroke-width="0.6"/><path d="M775.1 922.6 L1010.4 888.5 L1003.6 883.9 L768.2 917.8Z" fill="#6c6c6c" stroke="#6c6c6c" stroke-width="0.6"/><path d="M768.2 917.8 L1003.6 883.9 L996.9 879.0 L761.4 912.9Z" fill="#7e7e7e" stroke="#7e7e7e" stroke-width="0.6"/><path d="M761.4 912.9 L996.9 879.0 L990.3 873.9 L754.7 907.6Z" fill="#7a7a7a" stroke="#7a7a7a" stroke-width="0.6"/><path d="M754.7 907.6 L990.3 873.9 L983.8 868.6 L748.1 902.2Z" fill="#929292" stroke="#929292" stroke-width="0.6"/><path d="M748.1 902.2 L983.8 868.6 L977.4 863.1 L741.7 896.5Z" fill="#828282" stroke="#828282" stroke-width="0.6"/><path d="M741.7 896.5 L977.4 863.1 L971.2 857.3 L735.4 890.6Z" fill="#808080" stroke="#808080" stroke-width="0.6"/><path d="M735.4 890.6 L971.2 857.3 L965.1 851.3 L729.2 884.5Z" fill="#9e9e9e" stroke="#9e9e9e" stroke-width="0.6"/><path d="M729.2 884.5 L965.1 851.3 L959.1 845.1 L723.2 878.1Z" fill="#888888" stroke="#888888" stroke-width="0.6"/><path d="M723.2 878.1 L959.1 845.1 L953.3 838.7 L717.3 871.6Z" fill="#929292" stroke="#929292" stroke-width="0.6"/><path d="M717.3 871.6 L953.3 838.7 L947.6 832.1 L711.6 864.8Z" fill="#949494" stroke="#949494" stroke-width="0.6"/><path d="M711.6 864.8 L947.6 832.1 L942.1 825.3 L706.0 857.9Z" fill="#a5a5a5" stroke="#a5a5a5" stroke-width="0.6"/><path d="M706.0 857.9 L942.1 825.3 L936.7 818.4 L700.6 850.8Z" fill="#a1a1a1" stroke="#a1a1a1" stroke-width="0.6"/><path d="M700.6 850.8 L936.7 818.4 L931.5 811.2 L695.3 843.4Z" fill="#a9a9a9" stroke="#a9a9a9" stroke-width="0.6"/><path d="M695.3 843.4 L931.5 811.2 L926.5 803.9 L690.2 836.0Z" fill="#a6a6a6" stroke="#a6a6a6" stroke-width="0.6"/><path d="M690.2 836.0 L926.5 803.9 L921.6 796.4 L685.3 828.3Z" fill="#9a9a9a" stroke="#9a9a9a" stroke-width="0.6"/><path d="M685.3 828.3 L921.6 796.4 L917.0 788.7 L680.6 820.5Z" fill="#b3b3b3" stroke="#b3b3b3" stroke-width="0.6"/><path d="M680.6 820.5 L917.0 788.7 L912.5 780.9 L676.0 812.5Z" fill="#b8b8b8" stroke="#b8b8b8" stroke-width="0.6"/><path d="M676.0 812.5 L912.5 780.9 L908.1 773.0 L671.7 804.4Z" fill="#bebebe" stroke="#bebebe" stroke-width="0.6"/><path d="M671.7 804.4 L908.1 773.0 L904.0 764.9 L667.5 796.1Z" fill="#bebebe" stroke="#bebebe" stroke-width="0.6"/><path d="M667.5 796.1 L904.0 764.9 L900.1 756.7 L663.5 787.7Z" fill="#c4c4c4" stroke="#c4c4c4" stroke-width="0.6"/><path d="M663.5 787.7 L900.1 756.7 L896.3 748.3 L659.7 779.1Z" fill="#b6b6b6" stroke="#b6b6b6" stroke-width="0.6"/><path d="M659.7 779.1 L896.3 748.3 L892.8 739.9 L656.1 770.5Z" fill="#c4c4c4" stroke="#c4c4c4" stroke-width="0.6"/><path d="M656.1 770.5 L892.8 739.9 L889.4 731.3 L652.7 761.7Z" fill="#c4c4c4" stroke="#c4c4c4" stroke-width="0.6"/><path d="M652.7 761.7 L889.4 731.3 L886.3 722.6 L649.5 752.8Z" fill="#bcbcbc" stroke="#bcbcbc" stroke-width="0.6"/><path d="M649.5 752.8 L886.3 722.6 L883.3 713.8 L646.5 743.9Z" fill="#d0d0d0" stroke="#d0d0d0" stroke-width="0.6"/><path d="M646.5 743.9 L883.3 713.8 L880.6 705.0 L643.8 734.8Z" fill="#c8c8c8" stroke="#c8c8c8" stroke-width="0.6"/><path d="M643.8 734.8 L880.6 705.0 L878.1 696.0 L641.2 725.7Z" fill="#d3d3d3" stroke="#d3d3d3" stroke-width="0.6"/><path d="M641.2 725.7 L878.1 696.0 L875.8 687.0 L638.9 716.4Z" fill="#d3d3d3" stroke="#d3d3d3" stroke-width="0.6"/><path d="M638.9 716.4 L875.8 687.0 L873.7 677.9 L636.7 707.1Z" fill="#d5d5d5" stroke="#d5d5d5" stroke-width="0.6"/><path d="M636.7 707.1 L873.7 677.9 L871.8 668.8 L634.8 697.8Z" fill="#c9c9c9" stroke="#c9c9c9" stroke-width="0.6"/><path d="M634.8 697.8 L871.8 668.8 L870.1 659.6 L633.1 688.4Z" fill="#b5b5b5" stroke="#b5b5b5" stroke-width="0.6"/><path d="M633.1 688.4 L870.1 659.6 L868.7 650.3 L631.6 679.0Z" fill="#bbbbbb" stroke="#bbbbbb" stroke-width="0.6"/><path d="M631.6 679.0 L868.7 650.3 L867.5 641.0 L630.4 669.5Z" fill="#b7b7b7" stroke="#b7b7b7" stroke-width="0.6"/><path d="M630.4 669.5 L867.5 641.0 L866.5 631.7 L629.4 660.0Z" fill="#b2b2b2" stroke="#b2b2b2" stroke-width="0.6"/><path d="M629.4 660.0 L866.5 631.7 L865.7 622.4 L628.6 650.5Z" fill="#bcbcbc" stroke="#bcbcbc" stroke-width="0.6"/><path d="M628.6 650.5 L865.7 622.4 L865.1 613.1 L628.0 640.9Z" fill="#a7a7a7" stroke="#a7a7a7" stroke-width="0.6"/><path d="M628.0 640.9 L865.1 613.1 L864.8 603.8 L627.6 631.4Z" fill="#b3b3b3" stroke="#b3b3b3" stroke-width="0.6"/><path d="M627.6 631.4 L864.8 603.8 L864.7 594.4 L627.5 621.9Z" fill="#acacac" stroke="#acacac" stroke-width="0.6"/><path d="M627.5 621.9 L864.7 594.4 L864.8 585.1 L627.6 612.3Z" fill="#909090" stroke="#909090" stroke-width="0.6"/><path d="M627.6 612.3 L864.8 585.1 L865.1 575.8 L627.9 602.9Z" fill="#a3a3a3" stroke="#a3a3a3" stroke-width="0.6"/><path d="M627.9 602.9 L865.1 575.8 L865.7 566.6 L628.5 593.4Z" fill="#929292" stroke="#929292" stroke-width="0.6"/><path d="M628.5 593.4 L865.7 566.6 L866.5 557.4 L629.3 584.0Z" fill="#818181" stroke="#818181" stroke-width="0.6"/><path d="M629.3 584.0 L866.5 557.4 L867.5 548.2 L630.3 574.6Z" fill="#929292" stroke="#929292" stroke-width="0.6"/><path d="M630.3 574.6 L867.5 548.2 L868.7 539.0 L631.5 565.3Z" fill="#7b7b7b" stroke="#7b7b7b" stroke-width="0.6"/><path d="M631.5 565.3 L868.7 539.0 L870.1 530.0 L632.9 556.0Z" fill="#8d8d8d" stroke="#8d8d8d" stroke-width="0.6"/><path d="M632.9 556.0 L870.1 530.0 L871.8 521.0 L634.6 546.8Z" fill="#848484" stroke="#848484" stroke-width="0.6"/><path d="M634.6 546.8 L871.8 521.0 L873.7 512.1 L636.5 537.7Z" fill="#797979" stroke="#797979" stroke-width="0.6"/><path d="M636.5 537.7 L873.7 512.1 L875.8 503.2 L638.6 528.7Z" fill="#7e7e7e" stroke="#7e7e7e" stroke-width="0.6"/><path d="M638.6 528.7 L875.8 503.2 L878.1 494.5 L640.9 519.7Z" fill="#7c7c7c" stroke="#7c7c7c" stroke-width="0.6"/><path d="M640.9 519.7 L878.1 494.5 L880.6 485.8 L643.5 510.9Z" fill="#838383" stroke="#838383" stroke-width="0.6"/><path d="M643.5 510.9 L880.6 485.8 L883.4 477.3 L646.2 502.2Z" fill="#777777" stroke="#777777" stroke-width="0.6"/><path d="M646.2 502.2 L883.4 477.3 L886.3 468.9 L649.2 493.6Z" fill="#636363" stroke="#636363" stroke-width="0.6"/><path d="M649.2 493.6 L886.3 468.9 L889.5 460.6 L652.3 485.1Z" fill="#5d5d5d" stroke="#5d5d5d" stroke-width="0.6"/><path d="M652.3 485.1 L889.5 460.6 L892.8 452.4 L655.7 476.8Z" fill="#575757" stroke="#575757" stroke-width="0.6"/><path d="M655.7 476.8 L892.8 452.4 L896.4 444.4 L659.3 468.5Z" fill="#4b4b4b" stroke="#4b4b4b" stroke-width="0.6"/><path d="M659.3 468.5 L896.4 444.4 L900.1 436.5 L663.1 460.5Z" fill="#5c5c5c" stroke="#5c5c5c" stroke-width="0.6"/><path d="M663.1 460.5 L900.1 436.5 L904.1 428.7 L667.1 452.6Z" fill="#595959" stroke="#595959" stroke-width="0.6"/><path d="M667.1 452.6 L904.1 428.7 L908.2 421.1 L671.2 444.8Z" fill="#575757" stroke="#575757" stroke-width="0.6"/><path d="M671.2 444.8 L908.2 421.1 L912.6 413.7 L675.6 437.2Z" fill="#5a5a5a" stroke="#5a5a5a" stroke-width="0.6"/><path d="M675.6 437.2 L912.6 413.7 L917.1 406.4 L680.1 429.8Z" fill="#3d3d3d" stroke="#3d3d3d" stroke-width="0.6"/><path d="M680.1 429.8 L917.1 406.4 L921.8 399.4 L684.9 422.6Z" fill="#4e4e4e" stroke="#4e4e4e" stroke-width="0.6"/><path d="M684.9 422.6 L921.8 399.4 L926.7 392.5 L689.8 415.6Z" fill="#464646" stroke="#464646" stroke-width="0.6"/><path d="M689.8 415.6 L926.7 392.5 L931.7 385.7 L694.9 408.7Z" fill="#4a4a4a" stroke="#4a4a4a" stroke-width="0.6"/><path d="M694.9 408.7 L931.7 385.7 L936.9 379.2 L700.1 402.1Z" fill="#484848" stroke="#484848" stroke-width="0.6"/><path d="M700.1 402.1 L936.9 379.2 L942.3 372.9 L705.6 395.6Z" fill="#393939" stroke="#393939" stroke-width="0.6"/><path d="M705.6 395.6 L942.3 372.9 L947.8 366.8 L711.1 389.4Z" fill="#323232" stroke="#323232" stroke-width="0.6"/><path d="M711.1 389.4 L947.8 366.8 L953.5 360.9 L716.9 383.4Z" fill="#4a4a4a" stroke="#4a4a4a" stroke-width="0.6"/><path d="M716.9 383.4 L953.5 360.9 L959.4 355.2 L722.8 377.6Z" fill="#434343" stroke="#434343" stroke-width="0.6"/><path d="M722.8 377.6 L959.4 355.2 L965.4 349.8 L728.8 372.0Z" fill="#2d2d2d" stroke="#2d2d2d" stroke-width="0.6"/><path d="M728.8 372.0 L965.4 349.8 L971.5 344.5 L735.0 366.6Z" fill="#323232" stroke="#323232" stroke-width="0.6"/><path d="M735.0 366.6 L971.5 344.5 L977.8 339.5 L741.3 361.5Z" fill="#3e3e3e" stroke="#3e3e3e" stroke-width="0.6"/><path d="M741.3 361.5 L977.8 339.5 L984.2 334.8 L747.8 356.7Z" fill="#373737" stroke="#373737" stroke-width="0.6"/><path d="M747.8 356.7 L984.2 334.8 L990.7 330.3 L754.3 352.1Z" fill="#353535" stroke="#353535" stroke-width="0.6"/><path d="M754.3 352.1 L990.7 330.3 L997.3 326.0 L761.0 347.7Z" fill="#393939" stroke="#393939" stroke-width="0.6"/><path d="M761.0 347.7 L997.3 326.0 L1004.1 322.0 L767.8 343.6Z" fill="#2a2a2a" stroke="#2a2a2a" stroke-width="0.6"/><path d="M767.8 343.6 L1004.1 322.0 L1010.9 318.2 L774.8 339.7Z" fill="#363636" stroke="#363636" stroke-width="0.6"/><path d="M774.8 339.7 L1010.9 318.2 L1017.9 314.7 L781.8 336.2Z" fill="#262626" stroke="#262626" stroke-width="0.6"/><path d="M781.8 336.2 L1017.9 314.7 L1025.0 311.4 L788.9 332.8Z" fill="#2c2c2c" stroke="#2c2c2c" stroke-width="0.6"/><path d="M788.9 332.8 L1025.0 311.4 L1032.1 308.4 L796.1 329.8Z" fill="#303030" stroke="#303030" stroke-width="0.6"/><path d="M796.1 329.8 L1032.1 308.4 L1039.3 305.7 L803.4 327.0Z" fill="#222222" stroke="#222222" stroke-width="0.6"/><path d="M803.4 327.0 L1039.3 305.7 L1046.6 303.2 L810.8 324.5Z" fill="#353535" stroke="#353535" stroke-width="0.6"/><path d="M810.8 324.5 L1046.6 303.2 L1054.0 301.0 L818.2 322.3Z" fill="#1b1b1b" stroke="#1b1b1b" stroke-width="0.6"/><path d="M818.2 322.3 L1054.0 301.0 L1061.5 299.1 L825.7 320.3Z" fill="#1a1a1a" stroke="#1a1a1a" stroke-width="0.6"/><path d="M825.7 320.3 L1061.5 299.1 L1068.9 297.5 L833.3 318.7Z" fill="#2d2d2d" stroke="#2d2d2d" stroke-width="0.6"/><path d="M833.3 318.7 L1068.9 297.5 L1076.5 296.1 L840.9 317.3Z" fill="#272727" stroke="#272727" stroke-width="0.6"/><path d="M840.9 317.3 L1076.5 296.1 L1084.1 295.0 L848.6 316.2Z" fill="#181818" stroke="#181818" stroke-width="0.6"/><path d="M848.6 316.2 L1084.1 295.0 L1091.7 294.2 L856.3 315.4Z" fill="#323232" stroke="#323232" stroke-width="0.6"/><path d="M856.3 315.4 L1091.7 294.2 L1099.4 293.7 L864.0 314.8Z" fill="#2b2b2b" stroke="#2b2b2b" stroke-width="0.6"/>
<path d="M654.4 718.1 L651.9 707.6 L649.6 696.9 L647.7 686.2 L646.1 675.5 L644.7 664.7 L643.6 653.8 L642.9 643.0 L642.4 632.1 L853.1 607.5 L853.6 618.2 L854.3 628.8 L855.4 639.5 L856.7 650.1 L858.3 660.6 L860.3 671.1 L862.4 681.6 L864.9 691.9Z" fill="#3a3a3a" stroke="#000" stroke-width="1.8" stroke-linejoin="round"/>
<path d="M642.6 601.0 L643.3 590.2 L644.2 579.5 L645.4 568.8 L647.0 558.2 L648.8 547.7 L650.9 537.3 L653.3 527.0 L656.0 516.9 L866.7 494.4 L864.1 504.4 L861.7 514.5 L859.6 524.7 L857.8 535.0 L856.2 545.4 L855.0 555.9 L854.1 566.4 L853.4 577.0Z" fill="#3a3a3a" stroke="#000" stroke-width="1.8" stroke-linejoin="round"/>
<path d="M698.9 824.7 L693.6 815.7 L688.5 806.5 L683.6 797.2 L679.0 787.6 L674.6 777.9 L670.5 768.1 L666.7 758.1 L663.1 747.9 L873.5 721.1 L877.1 731.1 L880.9 740.9 L884.9 750.5 L889.2 760.1 L893.8 769.4 L898.6 778.6 L903.7 787.6 L908.9 796.4Z" fill="#3a3a3a" stroke="#000" stroke-width="1.8" stroke-linejoin="round"/>
<path d="M665.2 488.4 L668.9 478.8 L672.9 469.4 L677.2 460.2 L681.7 451.2 L686.5 442.4 L691.5 433.8 L696.7 425.4 L702.2 417.2 L912.7 396.7 L907.3 404.6 L902.1 412.9 L897.1 421.3 L892.3 430.0 L887.8 438.8 L883.6 447.9 L879.6 457.1 L875.9 466.5Z" fill="#3a3a3a" stroke="#000" stroke-width="1.8" stroke-linejoin="round"/>
<path d="M770.5 906.6 L763.0 900.4 L755.7 893.9 L748.5 887.1 L741.6 880.1 L734.7 872.8 L728.1 865.2 L721.7 857.3 L715.5 849.2 L925.4 820.4 L931.5 828.3 L937.9 836.0 L944.4 843.5 L951.2 850.7 L958.1 857.6 L965.2 864.2 L972.5 870.5 L979.9 876.6Z" fill="#3a3a3a" stroke="#000" stroke-width="1.8" stroke-linejoin="round"/>
<path d="M719.3 395.3 L725.6 388.2 L732.2 381.3 L738.9 374.7 L745.9 368.5 L753.0 362.5 L760.3 356.9 L767.7 351.5 L775.4 346.5 L985.4 327.2 L977.8 332.1 L970.4 337.4 L963.1 342.9 L956.1 348.8 L949.2 354.9 L942.5 361.4 L936.0 368.1 L929.7 375.1Z" fill="#3a3a3a" stroke="#000" stroke-width="1.8" stroke-linejoin="round"/>
<path d="M860.1 952.8 L851.4 950.2 L842.8 947.3 L834.2 944.1 L825.8 940.5 L817.4 936.5 L809.1 932.2 L800.9 927.6 L792.9 922.6 L1002.0 892.3 L1010.0 897.1 L1018.1 901.7 L1026.3 905.9 L1034.6 909.8 L1043.0 913.3 L1051.4 916.5 L1060.0 919.3 L1068.6 921.8Z" fill="#3a3a3a" stroke="#000" stroke-width="1.8" stroke-linejoin="round"/>
<path d="M656.3 654.1 L735.1 624.0 L816.2 614.5 L848.1 619.2 L849.0 631.2Z" fill="#f4f4f4" stroke="#222" stroke-width="1.1" stroke-linejoin="round"/>
<path d="M692.5 649.8 L745.1 632.0 L811.9 624.1 L807.4 636.2Z" fill="#d6d6d6"/>
<path d="M650.4 719.8 L640.2 650.5 L833.2 627.7 L835.0 628.0 L836.9 628.5 L838.7 629.1 L840.5 629.8 L844.1 631.6 L845.7 632.4 L847.3 633.4 L848.8 634.5 L850.3 635.7 L851.7 637.0 L853.1 638.4 L854.4 639.9 L855.6 641.5 L856.7 643.2 L857.7 645.0 L858.6 646.9 L859.5 648.8 L860.2 650.8 L860.9 652.8 L861.4 654.9 L861.8 657.0 L862.1 659.1 L862.3 661.3 L862.4 663.4 L862.4 665.6 L862.3 667.7 L862.0 669.8 L861.6 671.9 L861.2 673.9 L860.6 675.9 L859.9 677.8 L859.1 679.7 L858.2 681.4 L857.3 683.1 L856.2 684.7 L855.0 686.3 L853.8 687.7 L852.5 689.0 L851.1 690.1 L848.0 692.8 L846.5 693.9 L844.8 694.9 L843.2 695.8Z" fill="url(#r10)" stroke="#000" stroke-width="1.8" stroke-linejoin="round"/>
<path d="M650.4 719.8 L640.2 650.5 L642.1 650.8 L643.9 651.3 L645.8 651.9 L647.6 652.7 L649.3 653.6 L651.0 654.6 L652.7 655.8 L654.3 657.1 L655.8 658.6 L657.3 660.1 L658.7 661.8 L660.0 663.6 L661.2 665.4 L662.3 667.4 L663.4 669.4 L664.3 671.5 L665.1 673.7 L665.8 675.9 L666.3 678.2 L666.8 680.5 L667.1 682.9 L667.4 685.2 L667.5 687.5 L667.4 689.9 L667.3 692.2 L667.0 694.5 L666.6 696.8 L666.1 699.0 L665.5 701.2 L664.8 703.3 L663.9 705.3 L663.0 707.3 L661.9 709.1 L660.7 710.9 L659.5 712.5 L658.2 714.1 L656.7 715.5 L655.2 716.8 L653.7 717.9 L652.0 719.0Z" fill="#f6f6f6" stroke="#111" stroke-width="1"/>
<path d="M646.0 720.9 L635.9 651.6 L637.7 651.9 L639.6 652.4 L641.4 653.0 L643.2 653.8 L645.0 654.7 L646.7 655.7 L648.3 656.9 L649.9 658.2 L651.5 659.7 L652.9 661.2 L654.3 662.9 L655.6 664.7 L656.8 666.5 L658.0 668.5 L659.0 670.5 L659.9 672.6 L660.7 674.8 L661.4 677.0 L662.0 679.3 L662.4 681.6 L662.8 684.0 L663.0 686.3 L663.1 688.6 L663.1 691.0 L662.9 693.3 L662.7 695.6 L662.3 697.9 L661.8 700.1 L661.1 702.3 L660.4 704.4 L659.6 706.4 L658.6 708.4 L657.5 710.2 L656.4 712.0 L655.1 713.6 L653.8 715.2 L652.4 716.6 L650.9 717.9 L649.3 719.0 L647.7 720.1Z" fill="#cfcfcf" clip-path="url(#cpr10)"/>
<path d="M641.6 722.0 L631.5 652.7 L633.4 653.0 L635.2 653.5 L637.0 654.1 L638.8 654.9 L640.6 655.8 L642.3 656.8 L644.0 658.0 L645.6 659.3 L647.1 660.8 L648.6 662.3 L650.0 664.0 L651.3 665.8 L652.5 667.6 L653.6 669.6 L654.6 671.6 L655.5 673.7 L656.3 675.9 L657.0 678.1 L657.6 680.4 L658.1 682.7 L658.4 685.1 L658.6 687.4 L658.7 689.7 L658.7 692.1 L658.6 694.4 L658.3 696.7 L657.9 699.0 L657.4 701.2 L656.8 703.4 L656.0 705.5 L655.2 707.5 L654.2 709.5 L653.2 711.3 L652.0 713.1 L650.8 714.7 L649.4 716.3 L648.0 717.7 L646.5 719.0 L644.9 720.1 L643.3 721.2Z" fill="#dcdcdc" clip-path="url(#cpr10)"/>
<path d="M707.5 685.5 L809.2 673.1 L815.4 698.1 L712.6 710.9Z" fill="#d4d4d4" stroke="#d4d4d4" stroke-width="0.8"/>
<path d="M712.6 710.9 L707.5 685.5 L809.2 673.1 L815.4 698.1" fill="none" stroke="#000" stroke-width="1.8" stroke-linejoin="round"/>
<path d="M710.8 710.9 L705.7 686.0" fill="none" stroke="#fff" stroke-width="1.2"/>
<path d="M663.1 538.3 L747.8 513.0 L829.0 504.3 L858.5 506.1 L855.8 517.4Z" fill="#f4f4f4" stroke="#222" stroke-width="1.1" stroke-linejoin="round"/>
<path d="M699.2 534.9 L755.2 520.5 L822.0 513.3 L814.2 522.4Z" fill="#d6d6d6"/>
<path d="M639.6 598.5 L647.5 529.9 L840.6 509.1 L844.1 510.9 L845.7 511.9 L847.2 513.0 L848.7 514.1 L850.1 515.5 L851.5 516.9 L852.7 518.4 L853.9 520.0 L855.1 521.7 L856.1 523.5 L857.0 525.3 L857.9 527.3 L858.6 529.2 L859.3 531.3 L859.8 533.4 L860.2 535.5 L860.5 537.6 L860.7 539.7 L860.8 541.9 L860.8 544.0 L860.6 546.2 L860.4 548.3 L860.0 550.3 L859.6 552.4 L859.0 554.4 L858.3 556.3 L857.5 558.2 L856.6 559.9 L855.7 561.7 L854.6 563.3 L853.4 564.8 L852.2 566.2 L850.9 567.5 L849.5 568.7 L846.4 571.3 L844.8 572.4 L843.2 573.5 L841.5 574.3 L839.8 575.1 L838.1 575.7 L836.3 576.1 L834.4 576.4 L641.4 598.4Z" fill="url(#r11)" stroke="#000" stroke-width="1.8" stroke-linejoin="round"/>
<path d="M639.6 598.5 L647.5 529.9 L649.3 530.9 L650.9 532.1 L652.5 533.4 L654.1 534.8 L655.5 536.4 L656.9 538.0 L658.2 539.8 L659.4 541.7 L660.6 543.6 L661.6 545.7 L662.5 547.8 L663.3 550.0 L664.0 552.2 L664.6 554.5 L665.0 556.8 L665.4 559.1 L665.6 561.4 L665.7 563.8 L665.7 566.1 L665.5 568.5 L665.2 570.8 L664.9 573.1 L664.4 575.3 L663.7 577.5 L663.0 579.6 L662.1 581.6 L661.2 583.6 L660.1 585.4 L659.0 587.2 L657.7 588.9 L656.4 590.4 L655.0 591.8 L653.5 593.1 L651.9 594.3 L650.3 595.3 L648.6 596.2 L646.8 597.0 L645.1 597.6 L643.3 598.1 L641.4 598.4Z" fill="#f6f6f6" stroke="#111" stroke-width="1"/>
<path d="M635.3 597.0 L643.3 528.4 L645.0 529.4 L646.7 530.6 L648.3 531.9 L649.8 533.3 L651.3 534.9 L652.7 536.5 L654.0 538.3 L655.2 540.2 L656.3 542.1 L657.3 544.2 L658.2 546.3 L659.1 548.5 L659.7 550.7 L660.3 553.0 L660.8 555.3 L661.1 557.6 L661.3 559.9 L661.4 562.3 L661.4 564.6 L661.3 567.0 L661.0 569.3 L660.6 571.6 L660.1 573.8 L659.5 576.0 L658.7 578.1 L657.9 580.1 L656.9 582.1 L655.9 583.9 L654.7 585.7 L653.5 587.4 L652.1 588.9 L650.7 590.3 L649.2 591.6 L647.7 592.8 L646.0 593.8 L644.3 594.7 L642.6 595.5 L640.8 596.1 L639.0 596.6 L637.2 596.9Z" fill="#cfcfcf" clip-path="url(#cpr11)"/>
<path d="M631.1 595.5 L639.0 526.9 L640.8 527.9 L642.4 529.1 L644.0 530.4 L645.6 531.8 L647.0 533.4 L648.4 535.0 L649.7 536.8 L651.0 538.7 L652.1 540.6 L653.1 542.7 L654.0 544.8 L654.8 547.0 L655.5 549.2 L656.1 551.5 L656.5 553.8 L656.9 556.1 L657.1 558.4 L657.2 560.8 L657.2 563.1 L657.0 565.5 L656.8 567.8 L656.4 570.1 L655.9 572.3 L655.2 574.5 L654.5 576.6 L653.7 578.6 L652.7 580.6 L651.6 582.4 L650.5 584.2 L649.2 585.9 L647.9 587.4 L646.5 588.8 L645.0 590.1 L643.4 591.3 L641.8 592.3 L640.1 593.2 L638.4 594.0 L636.6 594.6 L634.8 595.1 L632.9 595.4Z" fill="#dcdcdc" clip-path="url(#cpr11)"/>
<path d="M703.3 570.5 L805.1 559.1 L803.8 582.6 L700.9 594.3Z" fill="#939393" stroke="#939393" stroke-width="0.8"/>
<path d="M700.9 594.3 L703.3 570.5 L805.1 559.1 L803.8 582.6" fill="none" stroke="#000" stroke-width="1.8" stroke-linejoin="round"/>
<path d="M699.1 594.3 L701.5 571.0" fill="none" stroke="#fff" stroke-width="1.2"/>
<path d="M683.5 767.4 L755.6 735.3 L836.5 724.9 L871.6 731.5 L875.8 742.5Z" fill="#f4f4f4" stroke="#222" stroke-width="1.1" stroke-linejoin="round"/>
<path d="M719.5 762.3 L768.2 742.5 L834.8 734.0 L834.3 747.5Z" fill="#d6d6d6"/>
<path d="M696.8 829.7 L666.4 768.8 L668.2 768.2 L670.0 767.8 L671.9 767.5 L864.4 742.6 L866.3 742.4 L868.1 742.5 L870.0 742.6 L871.8 743.0 L873.7 743.4 L875.5 744.0 L877.3 744.8 L880.9 746.5 L882.5 747.4 L884.1 748.3 L885.7 749.4 L887.1 750.6 L888.6 752.0 L889.9 753.4 L891.2 754.9 L892.4 756.5 L893.5 758.3 L894.6 760.0 L895.5 761.9 L896.3 763.9 L897.1 765.8 L897.7 767.9 L898.3 770.0 L898.7 772.1 L899.0 774.2 L899.2 776.4 L899.3 778.5 L899.3 780.6 L899.1 782.8 L898.9 784.9 L898.5 786.9 L898.0 789.0 L897.5 790.9 L896.8 792.9 L896.0 794.7 L895.1 796.5 L894.1 798.2 L893.0 799.8 L891.9 801.3 L889.1 803.7Z" fill="url(#r12)" stroke="#000" stroke-width="1.8" stroke-linejoin="round"/>
<path d="M696.8 829.7 L666.4 768.8 L668.2 768.2 L670.0 767.8 L671.9 767.5 L673.7 767.3 L675.6 767.4 L677.4 767.5 L679.3 767.9 L681.2 768.3 L683.0 769.0 L684.8 769.7 L686.6 770.7 L688.3 771.7 L690.0 772.9 L691.6 774.2 L693.1 775.7 L694.6 777.2 L696.0 778.9 L697.3 780.7 L698.5 782.6 L699.6 784.5 L700.6 786.6 L701.6 788.7 L702.4 790.9 L703.1 793.1 L703.6 795.4 L704.1 797.7 L704.4 800.1 L704.7 802.4 L704.8 804.8 L704.7 807.1 L704.6 809.4 L704.3 811.7 L703.9 814.0 L703.4 816.2 L702.8 818.4 L702.0 820.5 L701.2 822.5 L700.2 824.4 L699.2 826.3 L698.0 828.0Z" fill="#f6f6f6" stroke="#111" stroke-width="1"/>
<path d="M693.1 832.3 L662.8 771.4 L664.6 770.8 L666.4 770.4 L668.2 770.1 L670.1 770.0 L671.9 770.0 L673.8 770.2 L675.7 770.5 L677.5 771.0 L679.3 771.6 L681.1 772.4 L682.9 773.3 L684.6 774.3 L686.3 775.5 L687.9 776.9 L689.5 778.3 L690.9 779.9 L692.3 781.5 L693.6 783.3 L694.8 785.2 L696.0 787.2 L697.0 789.2 L697.9 791.3 L698.7 793.5 L699.4 795.8 L700.0 798.0 L700.4 800.3 L700.8 802.7 L701.0 805.0 L701.1 807.4 L701.1 809.7 L700.9 812.1 L700.7 814.4 L700.3 816.6 L699.8 818.8 L699.1 821.0 L698.4 823.1 L697.5 825.1 L696.6 827.1 L695.5 828.9 L694.4 830.7Z" fill="#cfcfcf" clip-path="url(#cpr12)"/>
<path d="M689.5 834.9 L659.1 774.1 L660.9 773.5 L662.7 773.0 L664.5 772.7 L666.4 772.6 L668.3 772.6 L670.1 772.8 L672.0 773.1 L673.9 773.6 L675.7 774.2 L677.5 775.0 L679.3 775.9 L681.0 777.0 L682.6 778.2 L684.3 779.5 L685.8 780.9 L687.3 782.5 L688.7 784.2 L690.0 786.0 L691.2 787.8 L692.3 789.8 L693.3 791.8 L694.2 794.0 L695.1 796.1 L695.8 798.4 L696.3 800.7 L696.8 803.0 L697.1 805.3 L697.4 807.7 L697.5 810.0 L697.4 812.4 L697.3 814.7 L697.0 817.0 L696.6 819.2 L696.1 821.5 L695.5 823.6 L694.7 825.7 L693.9 827.8 L692.9 829.7 L691.9 831.5 L690.7 833.3Z" fill="#dcdcdc" clip-path="url(#cpr12)"/>
<path d="M744.6 793.4 L846.0 779.9 L859.6 803.0 L757.0 816.8Z" fill="#acacac" stroke="#acacac" stroke-width="0.8"/>
<path d="M757.0 816.8 L744.6 793.4 L846.0 779.9 L859.6 803.0" fill="none" stroke="#000" stroke-width="1.8" stroke-linejoin="round"/>
<path d="M755.2 816.8 L742.8 793.9" fill="none" stroke="#fff" stroke-width="1.2"/>
<path d="M702.9 435.2 L792.2 416.9 L873.2 408.9 L901.3 406.8 L895.5 416.1Z" fill="#f4f4f4" stroke="#222" stroke-width="1.1" stroke-linejoin="round"/>
<path d="M738.9 432.5 L797.2 422.8 L863.9 416.2 L853.8 421.0Z" fill="#d6d6d6"/>
<path d="M662.4 482.3 L690.9 423.8 L883.8 404.8 L886.6 406.1 L887.8 407.8 L889.0 409.5 L890.0 411.2 L890.9 413.1 L891.8 415.0 L892.5 417.0 L893.2 419.0 L893.7 421.1 L894.1 423.2 L894.4 425.4 L894.6 427.5 L894.7 429.7 L894.7 431.8 L894.6 434.0 L894.3 436.1 L893.9 438.2 L893.5 440.2 L892.9 442.2 L892.2 444.1 L891.4 446.0 L890.5 447.8 L889.5 449.5 L888.5 451.2 L887.3 452.7 L886.1 454.1 L884.7 455.4 L883.4 456.6 L880.3 459.2 L878.7 460.3 L877.1 461.4 L875.4 462.3 L873.7 463.0 L871.9 463.6 L870.1 464.1 L868.3 464.4 L675.4 484.4 L673.5 484.6 L671.6 484.6 L669.8 484.4 L667.9 484.1 L666.0 483.7 L664.2 483.1Z" fill="url(#r13)" stroke="#000" stroke-width="1.8" stroke-linejoin="round"/>
<path d="M662.4 482.3 L690.9 423.8 L692.3 425.6 L693.5 427.4 L694.6 429.4 L695.6 431.4 L696.5 433.5 L697.3 435.7 L698.0 437.9 L698.6 440.2 L699.1 442.5 L699.4 444.9 L699.6 447.2 L699.7 449.6 L699.7 451.9 L699.6 454.3 L699.3 456.6 L698.9 458.9 L698.4 461.1 L697.8 463.3 L697.0 465.4 L696.2 467.5 L695.2 469.4 L694.2 471.3 L693.0 473.1 L691.7 474.8 L690.4 476.3 L689.0 477.8 L687.5 479.1 L685.9 480.3 L684.2 481.3 L682.6 482.2 L680.8 483.0 L679.0 483.6 L677.2 484.1 L675.4 484.4 L673.5 484.6 L671.6 484.6 L669.8 484.4 L667.9 484.1 L666.0 483.7 L664.2 483.1Z" fill="#f6f6f6" stroke="#111" stroke-width="1"/>
<path d="M658.9 479.5 L687.4 421.0 L688.8 422.7 L690.0 424.6 L691.1 426.5 L692.1 428.6 L693.0 430.7 L693.8 432.9 L694.5 435.1 L695.1 437.4 L695.6 439.7 L695.9 442.0 L696.1 444.4 L696.2 446.7 L696.2 449.1 L696.1 451.4 L695.8 453.8 L695.4 456.0 L694.9 458.3 L694.3 460.5 L693.5 462.6 L692.7 464.6 L691.7 466.6 L690.7 468.5 L689.5 470.2 L688.2 471.9 L686.9 473.5 L685.5 474.9 L684.0 476.2 L682.4 477.4 L680.8 478.5 L679.1 479.4 L677.3 480.2 L675.5 480.8 L673.7 481.2 L671.9 481.6 L670.0 481.7 L668.1 481.7 L666.3 481.6 L664.4 481.3 L662.6 480.8 L660.7 480.2Z" fill="#cfcfcf" clip-path="url(#cpr13)"/>
<path d="M655.4 476.7 L684.0 418.1 L685.3 419.9 L686.5 421.8 L687.6 423.7 L688.6 425.7 L689.5 427.9 L690.4 430.0 L691.1 432.3 L691.6 434.5 L692.1 436.8 L692.4 439.2 L692.7 441.5 L692.8 443.9 L692.7 446.3 L692.6 448.6 L692.3 450.9 L691.9 453.2 L691.4 455.4 L690.8 457.6 L690.0 459.7 L689.2 461.8 L688.2 463.8 L687.2 465.6 L686.0 467.4 L684.7 469.1 L683.4 470.7 L682.0 472.1 L680.5 473.4 L678.9 474.6 L677.3 475.6 L675.6 476.6 L673.8 477.3 L672.0 477.9 L670.2 478.4 L668.4 478.7 L666.5 478.9 L664.7 478.9 L662.8 478.8 L660.9 478.5 L659.1 478.0 L657.2 477.4Z" fill="#dcdcdc" clip-path="url(#cpr13)"/>
<path d="M732.6 463.2 L834.3 452.8 L826.4 471.7 L723.5 482.4Z" fill="#656565" stroke="#656565" stroke-width="0.8"/>
<path d="M723.5 482.4 L732.6 463.2 L834.3 452.8 L826.4 471.7" fill="none" stroke="#000" stroke-width="1.8" stroke-linejoin="round"/>
<path d="M721.7 482.4 L730.8 463.7" fill="none" stroke="#fff" stroke-width="1.2"/>
<path d="M741.1 863.4 L806.5 832.3 L887.3 821.3 L925.8 828.2 L932.9 836.8Z" fill="#f4f4f4" stroke="#222" stroke-width="1.1" stroke-linejoin="round"/>
<path d="M776.8 857.7 L821.3 837.8 L887.8 828.6 L891.2 841.8Z" fill="#d6d6d6"/>
<path d="M770.9 913.7 L724.7 870.3 L726.1 868.9 L727.6 867.6 L729.2 866.5 L730.8 865.5 L732.5 864.6 L734.3 863.9 L736.1 863.3 L737.9 862.9 L739.7 862.6 L931.7 835.9 L933.6 835.8 L935.4 835.8 L937.3 836.0 L939.2 836.3 L941.0 836.8 L942.8 837.4 L944.6 838.2 L948.2 839.9 L949.9 840.8 L951.5 841.7 L953.0 842.8 L954.5 844.1 L955.9 845.4 L957.3 846.8 L958.6 848.4 L959.8 850.0 L960.9 851.7 L962.0 853.5 L962.9 855.4 L963.8 857.4 L964.5 859.3 L965.2 861.4 L965.7 863.5 L966.1 865.6 L966.4 867.7 L966.6 869.9 L966.7 872.0 L966.7 874.2 L966.6 876.3 L966.3 878.4 L965.9 880.5 L965.5 882.5 L964.9 884.5 L962.5 886.2Z" fill="url(#r14)" stroke="#000" stroke-width="1.8" stroke-linejoin="round"/>
<path d="M770.9 913.7 L724.7 870.3 L726.1 868.9 L727.6 867.6 L729.2 866.5 L730.8 865.5 L732.5 864.6 L734.3 863.9 L736.1 863.3 L737.9 862.9 L739.7 862.6 L741.6 862.4 L743.5 862.5 L745.4 862.7 L747.3 863.0 L749.1 863.5 L751.0 864.1 L752.8 864.9 L754.6 865.8 L756.3 866.9 L758.0 868.1 L759.6 869.4 L761.1 870.9 L762.6 872.5 L764.0 874.2 L765.3 875.9 L766.6 877.8 L767.7 879.8 L768.7 881.9 L769.6 884.0 L770.4 886.2 L771.1 888.4 L771.7 890.7 L772.2 893.0 L772.5 895.4 L772.8 897.7 L772.8 900.1 L772.8 902.4 L772.7 904.8 L772.4 907.1 L772.0 909.4 L771.5 911.6Z" fill="#f6f6f6" stroke="#111" stroke-width="1"/>
<path d="M768.3 917.4 L722.1 874.0 L723.5 872.6 L725.0 871.3 L726.6 870.2 L728.3 869.2 L730.0 868.3 L731.7 867.6 L733.5 867.0 L735.3 866.5 L737.2 866.3 L739.0 866.1 L740.9 866.2 L742.8 866.3 L744.7 866.7 L746.5 867.2 L748.4 867.8 L750.2 868.6 L752.0 869.5 L753.7 870.6 L755.4 871.8 L757.0 873.1 L758.6 874.6 L760.0 876.2 L761.4 877.8 L762.8 879.6 L764.0 881.5 L765.1 883.5 L766.1 885.6 L767.1 887.7 L767.9 889.9 L768.6 892.1 L769.1 894.4 L769.6 896.7 L770.0 899.1 L770.2 901.4 L770.3 903.8 L770.2 906.1 L770.1 908.5 L769.8 910.8 L769.4 913.0 L768.9 915.3Z" fill="#cfcfcf" clip-path="url(#cpr14)"/>
<path d="M765.7 921.1 L719.5 877.7 L721.0 876.3 L722.5 875.0 L724.0 873.9 L725.7 872.8 L727.4 872.0 L729.1 871.2 L730.9 870.7 L732.7 870.2 L734.6 869.9 L736.5 869.8 L738.3 869.8 L740.2 870.0 L742.1 870.4 L744.0 870.9 L745.8 871.5 L747.6 872.3 L749.4 873.2 L751.1 874.3 L752.8 875.5 L754.4 876.8 L756.0 878.3 L757.5 879.8 L758.9 881.5 L760.2 883.3 L761.4 885.2 L762.5 887.2 L763.6 889.2 L764.5 891.4 L765.3 893.6 L766.0 895.8 L766.6 898.1 L767.0 900.4 L767.4 902.8 L767.6 905.1 L767.7 907.5 L767.7 909.8 L767.5 912.2 L767.2 914.5 L766.8 916.7 L766.3 919.0Z" fill="#dcdcdc" clip-path="url(#cpr14)"/>
<path d="M809.8 879.8 L910.9 865.5 L930.7 883.6 L828.4 898.3Z" fill="#838383" stroke="#838383" stroke-width="0.8"/>
<path d="M828.4 898.3 L809.8 879.8 L910.9 865.5 L930.7 883.6" fill="none" stroke="#000" stroke-width="1.8" stroke-linejoin="round"/>
<path d="M826.6 898.3 L808.0 880.3" fill="none" stroke="#fff" stroke-width="1.2"/>
<path d="M771.0 358.4 L862.6 348.5 L943.4 341.0 L971.4 334.7 L963.1 340.6Z" fill="#f4f4f4" stroke="#222" stroke-width="1.1" stroke-linejoin="round"/>
<path d="M806.6 356.2 L865.7 351.8 L932.3 345.6 L921.2 345.5Z" fill="#d6d6d6"/>
<path d="M718.0 385.7 L763.0 346.0 L955.4 328.3 L957.8 328.9 L958.4 330.9 L958.9 333.0 L959.4 335.1 L959.7 337.3 L959.9 339.4 L960.0 341.6 L959.9 343.7 L959.8 345.9 L959.5 348.0 L959.2 350.1 L958.7 352.2 L958.1 354.2 L957.4 356.1 L956.6 358.0 L955.7 359.8 L954.7 361.5 L953.7 363.2 L952.5 364.7 L951.2 366.2 L949.9 367.5 L948.5 368.7 L945.4 371.2 L943.9 372.4 L942.2 373.4 L940.5 374.4 L938.8 375.1 L937.0 375.7 L935.2 376.2 L933.3 376.5 L740.8 395.0 L739.0 395.2 L737.1 395.2 L735.2 395.1 L733.3 394.8 L731.5 394.4 L729.6 393.8 L727.8 393.0 L726.0 392.1 L724.3 391.1 L722.6 389.9 L721.0 388.6 L719.4 387.2Z" fill="url(#r15)" stroke="#000" stroke-width="1.8" stroke-linejoin="round"/>
<path d="M718.0 385.7 L763.0 346.0 L763.7 348.2 L764.3 350.5 L764.7 352.9 L765.1 355.2 L765.3 357.6 L765.4 359.9 L765.4 362.3 L765.2 364.7 L765.0 367.0 L764.6 369.3 L764.1 371.5 L763.4 373.7 L762.7 375.9 L761.8 377.9 L760.8 379.9 L759.8 381.8 L758.6 383.6 L757.3 385.3 L756.0 386.8 L754.5 388.3 L753.0 389.6 L751.4 390.8 L749.8 391.9 L748.1 392.8 L746.3 393.6 L744.5 394.2 L742.7 394.7 L740.8 395.0 L739.0 395.2 L737.1 395.2 L735.2 395.1 L733.3 394.8 L731.5 394.4 L729.6 393.8 L727.8 393.0 L726.0 392.1 L724.3 391.1 L722.6 389.9 L721.0 388.6 L719.4 387.2Z" fill="#f6f6f6" stroke="#111" stroke-width="1"/>
<path d="M715.5 381.9 L760.5 342.3 L761.2 344.5 L761.8 346.8 L762.2 349.1 L762.6 351.5 L762.8 353.8 L762.9 356.2 L762.9 358.6 L762.7 360.9 L762.5 363.2 L762.1 365.5 L761.5 367.8 L760.9 370.0 L760.2 372.1 L759.3 374.2 L758.3 376.2 L757.3 378.1 L756.1 379.8 L754.8 381.5 L753.5 383.1 L752.0 384.6 L750.5 385.9 L748.9 387.1 L747.3 388.2 L745.6 389.1 L743.8 389.9 L742.0 390.5 L740.2 391.0 L738.3 391.3 L736.5 391.5 L734.6 391.5 L732.7 391.3 L730.8 391.1 L729.0 390.6 L727.1 390.0 L725.3 389.3 L723.5 388.4 L721.8 387.4 L720.1 386.2 L718.5 384.9 L716.9 383.5Z" fill="#cfcfcf" clip-path="url(#cpr15)"/>
<path d="M713.0 378.2 L758.0 338.5 L758.7 340.8 L759.3 343.1 L759.7 345.4 L760.1 347.7 L760.3 350.1 L760.4 352.5 L760.4 354.8 L760.2 357.2 L760.0 359.5 L759.6 361.8 L759.0 364.0 L758.4 366.2 L757.7 368.4 L756.8 370.4 L755.8 372.4 L754.8 374.3 L753.6 376.1 L752.3 377.8 L751.0 379.4 L749.5 380.8 L748.0 382.2 L746.4 383.4 L744.8 384.4 L743.1 385.3 L741.3 386.1 L739.5 386.8 L737.7 387.2 L735.8 387.6 L734.0 387.7 L732.1 387.7 L730.2 387.6 L728.3 387.3 L726.4 386.9 L724.6 386.3 L722.8 385.5 L721.0 384.6 L719.3 383.6 L717.6 382.5 L716.0 381.2 L714.4 379.7Z" fill="#dcdcdc" clip-path="url(#cpr15)"/>
<path d="M791.7 377.8 L893.3 368.2 L880.2 379.8 L777.5 389.7Z" fill="#404040" stroke="#404040" stroke-width="0.8"/>
<path d="M777.5 389.7 L791.7 377.8 L893.3 368.2 L880.2 379.8" fill="none" stroke="#000" stroke-width="1.8" stroke-linejoin="round"/>
<path d="M775.7 389.7 L789.9 378.3" fill="none" stroke="#fff" stroke-width="1.2"/>
<path d="M821.8 929.5 L881.5 902.4 L962.0 890.8 L1003.8 896.5 L1012.9 901.6Z" fill="#f4f4f4" stroke="#222" stroke-width="1.1" stroke-linejoin="round"/>
<path d="M857.1 923.3 L897.8 905.1 L964.1 895.5 L971.1 906.6Z" fill="#d6d6d6"/>
<path d="M863.0 963.2 L808.6 939.5 L809.6 937.6 L810.7 935.7 L811.8 934.0 L813.1 932.3 L814.5 930.8 L815.9 929.4 L817.4 928.1 L819.0 927.0 L820.7 926.0 L822.4 925.1 L824.1 924.4 L826.0 923.8 L827.8 923.4 L829.7 923.1 L1020.9 895.3 L1022.7 895.1 L1024.6 895.2 L1026.5 895.4 L1028.4 895.7 L1030.2 896.2 L1032.1 896.8 L1033.9 897.6 L1037.5 899.3 L1039.1 900.1 L1040.7 901.1 L1042.3 902.2 L1043.8 903.4 L1045.2 904.8 L1046.6 906.2 L1047.9 907.8 L1049.1 909.4 L1050.3 911.2 L1051.3 913.0 L1052.3 914.9 L1053.1 916.8 L1053.9 918.8 L1054.5 920.9 L1055.1 923.0 L1055.5 925.1 L1055.8 927.3 L1056.0 929.4 L1056.1 931.6 L1056.1 933.7 L1053.9 934.6Z" fill="url(#r16)" stroke="#000" stroke-width="1.8" stroke-linejoin="round"/>
<path d="M863.0 963.2 L808.6 939.5 L809.6 937.6 L810.7 935.7 L811.8 934.0 L813.1 932.3 L814.5 930.8 L815.9 929.4 L817.4 928.1 L819.0 927.0 L820.7 926.0 L822.4 925.1 L824.1 924.4 L826.0 923.8 L827.8 923.4 L829.7 923.1 L831.5 923.0 L833.4 923.0 L835.3 923.2 L837.2 923.5 L839.1 924.0 L841.0 924.7 L842.8 925.5 L844.6 926.4 L846.3 927.5 L848.0 928.7 L849.7 930.0 L851.2 931.5 L852.7 933.1 L854.1 934.8 L855.5 936.6 L856.7 938.5 L857.8 940.5 L858.9 942.5 L859.8 944.7 L860.6 946.9 L861.3 949.1 L861.9 951.4 L862.4 953.8 L862.7 956.1 L862.9 958.5 L863.0 960.9Z" fill="#f6f6f6" stroke="#111" stroke-width="1"/>
<path d="M862.2 967.6 L807.8 944.0 L808.8 942.0 L809.9 940.2 L811.0 938.4 L812.3 936.8 L813.7 935.2 L815.1 933.8 L816.6 932.6 L818.2 931.4 L819.9 930.4 L821.6 929.5 L823.4 928.8 L825.2 928.2 L827.0 927.8 L828.9 927.5 L830.8 927.4 L832.7 927.4 L834.6 927.6 L836.4 928.0 L838.3 928.4 L840.2 929.1 L842.0 929.9 L843.8 930.8 L845.6 931.9 L847.2 933.1 L848.9 934.5 L850.4 935.9 L851.9 937.5 L853.4 939.2 L854.7 941.0 L855.9 942.9 L857.1 944.9 L858.1 947.0 L859.0 949.1 L859.8 951.3 L860.5 953.6 L861.1 955.9 L861.6 958.2 L861.9 960.5 L862.2 962.9 L862.3 965.3Z" fill="#cfcfcf" clip-path="url(#cpr16)"/>
<path d="M861.4 972.1 L807.0 948.4 L808.0 946.5 L809.1 944.6 L810.2 942.9 L811.5 941.2 L812.9 939.7 L814.3 938.3 L815.8 937.0 L817.4 935.8 L819.1 934.8 L820.8 933.9 L822.6 933.2 L824.4 932.6 L826.2 932.2 L828.1 931.9 L830.0 931.8 L831.9 931.9 L833.8 932.0 L835.7 932.4 L837.5 932.9 L839.4 933.5 L841.2 934.3 L843.0 935.3 L844.8 936.3 L846.5 937.5 L848.1 938.9 L849.7 940.4 L851.2 941.9 L852.6 943.6 L853.9 945.4 L855.1 947.3 L856.3 949.3 L857.3 951.4 L858.2 953.5 L859.0 955.7 L859.7 958.0 L860.3 960.3 L860.8 962.6 L861.1 965.0 L861.4 967.3 L861.5 969.7Z" fill="#dcdcdc" clip-path="url(#cpr16)"/>
<path d="M894.8 933.3 L995.6 918.5 L1019.6 929.1 L917.7 944.2Z" fill="#575757" stroke="#575757" stroke-width="0.8"/>
<path d="M917.7 944.2 L894.8 933.3 L995.6 918.5 L1019.6 929.1" fill="none" stroke="#000" stroke-width="1.8" stroke-linejoin="round"/>
<path d="M915.9 944.2 L893.0 933.8" fill="none" stroke="#fff" stroke-width="1.2"/>
<path d="M1175.0 923.7 L1185.4 922.2 L1171.5 924.3 L1161.1 925.9Z" fill="#323232" stroke="#323232" stroke-width="0.6"/><path d="M1161.1 925.9 L1171.5 924.3 L1157.5 925.6 L1147.1 927.1Z" fill="#363636" stroke="#363636" stroke-width="0.6"/><path d="M1147.1 927.1 L1157.5 925.6 L1143.4 925.9 L1133.0 927.4Z" fill="#333333" stroke="#333333" stroke-width="0.6"/><path d="M1133.0 927.4 L1143.4 925.9 L1129.3 925.2 L1118.9 926.8Z" fill="#323232" stroke="#323232" stroke-width="0.6"/><path d="M1118.9 926.8 L1129.3 925.2 L1115.3 923.6 L1104.9 925.2Z" fill="#515151" stroke="#515151" stroke-width="0.6"/><path d="M1104.9 925.2 L1115.3 923.6 L1101.3 921.1 L1090.8 922.6Z" fill="#525252" stroke="#525252" stroke-width="0.6"/><path d="M1090.8 922.6 L1101.3 921.1 L1087.4 917.6 L1077.0 919.2Z" fill="#454545" stroke="#454545" stroke-width="0.6"/><path d="M1077.0 919.2 L1087.4 917.6 L1073.6 913.3 L1063.2 914.8Z" fill="#535353" stroke="#535353" stroke-width="0.6"/><path d="M1063.2 914.8 L1073.6 913.3 L1060.1 908.0 L1049.6 909.5Z" fill="#6e6e6e" stroke="#6e6e6e" stroke-width="0.6"/><path d="M1049.6 909.5 L1060.1 908.0 L1046.7 901.9 L1036.3 903.4Z" fill="#686868" stroke="#686868" stroke-width="0.6"/><path d="M1036.3 903.4 L1046.7 901.9 L1033.7 894.8 L1023.2 896.4Z" fill="#6e6e6e" stroke="#6e6e6e" stroke-width="0.6"/><path d="M1023.2 896.4 L1033.7 894.8 L1020.9 887.0 L1010.4 888.5Z" fill="#666666" stroke="#666666" stroke-width="0.6"/><path d="M1010.4 888.5 L1020.9 887.0 L1008.5 878.4 L998.0 879.9Z" fill="#7a7a7a" stroke="#7a7a7a" stroke-width="0.6"/><path d="M998.0 879.9 L1008.5 878.4 L996.4 868.9 L985.9 870.4Z" fill="#8d8d8d" stroke="#8d8d8d" stroke-width="0.6"/><path d="M985.9 870.4 L996.4 868.9 L984.8 858.7 L974.3 860.2Z" fill="#818181" stroke="#818181" stroke-width="0.6"/><path d="M974.3 860.2 L984.8 858.7 L973.5 847.8 L963.1 849.3Z" fill="#888888" stroke="#888888" stroke-width="0.6"/><path d="M963.1 849.3 L973.5 847.8 L962.8 836.2 L952.3 837.6Z" fill="#979797" stroke="#979797" stroke-width="0.6"/><path d="M952.3 837.6 L962.8 836.2 L952.6 823.9 L942.1 825.3Z" fill="#9c9c9c" stroke="#9c9c9c" stroke-width="0.6"/><path d="M942.1 825.3 L952.6 823.9 L942.9 811.0 L932.4 812.4Z" fill="#acacac" stroke="#acacac" stroke-width="0.6"/><path d="M932.4 812.4 L942.9 811.0 L933.8 797.5 L923.2 798.9Z" fill="#ababab" stroke="#ababab" stroke-width="0.6"/><path d="M923.2 798.9 L933.8 797.5 L925.2 783.5 L914.7 784.9Z" fill="#9d9d9d" stroke="#9d9d9d" stroke-width="0.6"/><path d="M914.7 784.9 L925.2 783.5 L917.3 768.9 L906.8 770.3Z" fill="#aeaeae" stroke="#aeaeae" stroke-width="0.6"/><path d="M906.8 770.3 L917.3 768.9 L910.0 753.9 L899.4 755.3Z" fill="#b2b2b2" stroke="#b2b2b2" stroke-width="0.6"/><path d="M899.4 755.3 L910.0 753.9 L903.3 738.5 L892.8 739.9Z" fill="#c8c8c8" stroke="#c8c8c8" stroke-width="0.6"/><path d="M892.8 739.9 L903.3 738.5 L897.3 722.7 L886.8 724.1Z" fill="#c2c2c2" stroke="#c2c2c2" stroke-width="0.6"/><path d="M886.8 724.1 L897.3 722.7 L892.0 706.6 L881.5 707.9Z" fill="#c8c8c8" stroke="#c8c8c8" stroke-width="0.6"/><path d="M881.5 707.9 L892.0 706.6 L887.4 690.2 L876.9 691.5Z" fill="#cbcbcb" stroke="#cbcbcb" stroke-width="0.6"/><path d="M876.9 691.5 L887.4 690.2 L883.6 673.6 L873.0 674.9Z" fill="#cccccc" stroke="#cccccc" stroke-width="0.6"/><path d="M873.0 674.9 L883.6 673.6 L880.4 656.7 L869.9 658.0Z" fill="#bebebe" stroke="#bebebe" stroke-width="0.6"/><path d="M869.9 658.0 L880.4 656.7 L878.0 639.8 L867.5 641.0Z" fill="#bbbbbb" stroke="#bbbbbb" stroke-width="0.6"/><path d="M867.5 641.0 L878.0 639.8 L876.3 622.7 L865.8 624.0Z" fill="#b9b9b9" stroke="#b9b9b9" stroke-width="0.6"/><path d="M865.8 624.0 L876.3 622.7 L875.4 605.6 L864.9 606.9Z" fill="#bdbdbd" stroke="#bdbdbd" stroke-width="0.6"/><path d="M864.9 606.9 L875.4 605.6 L875.2 588.6 L864.7 589.8Z" fill="#9c9c9c" stroke="#9c9c9c" stroke-width="0.6"/><path d="M864.7 589.8 L875.2 588.6 L875.8 571.5 L865.3 572.7Z" fill="#a2a2a2" stroke="#a2a2a2" stroke-width="0.6"/><path d="M865.3 572.7 L875.8 571.5 L877.2 554.6 L866.6 555.8Z" fill="#808080" stroke="#808080" stroke-width="0.6"/><path d="M866.6 555.8 L877.2 554.6 L879.2 537.9 L868.7 539.0Z" fill="#959595" stroke="#959595" stroke-width="0.6"/><path d="M868.7 539.0 L879.2 537.9 L882.1 521.3 L871.5 522.5Z" fill="#909090" stroke="#909090" stroke-width="0.6"/><path d="M871.5 522.5 L882.1 521.3 L885.6 505.0 L875.1 506.2Z" fill="#7f7f7f" stroke="#7f7f7f" stroke-width="0.6"/><path d="M875.1 506.2 L885.6 505.0 L889.9 489.0 L879.3 490.1Z" fill="#7a7a7a" stroke="#7a7a7a" stroke-width="0.6"/><path d="M879.3 490.1 L889.9 489.0 L894.9 473.4 L884.3 474.5Z" fill="#767676" stroke="#767676" stroke-width="0.6"/><path d="M884.3 474.5 L894.9 473.4 L900.6 458.1 L890.0 459.2Z" fill="#656565" stroke="#656565" stroke-width="0.6"/><path d="M890.0 459.2 L900.6 458.1 L906.9 443.3 L896.4 444.4Z" fill="#5b5b5b" stroke="#5b5b5b" stroke-width="0.6"/><path d="M896.4 444.4 L906.9 443.3 L914.0 428.9 L903.4 430.0Z" fill="#464646" stroke="#464646" stroke-width="0.6"/><path d="M903.4 430.0 L914.0 428.9 L921.6 415.1 L911.1 416.1Z" fill="#4f4f4f" stroke="#4f4f4f" stroke-width="0.6"/><path d="M911.1 416.1 L921.6 415.1 L929.9 401.8 L919.4 402.9Z" fill="#424242" stroke="#424242" stroke-width="0.6"/><path d="M919.4 402.9 L929.9 401.8 L938.9 389.2 L928.3 390.2Z" fill="#3d3d3d" stroke="#3d3d3d" stroke-width="0.6"/><path d="M928.3 390.2 L938.9 389.2 L948.3 377.2 L937.8 378.2Z" fill="#424242" stroke="#424242" stroke-width="0.6"/><path d="M937.8 378.2 L948.3 377.2 L958.4 365.8 L947.8 366.8Z" fill="#323232" stroke="#323232" stroke-width="0.6"/><path d="M947.8 366.8 L958.4 365.8 L968.9 355.2 L958.4 356.2Z" fill="#3d3d3d" stroke="#3d3d3d" stroke-width="0.6"/><path d="M958.4 356.2 L968.9 355.2 L980.0 345.3 L969.5 346.3Z" fill="#323232" stroke="#323232" stroke-width="0.6"/><path d="M969.5 346.3 L980.0 345.3 L991.5 336.2 L981.0 337.1Z" fill="#303030" stroke="#303030" stroke-width="0.6"/><path d="M981.0 337.1 L991.5 336.2 L1003.4 327.8 L992.9 328.8Z" fill="#353535" stroke="#353535" stroke-width="0.6"/><path d="M992.9 328.8 L1003.4 327.8 L1015.7 320.3 L1005.2 321.3Z" fill="#313131" stroke="#313131" stroke-width="0.6"/><path d="M1005.2 321.3 L1015.7 320.3 L1028.4 313.7 L1017.9 314.7Z" fill="#343434" stroke="#343434" stroke-width="0.6"/><path d="M1017.9 314.7 L1028.4 313.7 L1041.4 307.9 L1030.9 308.9Z" fill="#2b2b2b" stroke="#2b2b2b" stroke-width="0.6"/><path d="M1030.9 308.9 L1041.4 307.9 L1054.7 303.1 L1044.2 304.0Z" fill="#292929" stroke="#292929" stroke-width="0.6"/><path d="M1044.2 304.0 L1054.7 303.1 L1068.2 299.1 L1057.7 300.0Z" fill="#343434" stroke="#343434" stroke-width="0.6"/><path d="M1057.7 300.0 L1068.2 299.1 L1081.9 296.1 L1071.5 297.0Z" fill="#1f1f1f" stroke="#1f1f1f" stroke-width="0.6"/><path d="M1071.5 297.0 L1081.9 296.1 L1095.8 293.9 L1085.4 294.9Z" fill="#2c2c2c" stroke="#2c2c2c" stroke-width="0.6"/><path d="M1085.4 294.9 L1095.8 293.9 L1109.8 292.8 L1099.4 293.7Z" fill="#313131" stroke="#313131" stroke-width="0.6"/>
<path d="M1148.3 927.1 L1141.6 927.4 L1134.8 927.4 L1128.1 927.3 L1121.4 926.9 L1114.7 926.4 L1108.0 925.6 L1101.3 924.6 L1094.6 923.4 L1087.9 922.0 L1081.3 920.3 L1074.7 918.5 L1068.1 916.5 L1061.5 914.2 L1055.1 911.8 L1048.6 909.1 L1042.2 906.2 L1035.9 903.2 L1029.6 899.9 L1023.4 896.5 L1017.3 892.8 L1011.2 889.0 L1005.2 885.0 L999.3 880.8 L993.5 876.4 L987.7 871.9 L982.1 867.1 L976.5 862.3 L971.1 857.2 L965.7 852.0 L960.5 846.6 L955.4 841.0 L950.3 835.3 L945.4 829.5 L940.6 823.5 L936.0 817.3 L931.4 811.1 L927.0 804.7 L922.8 798.1 L918.6 791.5 L914.6 784.7 L910.7 777.8 L907.0 770.8 L903.4 763.7 L900.0 756.5 L896.7 749.2 L893.6 741.8 L890.6 734.3 L887.8 726.8 L885.1 719.1 L882.6 711.4 L880.2 703.7 L878.0 695.8 L876.0 687.9 L874.1 680.0 L872.4 672.0 L870.9 664.0 L869.5 655.9 L868.3 647.8 L867.3 639.7 L866.4 631.5 L865.8 623.4 L865.2 615.2 L864.9 607.0 L864.7 598.9 L864.7 590.7 L864.9 582.6 L865.2 574.5 L865.7 566.4 L866.4 558.3 L867.2 550.2 L868.2 542.2 L869.4 534.3 L870.8 526.4 L872.3 518.5 L874.0 510.7 L875.8 503.0 L877.9 495.3 L880.0 487.8 L882.4 480.3 L884.9 472.8 L887.6 465.5 L890.4 458.3 L893.4 451.2 L896.5 444.1 L899.8 437.2 L903.2 430.4 L906.8 423.7 L910.5 417.2 L914.4 410.7 L918.4 404.4 L922.5 398.3 L926.8 392.3 L931.2 386.4 L935.8 380.6 L940.4 375.1 L945.2 369.7 L950.1 364.4 L955.2 359.3 L960.3 354.4 L965.6 349.6 L970.9 345.0 L976.4 340.6 L982.0 336.4 L987.6 332.3 L993.4 328.5 L999.2 324.8 L1005.2 321.3 L1011.2 318.1 L1017.3 315.0 L1023.4 312.1 L1029.7 309.4 L1035.9 306.9 L1042.3 304.6 L1048.7 302.6 L1055.2 300.7 L1061.7 299.1 L1068.3 297.6 L1074.9 296.4 L1081.5 295.4" fill="none" stroke="#000" stroke-width="2.8"/>
<path d="M1152.9 926.4 L1146.2 926.7 L1139.5 926.7 L1132.7 926.6 L1126.0 926.2 L1119.3 925.7 L1112.6 924.9 L1105.9 923.9 L1099.2 922.7 L1092.5 921.3 L1085.9 919.7 L1079.3 917.8 L1072.7 915.8 L1066.2 913.5 L1059.7 911.1 L1053.3 908.4 L1046.9 905.6 L1040.5 902.5 L1034.3 899.2 L1028.1 895.8 L1021.9 892.2 L1015.8 888.3 L1009.9 884.3 L1003.9 880.1 L998.1 875.8 L992.4 871.2 L986.7 866.5 L981.2 861.6 L975.7 856.5 L970.4 851.3 L965.1 845.9 L960.0 840.4 L955.0 834.7 L950.1 828.8 L945.3 822.8 L940.6 816.7 L936.1 810.4 L931.7 804.0 L927.4 797.5 L923.3 790.9 L919.3 784.1 L915.4 777.2 L911.7 770.2 L908.1 763.1 L904.7 755.9 L901.4 748.6 L898.3 741.2 L895.3 733.7 L892.4 726.2 L889.8 718.5 L887.3 710.8 L884.9 703.1 L882.7 695.2 L880.7 687.3 L878.8 679.4 L877.1 671.4 L875.6 663.4 L874.2 655.3 L873.0 647.2 L872.0 639.1 L871.1 631.0 L870.4 622.8 L869.9 614.7 L869.6 606.5 L869.4 598.3 L869.4 590.2 L869.5 582.0 L869.9 573.9 L870.4 565.8 L871.1 557.7 L871.9 549.7 L872.9 541.7 L874.1 533.8 L875.5 525.9 L877.0 518.0 L878.7 510.2 L880.5 502.5 L882.6 494.8 L884.7 487.3 L887.1 479.8 L889.6 472.4 L892.2 465.0 L895.1 457.8 L898.0 450.7 L901.2 443.7 L904.5 436.7 L907.9 429.9 L911.5 423.3 L915.2 416.7 L919.1 410.3 L923.1 404.0 L927.2 397.8 L931.5 391.8 L935.9 385.9 L940.4 380.2 L945.1 374.6 L949.9 369.2 L954.8 363.9 L959.8 358.9 L965.0 353.9 L970.2 349.2 L975.6 344.6 L981.1 340.2 L986.6 336.0 L992.3 331.9 L998.0 328.1 L1003.9 324.4 L1009.8 320.9 L1015.8 317.6 L1021.9 314.6 L1028.1 311.7 L1034.3 309.0 L1040.6 306.5 L1047.0 304.2 L1053.4 302.2 L1059.8 300.3 L1066.4 298.6 L1072.9 297.2 L1079.5 296.0 L1086.1 295.0" fill="none" stroke="#444" stroke-width="1.0"/>
<path d="M1158.7 925.5 L1152.0 925.8 L1145.2 925.9 L1138.5 925.7 L1131.8 925.4 L1125.1 924.8 L1118.4 924.0 L1111.7 923.0 L1105.0 921.8 L1098.3 920.4 L1091.7 918.8 L1085.1 917.0 L1078.5 914.9 L1072.0 912.7 L1065.5 910.2 L1059.1 907.6 L1052.7 904.7 L1046.3 901.7 L1040.1 898.4 L1033.9 895.0 L1027.7 891.3 L1021.7 887.5 L1015.7 883.5 L1009.8 879.3 L1003.9 874.9 L998.2 870.4 L992.5 865.7 L987.0 860.8 L981.6 855.7 L976.2 850.5 L971.0 845.1 L965.8 839.6 L960.8 833.9 L955.9 828.0 L951.1 822.0 L946.5 815.9 L941.9 809.6 L937.5 803.3 L933.3 796.7 L929.1 790.1 L925.1 783.3 L921.3 776.4 L917.5 769.4 L913.9 762.3 L910.5 755.1 L907.2 747.8 L904.1 740.5 L901.1 733.0 L898.3 725.4 L895.6 717.8 L893.1 710.1 L890.8 702.3 L888.6 694.5 L886.5 686.6 L884.7 678.7 L883.0 670.7 L881.4 662.7 L880.1 654.6 L878.9 646.5 L877.8 638.4 L877.0 630.3 L876.3 622.1 L875.8 614.0 L875.4 605.8 L875.2 597.7 L875.2 589.5 L875.4 581.4 L875.7 573.3 L876.2 565.2 L876.9 557.1 L877.8 549.1 L878.8 541.1 L880.0 533.1 L881.3 525.2 L882.8 517.4 L884.5 509.6 L886.4 501.9 L888.4 494.2 L890.6 486.6 L892.9 479.1 L895.4 471.7 L898.1 464.4 L900.9 457.2 L903.9 450.1 L907.0 443.1 L910.3 436.1 L913.7 429.4 L917.3 422.7 L921.0 416.1 L924.9 409.7 L928.9 403.4 L933.1 397.2 L937.3 391.2 L941.7 385.4 L946.3 379.6 L951.0 374.1 L955.7 368.6 L960.7 363.4 L965.7 358.3 L970.8 353.4 L976.1 348.6 L981.4 344.0 L986.9 339.6 L992.5 335.4 L998.1 331.4 L1003.9 327.5 L1009.7 323.9 L1015.6 320.4 L1021.7 317.1 L1027.7 314.0 L1033.9 311.1 L1040.1 308.5 L1046.4 306.0 L1052.8 303.7 L1059.2 301.6 L1065.7 299.8 L1072.2 298.1 L1078.7 296.7 L1085.3 295.4 L1092.0 294.4" fill="none" stroke="#000" stroke-width="2.2"/>
<path d="M1185.4 922.2 L1293.3 905.9 L1285.8 907.2 L1177.8 923.5Z" fill="#3b3b3b" stroke="#3b3b3b" stroke-width="0.6"/><path d="M1177.8 923.5 L1285.8 907.2 L1278.2 908.2 L1170.2 924.5Z" fill="#3e3e3e" stroke="#3e3e3e" stroke-width="0.6"/><path d="M1170.2 924.5 L1278.2 908.2 L1270.6 909.0 L1162.6 925.2Z" fill="#333333" stroke="#333333" stroke-width="0.6"/><path d="M1162.6 925.2 L1270.6 909.0 L1263.0 909.5 L1154.9 925.7Z" fill="#505050" stroke="#505050" stroke-width="0.6"/><path d="M1154.9 925.7 L1263.0 909.5 L1255.4 909.6 L1147.2 925.9Z" fill="#393939" stroke="#393939" stroke-width="0.6"/><path d="M1147.2 925.9 L1255.4 909.6 L1247.7 909.5 L1139.6 925.8Z" fill="#3c3c3c" stroke="#3c3c3c" stroke-width="0.6"/><path d="M1139.6 925.8 L1247.7 909.5 L1240.1 909.2 L1131.9 925.4Z" fill="#535353" stroke="#535353" stroke-width="0.6"/><path d="M1131.9 925.4 L1240.1 909.2 L1232.5 908.5 L1124.2 924.7Z" fill="#5d5d5d" stroke="#5d5d5d" stroke-width="0.6"/><path d="M1124.2 924.7 L1232.5 908.5 L1224.8 907.6 L1116.5 923.8Z" fill="#545454" stroke="#545454" stroke-width="0.6"/><path d="M1116.5 923.8 L1224.8 907.6 L1217.2 906.4 L1108.9 922.6Z" fill="#4b4b4b" stroke="#4b4b4b" stroke-width="0.6"/><path d="M1108.9 922.6 L1217.2 906.4 L1209.6 904.9 L1101.3 921.1Z" fill="#5e5e5e" stroke="#5e5e5e" stroke-width="0.6"/><path d="M1101.3 921.1 L1209.6 904.9 L1202.1 903.2 L1093.7 919.3Z" fill="#555555" stroke="#555555" stroke-width="0.6"/><path d="M1093.7 919.3 L1202.1 903.2 L1194.6 901.2 L1086.1 917.3Z" fill="#5a5a5a" stroke="#5a5a5a" stroke-width="0.6"/><path d="M1086.1 917.3 L1194.6 901.2 L1187.1 898.9 L1078.6 914.9Z" fill="#6c6c6c" stroke="#6c6c6c" stroke-width="0.6"/><path d="M1078.6 914.9 L1187.1 898.9 L1179.7 896.3 L1071.2 912.4Z" fill="#7d7d7d" stroke="#7d7d7d" stroke-width="0.6"/><path d="M1071.2 912.4 L1179.7 896.3 L1172.3 893.5 L1063.7 909.5Z" fill="#767676" stroke="#767676" stroke-width="0.6"/><path d="M1063.7 909.5 L1172.3 893.5 L1165.0 890.4 L1056.4 906.4Z" fill="#868686" stroke="#868686" stroke-width="0.6"/><path d="M1056.4 906.4 L1165.0 890.4 L1157.8 887.1 L1049.1 903.0Z" fill="#848484" stroke="#848484" stroke-width="0.6"/><path d="M1049.1 903.0 L1157.8 887.1 L1150.6 883.5 L1041.9 899.4Z" fill="#8e8e8e" stroke="#8e8e8e" stroke-width="0.6"/><path d="M1041.9 899.4 L1150.6 883.5 L1143.5 879.7 L1034.8 895.5Z" fill="#868686" stroke="#868686" stroke-width="0.6"/><path d="M1034.8 895.5 L1143.5 879.7 L1136.6 875.6 L1027.8 891.4Z" fill="#8a8a8a" stroke="#8a8a8a" stroke-width="0.6"/><path d="M1027.8 891.4 L1136.6 875.6 L1129.7 871.3 L1020.9 887.0Z" fill="#9a9a9a" stroke="#9a9a9a" stroke-width="0.6"/><path d="M1020.9 887.0 L1129.7 871.3 L1122.9 866.7 L1014.1 882.4Z" fill="#848484" stroke="#848484" stroke-width="0.6"/><path d="M1014.1 882.4 L1122.9 866.7 L1116.2 861.9 L1007.3 877.5Z" fill="#8e8e8e" stroke="#8e8e8e" stroke-width="0.6"/><path d="M1007.3 877.5 L1116.2 861.9 L1109.6 856.9 L1000.7 872.4Z" fill="#a1a1a1" stroke="#a1a1a1" stroke-width="0.6"/><path d="M1000.7 872.4 L1109.6 856.9 L1103.2 851.6 L994.3 867.1Z" fill="#a0a0a0" stroke="#a0a0a0" stroke-width="0.6"/><path d="M994.3 867.1 L1103.2 851.6 L1096.8 846.1 L987.9 861.6Z" fill="#ababab" stroke="#ababab" stroke-width="0.6"/><path d="M987.9 861.6 L1096.8 846.1 L1090.6 840.4 L981.7 855.8Z" fill="#9c9c9c" stroke="#9c9c9c" stroke-width="0.6"/><path d="M981.7 855.8 L1090.6 840.4 L1084.6 834.5 L975.6 849.8Z" fill="#a1a1a1" stroke="#a1a1a1" stroke-width="0.6"/><path d="M975.6 849.8 L1084.6 834.5 L1078.6 828.4 L969.6 843.6Z" fill="#b4b4b4" stroke="#b4b4b4" stroke-width="0.6"/><path d="M969.6 843.6 L1078.6 828.4 L1072.8 822.1 L963.8 837.2Z" fill="#bebebe" stroke="#bebebe" stroke-width="0.6"/><path d="M963.8 837.2 L1072.8 822.1 L1067.2 815.5 L958.1 830.7Z" fill="#bbbbbb" stroke="#bbbbbb" stroke-width="0.6"/><path d="M958.1 830.7 L1067.2 815.5 L1061.7 808.8 L952.6 823.9Z" fill="#bebebe" stroke="#bebebe" stroke-width="0.6"/><path d="M952.6 823.9 L1061.7 808.8 L1056.4 801.9 L947.2 816.9Z" fill="#b9b9b9" stroke="#b9b9b9" stroke-width="0.6"/><path d="M947.2 816.9 L1056.4 801.9 L1051.2 794.9 L942.0 809.8Z" fill="#c4c4c4" stroke="#c4c4c4" stroke-width="0.6"/><path d="M942.0 809.8 L1051.2 794.9 L1046.2 787.6 L937.0 802.5Z" fill="#c7c7c7" stroke="#c7c7c7" stroke-width="0.6"/><path d="M937.0 802.5 L1046.2 787.6 L1041.4 780.2 L932.2 795.0Z" fill="#c9c9c9" stroke="#c9c9c9" stroke-width="0.6"/><path d="M932.2 795.0 L1041.4 780.2 L1036.7 772.7 L927.5 787.3Z" fill="#d5d5d5" stroke="#d5d5d5" stroke-width="0.6"/><path d="M927.5 787.3 L1036.7 772.7 L1032.3 765.0 L923.0 779.5Z" fill="#d6d6d6" stroke="#d6d6d6" stroke-width="0.6"/><path d="M923.0 779.5 L1032.3 765.0 L1028.0 757.1 L918.7 771.6Z" fill="#e3e3e3" stroke="#e3e3e3" stroke-width="0.6"/><path d="M918.7 771.6 L1028.0 757.1 L1023.9 749.1 L914.5 763.5Z" fill="#e3e3e3" stroke="#e3e3e3" stroke-width="0.6"/><path d="M914.5 763.5 L1023.9 749.1 L1019.9 741.0 L910.6 755.3Z" fill="#eaeaea" stroke="#eaeaea" stroke-width="0.6"/><path d="M910.6 755.3 L1019.9 741.0 L1016.2 732.7 L906.8 747.0Z" fill="#e3e3e3" stroke="#e3e3e3" stroke-width="0.6"/><path d="M906.8 747.0 L1016.2 732.7 L1012.7 724.3 L903.3 738.5Z" fill="#f1f1f1" stroke="#f1f1f1" stroke-width="0.6"/><path d="M903.3 738.5 L1012.7 724.3 L1009.4 715.9 L900.0 729.9Z" fill="#dddddd" stroke="#dddddd" stroke-width="0.6"/><path d="M900.0 729.9 L1009.4 715.9 L1006.2 707.3 L896.8 721.3Z" fill="#ebebeb" stroke="#ebebeb" stroke-width="0.6"/><path d="M896.8 721.3 L1006.2 707.3 L1003.3 698.6 L893.9 712.5Z" fill="#e3e3e3" stroke="#e3e3e3" stroke-width="0.6"/><path d="M893.9 712.5 L1003.3 698.6 L1000.6 689.8 L891.1 703.6Z" fill="#efefef" stroke="#efefef" stroke-width="0.6"/><path d="M891.1 703.6 L1000.6 689.8 L998.1 681.0 L888.6 694.7Z" fill="#f6f6f6" stroke="#f6f6f6" stroke-width="0.6"/><path d="M888.6 694.7 L998.1 681.0 L995.8 672.1 L886.3 685.7Z" fill="#fcfcfc" stroke="#fcfcfc" stroke-width="0.6"/><path d="M886.3 685.7 L995.8 672.1 L993.7 663.1 L884.2 676.6Z" fill="#f1f1f1" stroke="#f1f1f1" stroke-width="0.6"/><path d="M884.2 676.6 L993.7 663.1 L991.9 654.0 L882.3 667.5Z" fill="#e3e3e3" stroke="#e3e3e3" stroke-width="0.6"/><path d="M882.3 667.5 L991.9 654.0 L990.2 644.9 L880.7 658.3Z" fill="#e3e3e3" stroke="#e3e3e3" stroke-width="0.6"/><path d="M880.7 658.3 L990.2 644.9 L988.8 635.8 L879.2 649.0Z" fill="#d1d1d1" stroke="#d1d1d1" stroke-width="0.6"/><path d="M879.2 649.0 L988.8 635.8 L987.6 626.6 L878.0 639.8Z" fill="#e2e2e2" stroke="#e2e2e2" stroke-width="0.6"/><path d="M878.0 639.8 L987.6 626.6 L986.6 617.4 L877.0 630.5Z" fill="#dfdfdf" stroke="#dfdfdf" stroke-width="0.6"/><path d="M877.0 630.5 L986.6 617.4 L985.8 608.2 L876.2 621.2Z" fill="#d3d3d3" stroke="#d3d3d3" stroke-width="0.6"/><path d="M876.2 621.2 L985.8 608.2 L985.3 599.0 L875.7 611.9Z" fill="#d9d9d9" stroke="#d9d9d9" stroke-width="0.6"/><path d="M875.7 611.9 L985.3 599.0 L984.9 589.8 L875.3 602.5Z" fill="#c2c2c2" stroke="#c2c2c2" stroke-width="0.6"/><path d="M875.3 602.5 L984.9 589.8 L984.8 580.5 L875.2 593.2Z" fill="#b9b9b9" stroke="#b9b9b9" stroke-width="0.6"/><path d="M875.2 593.2 L984.8 580.5 L985.0 571.3 L875.3 583.9Z" fill="#cacaca" stroke="#cacaca" stroke-width="0.6"/><path d="M875.3 583.9 L985.0 571.3 L985.3 562.2 L875.7 574.6Z" fill="#b5b5b5" stroke="#b5b5b5" stroke-width="0.6"/><path d="M875.7 574.6 L985.3 562.2 L985.9 553.0 L876.2 565.4Z" fill="#aeaeae" stroke="#aeaeae" stroke-width="0.6"/><path d="M876.2 565.4 L985.9 553.0 L986.6 543.9 L877.0 556.2Z" fill="#b1b1b1" stroke="#b1b1b1" stroke-width="0.6"/><path d="M877.0 556.2 L986.6 543.9 L987.7 534.8 L878.0 547.0Z" fill="#9a9a9a" stroke="#9a9a9a" stroke-width="0.6"/><path d="M878.0 547.0 L987.7 534.8 L988.9 525.8 L879.2 537.9Z" fill="#a5a5a5" stroke="#a5a5a5" stroke-width="0.6"/><path d="M879.2 537.9 L988.9 525.8 L990.3 516.8 L880.7 528.8Z" fill="#999999" stroke="#999999" stroke-width="0.6"/><path d="M880.7 528.8 L990.3 516.8 L992.0 507.9 L882.3 519.8Z" fill="#9e9e9e" stroke="#9e9e9e" stroke-width="0.6"/><path d="M882.3 519.8 L992.0 507.9 L993.9 499.1 L884.2 510.9Z" fill="#a7a7a7" stroke="#a7a7a7" stroke-width="0.6"/><path d="M884.2 510.9 L993.9 499.1 L996.0 490.3 L886.3 502.1Z" fill="#8f8f8f" stroke="#8f8f8f" stroke-width="0.6"/><path d="M886.3 502.1 L996.0 490.3 L998.3 481.7 L888.6 493.4Z" fill="#949494" stroke="#949494" stroke-width="0.6"/><path d="M888.6 493.4 L998.3 481.7 L1000.8 473.1 L891.2 484.7Z" fill="#808080" stroke="#808080" stroke-width="0.6"/><path d="M891.2 484.7 L1000.8 473.1 L1003.5 464.7 L893.9 476.2Z" fill="#797979" stroke="#797979" stroke-width="0.6"/><path d="M893.9 476.2 L1003.5 464.7 L1006.5 456.3 L896.9 467.8Z" fill="#8c8c8c" stroke="#8c8c8c" stroke-width="0.6"/><path d="M896.9 467.8 L1006.5 456.3 L1009.6 448.1 L900.0 459.5Z" fill="#717171" stroke="#717171" stroke-width="0.6"/><path d="M900.0 459.5 L1009.6 448.1 L1013.0 440.0 L903.4 451.3Z" fill="#6a6a6a" stroke="#6a6a6a" stroke-width="0.6"/><path d="M903.4 451.3 L1013.0 440.0 L1016.5 432.1 L906.9 443.3Z" fill="#5d5d5d" stroke="#5d5d5d" stroke-width="0.6"/><path d="M906.9 443.3 L1016.5 432.1 L1020.2 424.3 L910.7 435.4Z" fill="#5f5f5f" stroke="#5f5f5f" stroke-width="0.6"/><path d="M910.7 435.4 L1020.2 424.3 L1024.2 416.6 L914.6 427.6Z" fill="#6a6a6a" stroke="#6a6a6a" stroke-width="0.6"/><path d="M914.6 427.6 L1024.2 416.6 L1028.3 409.1 L918.8 420.1Z" fill="#585858" stroke="#585858" stroke-width="0.6"/><path d="M918.8 420.1 L1028.3 409.1 L1032.6 401.8 L923.1 412.6Z" fill="#5d5d5d" stroke="#5d5d5d" stroke-width="0.6"/><path d="M923.1 412.6 L1032.6 401.8 L1037.1 394.6 L927.6 405.4Z" fill="#5a5a5a" stroke="#5a5a5a" stroke-width="0.6"/><path d="M927.6 405.4 L1037.1 394.6 L1041.8 387.6 L932.3 398.3Z" fill="#4f4f4f" stroke="#4f4f4f" stroke-width="0.6"/><path d="M932.3 398.3 L1041.8 387.6 L1046.7 380.8 L937.2 391.4Z" fill="#5f5f5f" stroke="#5f5f5f" stroke-width="0.6"/><path d="M937.2 391.4 L1046.7 380.8 L1051.7 374.1 L942.2 384.7Z" fill="#575757" stroke="#575757" stroke-width="0.6"/><path d="M942.2 384.7 L1051.7 374.1 L1056.9 367.7 L947.4 378.2Z" fill="#505050" stroke="#505050" stroke-width="0.6"/><path d="M947.4 378.2 L1056.9 367.7 L1062.2 361.4 L952.8 371.9Z" fill="#4e4e4e" stroke="#4e4e4e" stroke-width="0.6"/><path d="M952.8 371.9 L1062.2 361.4 L1067.8 355.4 L958.4 365.8Z" fill="#444444" stroke="#444444" stroke-width="0.6"/><path d="M958.4 365.8 L1067.8 355.4 L1073.4 349.5 L964.1 359.9Z" fill="#4a4a4a" stroke="#4a4a4a" stroke-width="0.6"/><path d="M964.1 359.9 L1073.4 349.5 L1079.2 343.9 L969.9 354.2Z" fill="#494949" stroke="#494949" stroke-width="0.6"/><path d="M969.9 354.2 L1079.2 343.9 L1085.2 338.5 L975.9 348.8Z" fill="#3f3f3f" stroke="#3f3f3f" stroke-width="0.6"/><path d="M975.9 348.8 L1085.2 338.5 L1091.3 333.3 L982.0 343.6Z" fill="#454545" stroke="#454545" stroke-width="0.6"/><path d="M982.0 343.6 L1091.3 333.3 L1097.6 328.4 L988.3 338.6Z" fill="#4a4a4a" stroke="#4a4a4a" stroke-width="0.6"/><path d="M988.3 338.6 L1097.6 328.4 L1103.9 323.7 L994.7 333.8Z" fill="#343434" stroke="#343434" stroke-width="0.6"/><path d="M994.7 333.8 L1103.9 323.7 L1110.4 319.2 L1001.2 329.3Z" fill="#383838" stroke="#383838" stroke-width="0.6"/><path d="M1001.2 329.3 L1110.4 319.2 L1117.0 315.0 L1007.8 325.0Z" fill="#3d3d3d" stroke="#3d3d3d" stroke-width="0.6"/><path d="M1007.8 325.0 L1117.0 315.0 L1123.7 311.0 L1014.6 321.0Z" fill="#2d2d2d" stroke="#2d2d2d" stroke-width="0.6"/><path d="M1014.6 321.0 L1123.7 311.0 L1130.6 307.3 L1021.4 317.2Z" fill="#393939" stroke="#393939" stroke-width="0.6"/><path d="M1021.4 317.2 L1130.6 307.3 L1137.5 303.8 L1028.4 313.7Z" fill="#434343" stroke="#434343" stroke-width="0.6"/><path d="M1028.4 313.7 L1137.5 303.8 L1144.5 300.5 L1035.4 310.5Z" fill="#353535" stroke="#353535" stroke-width="0.6"/><path d="M1035.4 310.5 L1144.5 300.5 L1151.6 297.6 L1042.6 307.5Z" fill="#393939" stroke="#393939" stroke-width="0.6"/><path d="M1042.6 307.5 L1151.6 297.6 L1158.8 294.9 L1049.8 304.7Z" fill="#323232" stroke="#323232" stroke-width="0.6"/><path d="M1049.8 304.7 L1158.8 294.9 L1166.1 292.4 L1057.1 302.3Z" fill="#313131" stroke="#313131" stroke-width="0.6"/><path d="M1057.1 302.3 L1166.1 292.4 L1173.4 290.3 L1064.5 300.1Z" fill="#3d3d3d" stroke="#3d3d3d" stroke-width="0.6"/><path d="M1064.5 300.1 L1173.4 290.3 L1180.8 288.4 L1071.9 298.2Z" fill="#282828" stroke="#282828" stroke-width="0.6"/><path d="M1071.9 298.2 L1180.8 288.4 L1188.3 286.8 L1079.4 296.5Z" fill="#272727" stroke="#272727" stroke-width="0.6"/><path d="M1079.4 296.5 L1188.3 286.8 L1195.8 285.4 L1087.0 295.2Z" fill="#272727" stroke="#272727" stroke-width="0.6"/><path d="M1087.0 295.2 L1195.8 285.4 L1203.3 284.3 L1094.5 294.1Z" fill="#262626" stroke="#262626" stroke-width="0.6"/><path d="M1094.5 294.1 L1203.3 284.3 L1210.9 283.5 L1102.2 293.3Z" fill="#1f1f1f" stroke="#1f1f1f" stroke-width="0.6"/><path d="M1102.2 293.3 L1210.9 283.5 L1218.6 283.0 L1109.8 292.8Z" fill="#1e1e1e" stroke="#1e1e1e" stroke-width="0.6"/>
<path d="M900.7 654.1 L899.2 644.6 L898.0 635.0 L897.1 625.4 L896.3 615.8 L895.8 606.2 L895.6 596.6 L976.2 587.2 L976.4 596.7 L976.9 606.3 L977.6 615.8 L978.6 625.4 L979.8 634.8 L981.2 644.3Z" fill="#2e2e2e" stroke="#000" stroke-width="1.4" stroke-linejoin="round"/>
<path d="M929.7 750.1 L925.9 741.5 L922.3 732.7 L918.9 723.8 L915.8 714.8 L912.8 705.8 L910.1 696.6 L990.6 686.5 L993.3 695.6 L996.2 704.6 L999.4 713.5 L1002.7 722.3 L1006.3 731.0 L1010.1 739.6Z" fill="#2e2e2e" stroke="#000" stroke-width="1.4" stroke-linejoin="round"/>
<path d="M897.4 553.3 L898.4 543.8 L899.7 534.4 L901.3 525.1 L903.0 515.8 L905.0 506.6 L907.3 497.5 L987.8 488.9 L985.6 497.9 L983.6 507.0 L981.9 516.2 L980.3 525.5 L979.0 534.8 L978.0 544.2Z" fill="#2e2e2e" stroke="#000" stroke-width="1.4" stroke-linejoin="round"/>
<path d="M981.6 831.7 L975.8 824.8 L970.2 817.7 L964.7 810.4 L959.5 803.0 L954.4 795.3 L949.5 787.5 L1029.8 776.7 L1034.7 784.5 L1039.7 792.1 L1045.0 799.5 L1050.4 806.7 L1056.0 813.7 L1061.8 820.5Z" fill="#2e2e2e" stroke="#000" stroke-width="1.4" stroke-linejoin="round"/>
<path d="M920.2 457.8 L923.6 449.3 L927.3 441.1 L931.2 432.9 L935.3 424.9 L939.6 417.1 L944.1 409.5 L1024.6 401.5 L1020.1 409.1 L1015.8 416.8 L1011.7 424.8 L1007.9 432.8 L1004.2 441.1 L1000.7 449.4Z" fill="#2e2e2e" stroke="#000" stroke-width="1.4" stroke-linejoin="round"/>
<path d="M1051.2 890.4 L1044.0 886.0 L1036.9 881.3 L1029.9 876.4 L1023.1 871.2 L1016.3 865.8 L1009.7 860.2 L1089.8 848.8 L1096.4 854.4 L1103.1 859.8 L1109.9 864.9 L1116.9 869.8 L1124.0 874.4 L1131.1 878.8Z" fill="#2e2e2e" stroke="#000" stroke-width="1.4" stroke-linejoin="round"/>
<path d="M966.9 377.3 L972.4 370.8 L978.1 364.5 L984.0 358.4 L990.0 352.5 L996.2 346.9 L1002.5 341.5 L1082.9 334.0 L1076.5 339.3 L1070.4 344.9 L1064.4 350.7 L1058.5 356.8 L1052.8 363.1 L1047.3 369.6Z" fill="#2e2e2e" stroke="#000" stroke-width="1.4" stroke-linejoin="round"/>
<path d="M1131.6 920.0 L1123.7 918.6 L1115.9 916.8 L1108.1 914.8 L1100.3 912.5 L1092.6 909.9 L1084.9 907.0 L1164.7 895.2 L1172.4 898.1 L1180.0 900.7 L1187.8 903.0 L1195.6 905.0 L1203.4 906.7 L1211.2 908.1Z" fill="#2e2e2e" stroke="#000" stroke-width="1.4" stroke-linejoin="round"/>
<path d="M902.3 651.6 L898.8 599.2 L969.0 591.0 L972.6 592.4 L973.9 593.2 L975.1 594.1 L976.4 595.0 L977.5 596.1 L978.7 597.3 L979.7 598.5 L980.7 599.9 L981.6 601.3 L982.5 602.7 L983.3 604.3 L984.0 605.9 L984.6 607.5 L985.1 609.2 L985.5 610.9 L985.9 612.6 L986.1 614.4 L986.3 616.1 L986.4 617.9 L986.4 619.7 L986.2 621.4 L986.0 623.2 L985.7 624.9 L985.3 626.5 L984.9 628.2 L984.3 629.8 L983.6 631.3 L982.9 632.8 L982.1 634.2 L981.2 635.5 L980.3 636.7 L979.2 637.9 L978.1 639.0 L977.0 639.9 L975.8 640.8 L972.5 643.1Z" fill="url(#r17)" stroke="#000" stroke-width="1.8" stroke-linejoin="round"/>
<path d="M902.3 651.6 L898.8 599.2 L900.2 600.1 L901.6 601.0 L902.9 602.1 L904.2 603.2 L905.4 604.5 L906.5 605.9 L907.6 607.3 L908.6 608.8 L909.5 610.4 L910.4 612.1 L911.1 613.8 L911.8 615.6 L912.3 617.4 L912.8 619.2 L913.2 621.1 L913.5 623.0 L913.7 624.9 L913.7 626.8 L913.7 628.7 L913.6 630.6 L913.4 632.5 L913.0 634.4 L912.6 636.2 L912.1 637.9 L911.5 639.7 L910.8 641.3 L910.0 642.9 L909.1 644.4 L908.2 645.8 L907.1 647.2 L906.0 648.5 L904.9 649.6 L903.6 650.7Z" fill="#f6f6f6" stroke="#111" stroke-width="1"/>
<path d="M897.9 652.5 L894.4 600.1 L895.8 601.0 L897.2 601.9 L898.5 603.0 L899.8 604.1 L901.0 605.4 L902.1 606.8 L903.2 608.2 L904.2 609.7 L905.1 611.3 L906.0 613.0 L906.7 614.7 L907.4 616.5 L907.9 618.3 L908.4 620.1 L908.8 622.0 L909.1 623.9 L909.2 625.8 L909.3 627.7 L909.3 629.6 L909.2 631.5 L909.0 633.4 L908.6 635.3 L908.2 637.1 L907.7 638.8 L907.1 640.6 L906.4 642.2 L905.6 643.8 L904.7 645.3 L903.8 646.8 L902.7 648.1 L901.6 649.4 L900.4 650.5 L899.2 651.6Z" fill="#cfcfcf" clip-path="url(#cpr17)"/>
<path d="M893.5 653.4 L890.0 601.0 L891.4 601.9 L892.8 602.8 L894.1 603.9 L895.4 605.1 L896.6 606.3 L897.7 607.7 L898.8 609.1 L899.8 610.6 L900.7 612.2 L901.6 613.9 L902.3 615.6 L903.0 617.4 L903.5 619.2 L904.0 621.0 L904.4 622.9 L904.7 624.8 L904.8 626.7 L904.9 628.6 L904.9 630.6 L904.8 632.4 L904.5 634.3 L904.2 636.2 L903.8 638.0 L903.3 639.8 L902.7 641.5 L902.0 643.1 L901.2 644.7 L900.3 646.2 L899.4 647.7 L898.3 649.0 L897.2 650.3 L896.0 651.4 L894.8 652.5Z" fill="#dcdcdc" clip-path="url(#cpr17)"/>
<path d="M930.8 747.8 L913.9 698.6 L984.1 689.7 L985.6 690.0 L987.1 690.4 L988.6 690.9 L992.4 692.3 L993.7 692.9 L995.1 693.6 L996.4 694.3 L997.7 695.2 L998.9 696.2 L1000.1 697.3 L1001.2 698.5 L1002.3 699.7 L1003.3 701.1 L1004.2 702.5 L1005.0 704.0 L1005.8 705.5 L1006.5 707.1 L1007.1 708.7 L1007.6 710.4 L1008.1 712.1 L1008.4 713.8 L1008.7 715.6 L1008.9 717.4 L1008.9 719.1 L1008.9 720.9 L1008.8 722.6 L1008.6 724.4 L1008.3 726.1 L1007.9 727.8 L1007.4 729.4 L1006.8 731.0 L1006.2 732.5 L1005.5 734.0 L1004.6 735.4 L1003.7 736.7 L1000.9 738.6Z" fill="url(#r18)" stroke="#000" stroke-width="1.8" stroke-linejoin="round"/>
<path d="M930.8 747.8 L913.9 698.6 L915.5 698.8 L917.0 699.2 L918.5 699.7 L920.0 700.3 L921.4 701.1 L922.9 701.9 L924.2 702.9 L925.6 704.0 L926.8 705.1 L928.0 706.4 L929.2 707.8 L930.3 709.2 L931.3 710.7 L932.2 712.3 L933.0 714.0 L933.8 715.7 L934.4 717.5 L935.0 719.3 L935.5 721.2 L935.9 723.0 L936.1 724.9 L936.3 726.9 L936.4 728.8 L936.4 730.7 L936.3 732.6 L936.0 734.5 L935.7 736.3 L935.3 738.1 L934.8 739.9 L934.1 741.6 L933.4 743.2 L932.7 744.8 L931.8 746.3Z" fill="#f6f6f6" stroke="#111" stroke-width="1"/>
<path d="M927.1 750.2 L910.2 701.0 L911.7 701.3 L913.2 701.7 L914.7 702.2 L916.2 702.8 L917.7 703.5 L919.1 704.4 L920.5 705.4 L921.8 706.4 L923.1 707.6 L924.3 708.9 L925.4 710.2 L926.5 711.7 L927.5 713.2 L928.4 714.8 L929.3 716.5 L930.0 718.2 L930.7 720.0 L931.2 721.8 L931.7 723.6 L932.1 725.5 L932.4 727.4 L932.6 729.3 L932.6 731.2 L932.6 733.1 L932.5 735.0 L932.3 736.9 L931.9 738.8 L931.5 740.6 L931.0 742.3 L930.4 744.1 L929.7 745.7 L928.9 747.3 L928.0 748.8Z" fill="#cfcfcf" clip-path="url(#cpr18)"/>
<path d="M923.3 752.7 L906.4 703.5 L908.0 703.7 L909.5 704.1 L911.0 704.6 L912.5 705.3 L913.9 706.0 L915.3 706.9 L916.7 707.8 L918.0 708.9 L919.3 710.1 L920.5 711.3 L921.7 712.7 L922.7 714.1 L923.7 715.7 L924.7 717.3 L925.5 718.9 L926.3 720.7 L926.9 722.4 L927.5 724.2 L928.0 726.1 L928.3 728.0 L928.6 729.9 L928.8 731.8 L928.9 733.7 L928.8 735.6 L928.7 737.5 L928.5 739.4 L928.2 741.2 L927.8 743.0 L927.2 744.8 L926.6 746.5 L925.9 748.2 L925.1 749.8 L924.2 751.3Z" fill="#dcdcdc" clip-path="url(#cpr18)"/>
<path d="M899.6 550.9 L909.8 500.6 L980.0 493.1 L983.1 494.1 L984.1 495.4 L985.1 496.7 L986.0 498.1 L986.9 499.5 L987.7 501.1 L988.4 502.7 L989.0 504.3 L989.5 506.0 L989.9 507.7 L990.3 509.4 L990.5 511.2 L990.7 512.9 L990.8 514.7 L990.8 516.5 L990.6 518.2 L990.4 520.0 L990.1 521.7 L989.7 523.4 L989.3 525.0 L988.7 526.6 L988.0 528.1 L987.3 529.6 L986.5 531.0 L985.6 532.3 L984.7 533.6 L983.6 534.8 L982.5 535.8 L981.4 536.8 L980.2 537.7 L976.9 540.0 L975.6 540.8 L974.2 541.5 L972.7 542.1 L971.3 542.6 L969.8 543.0Z" fill="url(#r19)" stroke="#000" stroke-width="1.8" stroke-linejoin="round"/>
<path d="M899.6 550.9 L909.8 500.6 L910.9 502.0 L912.0 503.4 L913.0 504.9 L913.9 506.5 L914.7 508.2 L915.5 509.9 L916.1 511.6 L916.7 513.5 L917.2 515.3 L917.6 517.2 L917.8 519.1 L918.0 521.0 L918.1 522.9 L918.1 524.8 L918.0 526.7 L917.7 528.6 L917.4 530.5 L917.0 532.3 L916.5 534.0 L915.9 535.8 L915.2 537.4 L914.4 539.0 L913.5 540.5 L912.5 542.0 L911.5 543.3 L910.4 544.6 L909.2 545.8 L908.0 546.8 L906.7 547.8 L905.3 548.7 L903.9 549.4 L902.5 550.0 L901.0 550.5Z" fill="#f6f6f6" stroke="#111" stroke-width="1"/>
<path d="M895.1 550.1 L905.3 499.8 L906.5 501.1 L907.6 502.6 L908.6 504.1 L909.5 505.7 L910.3 507.3 L911.1 509.1 L911.7 510.8 L912.3 512.6 L912.8 514.5 L913.1 516.4 L913.4 518.3 L913.6 520.2 L913.7 522.1 L913.7 524.0 L913.5 525.9 L913.3 527.8 L913.0 529.6 L912.6 531.5 L912.0 533.2 L911.4 534.9 L910.7 536.6 L909.9 538.2 L909.1 539.7 L908.1 541.2 L907.1 542.5 L906.0 543.8 L904.8 545.0 L903.6 546.0 L902.3 547.0 L900.9 547.8 L899.5 548.6 L898.1 549.2 L896.6 549.7Z" fill="#cfcfcf" clip-path="url(#cpr19)"/>
<path d="M890.7 549.2 L900.9 499.0 L902.1 500.3 L903.1 501.7 L904.1 503.3 L905.0 504.9 L905.9 506.5 L906.6 508.2 L907.3 510.0 L907.9 511.8 L908.3 513.7 L908.7 515.5 L909.0 517.4 L909.2 519.4 L909.3 521.3 L909.2 523.2 L909.1 525.1 L908.9 527.0 L908.6 528.8 L908.1 530.6 L907.6 532.4 L907.0 534.1 L906.3 535.8 L905.5 537.4 L904.6 538.9 L903.7 540.4 L902.6 541.7 L901.5 543.0 L900.4 544.1 L899.1 545.2 L897.8 546.2 L896.5 547.0 L895.1 547.8 L893.7 548.4 L892.2 548.9Z" fill="#dcdcdc" clip-path="url(#cpr19)"/>
<path d="M982.2 829.6 L953.7 788.7 L955.2 788.3 L956.7 788.1 L1026.6 778.7 L1028.2 778.5 L1029.7 778.6 L1031.3 778.7 L1032.8 779.0 L1034.3 779.3 L1035.8 779.9 L1039.6 781.2 L1040.9 781.8 L1042.3 782.5 L1043.6 783.3 L1044.9 784.2 L1046.1 785.2 L1047.3 786.3 L1048.4 787.5 L1049.5 788.7 L1050.5 790.1 L1051.4 791.5 L1052.3 793.0 L1053.1 794.5 L1053.8 796.1 L1054.4 797.8 L1054.9 799.4 L1055.4 801.2 L1055.7 802.9 L1056.0 804.7 L1056.1 806.4 L1056.2 808.2 L1056.2 810.0 L1056.1 811.7 L1055.8 813.5 L1055.5 815.2 L1055.1 816.8 L1054.7 818.5 L1052.1 819.9Z" fill="url(#r20)" stroke="#000" stroke-width="1.8" stroke-linejoin="round"/>
<path d="M982.2 829.6 L953.7 788.7 L955.2 788.3 L956.7 788.1 L958.2 788.0 L959.8 788.0 L961.3 788.1 L962.9 788.4 L964.4 788.8 L965.9 789.3 L967.4 789.9 L968.9 790.7 L970.3 791.5 L971.7 792.5 L973.0 793.6 L974.3 794.8 L975.5 796.0 L976.6 797.4 L977.7 798.9 L978.7 800.4 L979.6 802.0 L980.5 803.7 L981.2 805.4 L981.9 807.2 L982.5 809.0 L982.9 810.9 L983.3 812.7 L983.6 814.7 L983.8 816.6 L983.9 818.5 L983.8 820.4 L983.7 822.3 L983.5 824.2 L983.2 826.0 L982.7 827.8Z" fill="#f6f6f6" stroke="#111" stroke-width="1"/>
<path d="M979.5 833.2 L950.9 792.2 L952.4 791.9 L954.0 791.7 L955.5 791.5 L957.0 791.6 L958.6 791.7 L960.1 792.0 L961.7 792.4 L963.2 792.9 L964.7 793.5 L966.1 794.3 L967.6 795.1 L968.9 796.1 L970.3 797.2 L971.5 798.4 L972.8 799.6 L973.9 801.0 L975.0 802.5 L976.0 804.0 L976.9 805.6 L977.8 807.3 L978.5 809.0 L979.2 810.8 L979.7 812.6 L980.2 814.4 L980.6 816.3 L980.9 818.2 L981.1 820.2 L981.1 822.1 L981.1 824.0 L981.0 825.9 L980.8 827.8 L980.4 829.6 L980.0 831.4Z" fill="#cfcfcf" clip-path="url(#cpr20)"/>
<path d="M976.8 836.8 L948.2 795.8 L949.7 795.5 L951.2 795.2 L952.8 795.1 L954.3 795.1 L955.9 795.3 L957.4 795.6 L958.9 795.9 L960.5 796.5 L962.0 797.1 L963.4 797.8 L964.8 798.7 L966.2 799.7 L967.5 800.8 L968.8 801.9 L970.0 803.2 L971.2 804.6 L972.3 806.0 L973.3 807.6 L974.2 809.2 L975.0 810.8 L975.8 812.6 L976.5 814.4 L977.0 816.2 L977.5 818.0 L977.9 819.9 L978.2 821.8 L978.3 823.7 L978.4 825.7 L978.4 827.6 L978.3 829.5 L978.0 831.3 L977.7 833.2 L977.3 835.0Z" fill="#dcdcdc" clip-path="url(#cpr20)"/>
<path d="M922.8 455.7 L945.8 412.7 L1015.9 405.7 L1018.6 406.3 L1019.3 407.9 L1019.9 409.5 L1020.5 411.2 L1020.9 412.9 L1021.3 414.6 L1021.5 416.4 L1021.7 418.1 L1021.8 419.9 L1021.7 421.7 L1021.6 423.5 L1021.4 425.2 L1021.1 426.9 L1020.7 428.6 L1020.2 430.2 L1019.7 431.8 L1019.0 433.4 L1018.3 434.9 L1017.4 436.3 L1016.6 437.6 L1015.6 438.9 L1014.6 440.1 L1013.5 441.1 L1012.3 442.1 L1011.1 443.0 L1007.8 445.2 L1006.5 446.1 L1005.1 446.8 L1003.7 447.5 L1002.2 448.0 L1000.7 448.4 L999.2 448.6 L929.0 455.9 L927.4 456.0 L925.9 456.0 L924.4 455.9Z" fill="url(#r21)" stroke="#000" stroke-width="1.8" stroke-linejoin="round"/>
<path d="M922.8 455.7 L945.8 412.7 L946.5 414.4 L947.2 416.2 L947.7 418.0 L948.2 419.8 L948.6 421.7 L948.9 423.6 L949.1 425.5 L949.1 427.5 L949.1 429.4 L949.0 431.3 L948.8 433.2 L948.4 435.0 L948.0 436.9 L947.5 438.6 L946.9 440.4 L946.2 442.0 L945.4 443.6 L944.5 445.2 L943.5 446.6 L942.5 448.0 L941.4 449.3 L940.2 450.4 L939.0 451.5 L937.7 452.5 L936.3 453.3 L934.9 454.1 L933.5 454.7 L932.0 455.2 L930.5 455.6 L929.0 455.9 L927.4 456.0 L925.9 456.0 L924.4 455.9Z" fill="#f6f6f6" stroke="#111" stroke-width="1"/>
<path d="M919.0 453.3 L941.9 410.4 L942.7 412.1 L943.3 413.9 L943.9 415.7 L944.4 417.5 L944.7 419.4 L945.0 421.3 L945.2 423.2 L945.3 425.1 L945.3 427.1 L945.1 429.0 L944.9 430.9 L944.6 432.7 L944.2 434.5 L943.6 436.3 L943.0 438.1 L942.3 439.7 L941.5 441.3 L940.6 442.9 L939.7 444.3 L938.6 445.7 L937.5 446.9 L936.4 448.1 L935.1 449.2 L933.8 450.2 L932.5 451.0 L931.1 451.8 L929.6 452.4 L928.2 452.9 L926.7 453.3 L925.1 453.5 L923.6 453.7 L922.1 453.7 L920.5 453.6Z" fill="#cfcfcf" clip-path="url(#cpr21)"/>
<path d="M915.1 451.0 L938.0 408.0 L938.8 409.8 L939.5 411.5 L940.0 413.3 L940.5 415.2 L940.9 417.1 L941.2 419.0 L941.3 420.9 L941.4 422.8 L941.4 424.7 L941.3 426.7 L941.1 428.5 L940.7 430.4 L940.3 432.2 L939.8 434.0 L939.2 435.7 L938.5 437.4 L937.7 439.0 L936.8 440.5 L935.8 442.0 L934.8 443.3 L933.7 444.6 L932.5 445.8 L931.3 446.9 L930.0 447.8 L928.6 448.7 L927.2 449.4 L925.8 450.1 L924.3 450.6 L922.8 451.0 L921.3 451.2 L919.7 451.4 L918.2 451.4 L916.7 451.3Z" fill="#dcdcdc" clip-path="url(#cpr21)"/>
<path d="M1051.4 888.7 L1014.1 860.4 L1015.4 859.4 L1016.7 858.6 L1018.1 857.9 L1019.6 857.3 L1021.1 856.8 L1022.6 856.5 L1024.1 856.2 L1093.9 846.3 L1095.4 846.2 L1096.9 846.3 L1098.5 846.4 L1100.1 846.7 L1101.6 847.1 L1103.1 847.6 L1106.8 849.0 L1108.2 849.5 L1109.6 850.2 L1110.9 851.0 L1112.2 851.9 L1113.4 853.0 L1114.6 854.0 L1115.7 855.2 L1116.8 856.5 L1117.8 857.9 L1118.8 859.3 L1119.6 860.8 L1120.4 862.3 L1121.1 863.9 L1121.7 865.6 L1122.3 867.3 L1122.7 869.0 L1123.0 870.7 L1123.3 872.5 L1123.5 874.3 L1123.5 876.0 L1123.5 877.8 L1121.1 878.6Z" fill="url(#r22)" stroke="#000" stroke-width="1.8" stroke-linejoin="round"/>
<path d="M1051.4 888.7 L1014.1 860.4 L1015.4 859.4 L1016.7 858.6 L1018.1 857.9 L1019.6 857.3 L1021.1 856.8 L1022.6 856.5 L1024.1 856.2 L1025.7 856.1 L1027.2 856.2 L1028.8 856.3 L1030.3 856.6 L1031.9 857.0 L1033.4 857.5 L1034.9 858.1 L1036.4 858.9 L1037.8 859.8 L1039.2 860.7 L1040.5 861.8 L1041.8 863.0 L1043.0 864.3 L1044.2 865.7 L1045.3 867.1 L1046.3 868.7 L1047.2 870.3 L1048.1 872.0 L1048.8 873.7 L1049.5 875.5 L1050.1 877.3 L1050.5 879.2 L1050.9 881.1 L1051.2 883.0 L1051.4 884.9 L1051.5 886.8Z" fill="#f6f6f6" stroke="#111" stroke-width="1"/>
<path d="M1049.9 893.0 L1012.5 864.6 L1013.8 863.7 L1015.2 862.8 L1016.6 862.1 L1018.0 861.5 L1019.5 861.0 L1021.0 860.7 L1022.6 860.5 L1024.1 860.4 L1025.7 860.4 L1027.2 860.5 L1028.8 860.8 L1030.3 861.2 L1031.9 861.7 L1033.4 862.4 L1034.8 863.1 L1036.3 864.0 L1037.6 865.0 L1039.0 866.1 L1040.3 867.2 L1041.5 868.5 L1042.6 869.9 L1043.7 871.4 L1044.7 872.9 L1045.7 874.5 L1046.5 876.2 L1047.3 877.9 L1047.9 879.7 L1048.5 881.5 L1049.0 883.4 L1049.4 885.3 L1049.7 887.2 L1049.8 889.1 L1049.9 891.1Z" fill="#cfcfcf" clip-path="url(#cpr22)"/>
<path d="M1048.4 897.2 L1011.0 868.8 L1012.3 867.9 L1013.7 867.1 L1015.1 866.3 L1016.5 865.8 L1018.0 865.3 L1019.5 864.9 L1021.0 864.7 L1022.6 864.6 L1024.1 864.6 L1025.7 864.8 L1027.2 865.0 L1028.8 865.4 L1030.3 866.0 L1031.8 866.6 L1033.3 867.3 L1034.7 868.2 L1036.1 869.2 L1037.4 870.3 L1038.7 871.5 L1039.9 872.8 L1041.1 874.1 L1042.2 875.6 L1043.2 877.1 L1044.1 878.7 L1045.0 880.4 L1045.7 882.2 L1046.4 883.9 L1047.0 885.8 L1047.5 887.6 L1047.8 889.5 L1048.1 891.4 L1048.3 893.4 L1048.4 895.3Z" fill="#dcdcdc" clip-path="url(#cpr22)"/>
<path d="M971.3 376.5 L1002.9 342.6 L1072.9 336.0 L1075.5 336.1 L1075.8 337.9 L1076.1 339.6 L1076.3 341.4 L1076.3 343.2 L1076.3 345.0 L1076.2 346.7 L1076.0 348.5 L1075.7 350.2 L1075.3 351.9 L1074.8 353.6 L1074.2 355.2 L1073.6 356.7 L1072.8 358.2 L1072.0 359.6 L1071.1 361.0 L1070.1 362.2 L1069.1 363.4 L1068.0 364.5 L1066.8 365.5 L1065.6 366.4 L1062.3 368.6 L1061.0 369.5 L1059.6 370.2 L1058.1 370.9 L1056.7 371.4 L1055.2 371.8 L1053.6 372.0 L983.6 378.8 L982.0 379.0 L980.5 379.0 L978.9 378.9 L977.4 378.6 L975.8 378.3 L974.3 377.8 L972.8 377.2Z" fill="url(#r23)" stroke="#000" stroke-width="1.8" stroke-linejoin="round"/>
<path d="M971.3 376.5 L1002.9 342.6 L1003.3 344.5 L1003.6 346.4 L1003.8 348.3 L1003.9 350.2 L1003.8 352.2 L1003.7 354.1 L1003.5 356.0 L1003.1 357.8 L1002.7 359.7 L1002.2 361.4 L1001.6 363.2 L1000.9 364.9 L1000.1 366.5 L999.2 368.0 L998.2 369.5 L997.2 370.9 L996.0 372.1 L994.9 373.3 L993.6 374.4 L992.3 375.4 L990.9 376.3 L989.5 377.0 L988.1 377.6 L986.6 378.2 L985.1 378.5 L983.6 378.8 L982.0 379.0 L980.5 379.0 L978.9 378.9 L977.4 378.6 L975.8 378.3 L974.3 377.8 L972.8 377.2Z" fill="#f6f6f6" stroke="#111" stroke-width="1"/>
<path d="M969.3 372.5 L1000.8 338.6 L1001.2 340.5 L1001.5 342.4 L1001.7 344.3 L1001.8 346.2 L1001.7 348.2 L1001.6 350.1 L1001.4 352.0 L1001.1 353.8 L1000.6 355.7 L1000.1 357.5 L999.5 359.2 L998.8 360.9 L998.0 362.5 L997.1 364.0 L996.1 365.5 L995.1 366.9 L994.0 368.1 L992.8 369.3 L991.5 370.4 L990.2 371.4 L988.9 372.3 L987.4 373.0 L986.0 373.7 L984.5 374.2 L983.0 374.6 L981.5 374.8 L979.9 375.0 L978.4 375.0 L976.8 374.9 L975.3 374.6 L973.7 374.3 L972.2 373.8 L970.7 373.2Z" fill="#cfcfcf" clip-path="url(#cpr23)"/>
<path d="M967.2 368.5 L998.8 334.6 L999.1 336.5 L999.4 338.4 L999.6 340.3 L999.7 342.3 L999.7 344.2 L999.5 346.1 L999.3 348.0 L999.0 349.9 L998.5 351.7 L998.0 353.5 L997.4 355.2 L996.7 356.9 L995.9 358.5 L995.0 360.0 L994.0 361.5 L993.0 362.9 L991.9 364.2 L990.7 365.3 L989.4 366.4 L988.1 367.4 L986.8 368.3 L985.4 369.0 L983.9 369.7 L982.4 370.2 L980.9 370.6 L979.4 370.8 L977.8 371.0 L976.3 371.0 L974.7 370.9 L973.2 370.6 L971.7 370.3 L970.1 369.8 L968.6 369.2Z" fill="#dcdcdc" clip-path="url(#cpr23)"/>
<path d="M1131.6 919.0 L1089.2 906.2 L1090.2 904.8 L1091.2 903.5 L1092.3 902.2 L1093.5 901.1 L1094.8 900.0 L1096.1 899.1 L1097.5 898.2 L1098.9 897.5 L1100.4 896.9 L1101.9 896.5 L1103.4 896.1 L1172.9 885.9 L1174.4 885.7 L1176.0 885.6 L1177.5 885.6 L1179.1 885.8 L1180.7 886.0 L1182.2 886.4 L1183.7 887.0 L1187.4 888.3 L1188.8 888.9 L1190.2 889.6 L1191.5 890.4 L1192.8 891.3 L1194.1 892.3 L1195.3 893.4 L1196.4 894.6 L1197.5 895.9 L1198.5 897.3 L1199.5 898.7 L1200.3 900.2 L1201.1 901.7 L1201.8 903.4 L1202.4 905.0 L1203.0 906.7 L1203.4 908.4 L1203.2 908.8Z" fill="url(#r24)" stroke="#000" stroke-width="1.8" stroke-linejoin="round"/>
<path d="M1131.6 919.0 L1089.2 906.2 L1090.2 904.8 L1091.2 903.5 L1092.3 902.2 L1093.5 901.1 L1094.8 900.0 L1096.1 899.1 L1097.5 898.2 L1098.9 897.5 L1100.4 896.9 L1101.9 896.5 L1103.4 896.1 L1104.9 895.9 L1106.5 895.8 L1108.1 895.8 L1109.6 896.0 L1111.2 896.2 L1112.7 896.6 L1114.3 897.2 L1115.8 897.8 L1117.3 898.6 L1118.7 899.4 L1120.1 900.4 L1121.5 901.5 L1122.8 902.7 L1124.0 904.0 L1125.2 905.4 L1126.3 906.9 L1127.3 908.4 L1128.2 910.0 L1129.1 911.7 L1129.8 913.5 L1130.5 915.3 L1131.1 917.1Z" fill="#f6f6f6" stroke="#111" stroke-width="1"/>
<path d="M1131.2 923.5 L1088.8 910.7 L1089.8 909.3 L1090.9 908.0 L1092.0 906.7 L1093.2 905.5 L1094.4 904.5 L1095.8 903.6 L1097.1 902.7 L1098.5 902.0 L1100.0 901.4 L1101.5 900.9 L1103.0 900.6 L1104.6 900.4 L1106.1 900.3 L1107.7 900.3 L1109.3 900.4 L1110.8 900.7 L1112.4 901.1 L1113.9 901.6 L1115.4 902.3 L1116.9 903.1 L1118.4 903.9 L1119.8 904.9 L1121.1 906.0 L1122.4 907.2 L1123.6 908.5 L1124.8 909.9 L1125.9 911.4 L1126.9 912.9 L1127.9 914.5 L1128.7 916.2 L1129.5 918.0 L1130.1 919.7 L1130.7 921.6Z" fill="#cfcfcf" clip-path="url(#cpr24)"/>
<path d="M1130.8 927.9 L1088.5 915.2 L1089.4 913.8 L1090.5 912.4 L1091.6 911.2 L1092.8 910.0 L1094.1 909.0 L1095.4 908.0 L1096.8 907.2 L1098.2 906.5 L1099.6 905.9 L1101.1 905.4 L1102.7 905.1 L1104.2 904.9 L1105.8 904.8 L1107.3 904.8 L1108.9 904.9 L1110.5 905.2 L1112.0 905.6 L1113.6 906.1 L1115.1 906.8 L1116.6 907.5 L1118.0 908.4 L1119.4 909.4 L1120.7 910.5 L1122.0 911.7 L1123.3 913.0 L1124.4 914.4 L1125.5 915.8 L1126.6 917.4 L1127.5 919.0 L1128.3 920.7 L1129.1 922.4 L1129.8 924.2 L1130.4 926.1Z" fill="#dcdcdc" clip-path="url(#cpr24)"/>
<path d="M1491.6 566.2 L1492.7 577.3 L1493.6 588.4 L1494.1 599.5 L1494.3 610.6 L1494.2 621.7 L1493.8 632.7 L1493.0 643.8 L1491.9 654.7 L1490.5 665.6 L1488.8 676.4 L1486.8 687.1 L1484.5 697.6 L1481.8 708.1 L1478.9 718.4 L1475.6 728.5 L1472.1 738.5 L1468.2 748.3 L1464.1 758.0 L1459.7 767.4 L1455.0 776.6 L1450.0 785.5 L1444.8 794.3 L1439.3 802.8 L1433.6 811.0 L1427.7 818.9 L1421.5 826.6 L1415.0 834.0 L1408.4 841.1 L1401.5 847.9 L1394.5 854.4 L1387.2 860.6 L1379.8 866.4 L1372.2 871.9 L1364.5 877.0 L1356.5 881.8 L1348.5 886.3 L1340.3 890.4 L1332.0 894.1 L1323.6 897.5 L1315.0 900.5 L1306.4 903.1 L1297.7 905.4 L1288.9 907.3 L1280.1 908.8 L1271.2 909.9 L1262.3 910.6 L1253.3 910.9 L1244.4 910.9 L1235.4 910.5 L1226.5 909.7 L1217.5 908.5 L1208.6 907.0 L1199.7 905.1 L1190.9 902.8 L1182.1 900.1 L1173.4 897.1 L1164.8 893.7 L1156.3 889.9 L1147.9 885.8 L1139.5 881.4 L1131.3 876.6 L1123.3 871.5 L1115.4 866.0 L1107.6 860.2 L1100.0 854.1 L1092.5 847.8 L1085.2 841.1 L1078.1 834.1 L1071.2 826.8 L1064.5 819.3 L1058.0 811.5 L1051.8 803.4 L1045.7 795.2 L1039.9 786.6 L1034.3 777.9 L1029.0 768.9 L1023.9 759.7 L1019.0 750.4 L1014.4 740.8 L1010.1 731.1 L1006.1 721.2 L1002.3 711.2 L998.8 701.1 L995.6 690.8 L992.7 680.4 L990.0 669.9 L987.7 659.4 L985.7 648.7 L983.9 638.0 L982.5 627.2 L981.3 616.5 L980.5 605.6 L980.0 594.8 L979.7 584.0 L979.8 573.2 L980.2 562.4 L980.9 551.7 L981.9 541.0 L983.2 530.3 L984.8 519.8 L986.7 509.3 L988.9 499.0 L991.3 488.7 L994.1 478.6 L997.2 468.7 L1000.6 458.8 L1004.2 449.2 L1008.1 439.7 L1012.3 430.4 L1016.8 421.3 L1021.5 412.4 L1026.5 403.7 L1031.7 395.2 L1037.2 387.0 L1043.0 379.0 L1048.9 371.3 L1055.1 363.9 L1061.5 356.7 L1068.1 349.8 L1075.0 343.2 L1082.0 336.9 L1089.2 331.0 L1096.6 325.3 L1104.2 320.0 L1111.9 315.0 L1119.8 310.3 L1127.8 306.0 L1136.0 302.0 L1144.3 298.4 L1152.7 295.2 L1161.2 292.3 L1169.8 289.7 L1178.5 287.6 L1187.3 285.8 L1196.1 284.4 L1205.0 283.4 L1214.0 282.8 L1222.9 282.5 L1231.9 282.6 L1240.9 283.1 L1249.9 284.0 L1258.9 285.3 L1267.9 287.0 L1276.8 289.0 L1285.7 291.5 L1294.5 294.3 L1303.3 297.4 L1311.9 301.0 L1320.5 304.9 L1329.0 309.2 L1337.4 313.8 L1345.7 318.8 L1353.8 324.1 L1361.8 329.7 L1369.6 335.7 L1377.3 342.1 L1384.8 348.7 L1392.2 355.7 L1399.3 362.9 L1406.2 370.4 L1413.0 378.3 L1419.5 386.4 L1425.8 394.7 L1431.8 403.4 L1437.6 412.2 L1443.2 421.3 L1448.5 430.6 L1453.5 440.2 L1458.3 449.9 L1462.8 459.8 L1467.0 469.9 L1471.0 480.1 L1474.6 490.5 L1477.9 501.0 L1481.0 511.6 L1483.7 522.4 L1486.2 533.2 L1488.3 544.2 L1490.1 555.1 L1491.6 566.2Z" fill="#fff" stroke="#000" stroke-width="4"/>
</g><path d="M1044.9 619.8 L1045.6 625.5 L1046.2 631.3 L1046.7 637.1 L1047.1 642.9 L1047.4 648.7 L1047.6 654.5 L1047.8 660.3 L1047.9 666.1 L1047.9 671.9 L1047.8 677.7 L1047.6 683.4 L1047.4 689.2 L1047.0 695.0 L1046.6 700.7 L1046.1 706.4 L1045.6 712.1 L1044.9 717.8 L1044.2 723.5 L1043.3 729.1 L1042.4 734.7 L1041.5 740.3 L1040.4 745.9 L1039.3 751.4 L1038.1 756.9 L1036.8 762.4 L1035.4 767.8 L1033.9 773.2 L1032.4 778.5 L1030.8 783.8 L1029.1 789.1 L1027.3 794.3 L1025.5 799.5 L1023.6 804.7 L1021.6 809.7 L1019.6 814.8 L1017.4 819.8 L1015.2 824.7 L1013.0 829.6 L1010.6 834.4 L1008.2 839.1 L1005.7 843.8 L1003.2 848.5 L1000.6 853.1 L997.9 857.6 L995.1 862.0 L992.3 866.4 L989.5 870.7 L986.5 875.0 L983.5 879.2 L980.4 883.3 L977.3 887.3 L974.1 891.3 L970.9 895.1 L967.6 898.9 L964.3 902.7 L960.9 906.3 L957.4 909.9 L953.9 913.4 L950.3 916.8 L946.7 920.1 L943.1 923.4 L939.3 926.5 L935.6 929.6 L931.8 932.6 L927.9 935.5 L924.1 938.3 L920.1 941.0 L916.2 943.6 L912.1 946.2 L908.1 948.6 L904.0 951.0 L899.9 953.2 L895.7 955.4 L891.5 957.5 L887.3 959.5 L883.1 961.4 L878.8 963.1 L874.5 964.8 L870.2 966.4 L865.8 967.9 L861.4 969.3 L857.0 970.6 L852.6 971.9 L848.2 973.0 L843.7 974.0 L839.2 974.9 L834.7 975.7 L830.2 976.4 L825.7 977.0 L821.2 977.5 L816.6 978.0 L812.1 978.3 L807.5 978.5 L803.0 978.6 L798.4 978.6 L793.8 978.5 L789.3 978.4 L784.7 978.1 L780.1 977.7 L775.6 977.2 L771.0 976.6 L766.5 976.0 L761.9 975.2 L757.4 974.3 L752.8 973.3 L748.3 972.3 L743.8 971.1 L739.3 969.8 L734.8 968.5 L730.4 967.0 L725.9 965.5 L721.5 963.8 L717.1 962.1 L712.7 960.3 L708.3 958.3 L704.0 956.3 L699.7 954.2 L695.4 952.0 L691.2 949.7 L686.9 947.4 L682.7 944.9 L678.6 942.3 L674.4 939.7 L670.3 937.0 L666.3 934.2 L662.2 931.3 L658.3 928.3 L654.3 925.2 L650.4 922.1 L646.5 918.8 L642.7 915.5 L638.9 912.2 L635.2 908.7 L631.5 905.2 L627.9 901.5 L624.3 897.9 L620.7 894.1 L617.2 890.3 L613.8 886.4 L610.4 882.4 L607.0 878.4 L603.7 874.2 L600.5 870.1 L597.3 865.8 L594.2 861.5 L591.1 857.2 L588.1 852.7 L585.2 848.3 L582.3 843.7 L579.5 839.1 L576.7 834.5 L574.0 829.8 L571.3 825.0 L568.8 820.2 L566.3 815.3 L563.8 810.4 L561.4 805.4 L559.1 800.4 L556.9 795.4 L554.7 790.3 L552.6 785.2 L550.5 780.0 L548.6 774.8 L546.7 769.6 L544.8 764.3 L543.1 759.0 L541.4 753.6 L539.8 748.2 L538.3 742.8 L536.8 737.4 L535.4 731.9 L534.1 726.5 L532.8 721.0 L531.7 715.4 L530.6 709.9 L529.6 704.3 L528.6 698.8 L527.8 693.2 L527.0 687.6 L526.3 682.0 L525.6 676.3 L525.1 670.7 L524.6 665.1 L524.2 659.4 L523.9 653.8 L523.6 648.2 L523.4 642.5 L523.3 636.9 L523.3 631.2 L523.4 625.6 L523.5 620.0 L523.8 614.4 L524.0 608.8 L524.4 603.2 L524.9 597.6 L525.4 592.0 L526.0 586.5 L526.7 581.0 L527.4 575.5 L528.3 570.0 L529.2 564.5 L530.2 559.1 L531.2 553.7 L532.4 548.3 L533.6 543.0 L534.9 537.6 L536.3 532.3 L537.7 527.1 L539.2 521.9 L540.8 516.7 L542.5 511.6 L544.2 506.5 L546.0 501.4 L547.9 496.4 L549.8 491.4 L551.8 486.5 L553.9 481.7 L556.1 476.8 L558.3 472.1 L560.6 467.4 L563.0 462.7 L565.4 458.1 L567.9 453.5 L570.4 449.0 L573.1 444.6 L575.8 440.2 L578.5 435.9 L581.3 431.7 L584.2 427.5 L587.1 423.4 L590.1 419.3 L593.2 415.4 L596.3 411.5 L599.5 407.6 L602.7 403.9 L606.0 400.2 L609.3 396.5 L612.7 393.0 L616.1 389.5 L619.6 386.1 L623.2 382.8 L626.8 379.6 L630.4 376.5 L634.1 373.4 L637.9 370.4 L641.6 367.5 L645.5 364.7 L649.3 362.0 L653.2 359.3 L657.2 356.8 L661.2 354.3 L665.2 351.9 L669.3 349.6 L673.4 347.4 L677.5 345.3 L681.7 343.3 L685.9 341.4 L690.1 339.6 L694.4 337.8 L698.7 336.2 L703.0 334.6 L707.4 333.2 L711.7 331.8 L716.1 330.6 L720.6 329.4 L725.0 328.4 L729.4 327.4 L733.9 326.5 L738.4 325.7 L742.9 325.1 L747.4 324.5 L752.0 324.0 L756.5 323.7 L761.1 323.4 L765.7 323.2 L770.2 323.1 L774.8 323.2 L779.4 323.3 L784.0 323.5 L788.6 323.9 L793.1 324.3 L797.7 324.8 L802.3 325.4 L806.9 326.2 L811.5 327.0 L816.0 327.9 L820.6 328.9 L825.1 330.1 L829.7 331.3 L834.2 332.6 L838.7 334.0 L843.2 335.6 L847.7 337.2 L852.2 338.9 L856.6 340.7 L861.0 342.6 L865.4 344.6 L869.8 346.7 L874.1 348.9 L878.5 351.2 L882.8 353.6 L887.0 356.0 L891.3 358.6 L895.5 361.2 L899.6 364.0 L903.8 366.8 L907.9 369.7 L911.9 372.7 L916.0 375.8 L920.0 379.0 L923.9 382.3 L927.8 385.6 L931.7 389.0 L935.5 392.6 L939.2 396.2 L943.0 399.8 L946.6 403.6 L950.3 407.4 L953.8 411.3 L957.4 415.3 L960.8 419.4 L964.2 423.5 L967.6 427.7 L970.9 432.0 L974.2 436.3 L977.3 440.7 L980.5 445.2 L983.5 449.7 L986.6 454.3 L989.5 459.0 L992.4 463.7 L995.2 468.5 L998.0 473.3 L1000.6 478.2 L1003.3 483.1 L1005.8 488.1 L1008.3 493.2 L1010.7 498.3 L1013.1 503.5 L1015.3 508.7 L1017.5 513.9 L1019.7 519.2 L1021.7 524.5 L1023.7 529.9 L1025.6 535.3 L1027.4 540.7 L1029.2 546.2 L1030.9 551.7 L1032.5 557.2 L1034.0 562.8 L1035.5 568.4 L1036.8 574.0 L1038.1 579.7 L1039.3 585.4 L1040.5 591.1 L1041.5 596.8 L1042.5 602.5 L1043.4 608.2 L1044.2 614.0 L1044.9 619.8Z" fill="none" stroke="#000" stroke-width="3.5"/></g>
<path d="M716.9 328.5 L721.3 327.7 L725.7 326.9 L730.1 326.2 L734.5 325.7 L739.0 325.2 L743.4 324.8 L747.9 324.5 L752.4 324.4 L756.9 324.3 L761.4 324.3 L765.9 324.4 L770.3 324.6 L774.8 324.9 L779.3 325.3 L783.8 325.8 L788.3 326.4 L792.8 327.0 L797.3 327.8 L801.8 328.7 L806.3 329.7 L810.7 330.7 L815.2 331.9 L819.6 333.1 L824.1 334.5 L828.5 335.9 L832.9 337.5 L837.3 339.1 L841.6 340.8 L846.0 342.6 L850.3 344.5 L854.6 346.5 L858.9 348.6 L863.1 350.8 L867.4 353.1 L871.6 355.4 L875.7 357.9 L879.9 360.4 L884.0 363.0 L888.1 365.8 L892.1 368.6 L896.1 371.4 L900.1 374.4 L904.1 377.4 L908.0 380.6 L911.8 383.8 L915.7 387.1 L919.4 390.5 L923.2 393.9 L926.9 397.4 L930.5 401.0 L934.1 404.7 L937.7 408.5 L941.2 412.3 L944.6 416.2 L948.0 420.2 L951.4 424.2 L954.7 428.3 L958.0 432.5 L961.1 436.7 L964.3 441.1 L967.4 445.4 L970.4 449.9 L973.4 454.4 L976.3 458.9 L979.1 463.5 L981.9 468.2 L984.6 472.9 L987.3 477.7 L989.9 482.5 L992.4 487.4 L994.8 492.4 L997.2 497.4 L999.6 502.4 L1001.8 507.5 L1004.0 512.6 L1006.2 517.7 L1008.2 523.0 L1010.2 528.2 L1012.1 533.5 L1014.0 538.8 L1015.7 544.1 L1017.4 549.5 L1019.0 554.9 L1020.6 560.4 L1022.1 565.9 L1023.5 571.4 L1024.8 576.9 L1026.0 582.4 L1027.2 588.0 L1028.3 593.6 L1029.3 599.2 L1030.3 604.8 L1031.1 610.5 L1031.9 616.1 L1032.6 621.8 L1033.3 627.4 L1033.8 633.1 L1034.3 638.8 L1034.7 644.5 L1035.0 650.2 L1035.3 655.9 L1035.4 661.5 L1035.5 667.2 L1035.5 672.9 L1035.4 678.6 L1035.3 684.2 L1035.1 689.9 L1034.7 695.5 L1034.4 701.2 L1033.9 706.8 L1033.3 712.4 L1032.7 718.0 L1032.0 723.5 L1031.2 729.1 L1030.4 734.6 L1029.4 740.1 L1028.4 745.5 L1027.3 751.0 L1026.2 756.4 L1024.9 761.8 L1023.6 767.1 L1022.2 772.4 L1020.8 777.7 L1019.2 782.9 L1017.6 788.1 L1015.9 793.2 L1014.2 798.3 L1012.3 803.4 L1010.4 808.4 L1008.5 813.4 L1006.4 818.3 L1004.3 823.2 L1002.1 828.0 L999.9 832.8 L997.6 837.5 L995.2 842.1 L992.7 846.7 L990.2 851.3 L987.7 855.7 L985.0 860.2 L982.3 864.5 L979.5 868.8 L976.7 873.0 L973.8 877.2 L970.9 881.3 L967.9 885.3 L964.8 889.3 L961.7 893.1 L958.5 896.9 L955.3 900.7 L952.0 904.3 L948.7 907.9 L945.3 911.4 L941.8 914.9 L938.4 918.2 L934.8 921.5 L931.2 924.7 L927.6 927.8 L923.9 930.8 L920.2 933.8 L916.5 936.6 L912.7 939.4 L908.8 942.1 L904.9 944.7 L901.0 947.2 L897.1 949.7 L893.1 952.0 L889.0 954.3 L885.0 956.4 L880.9 958.5 L876.8 960.5 L872.6 962.4 L868.4 964.2 L864.2 965.9 L860.0 967.5 L855.7 969.0 L851.4 970.4 L847.1 971.8 L842.8 973.0 L838.5 974.2 L834.1 975.2 L829.7 976.2 L825.3 977.0 L820.9 977.8 L816.5 978.5 L812.1 979.0 L807.6 979.5 L803.2 979.9 L798.7 980.2 L794.2 980.4 L789.8 980.5 L785.3 980.5 L780.8 980.4 L776.3 980.2 L771.9 979.9 L767.4 979.5 L762.9 979.1 L758.4 978.5 L754.0 977.8" fill="none" stroke="#000" stroke-width="3.2"/>
<path d="M754.0 977.8 L750.2 977.2 L746.4 976.5 L742.7 975.7 L738.9 974.9 L735.2 974.0 L731.4 973.0 L727.7 971.9 L724.0 970.8 L720.3 969.7 L716.6 968.4 L712.9 967.1 L709.2 965.8 L705.6 964.3 L701.9 962.8 L698.3 961.3 L694.7 959.7 L691.1 958.0 L687.5 956.2 L684.0 954.4 L680.4 952.5 L676.9 950.6 L673.4 948.6 L669.9 946.5 L666.5 944.4 L663.0 942.2 L659.6 940.0 L656.2 937.7 L652.9 935.3 L649.5 932.9 L646.2 930.5 L642.9 927.9 L639.7 925.3 L636.5 922.7 L633.3 920.0 L630.1 917.3 L626.9 914.5 L623.8 911.6 L620.8 908.7 L617.7 905.7 L614.7 902.7 L611.7 899.6 L608.8 896.5 L605.9 893.4 L603.0 890.1 L600.1 886.9 L597.3 883.6 L594.6 880.2 L591.8 876.8 L589.1 873.4 L586.5 869.9 L583.8 866.3 L581.3 862.8 L578.7 859.1 L576.2 855.5 L573.8 851.8 L571.3 848.0 L569.0 844.2 L566.6 840.4 L564.3 836.5 L562.1 832.6 L559.9 828.7 L557.7 824.7 L555.6 820.7 L553.5 816.7 L551.5 812.6 L549.5 808.5 L547.6 804.3 L545.7 800.2 L543.8 796.0 L542.0 791.7 L540.3 787.5 L538.6 783.2 L536.9 778.9 L535.3 774.5 L533.7 770.2 L532.2 765.8 L530.8 761.4 L529.3 757.0 L528.0 752.5 L526.7 748.0 L525.4 743.5 L524.2 739.0 L523.0 734.5 L521.9 730.0 L520.9 725.4 L519.9 720.8 L518.9 716.2 L518.0 711.6 L517.2 707.0 L516.4 702.4 L515.6 697.8 L514.9 693.1 L514.3 688.5 L513.7 683.8 L513.1 679.2 L512.7 674.5 L512.2 669.8 L511.9 665.1 L511.5 660.5 L511.3 655.8 L511.0 651.1 L510.9 646.4 L510.8 641.7 L510.7 637.0 L510.7 632.4 L510.8 627.7 L510.9 623.0 L511.0 618.4 L511.2 613.7 L511.5 609.1 L511.8 604.4 L512.2 599.8 L512.6 595.2 L513.1 590.6 L513.6 586.0 L514.2 581.4 L514.8 576.8 L515.5 572.3 L516.3 567.7 L517.1 563.2 L517.9 558.7 L518.8 554.2 L519.7 549.7 L520.7 545.3 L521.8 540.9 L522.9 536.5 L524.1 532.1 L525.3 527.8 L526.5 523.4 L527.8 519.1 L529.2 514.9 L530.6 510.6 L532.1 506.4 L533.6 502.2 L535.1 498.0 L536.7 493.9 L538.4 489.8 L540.1 485.8 L541.8 481.7 L543.6 477.7 L545.5 473.8 L547.4 469.9 L549.3 466.0 L551.3 462.1 L553.3 458.3 L555.4 454.5 L557.5 450.8 L559.7 447.1 L561.9 443.5 L564.2 439.9 L566.5 436.3 L568.8 432.8 L571.2 429.3 L573.6 425.9 L576.1 422.5 L578.6 419.2 L581.1 415.9 L583.7 412.7 L586.3 409.5 L589.0 406.3 L591.7 403.2 L594.4 400.2 L597.2 397.2 L600.0 394.3 L602.9 391.4 L605.8 388.6 L608.7 385.8 L611.7 383.1 L614.6 380.4 L617.7 377.8 L620.7 375.2 L623.8 372.7 L626.9 370.3 L630.1 367.9 L633.3 365.6 L636.5 363.3 L639.7 361.1 L643.0 359.0 L646.3 356.9 L649.6 354.9 L652.9 352.9 L656.3 351.0 L659.7 349.2 L663.1 347.4 L666.6 345.7 L670.1 344.0 L673.5 342.4 L677.1 340.9 L680.6 339.5 L684.1 338.1 L687.7 336.7 L691.3 335.5 L694.9 334.3 L698.5 333.2 L702.2 332.1 L705.8 331.1 L709.5 330.2 L713.2 329.3 L716.9 328.5" fill="none" stroke="#000" stroke-width="1"/>
<line x1="208.0" y1="301.4" x2="752.0" y2="243.2" stroke="#000" stroke-width="2.2"/>
<line x1="301.6" y1="1126.3" x2="816.0" y2="1058.0" stroke="#000" stroke-width="2.2"/>
<line x1="233.4" y1="303.0" x2="324.6" y2="1119.0" stroke="#000" stroke-width="2.2"/>
<polygon points="233.2,302.5 229.6,362.6 250.0,360.4" fill="#000"/>
<polygon points="324.6,1119.4 328.2,1059.3 307.8,1061.5" fill="#000"/>
<line x1="345.0" y1="385.0" x2="640.0" y2="352.0" stroke="#000" stroke-width="2.2"/>
<line x1="417.5" y1="1010.5" x2="752.0" y2="965.5" stroke="#000" stroke-width="2.2"/>
<line x1="369.4" y1="385.0" x2="433.7" y2="1000.0" stroke="#000" stroke-width="2.2"/>
<polygon points="369.4,384.2 365.8,444.3 386.2,442.1" fill="#000"/>
<polygon points="433.7,1000.6 437.3,940.5 416.9,942.7" fill="#000"/>
<line x1="742.7" y1="139.3" x2="752.9" y2="242.4" stroke="#000" stroke-width="2.2"/>
<line x1="1222.4" y1="101.9" x2="1235.4" y2="202.5" stroke="#000" stroke-width="2.2"/>
<line x1="742.7" y1="161.9" x2="1220.6" y2="122.0" stroke="#000" stroke-width="2.2"/>
<polygon points="742.7,161.9 802.8,167.3 801.2,146.7" fill="#000"/>
<polygon points="1220.6,122.0 1160.4,116.7 1162.2,137.3" fill="#000"/>
<text x="943" y="125" class="t">C</text>
<text x="201" y="750" class="t">D</text>
<text x="294" y="750" class="t">F</text>
<text x="345" y="760" class="t" style="font-size:66px;stroke-width:1.4px">w</text>
</svg></body></html>
